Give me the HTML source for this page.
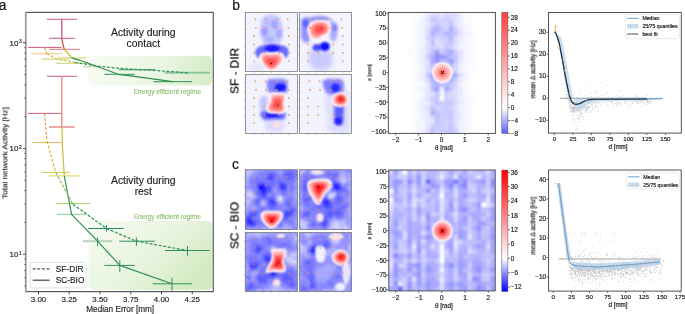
<!DOCTYPE html>
<html><head><meta charset="utf-8"><style>
html,body{margin:0;padding:0;background:#fff;}
body{width:685px;height:314px;overflow:hidden;}
svg{display:block;font-family:"Liberation Sans",sans-serif;}
text{filter:url(#tb);}
text.s{filter:url(#ts);}
</style></head><body>
<svg xmlns="http://www.w3.org/2000/svg" width="685" height="314" viewBox="0 0 685 314">
<defs><filter id="tb" x="-20%" y="-50%" width="140%" height="200%"><feGaussianBlur stdDeviation="0.25"/></filter><filter id="ts" x="-20%" y="-50%" width="140%" height="200%"><feGaussianBlur stdDeviation="0.12"/></filter></defs>
<defs>
<linearGradient id="gbox1" x1="0" y1="0" x2="1" y2="0"><stop offset="0" stop-color="#f7fbf3"/><stop offset="0.6" stop-color="#eaf5e2"/><stop offset="1" stop-color="#d6ecc6"/></linearGradient>
<linearGradient id="gbox2" x1="0" y1="0" x2="1" y2="0.6"><stop offset="0" stop-color="#f6fbf2"/><stop offset="0.6" stop-color="#e8f4df"/><stop offset="1" stop-color="#d4eac2"/></linearGradient>
<filter id="b0_5" x="-50%" y="-50%" width="200%" height="200%"><feGaussianBlur stdDeviation="0.5"/></filter>
<filter id="b0_6" x="-50%" y="-50%" width="200%" height="200%"><feGaussianBlur stdDeviation="0.6"/></filter>
<filter id="b0_8" x="-50%" y="-50%" width="200%" height="200%"><feGaussianBlur stdDeviation="0.8"/></filter>
<filter id="b1" x="-50%" y="-50%" width="200%" height="200%"><feGaussianBlur stdDeviation="1"/></filter>
<filter id="b1_2" x="-50%" y="-50%" width="200%" height="200%"><feGaussianBlur stdDeviation="1.2"/></filter>
<filter id="b1_3" x="-50%" y="-50%" width="200%" height="200%"><feGaussianBlur stdDeviation="1.3"/></filter>
<filter id="b1_5" x="-50%" y="-50%" width="200%" height="200%"><feGaussianBlur stdDeviation="1.5"/></filter>
<filter id="b1_8" x="-50%" y="-50%" width="200%" height="200%"><feGaussianBlur stdDeviation="1.8"/></filter>
<filter id="b2" x="-50%" y="-50%" width="200%" height="200%"><feGaussianBlur stdDeviation="2"/></filter>
<filter id="b2_5" x="-50%" y="-50%" width="200%" height="200%"><feGaussianBlur stdDeviation="2.5"/></filter>
<filter id="b3" x="-50%" y="-50%" width="200%" height="200%"><feGaussianBlur stdDeviation="3"/></filter>
<filter id="b4" x="-50%" y="-50%" width="200%" height="200%"><feGaussianBlur stdDeviation="4"/></filter>
<filter id="b6" x="-50%" y="-50%" width="200%" height="200%"><feGaussianBlur stdDeviation="6"/></filter>
<linearGradient id="cbar1" x1="0" y1="1" x2="0" y2="0"><stop offset="0" stop-color="#5d5dff"/><stop offset="0.211" stop-color="#ffffff"/><stop offset="1" stop-color="#ff3f3f"/></linearGradient>
<linearGradient id="cbar2" x1="0" y1="1" x2="0" y2="0"><stop offset="0" stop-color="#0000ff"/><stop offset="0.275" stop-color="#ffffff"/><stop offset="1" stop-color="#ff0000"/></linearGradient>
<radialGradient id="redblob"><stop offset="0" stop-color="#ff3434"/><stop offset="0.15" stop-color="#ff6262"/><stop offset="0.4" stop-color="#ff9c9c"/><stop offset="0.7" stop-color="#ffc8c8"/><stop offset="0.9" stop-color="#ffeaea"/><stop offset="1" stop-color="#ffffff" stop-opacity="0"/></radialGradient>
<radialGradient id="redblob2"><stop offset="0" stop-color="#ff0c0c"/><stop offset="0.2" stop-color="#ff3434"/><stop offset="0.45" stop-color="#ff7474"/><stop offset="0.7" stop-color="#ffb2b2"/><stop offset="0.88" stop-color="#ffe2e2"/><stop offset="1" stop-color="#ffffff" stop-opacity="0"/></radialGradient>
</defs>
<rect width="685" height="314" fill="#fff"/>
<text x="-1.30" y="9.90" font-size="13.8" text-anchor="start" fill="#111" stroke="#111" stroke-width="0.15" >a</text>
<rect x="88.3" y="55.8" width="123.7" height="29.7" rx="5" fill="url(#gbox1)"/>
<rect x="88.5" y="220.8" width="123.9" height="69.2" rx="5" fill="url(#gbox2)"/>
<text class="s" x="167.30" y="94.20" font-size="6.58" text-anchor="middle" fill="#8fc373" stroke="#8fc373" stroke-width="0.15" >Energy efficient regime</text>
<text class="s" x="167.30" y="218.90" font-size="6.58" text-anchor="middle" fill="#8fc373" stroke="#8fc373" stroke-width="0.15" >Energy efficient regime</text>
<text x="143.30" y="35.80" font-size="10.4" text-anchor="middle" fill="#222" stroke="#222" stroke-width="0.15" >Activity during</text>
<text x="143.30" y="46.90" font-size="10.4" text-anchor="middle" fill="#222" stroke="#222" stroke-width="0.15" >contact</text>
<text x="143.30" y="183.80" font-size="10.4" text-anchor="middle" fill="#222" stroke="#222" stroke-width="0.15" >Activity during</text>
<text x="143.30" y="195.10" font-size="10.4" text-anchor="middle" fill="#222" stroke="#222" stroke-width="0.15" >rest</text>
<line x1="47.00" y1="19.30" x2="77.00" y2="19.30" stroke="#d2587a" stroke-width="1" />
<line x1="49.00" y1="38.30" x2="74.80" y2="38.30" stroke="#d2587a" stroke-width="1" />
<line x1="28.00" y1="47.40" x2="61.40" y2="47.40" stroke="#d2587a" stroke-width="1" />
<line x1="49.00" y1="49.30" x2="79.90" y2="49.30" stroke="#e27a7a" stroke-width="1" />
<line x1="31.50" y1="53.60" x2="62.70" y2="53.60" stroke="#f3d6a6" stroke-width="1.5" />
<line x1="57.00" y1="57.80" x2="86.50" y2="57.80" stroke="#e8e5a8" stroke-width="2" />
<line x1="41.70" y1="59.10" x2="69.70" y2="59.10" stroke="#dcd890" stroke-width="1.3" />
<line x1="56.00" y1="63.30" x2="88.80" y2="63.30" stroke="#c6d66e" stroke-width="1" />
<line x1="83.00" y1="66.70" x2="100.00" y2="66.70" stroke="#c6e2b0" stroke-width="1.5" />
<line x1="118.90" y1="69.80" x2="155.20" y2="69.80" stroke="#2f8f5a" stroke-width="1" />
<line x1="164.80" y1="72.80" x2="210.00" y2="72.80" stroke="#8ec7a2" stroke-width="2" />
<line x1="104.20" y1="74.30" x2="134.80" y2="74.30" stroke="#2f8f5a" stroke-width="1" />
<line x1="153.40" y1="81.70" x2="192.20" y2="81.70" stroke="#2f8f5a" stroke-width="1" />
<line x1="47.00" y1="76.30" x2="77.00" y2="76.30" stroke="#d2587a" stroke-width="1" />
<line x1="28.00" y1="113.40" x2="62.00" y2="113.40" stroke="#d2587a" stroke-width="1" />
<line x1="49.00" y1="127.00" x2="74.80" y2="127.00" stroke="#efaaaa" stroke-width="2" />
<line x1="31.50" y1="142.50" x2="62.00" y2="142.50" stroke="#efb563" stroke-width="1" />
<line x1="41.70" y1="172.40" x2="69.70" y2="172.40" stroke="#d3c44c" stroke-width="1" />
<line x1="49.00" y1="175.80" x2="79.90" y2="175.80" stroke="#ebe7aa" stroke-width="2" />
<line x1="56.00" y1="203.60" x2="90.00" y2="203.60" stroke="#a6cf6c" stroke-width="1" />
<line x1="57.00" y1="214.40" x2="86.20" y2="214.40" stroke="#a4d6ac" stroke-width="1.3" />
<line x1="88.00" y1="228.50" x2="123.70" y2="228.50" stroke="#2f8f5a" stroke-width="1" />
<line x1="83.00" y1="241.20" x2="112.20" y2="241.20" stroke="#b4d4bc" stroke-width="2" />
<line x1="119.20" y1="241.20" x2="154.80" y2="241.20" stroke="#2f8f5a" stroke-width="1" />
<line x1="165.00" y1="250.50" x2="209.70" y2="250.50" stroke="#2f8f5a" stroke-width="1" />
<line x1="104.30" y1="265.40" x2="134.90" y2="265.40" stroke="#2f8f5a" stroke-width="1" />
<line x1="152.80" y1="283.80" x2="192.20" y2="283.80" stroke="#2f8f5a" stroke-width="1" />
<line x1="61.80" y1="19.30" x2="61.80" y2="38.30" stroke="#d04f6a" stroke-width="1.3" />
<line x1="61.80" y1="76.30" x2="61.80" y2="127.00" stroke="#ea9a96" stroke-width="1.6" />
<line x1="106.50" y1="225.30" x2="106.50" y2="231.70" stroke="#2f8f5a" stroke-width="1" />
<line x1="97.60" y1="237.40" x2="97.60" y2="246.30" stroke="#2f8f5a" stroke-width="1" />
<line x1="136.40" y1="237.50" x2="136.40" y2="246.00" stroke="#2f8f5a" stroke-width="1" />
<line x1="187.50" y1="246.10" x2="187.50" y2="255.80" stroke="#2f8f5a" stroke-width="1" />
<line x1="119.80" y1="260.10" x2="119.80" y2="272.10" stroke="#2f8f5a" stroke-width="1" />
<line x1="172.00" y1="277.70" x2="172.00" y2="290.80" stroke="#2f8f5a" stroke-width="1" />
<polyline points="61.80,38.30 62.60,43.00 64.30,49.30" fill="none" stroke="#d04848" stroke-width="1.2" stroke-linejoin="round" />
<polyline points="64.30,49.30 68.00,53.50 71.60,57.80" fill="none" stroke="#c8b820" stroke-width="1.2" stroke-linejoin="round" />
<polyline points="71.60,57.80 80.00,60.30 100.00,67.50 118.20,74.30 140.00,77.20 172.50,81.70" fill="none" stroke="#2e9050" stroke-width="1.2" stroke-linejoin="round" />
<polyline points="44.50,47.40 45.60,50.50 46.80,53.40" fill="none" stroke="#e0a040" stroke-width="1.2" stroke-linejoin="round" stroke-dasharray="3,1.6"/>
<polyline points="46.80,53.40 57.00,59.40 75.00,62.50" fill="none" stroke="#c8c030" stroke-width="1.2" stroke-linejoin="round" stroke-dasharray="3,1.6"/>
<polyline points="75.00,62.50 97.80,66.00 122.00,68.60 155.20,70.50 187.80,72.80" fill="none" stroke="#2e9050" stroke-width="1.2" stroke-linejoin="round" stroke-dasharray="3,1.6"/>
<polyline points="62.00,127.00 62.40,145.00 64.30,176.00" fill="none" stroke="#c8c030" stroke-width="1.2" stroke-linejoin="round" />
<polyline points="64.30,176.00 71.60,214.40 97.60,241.20 119.80,265.40 172.00,283.80" fill="none" stroke="#2e9050" stroke-width="1.2" stroke-linejoin="round" />
<polyline points="44.50,113.40 47.00,141.20" fill="none" stroke="#e0a040" stroke-width="1.2" stroke-linejoin="round" stroke-dasharray="3,1.6"/>
<polyline points="47.00,141.20 55.70,172.40" fill="none" stroke="#c8c030" stroke-width="1.2" stroke-linejoin="round" stroke-dasharray="3,1.6"/>
<polyline points="55.70,172.40 72.90,204.20" fill="none" stroke="#88c050" stroke-width="1.2" stroke-linejoin="round" stroke-dasharray="3,1.6"/>
<polyline points="72.90,204.20 106.50,228.50 136.40,241.20 187.50,250.50" fill="none" stroke="#2e9050" stroke-width="1.2" stroke-linejoin="round" stroke-dasharray="3,1.6"/>
<rect x="25.7" y="12.3" width="187.5" height="279.4" fill="none" stroke="#222" stroke-width="0.9"/>
<line x1="25.70" y1="12.00" x2="25.70" y2="292.20" stroke="#999" stroke-width="1.6" />
<line x1="23.00" y1="254.20" x2="25.70" y2="254.20" stroke="#222" stroke-width="0.8" />
<line x1="23.00" y1="148.50" x2="25.70" y2="148.50" stroke="#222" stroke-width="0.8" />
<line x1="23.00" y1="42.80" x2="25.70" y2="42.80" stroke="#222" stroke-width="0.8" />
<line x1="24.20" y1="286.02" x2="25.70" y2="286.02" stroke="#222" stroke-width="0.6" />
<line x1="24.20" y1="277.65" x2="25.70" y2="277.65" stroke="#222" stroke-width="0.6" />
<line x1="24.20" y1="270.57" x2="25.70" y2="270.57" stroke="#222" stroke-width="0.6" />
<line x1="24.20" y1="264.44" x2="25.70" y2="264.44" stroke="#222" stroke-width="0.6" />
<line x1="24.20" y1="259.04" x2="25.70" y2="259.04" stroke="#222" stroke-width="0.6" />
<line x1="24.20" y1="222.38" x2="25.70" y2="222.38" stroke="#222" stroke-width="0.6" />
<line x1="24.20" y1="203.77" x2="25.70" y2="203.77" stroke="#222" stroke-width="0.6" />
<line x1="24.20" y1="190.56" x2="25.70" y2="190.56" stroke="#222" stroke-width="0.6" />
<line x1="24.20" y1="180.32" x2="25.70" y2="180.32" stroke="#222" stroke-width="0.6" />
<line x1="24.20" y1="171.95" x2="25.70" y2="171.95" stroke="#222" stroke-width="0.6" />
<line x1="24.20" y1="164.87" x2="25.70" y2="164.87" stroke="#222" stroke-width="0.6" />
<line x1="24.20" y1="158.74" x2="25.70" y2="158.74" stroke="#222" stroke-width="0.6" />
<line x1="24.20" y1="153.34" x2="25.70" y2="153.34" stroke="#222" stroke-width="0.6" />
<line x1="24.20" y1="116.68" x2="25.70" y2="116.68" stroke="#222" stroke-width="0.6" />
<line x1="24.20" y1="98.07" x2="25.70" y2="98.07" stroke="#222" stroke-width="0.6" />
<line x1="24.20" y1="84.86" x2="25.70" y2="84.86" stroke="#222" stroke-width="0.6" />
<line x1="24.20" y1="74.62" x2="25.70" y2="74.62" stroke="#222" stroke-width="0.6" />
<line x1="24.20" y1="66.25" x2="25.70" y2="66.25" stroke="#222" stroke-width="0.6" />
<line x1="24.20" y1="59.17" x2="25.70" y2="59.17" stroke="#222" stroke-width="0.6" />
<line x1="24.20" y1="53.04" x2="25.70" y2="53.04" stroke="#222" stroke-width="0.6" />
<line x1="24.20" y1="47.64" x2="25.70" y2="47.64" stroke="#222" stroke-width="0.6" />
<text x="18.30" y="45.70" font-size="7.9" text-anchor="end" fill="#222" stroke="#222" stroke-width="0.15" >10</text>
<text class="s" x="18.90" y="43.10" font-size="5.0" text-anchor="start" fill="#222" stroke="#222" stroke-width="0.15" >3</text>
<text x="18.30" y="151.40" font-size="7.9" text-anchor="end" fill="#222" stroke="#222" stroke-width="0.15" >10</text>
<text class="s" x="18.90" y="148.80" font-size="5.0" text-anchor="start" fill="#222" stroke="#222" stroke-width="0.15" >2</text>
<text x="18.30" y="257.10" font-size="7.9" text-anchor="end" fill="#222" stroke="#222" stroke-width="0.15" >10</text>
<text class="s" x="18.90" y="254.50" font-size="5.0" text-anchor="start" fill="#222" stroke="#222" stroke-width="0.15" >1</text>
<line x1="38.50" y1="291.70" x2="38.50" y2="294.40" stroke="#222" stroke-width="0.8" />
<text x="38.50" y="302.10" font-size="7.9" text-anchor="middle" fill="#222" stroke="#222" stroke-width="0.15" >3.00</text>
<line x1="69.25" y1="291.70" x2="69.25" y2="294.40" stroke="#222" stroke-width="0.8" />
<text x="69.25" y="302.10" font-size="7.9" text-anchor="middle" fill="#222" stroke="#222" stroke-width="0.15" >3.25</text>
<line x1="100.00" y1="291.70" x2="100.00" y2="294.40" stroke="#222" stroke-width="0.8" />
<text x="100.00" y="302.10" font-size="7.9" text-anchor="middle" fill="#222" stroke="#222" stroke-width="0.15" >3.50</text>
<line x1="130.75" y1="291.70" x2="130.75" y2="294.40" stroke="#222" stroke-width="0.8" />
<text x="130.75" y="302.10" font-size="7.9" text-anchor="middle" fill="#222" stroke="#222" stroke-width="0.15" >3.75</text>
<line x1="161.50" y1="291.70" x2="161.50" y2="294.40" stroke="#222" stroke-width="0.8" />
<text x="161.50" y="302.10" font-size="7.9" text-anchor="middle" fill="#222" stroke="#222" stroke-width="0.15" >4.00</text>
<line x1="192.25" y1="291.70" x2="192.25" y2="294.40" stroke="#222" stroke-width="0.8" />
<text x="192.25" y="302.10" font-size="7.9" text-anchor="middle" fill="#222" stroke="#222" stroke-width="0.15" >4.25</text>
<text x="120.20" y="312.00" font-size="8.2" text-anchor="middle" fill="#222" stroke="#222" stroke-width="0.15" >Median Error [mm]</text>
<text x="0" y="0" font-size="8.1" text-anchor="middle" fill="#222" stroke="#222" stroke-width="0.15" transform="translate(7.4,153.1) rotate(-90)">Total network Activity [Hz]</text>
<rect x="30.2" y="262.4" width="56" height="25.5" rx="2" fill="#fff" fill-opacity="0.85" stroke="#d8d8d8" stroke-width="0.8"/>
<line x1="32.70" y1="268.80" x2="49.60" y2="268.80" stroke="#555" stroke-width="1.2" stroke-dasharray="3,1.6"/>
<line x1="32.70" y1="280.20" x2="49.60" y2="280.20" stroke="#444" stroke-width="1.2" />
<text x="55.80" y="272.10" font-size="8.3" text-anchor="start" fill="#222" stroke="#222" stroke-width="0.15" >SF-DIR</text>
<text x="55.80" y="283.10" font-size="8.3" text-anchor="start" fill="#222" stroke="#222" stroke-width="0.15" >SC-BIO</text>
<text x="232.30" y="9.90" font-size="13.8" text-anchor="start" fill="#111" stroke="#111" stroke-width="0.15" >b</text>
<text x="231.90" y="168.60" font-size="13.8" text-anchor="start" fill="#111" stroke="#111" stroke-width="0.15" >c</text>
<text class="s" font-size="11.8" text-anchor="middle" fill="#111" stroke="#111" stroke-width="0.3" transform="translate(238.4,70.9) rotate(-90)">SF - DIR</text>
<text class="s" font-size="11.8" text-anchor="middle" fill="#111" stroke="#111" stroke-width="0.3" transform="translate(238.4,225.5) rotate(-90)">SC - BIO</text>
<clipPath id="tc1"><rect x="0" y="0" width="52" height="59"/></clipPath>
<g transform="translate(245.5,12.5)"><g clip-path="url(#tc1)">
<rect width="52" height="59" fill="#f3f3ff"/>
<path d="M17.00,5.00 C18.50,3.33 21.33,2.17 24.00,2.00 C26.67,1.83 30.83,2.00 33.00,4.00 C35.17,6.00 36.50,10.00 37.00,14.00 C37.50,18.00 37.17,24.83 36.00,28.00 C34.83,31.17 32.67,32.17 30.00,33.00 C27.33,33.83 22.50,34.50 20.00,33.00 C17.50,31.50 15.83,27.50 15.00,24.00 C14.17,20.50 14.67,15.17 15.00,12.00 C15.33,8.83 15.50,6.67 17.00,5.00Z" fill="#c8c8ff" filter="url(#b1_5)"/>
<ellipse cx="19.1" cy="19.1" rx="3.5" ry="4.5" fill="#9e9eff" fill-opacity="1" filter="url(#b1_2)"/>
<ellipse cx="28.7" cy="11.5" rx="3.5" ry="4.5" fill="#a4a4ff" fill-opacity="1" filter="url(#b1_2)"/>
<ellipse cx="33.5" cy="21" rx="3" ry="4.5" fill="#a8a8ff" fill-opacity="1" filter="url(#b1_2)"/>
<ellipse cx="24" cy="27" rx="4.5" ry="3.5" fill="#b0b0ff" fill-opacity="1" filter="url(#b1_2)"/>
<ellipse cx="22" cy="10" rx="3" ry="3" fill="#b8b8ff" fill-opacity="1" filter="url(#b1_2)"/>
<ellipse cx="12" cy="54" rx="9" ry="4" fill="#e3e3ff" fill-opacity="1" filter="url(#b2)"/>
<path d="M10.00,38.00 C10.50,36.33 12.33,34.92 14.00,34.00 C15.67,33.08 17.83,32.83 20.00,32.50 C22.17,32.17 24.67,32.00 27.00,32.00 C29.33,32.00 31.83,32.17 34.00,32.50 C36.17,32.83 38.50,33.08 40.00,34.00 C41.50,34.92 42.67,36.33 43.00,38.00 C43.33,39.67 42.67,42.83 42.00,44.00 C41.33,45.17 40.00,45.50 39.00,45.00 C38.00,44.50 38.00,41.83 36.00,41.00 C34.00,40.17 30.00,40.00 27.00,40.00 C24.00,40.00 20.00,40.17 18.00,41.00 C16.00,41.83 16.17,44.50 15.00,45.00 C13.83,45.50 11.83,45.17 11.00,44.00 C10.17,42.83 9.50,39.67 10.00,38.00Z" fill="#6a6aff" filter="url(#b1_3)"/>
<ellipse cx="26.8" cy="35.9" rx="7.6" ry="3.5" fill="#1414ff" fill-opacity="1" filter="url(#b1)"/>
<path d="M14.52,42.22 C15.36,41.21 17.20,40.38 19.12,40.15 C21.03,39.92 23.72,40.88 26.02,40.84 C28.32,40.80 30.90,39.60 32.92,39.92 C34.93,40.25 37.23,41.55 38.09,42.80 C38.95,44.04 38.76,45.58 38.09,47.40 C37.42,49.22 35.50,52.00 34.07,53.72 C32.63,55.45 30.81,56.92 29.47,57.75 C28.13,58.57 27.36,58.86 26.02,58.67 C24.68,58.47 22.95,57.71 21.42,56.60 C19.88,55.48 18.04,53.72 16.82,52.00 C15.59,50.27 14.44,47.88 14.06,46.25 C13.67,44.62 13.67,43.24 14.52,42.22Z" fill="#fbfbff" filter="url(#b1)"/>
<path d="M16.00,43.00 C16.73,42.12 18.33,41.40 20.00,41.20 C21.67,41.00 24.00,41.83 26.00,41.80 C28.00,41.77 30.25,40.72 32.00,41.00 C33.75,41.28 35.75,42.42 36.50,43.50 C37.25,44.58 37.08,45.92 36.50,47.50 C35.92,49.08 34.25,51.50 33.00,53.00 C31.75,54.50 30.17,55.78 29.00,56.50 C27.83,57.22 27.17,57.47 26.00,57.30 C24.83,57.13 23.33,56.47 22.00,55.50 C20.67,54.53 19.07,53.00 18.00,51.50 C16.93,50.00 15.93,47.92 15.60,46.50 C15.27,45.08 15.27,43.88 16.00,43.00Z" fill="#ffdada" filter="url(#b0_8)"/>
<path d="M16.98,43.72 C17.64,42.92 19.08,42.28 20.58,42.10 C22.08,41.92 24.18,42.67 25.98,42.64 C27.78,42.61 29.81,41.66 31.38,41.92 C32.96,42.17 34.76,43.19 35.43,44.17 C36.11,45.14 35.96,46.34 35.43,47.77 C34.91,49.19 33.41,51.37 32.28,52.72 C31.16,54.07 29.73,55.22 28.68,55.87 C27.63,56.51 27.03,56.74 25.98,56.59 C24.93,56.44 23.58,55.84 22.38,54.97 C21.18,54.10 19.74,52.72 18.78,51.37 C17.82,50.02 16.92,48.14 16.62,46.87 C16.32,45.59 16.32,44.51 16.98,43.72Z" fill="#ffacac" filter="url(#b1)"/>
<path d="M18.55,44.86 C19.10,44.21 20.28,43.68 21.51,43.53 C22.75,43.38 24.47,44.00 25.95,43.97 C27.43,43.95 29.10,43.17 30.39,43.38 C31.69,43.59 33.17,44.43 33.72,45.23 C34.28,46.03 34.16,47.02 33.72,48.19 C33.29,49.36 32.06,51.15 31.13,52.26 C30.21,53.37 29.04,54.32 28.17,54.85 C27.31,55.38 26.82,55.57 25.95,55.44 C25.09,55.32 23.98,54.83 22.99,54.11 C22.01,53.40 20.82,52.26 20.03,51.15 C19.25,50.04 18.51,48.50 18.26,47.45 C18.01,46.40 18.01,45.51 18.55,44.86Z" fill="#ff8282" filter="url(#b1)"/>
<path d="M20.72,46.44 C21.10,45.98 21.93,45.60 22.80,45.50 C23.66,45.40 24.88,45.83 25.92,45.81 C26.96,45.79 28.13,45.25 29.04,45.40 C29.95,45.54 30.99,46.13 31.38,46.70 C31.77,47.26 31.68,47.95 31.38,48.78 C31.07,49.60 30.21,50.86 29.56,51.64 C28.91,52.42 28.08,53.08 27.48,53.46 C26.87,53.83 26.52,53.96 25.92,53.87 C25.31,53.78 24.53,53.44 23.84,52.94 C23.14,52.43 22.31,51.64 21.76,50.86 C21.20,50.08 20.68,48.99 20.51,48.26 C20.33,47.52 20.33,46.89 20.72,46.44Z" fill="#ff5e5e" filter="url(#b1)"/>
<path d="M22.88,48.01 C23.10,47.75 23.58,47.53 24.08,47.47 C24.58,47.41 25.28,47.66 25.88,47.65 C26.48,47.64 27.15,47.33 27.68,47.41 C28.20,47.50 28.80,47.84 29.03,48.16 C29.25,48.49 29.20,48.89 29.03,49.36 C28.85,49.84 28.35,50.56 27.98,51.01 C27.60,51.46 27.13,51.85 26.78,52.06 C26.43,52.28 26.23,52.35 25.88,52.30 C25.53,52.25 25.08,52.05 24.68,51.76 C24.28,51.47 23.80,51.01 23.48,50.56 C23.16,50.11 22.86,49.49 22.76,49.06 C22.66,48.64 22.66,48.28 22.88,48.01Z" fill="#ff4242" filter="url(#b1)"/>
<circle cx="25.8" cy="51" r="0.75" fill="#111"/>
<path d="M9.1,6.1h1.6v1.6h-1.6zM19.4,6.1h1.6v1.6h-1.6zM31.0,6.1h1.6v1.6h-1.6zM41.3,6.1h1.6v1.6h-1.6zM9.7,14.6h1.6v1.6h-1.6zM19.8,14.6h1.6v1.6h-1.6zM30.6,14.6h1.6v1.6h-1.6zM42.0,14.6h1.6v1.6h-1.6zM7.9,22.8h1.6v1.6h-1.6zM42.5,22.8h1.6v1.6h-1.6zM7.9,31.2h1.6v1.6h-1.6zM18.0,31.2h1.6v1.6h-1.6zM32.9,31.2h1.6v1.6h-1.6zM42.5,31.2h1.6v1.6h-1.6zM7.9,39.6h1.6v1.6h-1.6zM18.0,39.6h1.6v1.6h-1.6zM32.9,39.6h1.6v1.6h-1.6zM42.5,39.6h1.6v1.6h-1.6zM7.9,48.0h1.6v1.6h-1.6zM42.5,48.0h1.6v1.6h-1.6z" fill="#f2904a" fill-opacity="0.85"/>
</g>
<rect x="0" y="0" width="52" height="59" fill="none" stroke="#7a7a7a" stroke-width="0.8"/>
<path d="M8.7,59v1.3M0,8.4h-1.3M17.3,59v1.3M0,16.9h-1.3M26.0,59v1.3M0,25.3h-1.3M34.7,59v1.3M0,33.7h-1.3M43.3,59v1.3M0,42.1h-1.3" stroke="#777" stroke-width="0.5"/>
</g>
<clipPath id="tc2"><rect x="0" y="0" width="52" height="59"/></clipPath>
<g transform="translate(299.5,12.5)"><g clip-path="url(#tc2)">
<rect width="52" height="59" fill="#f3f3ff"/>
<path d="M11.00,38.00 C12.83,36.50 16.83,37.00 20.00,37.00 C23.17,37.00 27.83,36.50 30.00,38.00 C32.17,39.50 33.00,43.00 33.00,46.00 C33.00,49.00 32.17,54.00 30.00,56.00 C27.83,58.00 23.00,58.17 20.00,58.00 C17.00,57.83 13.83,57.00 12.00,55.00 C10.17,53.00 9.17,48.83 9.00,46.00 C8.83,43.17 9.17,39.50 11.00,38.00Z" fill="#cacaff" filter="url(#b2_5)"/>
<path d="M2.00,7.00 C3.25,5.17 7.67,3.50 9.00,5.00 C10.33,6.50 9.83,12.17 10.00,16.00 C10.17,19.83 10.67,25.67 10.00,28.00 C9.33,30.33 7.33,30.33 6.00,30.00 C4.67,29.67 2.75,28.33 2.00,26.00 C1.25,23.67 1.50,19.17 1.50,16.00 C1.50,12.83 0.75,8.83 2.00,7.00Z" fill="#8f8fff" filter="url(#b1_5)"/>
<ellipse cx="6.5" cy="11" rx="3" ry="4" fill="#6060ff" fill-opacity="1" filter="url(#b1_2)"/>
<path d="M9.00,6.00 C10.33,4.92 14.83,3.75 18.00,3.50 C21.17,3.25 26.00,3.75 28.00,4.50 C30.00,5.25 31.33,7.25 30.00,8.00 C28.67,8.75 23.33,8.67 20.00,9.00 C16.67,9.33 11.83,10.50 10.00,10.00 C8.17,9.50 7.67,7.08 9.00,6.00Z" fill="#8f8fff" filter="url(#b1_5)"/>
<path d="M30.00,10.00 C30.83,7.83 33.67,8.33 35.00,9.00 C36.33,9.67 37.67,11.17 38.00,14.00 C38.33,16.83 37.83,23.50 37.00,26.00 C36.17,28.50 34.17,29.67 33.00,29.00 C31.83,28.33 30.50,25.17 30.00,22.00 C29.50,18.83 29.17,12.17 30.00,10.00Z" fill="#a8a8ff" filter="url(#b1_5)"/>
<ellipse cx="35" cy="15.5" rx="2.5" ry="3" fill="#8181ff" fill-opacity="1" filter="url(#b1_2)"/>
<ellipse cx="17.5" cy="34.9" rx="4.5" ry="3.5" fill="#4c4cff" fill-opacity="1" filter="url(#b1_2)"/>
<ellipse cx="25.3" cy="33.9" rx="5" ry="4.5" fill="#0e0eff" fill-opacity="1" filter="url(#b1_2)"/>
<path d="M8.55,14.37 C9.47,12.36 11.67,9.94 14.07,8.85 C16.46,7.76 20.35,7.62 22.92,7.81 C25.49,8.01 28.02,8.72 29.48,10.00 C30.93,11.28 31.66,13.70 31.66,15.52 C31.66,17.34 30.93,19.47 29.48,20.92 C28.02,22.38 24.93,23.15 22.92,24.26 C20.91,25.37 19.24,27.23 17.40,27.59 C15.56,27.96 13.36,27.56 11.88,26.44 C10.41,25.33 9.10,22.94 8.55,20.92 C7.99,18.91 7.63,16.38 8.55,14.37Z" fill="#fbfbff" filter="url(#b1)"/>
<path d="M10.00,14.80 C10.80,13.05 12.72,10.95 14.80,10.00 C16.88,9.05 20.27,8.93 22.50,9.10 C24.73,9.27 26.93,9.88 28.20,11.00 C29.47,12.12 30.10,14.22 30.10,15.80 C30.10,17.38 29.47,19.23 28.20,20.50 C26.93,21.77 24.25,22.43 22.50,23.40 C20.75,24.37 19.30,25.98 17.70,26.30 C16.10,26.62 14.18,26.27 12.90,25.30 C11.62,24.33 10.48,22.25 10.00,20.50 C9.52,18.75 9.20,16.55 10.00,14.80Z" fill="#ffdada" filter="url(#b0_8)"/>
<path d="M11.06,14.96 C11.78,13.39 13.50,11.50 15.38,10.64 C17.25,9.79 20.30,9.68 22.31,9.83 C24.32,9.98 26.30,10.54 27.44,11.54 C28.58,12.55 29.15,14.44 29.15,15.86 C29.15,17.29 28.58,18.95 27.44,20.09 C26.30,21.23 23.88,21.83 22.31,22.70 C20.73,23.57 19.43,25.03 17.99,25.31 C16.55,25.60 14.82,25.28 13.67,24.41 C12.51,23.54 11.49,21.67 11.06,20.09 C10.62,18.52 10.34,16.54 11.06,14.96Z" fill="#ffacac" filter="url(#b1)"/>
<path d="M12.75,15.23 C13.35,13.93 14.77,12.38 16.31,11.67 C17.85,10.97 20.35,10.88 22.00,11.01 C23.66,11.13 25.29,11.59 26.22,12.41 C27.16,13.24 27.63,14.79 27.63,15.97 C27.63,17.14 27.16,18.51 26.22,19.44 C25.29,20.38 23.30,20.87 22.00,21.59 C20.71,22.30 19.64,23.50 18.45,23.74 C17.27,23.97 15.85,23.71 14.90,23.00 C13.95,22.28 13.11,20.74 12.75,19.44 C12.40,18.15 12.16,16.52 12.75,15.23Z" fill="#ff8282" filter="url(#b1)"/>
<path d="M15.09,15.58 C15.50,14.67 16.50,13.58 17.58,13.09 C18.66,12.59 20.42,12.53 21.59,12.62 C22.75,12.71 23.89,13.03 24.55,13.61 C25.21,14.19 25.54,15.28 25.54,16.10 C25.54,16.93 25.21,17.89 24.55,18.55 C23.89,19.21 22.50,19.55 21.59,20.06 C20.68,20.56 19.92,21.40 19.09,21.56 C18.26,21.73 17.26,21.55 16.59,21.04 C15.93,20.54 15.34,19.46 15.09,18.55 C14.83,17.64 14.67,16.49 15.09,15.58Z" fill="#ff5e5e" filter="url(#b1)"/>
<path d="M17.42,15.94 C17.66,15.42 18.23,14.79 18.86,14.50 C19.48,14.22 20.50,14.18 21.17,14.23 C21.84,14.28 22.50,14.47 22.88,14.80 C23.26,15.14 23.45,15.77 23.45,16.24 C23.45,16.72 23.26,17.27 22.88,17.65 C22.50,18.03 21.69,18.23 21.17,18.52 C20.64,18.81 20.21,19.30 19.73,19.39 C19.25,19.49 18.67,19.38 18.29,19.09 C17.90,18.80 17.56,18.18 17.42,17.65 C17.27,17.13 17.18,16.47 17.42,15.94Z" fill="#ff4242" filter="url(#b1)"/>
<circle cx="21.5" cy="15.2" r="0.75" fill="#111"/>
<path d="M9.1,6.1h1.6v1.6h-1.6zM19.4,6.1h1.6v1.6h-1.6zM31.0,6.1h1.6v1.6h-1.6zM41.3,6.1h1.6v1.6h-1.6zM9.7,14.6h1.6v1.6h-1.6zM19.8,14.6h1.6v1.6h-1.6zM30.6,14.6h1.6v1.6h-1.6zM42.0,14.6h1.6v1.6h-1.6zM7.9,22.8h1.6v1.6h-1.6zM42.5,22.8h1.6v1.6h-1.6zM7.9,31.2h1.6v1.6h-1.6zM18.0,31.2h1.6v1.6h-1.6zM32.9,31.2h1.6v1.6h-1.6zM42.5,31.2h1.6v1.6h-1.6zM7.9,39.6h1.6v1.6h-1.6zM18.0,39.6h1.6v1.6h-1.6zM32.9,39.6h1.6v1.6h-1.6zM42.5,39.6h1.6v1.6h-1.6zM7.9,48.0h1.6v1.6h-1.6zM42.5,48.0h1.6v1.6h-1.6z" fill="#f2904a" fill-opacity="0.85"/>
</g>
<rect x="0" y="0" width="52" height="59" fill="none" stroke="#7a7a7a" stroke-width="0.8"/>
<path d="M8.7,59v1.3M0,8.4h-1.3M17.3,59v1.3M0,16.9h-1.3M26.0,59v1.3M0,25.3h-1.3M34.7,59v1.3M0,33.7h-1.3M43.3,59v1.3M0,42.1h-1.3" stroke="#777" stroke-width="0.5"/>
</g>
<clipPath id="tc3"><rect x="0" y="0" width="52" height="59"/></clipPath>
<g transform="translate(245.5,74.5)"><g clip-path="url(#tc3)">
<rect width="52" height="59" fill="#f3f3ff"/>
<path d="M22.00,6.00 C23.17,3.92 27.00,4.67 30.00,4.50 C33.00,4.33 38.00,3.75 40.00,5.00 C42.00,6.25 42.00,9.67 42.00,12.00 C42.00,14.33 42.00,17.83 40.00,19.00 C38.00,20.17 32.83,19.33 30.00,19.00 C27.17,18.67 24.33,19.17 23.00,17.00 C21.67,14.83 20.83,8.08 22.00,6.00Z" fill="#8080ff" filter="url(#b1_5)"/>
<ellipse cx="34.9" cy="12.9" rx="5.5" ry="4" fill="#1414ff" fill-opacity="1" filter="url(#b1_2)"/>
<path d="M15.00,23.00 C16.33,21.67 20.67,20.50 22.00,22.00 C23.33,23.50 23.00,29.33 23.00,32.00 C23.00,34.67 23.17,37.17 22.00,38.00 C20.83,38.83 17.33,38.33 16.00,37.00 C14.67,35.67 14.17,32.33 14.00,30.00 C13.83,27.67 13.67,24.33 15.00,23.00Z" fill="#c7c7ff" filter="url(#b1_5)"/>
<path d="M15.00,38.00 C16.00,36.50 20.83,36.33 24.00,36.00 C27.17,35.67 31.33,35.50 34.00,36.00 C36.67,36.50 39.33,37.50 40.00,39.00 C40.67,40.50 40.00,43.67 38.00,45.00 C36.00,46.33 31.33,47.00 28.00,47.00 C24.67,47.00 20.17,46.50 18.00,45.00 C15.83,43.50 14.00,39.50 15.00,38.00Z" fill="#6464ff" filter="url(#b1_5)"/>
<ellipse cx="27.5" cy="40.6" rx="7.5" ry="3" fill="#1414ff" fill-opacity="1" filter="url(#b1_2)"/>
<path d="M22.00,46.00 C24.67,44.50 33.33,44.33 36.00,46.00 C38.67,47.67 39.33,54.00 38.00,56.00 C36.67,58.00 31.00,58.17 28.00,58.00 C25.00,57.83 21.00,57.00 20.00,55.00 C19.00,53.00 19.33,47.50 22.00,46.00Z" fill="#dadaff" filter="url(#b2)"/>
<ellipse cx="31.3" cy="50.2" rx="3.8" ry="3.2" fill="#fde0e0" fill-opacity="1" filter="url(#b1)"/>
<path d="M25.56,19.17 C27.03,17.89 30.88,18.14 33.26,18.14 C35.64,18.14 38.90,17.53 39.82,19.17 C40.74,20.82 38.78,25.46 38.78,28.03 C38.78,30.60 40.01,32.74 39.82,34.58 C39.62,36.42 39.28,38.32 37.63,39.07 C35.98,39.82 32.49,39.26 29.93,39.07 C27.36,38.88 23.68,39.03 22.22,37.92 C20.76,36.81 20.82,34.41 21.19,32.40 C21.55,30.39 23.68,28.05 24.41,25.84 C25.13,23.64 24.08,20.46 25.56,19.17Z" fill="#fbfbff" filter="url(#b1)"/>
<path d="M26.30,20.50 C27.58,19.38 30.93,19.60 33.00,19.60 C35.07,19.60 37.90,19.07 38.70,20.50 C39.50,21.93 37.80,25.97 37.80,28.20 C37.80,30.43 38.87,32.30 38.70,33.90 C38.53,35.50 38.23,37.15 36.80,37.80 C35.37,38.45 32.33,37.97 30.10,37.80 C27.87,37.63 24.67,37.77 23.40,36.80 C22.13,35.83 22.18,33.75 22.50,32.00 C22.82,30.25 24.67,28.22 25.30,26.30 C25.93,24.38 25.02,21.62 26.30,20.50Z" fill="#ffdada" filter="url(#b0_8)"/>
<path d="M26.88,21.49 C28.04,20.49 31.05,20.68 32.91,20.68 C34.77,20.68 37.32,20.20 38.04,21.49 C38.76,22.78 37.23,26.41 37.23,28.42 C37.23,30.43 38.19,32.11 38.04,33.55 C37.89,34.99 37.62,36.48 36.33,37.06 C35.04,37.65 32.31,37.21 30.30,37.06 C28.29,36.91 25.41,37.03 24.27,36.16 C23.13,35.29 23.18,33.42 23.46,31.84 C23.75,30.27 25.41,28.44 25.98,26.71 C26.55,24.99 25.73,22.50 26.88,21.49Z" fill="#ffacac" filter="url(#b1)"/>
<path d="M27.82,23.08 C28.77,22.25 31.24,22.41 32.77,22.41 C34.30,22.41 36.40,22.02 36.99,23.08 C37.58,24.14 36.33,27.12 36.33,28.78 C36.33,30.43 37.12,31.81 36.99,33.00 C36.87,34.18 36.65,35.40 35.59,35.88 C34.53,36.36 32.28,36.00 30.63,35.88 C28.98,35.76 26.61,35.86 25.67,35.14 C24.73,34.43 24.77,32.88 25.00,31.59 C25.24,30.29 26.61,28.79 27.08,27.37 C27.54,25.95 26.87,23.91 27.82,23.08Z" fill="#ff8282" filter="url(#b1)"/>
<path d="M29.10,25.26 C29.77,24.68 31.51,24.79 32.58,24.79 C33.66,24.79 35.13,24.52 35.55,25.26 C35.96,26.01 35.08,28.10 35.08,29.27 C35.08,30.43 35.63,31.40 35.55,32.23 C35.46,33.06 35.30,33.92 34.56,34.26 C33.81,34.60 32.24,34.34 31.07,34.26 C29.91,34.17 28.25,34.24 27.59,33.74 C26.93,33.23 26.96,32.15 27.12,31.24 C27.29,30.33 28.25,29.27 28.58,28.28 C28.91,27.28 28.43,25.84 29.10,25.26Z" fill="#ff5e5e" filter="url(#b1)"/>
<path d="M30.38,27.44 C30.77,27.11 31.77,27.17 32.39,27.17 C33.01,27.17 33.86,27.01 34.10,27.44 C34.34,27.87 33.83,29.08 33.83,29.75 C33.83,30.42 34.15,30.98 34.10,31.46 C34.05,31.94 33.96,32.44 33.53,32.63 C33.10,32.83 32.19,32.68 31.52,32.63 C30.85,32.58 29.89,32.62 29.51,32.33 C29.13,32.04 29.15,31.42 29.24,30.89 C29.34,30.37 29.89,29.76 30.08,29.18 C30.27,28.61 30.00,27.78 30.38,27.44Z" fill="#ff4242" filter="url(#b1)"/>
<circle cx="33" cy="31.5" r="0.75" fill="#111"/>
<path d="M9.1,6.1h1.6v1.6h-1.6zM19.4,6.1h1.6v1.6h-1.6zM31.0,6.1h1.6v1.6h-1.6zM41.3,6.1h1.6v1.6h-1.6zM9.7,14.6h1.6v1.6h-1.6zM19.8,14.6h1.6v1.6h-1.6zM30.6,14.6h1.6v1.6h-1.6zM42.0,14.6h1.6v1.6h-1.6zM7.9,22.8h1.6v1.6h-1.6zM42.5,22.8h1.6v1.6h-1.6zM7.9,31.2h1.6v1.6h-1.6zM18.0,31.2h1.6v1.6h-1.6zM32.9,31.2h1.6v1.6h-1.6zM42.5,31.2h1.6v1.6h-1.6zM7.9,39.6h1.6v1.6h-1.6zM18.0,39.6h1.6v1.6h-1.6zM32.9,39.6h1.6v1.6h-1.6zM42.5,39.6h1.6v1.6h-1.6zM7.9,48.0h1.6v1.6h-1.6zM42.5,48.0h1.6v1.6h-1.6z" fill="#f2904a" fill-opacity="0.85"/>
</g>
<rect x="0" y="0" width="52" height="59" fill="none" stroke="#7a7a7a" stroke-width="0.8"/>
<path d="M8.7,59v1.3M0,8.4h-1.3M17.3,59v1.3M0,16.9h-1.3M26.0,59v1.3M0,25.3h-1.3M34.7,59v1.3M0,33.7h-1.3M43.3,59v1.3M0,42.1h-1.3" stroke="#777" stroke-width="0.5"/>
</g>
<clipPath id="tc4"><rect x="0" y="0" width="52" height="59"/></clipPath>
<g transform="translate(299.5,74.5)"><g clip-path="url(#tc4)">
<rect width="52" height="59" fill="#f3f3ff"/>
<path d="M26.00,18.00 C28.17,13.83 36.00,14.67 40.00,15.00 C44.00,15.33 48.17,15.83 50.00,20.00 C51.83,24.17 51.17,33.67 51.00,40.00 C50.83,46.33 52.50,55.00 49.00,58.00 C45.50,61.00 33.67,61.00 30.00,58.00 C26.33,55.00 27.67,46.67 27.00,40.00 C26.33,33.33 23.83,22.17 26.00,18.00Z" fill="#dedeff" filter="url(#b2_5)"/>
<path d="M24.00,6.00 C25.50,4.67 29.83,4.00 33.00,4.00 C36.17,4.00 41.17,4.00 43.00,6.00 C44.83,8.00 44.83,13.67 44.00,16.00 C43.17,18.33 40.67,19.50 38.00,20.00 C35.33,20.50 30.33,20.33 28.00,19.00 C25.67,17.67 24.67,14.17 24.00,12.00 C23.33,9.83 22.50,7.33 24.00,6.00Z" fill="#8080ff" filter="url(#b1_5)"/>
<ellipse cx="35.9" cy="13.4" rx="4.5" ry="4.5" fill="#2a2aff" fill-opacity="1" filter="url(#b1_2)"/>
<path d="M35.50,31.00 C36.92,29.17 42.08,29.17 43.50,31.00 C44.92,32.83 44.08,38.83 44.00,42.00 C43.92,45.17 44.33,48.67 43.00,50.00 C41.67,51.33 37.33,51.33 36.00,50.00 C34.67,48.67 35.08,45.17 35.00,42.00 C34.92,38.83 34.08,32.83 35.50,31.00Z" fill="#5c5cff" filter="url(#b1_5)"/>
<ellipse cx="38.7" cy="46.4" rx="3.5" ry="3.5" fill="#2121ff" fill-opacity="1" filter="url(#b1_2)"/>
<ellipse cx="35" cy="3" rx="2.5" ry="1.8" fill="#f8d8dc" fill-opacity="1" filter="url(#b1)"/>
<path d="M32.87,22.06 C33.62,20.41 35.33,19.28 37.36,18.72 C39.39,18.16 43.24,17.99 45.06,18.72 C46.88,19.45 47.75,21.44 48.28,23.09 C48.82,24.74 49.01,27.13 48.28,28.61 C47.55,30.09 45.73,31.39 43.91,31.95 C42.09,32.50 39.20,32.50 37.36,31.95 C35.52,31.39 33.62,30.26 32.87,28.61 C32.12,26.96 32.12,23.70 32.87,22.06Z" fill="#fbfbff" filter="url(#b1)"/>
<path d="M33.90,22.50 C34.55,21.07 36.03,20.08 37.80,19.60 C39.57,19.12 42.92,18.97 44.50,19.60 C46.08,20.23 46.83,21.97 47.30,23.40 C47.77,24.83 47.93,26.92 47.30,28.20 C46.67,29.48 45.08,30.62 43.50,31.10 C41.92,31.58 39.40,31.58 37.80,31.10 C36.20,30.62 34.55,29.63 33.90,28.20 C33.25,26.77 33.25,23.93 33.90,22.50Z" fill="#ffdada" filter="url(#b0_8)"/>
<path d="M35.05,22.77 C35.61,21.54 36.89,20.69 38.41,20.28 C39.92,19.86 42.81,19.73 44.17,20.28 C45.53,20.82 46.17,22.31 46.58,23.54 C46.98,24.78 47.12,26.57 46.58,27.67 C46.03,28.78 44.67,29.75 43.31,30.17 C41.95,30.58 39.78,30.58 38.41,30.17 C37.03,29.75 35.61,28.91 35.05,27.67 C34.49,26.44 34.49,24.00 35.05,22.77Z" fill="#ffb0b0" filter="url(#b1)"/>
<path d="M36.53,23.12 C36.97,22.14 37.98,21.47 39.18,21.15 C40.39,20.82 42.66,20.72 43.74,21.15 C44.82,21.58 45.33,22.76 45.64,23.73 C45.96,24.70 46.07,26.12 45.64,26.99 C45.21,27.87 44.14,28.64 43.06,28.97 C41.98,29.29 40.27,29.29 39.18,28.97 C38.10,28.64 36.97,27.97 36.53,26.99 C36.09,26.02 36.09,24.09 36.53,23.12Z" fill="#ff7474" filter="url(#b1)"/>
<path d="M38.18,23.50 C38.49,22.82 39.20,22.34 40.05,22.11 C40.90,21.88 42.51,21.81 43.27,22.11 C44.02,22.42 44.39,23.25 44.61,23.94 C44.83,24.62 44.91,25.62 44.61,26.24 C44.30,26.86 43.54,27.40 42.78,27.63 C42.02,27.86 40.82,27.86 40.05,27.63 C39.28,27.40 38.49,26.93 38.18,26.24 C37.87,25.55 37.87,24.19 38.18,23.50Z" fill="#ff3c3c" filter="url(#b1)"/>
<path d="M39.82,23.89 C40.00,23.49 40.42,23.21 40.91,23.08 C41.41,22.94 42.35,22.90 42.79,23.08 C43.23,23.26 43.44,23.74 43.57,24.14 C43.70,24.54 43.75,25.13 43.57,25.49 C43.40,25.85 42.95,26.16 42.51,26.30 C42.07,26.43 41.36,26.43 40.91,26.30 C40.47,26.16 40.00,25.89 39.82,25.49 C39.64,25.09 39.64,24.29 39.82,23.89Z" fill="#ff0c0c" filter="url(#b1)"/>
<circle cx="43.5" cy="23.4" r="0.75" fill="#111"/>
<path d="M9.1,6.1h1.6v1.6h-1.6zM19.4,6.1h1.6v1.6h-1.6zM31.0,6.1h1.6v1.6h-1.6zM41.3,6.1h1.6v1.6h-1.6zM9.7,14.6h1.6v1.6h-1.6zM19.8,14.6h1.6v1.6h-1.6zM30.6,14.6h1.6v1.6h-1.6zM42.0,14.6h1.6v1.6h-1.6zM7.9,22.8h1.6v1.6h-1.6zM42.5,22.8h1.6v1.6h-1.6zM7.9,31.2h1.6v1.6h-1.6zM18.0,31.2h1.6v1.6h-1.6zM32.9,31.2h1.6v1.6h-1.6zM42.5,31.2h1.6v1.6h-1.6zM7.9,39.6h1.6v1.6h-1.6zM18.0,39.6h1.6v1.6h-1.6zM32.9,39.6h1.6v1.6h-1.6zM42.5,39.6h1.6v1.6h-1.6zM7.9,48.0h1.6v1.6h-1.6zM42.5,48.0h1.6v1.6h-1.6z" fill="#f2904a" fill-opacity="0.85"/>
</g>
<rect x="0" y="0" width="52" height="59" fill="none" stroke="#7a7a7a" stroke-width="0.8"/>
<path d="M8.7,59v1.3M0,8.4h-1.3M17.3,59v1.3M0,16.9h-1.3M26.0,59v1.3M0,25.3h-1.3M34.7,59v1.3M0,33.7h-1.3M43.3,59v1.3M0,42.1h-1.3" stroke="#777" stroke-width="0.5"/>
</g>
<clipPath id="tc5"><rect x="0" y="0" width="52.2" height="59.7"/></clipPath>
<g transform="translate(245.3,169.7)"><g clip-path="url(#tc5)">
<rect width="52.2" height="59.7" fill="#7474ff"/>
<g filter="url(#b0_8)"><rect x="0.0" y="0.0" width="2.9" height="2.9" fill="#bfbfff"/><rect x="0.0" y="2.6" width="2.9" height="2.9" fill="#cacaff"/><rect x="0.0" y="5.2" width="2.9" height="5.5" fill="#bfbfff"/><rect x="0.0" y="10.4" width="2.9" height="5.5" fill="#aaaaff"/><rect x="0.0" y="15.6" width="2.9" height="2.9" fill="#9f9fff"/><rect x="0.0" y="18.2" width="2.9" height="2.9" fill="#aaaaff"/><rect x="0.0" y="20.8" width="2.9" height="2.9" fill="#bfbfff"/><rect x="0.0" y="23.4" width="2.9" height="2.9" fill="#cacaff"/><rect x="0.0" y="26.0" width="2.9" height="2.9" fill="#b5b5ff"/><rect x="0.0" y="28.6" width="2.9" height="2.9" fill="#bfbfff"/><rect x="0.0" y="31.1" width="2.9" height="2.9" fill="#cacaff"/><rect x="0.0" y="33.7" width="2.9" height="5.5" fill="#b5b5ff"/><rect x="0.0" y="38.9" width="2.9" height="5.5" fill="#aaaaff"/><rect x="0.0" y="44.1" width="2.9" height="2.9" fill="#8080ff"/><rect x="0.0" y="46.7" width="2.9" height="2.9" fill="#6060ff"/><rect x="0.0" y="49.3" width="2.9" height="2.9" fill="#5555ff"/><rect x="0.0" y="51.9" width="2.9" height="2.9" fill="#4a4aff"/><rect x="0.0" y="54.5" width="2.9" height="2.9" fill="#6a6aff"/><rect x="0.0" y="57.1" width="2.9" height="2.9" fill="#9595ff"/><rect x="2.6" y="0.0" width="2.9" height="2.9" fill="#d4d4ff"/><rect x="2.6" y="2.6" width="2.9" height="2.9" fill="#b5b5ff"/><rect x="2.6" y="5.2" width="2.9" height="2.9" fill="#aaaaff"/><rect x="2.6" y="7.8" width="2.9" height="10.7" fill="#9595ff"/><rect x="2.6" y="18.2" width="2.9" height="2.9" fill="#9f9fff"/><rect x="2.6" y="20.8" width="2.9" height="2.9" fill="#cacaff"/><rect x="2.6" y="23.4" width="2.9" height="2.9" fill="#dfdfff"/><rect x="2.6" y="26.0" width="2.9" height="10.7" fill="#b5b5ff"/><rect x="2.6" y="36.3" width="2.9" height="2.9" fill="#9595ff"/><rect x="2.6" y="38.9" width="2.9" height="2.9" fill="#8a8aff"/><rect x="2.6" y="41.5" width="2.9" height="5.5" fill="#6a6aff"/><rect x="2.6" y="46.7" width="2.9" height="2.9" fill="#4040ff"/><rect x="2.6" y="49.3" width="2.9" height="2.9" fill="#2020ff"/><rect x="2.6" y="51.9" width="2.9" height="2.9" fill="#2a2aff"/><rect x="2.6" y="54.5" width="2.9" height="2.9" fill="#5555ff"/><rect x="2.6" y="57.1" width="2.9" height="2.9" fill="#9f9fff"/><rect x="5.2" y="0.0" width="2.9" height="2.9" fill="#cacaff"/><rect x="5.2" y="2.6" width="2.9" height="2.9" fill="#b5b5ff"/><rect x="5.2" y="5.2" width="2.9" height="5.5" fill="#8a8aff"/><rect x="5.2" y="10.4" width="2.9" height="5.5" fill="#8080ff"/><rect x="5.2" y="15.6" width="2.9" height="5.5" fill="#8a8aff"/><rect x="5.2" y="20.8" width="2.9" height="2.9" fill="#b5b5ff"/><rect x="5.2" y="23.4" width="2.9" height="2.9" fill="#cacaff"/><rect x="5.2" y="26.0" width="2.9" height="2.9" fill="#d4d4ff"/><rect x="5.2" y="28.6" width="2.9" height="2.9" fill="#b5b5ff"/><rect x="5.2" y="31.1" width="2.9" height="5.5" fill="#9595ff"/><rect x="5.2" y="36.3" width="2.9" height="5.5" fill="#9f9fff"/><rect x="5.2" y="41.5" width="2.9" height="2.9" fill="#6a6aff"/><rect x="5.2" y="44.1" width="2.9" height="2.9" fill="#4040ff"/><rect x="5.2" y="46.7" width="2.9" height="2.9" fill="#6060ff"/><rect x="5.2" y="49.3" width="2.9" height="2.9" fill="#4040ff"/><rect x="5.2" y="51.9" width="2.9" height="2.9" fill="#2020ff"/><rect x="5.2" y="54.5" width="2.9" height="2.9" fill="#4a4aff"/><rect x="5.2" y="57.1" width="2.9" height="2.9" fill="#8a8aff"/><rect x="7.8" y="0.0" width="2.9" height="2.9" fill="#b5b5ff"/><rect x="7.8" y="2.6" width="2.9" height="8.1" fill="#8a8aff"/><rect x="7.8" y="10.4" width="2.9" height="2.9" fill="#7575ff"/><rect x="7.8" y="13.0" width="2.9" height="2.9" fill="#8a8aff"/><rect x="7.8" y="15.6" width="2.9" height="2.9" fill="#8080ff"/><rect x="7.8" y="18.2" width="2.9" height="5.5" fill="#8a8aff"/><rect x="7.8" y="23.4" width="2.9" height="2.9" fill="#aaaaff"/><rect x="7.8" y="26.0" width="2.9" height="2.9" fill="#b5b5ff"/><rect x="7.8" y="28.6" width="2.9" height="2.9" fill="#8a8aff"/><rect x="7.8" y="31.1" width="2.9" height="2.9" fill="#7575ff"/><rect x="7.8" y="33.7" width="2.9" height="2.9" fill="#8a8aff"/><rect x="7.8" y="36.3" width="2.9" height="2.9" fill="#aaaaff"/><rect x="7.8" y="38.9" width="2.9" height="2.9" fill="#9595ff"/><rect x="7.8" y="41.5" width="2.9" height="2.9" fill="#6060ff"/><rect x="7.8" y="44.1" width="2.9" height="2.9" fill="#4a4aff"/><rect x="7.8" y="46.7" width="2.9" height="2.9" fill="#7575ff"/><rect x="7.8" y="49.3" width="2.9" height="2.9" fill="#6a6aff"/><rect x="7.8" y="51.9" width="2.9" height="5.5" fill="#4a4aff"/><rect x="7.8" y="57.1" width="2.9" height="2.9" fill="#9f9fff"/><rect x="10.4" y="0.0" width="2.9" height="2.9" fill="#aaaaff"/><rect x="10.4" y="2.6" width="2.9" height="2.9" fill="#9595ff"/><rect x="10.4" y="5.2" width="2.9" height="2.9" fill="#8a8aff"/><rect x="10.4" y="7.8" width="2.9" height="2.9" fill="#6a6aff"/><rect x="10.4" y="10.4" width="2.9" height="2.9" fill="#8080ff"/><rect x="10.4" y="13.0" width="2.9" height="5.5" fill="#6060ff"/><rect x="10.4" y="18.2" width="2.9" height="2.9" fill="#8080ff"/><rect x="10.4" y="20.8" width="2.9" height="5.5" fill="#7575ff"/><rect x="10.4" y="26.0" width="2.9" height="2.9" fill="#9595ff"/><rect x="10.4" y="28.6" width="2.9" height="2.9" fill="#6a6aff"/><rect x="10.4" y="31.1" width="2.9" height="2.9" fill="#6060ff"/><rect x="10.4" y="33.7" width="2.9" height="2.9" fill="#7575ff"/><rect x="10.4" y="36.3" width="2.9" height="5.5" fill="#8a8aff"/><rect x="10.4" y="41.5" width="2.9" height="5.5" fill="#6a6aff"/><rect x="10.4" y="46.7" width="2.9" height="2.9" fill="#8080ff"/><rect x="10.4" y="49.3" width="2.9" height="2.9" fill="#6a6aff"/><rect x="10.4" y="51.9" width="2.9" height="2.9" fill="#7575ff"/><rect x="10.4" y="54.5" width="2.9" height="2.9" fill="#8080ff"/><rect x="10.4" y="57.1" width="2.9" height="2.9" fill="#9f9fff"/><rect x="13.1" y="0.0" width="2.9" height="2.9" fill="#9f9fff"/><rect x="13.1" y="2.6" width="2.9" height="2.9" fill="#8080ff"/><rect x="13.1" y="5.2" width="2.9" height="2.9" fill="#8a8aff"/><rect x="13.1" y="7.8" width="2.9" height="2.9" fill="#8080ff"/><rect x="13.1" y="10.4" width="2.9" height="2.9" fill="#7575ff"/><rect x="13.1" y="13.0" width="2.9" height="2.9" fill="#5555ff"/><rect x="13.1" y="15.6" width="2.9" height="5.5" fill="#0b0bff"/><rect x="13.1" y="20.8" width="2.9" height="5.5" fill="#6060ff"/><rect x="13.1" y="26.0" width="2.9" height="2.9" fill="#6a6aff"/><rect x="13.1" y="28.6" width="2.9" height="2.9" fill="#7575ff"/><rect x="13.1" y="31.1" width="2.9" height="2.9" fill="#6a6aff"/><rect x="13.1" y="33.7" width="2.9" height="2.9" fill="#8080ff"/><rect x="13.1" y="36.3" width="2.9" height="2.9" fill="#8a8aff"/><rect x="13.1" y="38.9" width="2.9" height="2.9" fill="#8080ff"/><rect x="13.1" y="41.5" width="2.9" height="2.9" fill="#7575ff"/><rect x="13.1" y="44.1" width="2.9" height="2.9" fill="#8080ff"/><rect x="13.1" y="46.7" width="2.9" height="2.9" fill="#8a8aff"/><rect x="13.1" y="49.3" width="2.9" height="5.5" fill="#7575ff"/><rect x="13.1" y="54.5" width="2.9" height="5.5" fill="#8a8aff"/><rect x="15.7" y="0.0" width="2.9" height="2.9" fill="#9f9fff"/><rect x="15.7" y="2.6" width="2.9" height="5.5" fill="#8080ff"/><rect x="15.7" y="7.8" width="2.9" height="5.5" fill="#7575ff"/><rect x="15.7" y="13.0" width="2.9" height="2.9" fill="#4040ff"/><rect x="15.7" y="15.6" width="2.9" height="5.5" fill="#0b0bff"/><rect x="15.7" y="20.8" width="2.9" height="2.9" fill="#3535ff"/><rect x="15.7" y="23.4" width="2.9" height="2.9" fill="#4a4aff"/><rect x="15.7" y="26.0" width="2.9" height="2.9" fill="#6a6aff"/><rect x="15.7" y="28.6" width="2.9" height="2.9" fill="#8080ff"/><rect x="15.7" y="31.1" width="2.9" height="2.9" fill="#cacaff"/><rect x="15.7" y="33.7" width="2.9" height="2.9" fill="#b5b5ff"/><rect x="15.7" y="36.3" width="2.9" height="2.9" fill="#8080ff"/><rect x="15.7" y="38.9" width="2.9" height="2.9" fill="#5555ff"/><rect x="15.7" y="41.5" width="2.9" height="2.9" fill="#6a6aff"/><rect x="15.7" y="44.1" width="2.9" height="2.9" fill="#8080ff"/><rect x="15.7" y="46.7" width="2.9" height="2.9" fill="#6a6aff"/><rect x="15.7" y="49.3" width="2.9" height="2.9" fill="#8a8aff"/><rect x="15.7" y="51.9" width="2.9" height="5.5" fill="#7575ff"/><rect x="15.7" y="57.1" width="2.9" height="2.9" fill="#aaaaff"/><rect x="18.3" y="0.0" width="2.9" height="2.9" fill="#8a8aff"/><rect x="18.3" y="2.6" width="2.9" height="2.9" fill="#8080ff"/><rect x="18.3" y="5.2" width="2.9" height="2.9" fill="#8a8aff"/><rect x="18.3" y="7.8" width="2.9" height="2.9" fill="#7575ff"/><rect x="18.3" y="10.4" width="2.9" height="2.9" fill="#8080ff"/><rect x="18.3" y="13.0" width="2.9" height="2.9" fill="#4a4aff"/><rect x="18.3" y="15.6" width="2.9" height="2.9" fill="#4040ff"/><rect x="18.3" y="18.2" width="2.9" height="5.5" fill="#2020ff"/><rect x="18.3" y="23.4" width="2.9" height="2.9" fill="#3535ff"/><rect x="18.3" y="26.0" width="2.9" height="2.9" fill="#5555ff"/><rect x="18.3" y="28.6" width="2.9" height="2.9" fill="#8080ff"/><rect x="18.3" y="31.1" width="2.9" height="5.5" fill="#aaaaff"/><rect x="18.3" y="36.3" width="2.9" height="2.9" fill="#8a8aff"/><rect x="18.3" y="38.9" width="2.9" height="2.9" fill="#7575ff"/><rect x="18.3" y="41.5" width="2.9" height="2.9" fill="#8080ff"/><rect x="18.3" y="44.1" width="2.9" height="5.5" fill="#7575ff"/><rect x="18.3" y="49.3" width="2.9" height="2.9" fill="#8a8aff"/><rect x="18.3" y="51.9" width="2.9" height="2.9" fill="#7575ff"/><rect x="18.3" y="54.5" width="2.9" height="2.9" fill="#8a8aff"/><rect x="18.3" y="57.1" width="2.9" height="2.9" fill="#aaaaff"/><rect x="20.9" y="0.0" width="2.9" height="2.9" fill="#9595ff"/><rect x="20.9" y="2.6" width="2.9" height="2.9" fill="#7575ff"/><rect x="20.9" y="5.2" width="2.9" height="2.9" fill="#6a6aff"/><rect x="20.9" y="7.8" width="2.9" height="2.9" fill="#5555ff"/><rect x="20.9" y="10.4" width="2.9" height="2.9" fill="#8080ff"/><rect x="20.9" y="13.0" width="2.9" height="2.9" fill="#7575ff"/><rect x="20.9" y="15.6" width="2.9" height="2.9" fill="#5555ff"/><rect x="20.9" y="18.2" width="2.9" height="2.9" fill="#4a4aff"/><rect x="20.9" y="20.8" width="2.9" height="2.9" fill="#5555ff"/><rect x="20.9" y="23.4" width="2.9" height="5.5" fill="#8080ff"/><rect x="20.9" y="28.6" width="2.9" height="2.9" fill="#6060ff"/><rect x="20.9" y="31.1" width="2.9" height="2.9" fill="#8080ff"/><rect x="20.9" y="33.7" width="2.9" height="2.9" fill="#6a6aff"/><rect x="20.9" y="36.3" width="2.9" height="5.5" fill="#8a8aff"/><rect x="20.9" y="41.5" width="2.9" height="2.9" fill="#7575ff"/><rect x="20.9" y="44.1" width="2.9" height="2.9" fill="#8a8aff"/><rect x="20.9" y="46.7" width="2.9" height="2.9" fill="#7575ff"/><rect x="20.9" y="49.3" width="2.9" height="2.9" fill="#8080ff"/><rect x="20.9" y="51.9" width="2.9" height="5.5" fill="#7575ff"/><rect x="20.9" y="57.1" width="2.9" height="2.9" fill="#9595ff"/><rect x="23.5" y="0.0" width="2.9" height="2.9" fill="#8a8aff"/><rect x="23.5" y="2.6" width="2.9" height="2.9" fill="#6a6aff"/><rect x="23.5" y="5.2" width="2.9" height="2.9" fill="#4a4aff"/><rect x="23.5" y="7.8" width="2.9" height="2.9" fill="#4040ff"/><rect x="23.5" y="10.4" width="2.9" height="2.9" fill="#6a6aff"/><rect x="23.5" y="13.0" width="2.9" height="2.9" fill="#7575ff"/><rect x="23.5" y="15.6" width="2.9" height="2.9" fill="#6060ff"/><rect x="23.5" y="18.2" width="2.9" height="2.9" fill="#4a4aff"/><rect x="23.5" y="20.8" width="2.9" height="2.9" fill="#6a6aff"/><rect x="23.5" y="23.4" width="2.9" height="2.9" fill="#9595ff"/><rect x="23.5" y="26.0" width="2.9" height="2.9" fill="#8080ff"/><rect x="23.5" y="28.6" width="2.9" height="2.9" fill="#5555ff"/><rect x="23.5" y="31.1" width="2.9" height="2.9" fill="#4a4aff"/><rect x="23.5" y="33.7" width="2.9" height="2.9" fill="#6060ff"/><rect x="23.5" y="36.3" width="2.9" height="2.9" fill="#6a6aff"/><rect x="23.5" y="38.9" width="2.9" height="2.9" fill="#7575ff"/><rect x="23.5" y="41.5" width="2.9" height="5.5" fill="#8a8aff"/><rect x="23.5" y="46.7" width="2.9" height="2.9" fill="#6a6aff"/><rect x="23.5" y="49.3" width="2.9" height="5.5" fill="#7575ff"/><rect x="23.5" y="54.5" width="2.9" height="2.9" fill="#8a8aff"/><rect x="23.5" y="57.1" width="2.9" height="2.9" fill="#b5b5ff"/><rect x="26.1" y="0.0" width="2.9" height="2.9" fill="#9595ff"/><rect x="26.1" y="2.6" width="2.9" height="2.9" fill="#6060ff"/><rect x="26.1" y="5.2" width="2.9" height="2.9" fill="#5555ff"/><rect x="26.1" y="7.8" width="2.9" height="2.9" fill="#4a4aff"/><rect x="26.1" y="10.4" width="2.9" height="2.9" fill="#7575ff"/><rect x="26.1" y="13.0" width="2.9" height="2.9" fill="#6a6aff"/><rect x="26.1" y="15.6" width="2.9" height="5.5" fill="#8080ff"/><rect x="26.1" y="20.8" width="2.9" height="2.9" fill="#8a8aff"/><rect x="26.1" y="23.4" width="2.9" height="2.9" fill="#8080ff"/><rect x="26.1" y="26.0" width="2.9" height="2.9" fill="#7575ff"/><rect x="26.1" y="28.6" width="2.9" height="2.9" fill="#4a4aff"/><rect x="26.1" y="31.1" width="2.9" height="2.9" fill="#2020ff"/><rect x="26.1" y="33.7" width="2.9" height="2.9" fill="#5555ff"/><rect x="26.1" y="36.3" width="2.9" height="2.9" fill="#6060ff"/><rect x="26.1" y="38.9" width="2.9" height="2.9" fill="#8080ff"/><rect x="26.1" y="41.5" width="2.9" height="2.9" fill="#7575ff"/><rect x="26.1" y="44.1" width="2.9" height="5.5" fill="#8080ff"/><rect x="26.1" y="49.3" width="2.9" height="5.5" fill="#6a6aff"/><rect x="26.1" y="54.5" width="2.9" height="2.9" fill="#7575ff"/><rect x="26.1" y="57.1" width="2.9" height="2.9" fill="#9f9fff"/><rect x="28.7" y="0.0" width="2.9" height="2.9" fill="#9595ff"/><rect x="28.7" y="2.6" width="2.9" height="10.7" fill="#7575ff"/><rect x="28.7" y="13.0" width="2.9" height="5.5" fill="#8080ff"/><rect x="28.7" y="18.2" width="2.9" height="2.9" fill="#aaaaff"/><rect x="28.7" y="20.8" width="2.9" height="2.9" fill="#9595ff"/><rect x="28.7" y="23.4" width="2.9" height="5.5" fill="#8a8aff"/><rect x="28.7" y="28.6" width="2.9" height="2.9" fill="#8080ff"/><rect x="28.7" y="31.1" width="2.9" height="2.9" fill="#5555ff"/><rect x="28.7" y="33.7" width="2.9" height="2.9" fill="#4a4aff"/><rect x="28.7" y="36.3" width="2.9" height="2.9" fill="#7575ff"/><rect x="28.7" y="38.9" width="2.9" height="5.5" fill="#8080ff"/><rect x="28.7" y="44.1" width="2.9" height="2.9" fill="#8a8aff"/><rect x="28.7" y="46.7" width="2.9" height="8.1" fill="#8080ff"/><rect x="28.7" y="54.5" width="2.9" height="2.9" fill="#8a8aff"/><rect x="28.7" y="57.1" width="2.9" height="2.9" fill="#9f9fff"/><rect x="31.3" y="0.0" width="2.9" height="2.9" fill="#aaaaff"/><rect x="31.3" y="2.6" width="2.9" height="2.9" fill="#8a8aff"/><rect x="31.3" y="5.2" width="2.9" height="2.9" fill="#7575ff"/><rect x="31.3" y="7.8" width="2.9" height="2.9" fill="#8080ff"/><rect x="31.3" y="10.4" width="2.9" height="5.5" fill="#7575ff"/><rect x="31.3" y="15.6" width="2.9" height="5.5" fill="#8080ff"/><rect x="31.3" y="20.8" width="2.9" height="5.5" fill="#9595ff"/><rect x="31.3" y="26.0" width="2.9" height="2.9" fill="#cacaff"/><rect x="31.3" y="28.6" width="2.9" height="2.9" fill="#bfbfff"/><rect x="31.3" y="31.1" width="2.9" height="2.9" fill="#9f9fff"/><rect x="31.3" y="33.7" width="2.9" height="2.9" fill="#8a8aff"/><rect x="31.3" y="36.3" width="2.9" height="2.9" fill="#8080ff"/><rect x="31.3" y="38.9" width="2.9" height="2.9" fill="#6a6aff"/><rect x="31.3" y="41.5" width="2.9" height="10.7" fill="#7575ff"/><rect x="31.3" y="51.9" width="2.9" height="2.9" fill="#8a8aff"/><rect x="31.3" y="54.5" width="2.9" height="2.9" fill="#7575ff"/><rect x="31.3" y="57.1" width="2.9" height="2.9" fill="#aaaaff"/><rect x="33.9" y="0.0" width="2.9" height="2.9" fill="#aaaaff"/><rect x="33.9" y="2.6" width="2.9" height="2.9" fill="#9f9fff"/><rect x="33.9" y="5.2" width="2.9" height="2.9" fill="#8a8aff"/><rect x="33.9" y="7.8" width="2.9" height="5.5" fill="#7575ff"/><rect x="33.9" y="13.0" width="2.9" height="5.5" fill="#4a4aff"/><rect x="33.9" y="18.2" width="2.9" height="2.9" fill="#6060ff"/><rect x="33.9" y="20.8" width="2.9" height="2.9" fill="#8080ff"/><rect x="33.9" y="23.4" width="2.9" height="2.9" fill="#9595ff"/><rect x="33.9" y="26.0" width="2.9" height="2.9" fill="#dfdfff"/><rect x="33.9" y="28.6" width="2.9" height="2.9" fill="#ffffff"/><rect x="33.9" y="31.1" width="2.9" height="2.9" fill="#bfbfff"/><rect x="33.9" y="33.7" width="2.9" height="2.9" fill="#8a8aff"/><rect x="33.9" y="36.3" width="2.9" height="2.9" fill="#8080ff"/><rect x="33.9" y="38.9" width="2.9" height="2.9" fill="#8a8aff"/><rect x="33.9" y="41.5" width="2.9" height="2.9" fill="#7575ff"/><rect x="33.9" y="44.1" width="2.9" height="5.5" fill="#6a6aff"/><rect x="33.9" y="49.3" width="2.9" height="5.5" fill="#7575ff"/><rect x="33.9" y="54.5" width="2.9" height="2.9" fill="#6a6aff"/><rect x="33.9" y="57.1" width="2.9" height="2.9" fill="#9f9fff"/><rect x="36.5" y="0.0" width="2.9" height="2.9" fill="#9595ff"/><rect x="36.5" y="2.6" width="2.9" height="5.5" fill="#8080ff"/><rect x="36.5" y="7.8" width="2.9" height="2.9" fill="#8a8aff"/><rect x="36.5" y="10.4" width="2.9" height="2.9" fill="#7575ff"/><rect x="36.5" y="13.0" width="2.9" height="2.9" fill="#4a4aff"/><rect x="36.5" y="15.6" width="2.9" height="2.9" fill="#2a2aff"/><rect x="36.5" y="18.2" width="2.9" height="2.9" fill="#3535ff"/><rect x="36.5" y="20.8" width="2.9" height="2.9" fill="#7575ff"/><rect x="36.5" y="23.4" width="2.9" height="2.9" fill="#6a6aff"/><rect x="36.5" y="26.0" width="2.9" height="8.1" fill="#9f9fff"/><rect x="36.5" y="33.7" width="2.9" height="2.9" fill="#8a8aff"/><rect x="36.5" y="36.3" width="2.9" height="2.9" fill="#9595ff"/><rect x="36.5" y="38.9" width="2.9" height="2.9" fill="#8a8aff"/><rect x="36.5" y="41.5" width="2.9" height="2.9" fill="#6a6aff"/><rect x="36.5" y="44.1" width="2.9" height="2.9" fill="#6060ff"/><rect x="36.5" y="46.7" width="2.9" height="2.9" fill="#5555ff"/><rect x="36.5" y="49.3" width="2.9" height="2.9" fill="#8080ff"/><rect x="36.5" y="51.9" width="2.9" height="2.9" fill="#8a8aff"/><rect x="36.5" y="54.5" width="2.9" height="2.9" fill="#9595ff"/><rect x="36.5" y="57.1" width="2.9" height="2.9" fill="#aaaaff"/><rect x="39.2" y="0.0" width="2.9" height="2.9" fill="#8080ff"/><rect x="39.2" y="2.6" width="2.9" height="2.9" fill="#6060ff"/><rect x="39.2" y="5.2" width="2.9" height="2.9" fill="#6a6aff"/><rect x="39.2" y="7.8" width="2.9" height="2.9" fill="#7575ff"/><rect x="39.2" y="10.4" width="2.9" height="2.9" fill="#8080ff"/><rect x="39.2" y="13.0" width="2.9" height="2.9" fill="#6060ff"/><rect x="39.2" y="15.6" width="2.9" height="2.9" fill="#4040ff"/><rect x="39.2" y="18.2" width="2.9" height="2.9" fill="#6060ff"/><rect x="39.2" y="20.8" width="2.9" height="2.9" fill="#7575ff"/><rect x="39.2" y="23.4" width="2.9" height="2.9" fill="#8080ff"/><rect x="39.2" y="26.0" width="2.9" height="2.9" fill="#9595ff"/><rect x="39.2" y="28.6" width="2.9" height="2.9" fill="#8a8aff"/><rect x="39.2" y="31.1" width="2.9" height="5.5" fill="#7575ff"/><rect x="39.2" y="36.3" width="2.9" height="2.9" fill="#9595ff"/><rect x="39.2" y="38.9" width="2.9" height="2.9" fill="#7575ff"/><rect x="39.2" y="41.5" width="2.9" height="2.9" fill="#4a4aff"/><rect x="39.2" y="44.1" width="2.9" height="2.9" fill="#4040ff"/><rect x="39.2" y="46.7" width="2.9" height="2.9" fill="#5555ff"/><rect x="39.2" y="49.3" width="2.9" height="2.9" fill="#7575ff"/><rect x="39.2" y="51.9" width="2.9" height="2.9" fill="#8a8aff"/><rect x="39.2" y="54.5" width="2.9" height="5.5" fill="#b5b5ff"/><rect x="41.8" y="0.0" width="2.9" height="2.9" fill="#8080ff"/><rect x="41.8" y="2.6" width="2.9" height="2.9" fill="#6060ff"/><rect x="41.8" y="5.2" width="2.9" height="2.9" fill="#6a6aff"/><rect x="41.8" y="7.8" width="2.9" height="2.9" fill="#5555ff"/><rect x="41.8" y="10.4" width="2.9" height="2.9" fill="#8a8aff"/><rect x="41.8" y="13.0" width="2.9" height="2.9" fill="#7575ff"/><rect x="41.8" y="15.6" width="2.9" height="2.9" fill="#8080ff"/><rect x="41.8" y="18.2" width="2.9" height="2.9" fill="#9595ff"/><rect x="41.8" y="20.8" width="2.9" height="2.9" fill="#8080ff"/><rect x="41.8" y="23.4" width="2.9" height="5.5" fill="#8a8aff"/><rect x="41.8" y="28.6" width="2.9" height="2.9" fill="#7575ff"/><rect x="41.8" y="31.1" width="2.9" height="5.5" fill="#6060ff"/><rect x="41.8" y="36.3" width="2.9" height="2.9" fill="#7575ff"/><rect x="41.8" y="38.9" width="2.9" height="2.9" fill="#6a6aff"/><rect x="41.8" y="41.5" width="2.9" height="2.9" fill="#4a4aff"/><rect x="41.8" y="44.1" width="2.9" height="2.9" fill="#5555ff"/><rect x="41.8" y="46.7" width="2.9" height="2.9" fill="#6060ff"/><rect x="41.8" y="49.3" width="2.9" height="2.9" fill="#7575ff"/><rect x="41.8" y="51.9" width="2.9" height="2.9" fill="#8080ff"/><rect x="41.8" y="54.5" width="2.9" height="2.9" fill="#8a8aff"/><rect x="41.8" y="57.1" width="2.9" height="2.9" fill="#b5b5ff"/><rect x="44.4" y="0.0" width="2.9" height="2.9" fill="#7575ff"/><rect x="44.4" y="2.6" width="2.9" height="2.9" fill="#5555ff"/><rect x="44.4" y="5.2" width="2.9" height="5.5" fill="#6a6aff"/><rect x="44.4" y="10.4" width="2.9" height="8.1" fill="#8080ff"/><rect x="44.4" y="18.2" width="2.9" height="2.9" fill="#7575ff"/><rect x="44.4" y="20.8" width="2.9" height="2.9" fill="#8a8aff"/><rect x="44.4" y="23.4" width="2.9" height="2.9" fill="#9595ff"/><rect x="44.4" y="26.0" width="2.9" height="5.5" fill="#8080ff"/><rect x="44.4" y="31.1" width="2.9" height="2.9" fill="#7575ff"/><rect x="44.4" y="33.7" width="2.9" height="2.9" fill="#8a8aff"/><rect x="44.4" y="36.3" width="2.9" height="2.9" fill="#7575ff"/><rect x="44.4" y="38.9" width="2.9" height="2.9" fill="#6060ff"/><rect x="44.4" y="41.5" width="2.9" height="2.9" fill="#4040ff"/><rect x="44.4" y="44.1" width="2.9" height="2.9" fill="#5555ff"/><rect x="44.4" y="46.7" width="2.9" height="8.1" fill="#8080ff"/><rect x="44.4" y="54.5" width="2.9" height="2.9" fill="#9595ff"/><rect x="44.4" y="57.1" width="2.9" height="2.9" fill="#aaaaff"/><rect x="47.0" y="0.0" width="2.9" height="2.9" fill="#8080ff"/><rect x="47.0" y="2.6" width="2.9" height="10.7" fill="#7575ff"/><rect x="47.0" y="13.0" width="2.9" height="2.9" fill="#8a8aff"/><rect x="47.0" y="15.6" width="2.9" height="2.9" fill="#7575ff"/><rect x="47.0" y="18.2" width="2.9" height="2.9" fill="#8080ff"/><rect x="47.0" y="20.8" width="2.9" height="2.9" fill="#9595ff"/><rect x="47.0" y="23.4" width="2.9" height="2.9" fill="#9f9fff"/><rect x="47.0" y="26.0" width="2.9" height="2.9" fill="#8080ff"/><rect x="47.0" y="28.6" width="2.9" height="5.5" fill="#9595ff"/><rect x="47.0" y="33.7" width="2.9" height="2.9" fill="#8a8aff"/><rect x="47.0" y="36.3" width="2.9" height="2.9" fill="#8080ff"/><rect x="47.0" y="38.9" width="2.9" height="2.9" fill="#4a4aff"/><rect x="47.0" y="41.5" width="2.9" height="2.9" fill="#6a6aff"/><rect x="47.0" y="44.1" width="2.9" height="2.9" fill="#8080ff"/><rect x="47.0" y="46.7" width="2.9" height="5.5" fill="#8a8aff"/><rect x="47.0" y="51.9" width="2.9" height="2.9" fill="#8080ff"/><rect x="47.0" y="54.5" width="2.9" height="2.9" fill="#8a8aff"/><rect x="47.0" y="57.1" width="2.9" height="2.9" fill="#9595ff"/><rect x="49.6" y="0.0" width="2.9" height="2.9" fill="#8a8aff"/><rect x="49.6" y="2.6" width="2.9" height="2.9" fill="#7575ff"/><rect x="49.6" y="5.2" width="2.9" height="2.9" fill="#8080ff"/><rect x="49.6" y="7.8" width="2.9" height="2.9" fill="#8a8aff"/><rect x="49.6" y="10.4" width="2.9" height="13.3" fill="#9f9fff"/><rect x="49.6" y="23.4" width="2.9" height="2.9" fill="#aaaaff"/><rect x="49.6" y="26.0" width="2.9" height="2.9" fill="#b5b5ff"/><rect x="49.6" y="28.6" width="2.9" height="5.5" fill="#9f9fff"/><rect x="49.6" y="33.7" width="2.9" height="2.9" fill="#9595ff"/><rect x="49.6" y="36.3" width="2.9" height="10.7" fill="#8a8aff"/><rect x="49.6" y="46.7" width="2.9" height="5.5" fill="#9f9fff"/><rect x="49.6" y="51.9" width="2.9" height="2.9" fill="#aaaaff"/><rect x="49.6" y="54.5" width="2.9" height="2.9" fill="#9f9fff"/><rect x="49.6" y="57.1" width="2.9" height="2.9" fill="#8a8aff"/></g>
<path d="M16.16,42.72 C17.12,41.61 19.52,41.42 21.34,41.23 C23.16,41.04 25.17,41.61 27.09,41.57 C29.00,41.53 31.11,40.71 32.84,41.00 C34.56,41.29 36.67,42.15 37.44,43.30 C38.20,44.45 38.01,46.27 37.44,47.90 C36.86,49.53 35.33,51.44 33.99,53.07 C32.65,54.70 30.73,56.71 29.39,57.67 C28.05,58.63 27.18,59.01 25.94,58.82 C24.69,58.63 23.25,57.58 21.91,56.52 C20.57,55.47 18.94,53.94 17.89,52.50 C16.83,51.06 15.88,49.53 15.59,47.90 C15.30,46.27 15.20,43.83 16.16,42.72Z" fill="#fbfbff" filter="url(#b1)"/>
<path d="M17.50,43.50 C18.33,42.53 20.42,42.37 22.00,42.20 C23.58,42.03 25.33,42.53 27.00,42.50 C28.67,42.47 30.50,41.75 32.00,42.00 C33.50,42.25 35.33,43.00 36.00,44.00 C36.67,45.00 36.50,46.58 36.00,48.00 C35.50,49.42 34.17,51.08 33.00,52.50 C31.83,53.92 30.17,55.67 29.00,56.50 C27.83,57.33 27.08,57.67 26.00,57.50 C24.92,57.33 23.67,56.42 22.50,55.50 C21.33,54.58 19.92,53.25 19.00,52.00 C18.08,50.75 17.25,49.42 17.00,48.00 C16.75,46.58 16.67,44.47 17.50,43.50Z" fill="#ffdada" filter="url(#b0_8)"/>
<path d="M18.76,44.48 C19.47,43.65 21.26,43.51 22.63,43.36 C23.99,43.22 25.49,43.65 26.93,43.62 C28.36,43.59 29.94,42.98 31.23,43.19 C32.52,43.41 34.09,44.05 34.67,44.91 C35.24,45.77 35.10,47.13 34.67,48.35 C34.24,49.57 33.09,51.00 32.09,52.22 C31.08,53.44 29.65,54.95 28.65,55.66 C27.64,56.38 27.00,56.67 26.07,56.52 C25.13,56.38 24.06,55.59 23.06,54.80 C22.05,54.01 20.83,52.87 20.05,51.79 C19.26,50.72 18.54,49.57 18.33,48.35 C18.11,47.13 18.04,45.31 18.76,44.48Z" fill="#ffb0b0" filter="url(#b1)"/>
<path d="M20.37,45.74 C20.94,45.09 22.36,44.97 23.43,44.86 C24.51,44.75 25.70,45.09 26.83,45.06 C27.97,45.04 29.21,44.55 30.23,44.72 C31.25,44.89 32.50,45.40 32.95,46.08 C33.41,46.76 33.29,47.84 32.95,48.80 C32.61,49.77 31.71,50.90 30.91,51.86 C30.12,52.83 28.99,54.02 28.19,54.58 C27.40,55.15 26.89,55.38 26.15,55.26 C25.42,55.15 24.57,54.53 23.77,53.90 C22.98,53.28 22.02,52.37 21.39,51.52 C20.77,50.67 20.20,49.77 20.03,48.80 C19.86,47.84 19.81,46.40 20.37,45.74Z" fill="#ff7474" filter="url(#b1)"/>
<path d="M22.17,47.15 C22.57,46.68 23.57,46.60 24.33,46.52 C25.09,46.44 25.93,46.68 26.73,46.67 C27.53,46.65 28.41,46.31 29.13,46.43 C29.85,46.55 30.73,46.91 31.05,47.39 C31.37,47.87 31.29,48.63 31.05,49.31 C30.81,49.99 30.17,50.79 29.61,51.47 C29.05,52.15 28.25,52.99 27.69,53.39 C27.13,53.79 26.77,53.95 26.25,53.87 C25.73,53.79 25.13,53.35 24.57,52.91 C24.01,52.47 23.33,51.83 22.89,51.23 C22.45,50.63 22.05,49.99 21.93,49.31 C21.81,48.63 21.77,47.61 22.17,47.15Z" fill="#ff3c3c" filter="url(#b1)"/>
<path d="M23.96,48.55 C24.20,48.28 24.78,48.23 25.22,48.19 C25.67,48.14 26.16,48.28 26.62,48.27 C27.09,48.26 27.60,48.06 28.02,48.13 C28.44,48.20 28.96,48.41 29.14,48.69 C29.33,48.97 29.28,49.41 29.14,49.81 C29.00,50.21 28.63,50.67 28.30,51.07 C27.98,51.47 27.51,51.96 27.18,52.19 C26.86,52.42 26.65,52.52 26.34,52.47 C26.04,52.42 25.69,52.17 25.36,51.91 C25.04,51.65 24.64,51.28 24.38,50.93 C24.13,50.58 23.89,50.21 23.82,49.81 C23.75,49.41 23.73,48.82 23.96,48.55Z" fill="#ff0c0c" filter="url(#b1)"/>
<circle cx="26.5" cy="51.3" r="0.75" fill="#111"/>
<path d="M9.1,6.1h1.6v1.6h-1.6zM19.4,6.1h1.6v1.6h-1.6zM31.0,6.1h1.6v1.6h-1.6zM41.3,6.1h1.6v1.6h-1.6zM9.7,14.6h1.6v1.6h-1.6zM19.8,14.6h1.6v1.6h-1.6zM30.6,14.6h1.6v1.6h-1.6zM42.0,14.6h1.6v1.6h-1.6zM7.9,22.8h1.6v1.6h-1.6zM42.5,22.8h1.6v1.6h-1.6zM7.9,31.2h1.6v1.6h-1.6zM18.0,31.2h1.6v1.6h-1.6zM32.9,31.2h1.6v1.6h-1.6zM42.5,31.2h1.6v1.6h-1.6zM7.9,39.6h1.6v1.6h-1.6zM18.0,39.6h1.6v1.6h-1.6zM32.9,39.6h1.6v1.6h-1.6zM42.5,39.6h1.6v1.6h-1.6zM7.9,48.0h1.6v1.6h-1.6zM42.5,48.0h1.6v1.6h-1.6z" fill="#f2904a" fill-opacity="0.6"/>
</g>
<rect x="0" y="0" width="52.2" height="59.7" fill="none" stroke="#7a7a7a" stroke-width="0.8"/>
<path d="M8.7,59.7v1.3M0,8.5h-1.3M17.4,59.7v1.3M0,17.1h-1.3M26.1,59.7v1.3M0,25.6h-1.3M34.8,59.7v1.3M0,34.1h-1.3M43.5,59.7v1.3M0,42.6h-1.3" stroke="#777" stroke-width="0.5"/>
</g>
<clipPath id="tc6"><rect x="0" y="0" width="51.9" height="59.7"/></clipPath>
<g transform="translate(299.6,169.7)"><g clip-path="url(#tc6)">
<rect width="51.9" height="59.7" fill="#7474ff"/>
<g filter="url(#b0_8)"><rect x="0.0" y="0.0" width="2.9" height="5.5" fill="#cacaff"/><rect x="0.0" y="5.2" width="2.9" height="5.5" fill="#9f9fff"/><rect x="0.0" y="10.4" width="2.9" height="2.9" fill="#8a8aff"/><rect x="0.0" y="13.0" width="2.9" height="2.9" fill="#9f9fff"/><rect x="0.0" y="15.6" width="2.9" height="5.5" fill="#9595ff"/><rect x="0.0" y="20.8" width="2.9" height="5.5" fill="#9f9fff"/><rect x="0.0" y="26.0" width="2.9" height="2.9" fill="#aaaaff"/><rect x="0.0" y="28.6" width="2.9" height="8.1" fill="#9f9fff"/><rect x="0.0" y="36.3" width="2.9" height="2.9" fill="#bfbfff"/><rect x="0.0" y="38.9" width="2.9" height="2.9" fill="#b5b5ff"/><rect x="0.0" y="41.5" width="2.9" height="2.9" fill="#9f9fff"/><rect x="0.0" y="44.1" width="2.9" height="2.9" fill="#9595ff"/><rect x="0.0" y="46.7" width="2.9" height="2.9" fill="#8a8aff"/><rect x="0.0" y="49.3" width="2.9" height="2.9" fill="#d4d4ff"/><rect x="0.0" y="51.9" width="2.9" height="2.9" fill="#dfdfff"/><rect x="0.0" y="54.5" width="2.9" height="2.9" fill="#cacaff"/><rect x="0.0" y="57.1" width="2.9" height="2.9" fill="#b5b5ff"/><rect x="2.6" y="0.0" width="2.9" height="2.9" fill="#cacaff"/><rect x="2.6" y="2.6" width="2.9" height="2.9" fill="#9595ff"/><rect x="2.6" y="5.2" width="2.9" height="2.9" fill="#7575ff"/><rect x="2.6" y="7.8" width="2.9" height="2.9" fill="#8a8aff"/><rect x="2.6" y="10.4" width="2.9" height="2.9" fill="#7575ff"/><rect x="2.6" y="13.0" width="2.9" height="5.5" fill="#6a6aff"/><rect x="2.6" y="18.2" width="2.9" height="2.9" fill="#6060ff"/><rect x="2.6" y="20.8" width="2.9" height="5.5" fill="#8080ff"/><rect x="2.6" y="26.0" width="2.9" height="2.9" fill="#6a6aff"/><rect x="2.6" y="28.6" width="2.9" height="2.9" fill="#7575ff"/><rect x="2.6" y="31.1" width="2.9" height="2.9" fill="#8080ff"/><rect x="2.6" y="33.7" width="2.9" height="2.9" fill="#8a8aff"/><rect x="2.6" y="36.3" width="2.9" height="2.9" fill="#9595ff"/><rect x="2.6" y="38.9" width="2.9" height="2.9" fill="#9f9fff"/><rect x="2.6" y="41.5" width="2.9" height="2.9" fill="#8080ff"/><rect x="2.6" y="44.1" width="2.9" height="2.9" fill="#6060ff"/><rect x="2.6" y="46.7" width="2.9" height="2.9" fill="#8a8aff"/><rect x="2.6" y="49.3" width="2.9" height="2.9" fill="#9f9fff"/><rect x="2.6" y="51.9" width="2.9" height="5.5" fill="#cacaff"/><rect x="2.6" y="57.1" width="2.9" height="2.9" fill="#d4d4ff"/><rect x="5.2" y="0.0" width="2.9" height="2.9" fill="#aaaaff"/><rect x="5.2" y="2.6" width="2.9" height="2.9" fill="#8080ff"/><rect x="5.2" y="5.2" width="2.9" height="2.9" fill="#7575ff"/><rect x="5.2" y="7.8" width="2.9" height="2.9" fill="#8080ff"/><rect x="5.2" y="10.4" width="2.9" height="2.9" fill="#6060ff"/><rect x="5.2" y="13.0" width="2.9" height="2.9" fill="#6a6aff"/><rect x="5.2" y="15.6" width="2.9" height="2.9" fill="#6060ff"/><rect x="5.2" y="18.2" width="2.9" height="2.9" fill="#4a4aff"/><rect x="5.2" y="20.8" width="2.9" height="5.5" fill="#7575ff"/><rect x="5.2" y="26.0" width="2.9" height="2.9" fill="#8a8aff"/><rect x="5.2" y="28.6" width="2.9" height="2.9" fill="#5555ff"/><rect x="5.2" y="31.1" width="2.9" height="2.9" fill="#6a6aff"/><rect x="5.2" y="33.7" width="2.9" height="8.1" fill="#8080ff"/><rect x="5.2" y="41.5" width="2.9" height="5.5" fill="#6060ff"/><rect x="5.2" y="46.7" width="2.9" height="2.9" fill="#8a8aff"/><rect x="5.2" y="49.3" width="2.9" height="2.9" fill="#9f9fff"/><rect x="5.2" y="51.9" width="2.9" height="2.9" fill="#cacaff"/><rect x="5.2" y="54.5" width="2.9" height="2.9" fill="#bfbfff"/><rect x="5.2" y="57.1" width="2.9" height="2.9" fill="#cacaff"/><rect x="7.8" y="0.0" width="2.9" height="2.9" fill="#9595ff"/><rect x="7.8" y="2.6" width="2.9" height="2.9" fill="#8080ff"/><rect x="7.8" y="5.2" width="2.9" height="2.9" fill="#8a8aff"/><rect x="7.8" y="7.8" width="2.9" height="2.9" fill="#6060ff"/><rect x="7.8" y="10.4" width="2.9" height="2.9" fill="#5555ff"/><rect x="7.8" y="13.0" width="2.9" height="2.9" fill="#6a6aff"/><rect x="7.8" y="15.6" width="2.9" height="5.5" fill="#7575ff"/><rect x="7.8" y="20.8" width="2.9" height="5.5" fill="#8080ff"/><rect x="7.8" y="26.0" width="2.9" height="2.9" fill="#7575ff"/><rect x="7.8" y="28.6" width="2.9" height="2.9" fill="#6060ff"/><rect x="7.8" y="31.1" width="2.9" height="2.9" fill="#6a6aff"/><rect x="7.8" y="33.7" width="2.9" height="2.9" fill="#7575ff"/><rect x="7.8" y="36.3" width="2.9" height="2.9" fill="#8a8aff"/><rect x="7.8" y="38.9" width="2.9" height="2.9" fill="#8080ff"/><rect x="7.8" y="41.5" width="2.9" height="2.9" fill="#6060ff"/><rect x="7.8" y="44.1" width="2.9" height="2.9" fill="#6a6aff"/><rect x="7.8" y="46.7" width="2.9" height="5.5" fill="#8080ff"/><rect x="7.8" y="51.9" width="2.9" height="2.9" fill="#9f9fff"/><rect x="7.8" y="54.5" width="2.9" height="2.9" fill="#8a8aff"/><rect x="7.8" y="57.1" width="2.9" height="2.9" fill="#9f9fff"/><rect x="10.4" y="0.0" width="2.9" height="2.9" fill="#9f9fff"/><rect x="10.4" y="2.6" width="2.9" height="2.9" fill="#9595ff"/><rect x="10.4" y="5.2" width="2.9" height="5.5" fill="#7575ff"/><rect x="10.4" y="10.4" width="2.9" height="2.9" fill="#6060ff"/><rect x="10.4" y="13.0" width="2.9" height="2.9" fill="#8080ff"/><rect x="10.4" y="15.6" width="2.9" height="2.9" fill="#7575ff"/><rect x="10.4" y="18.2" width="2.9" height="2.9" fill="#8a8aff"/><rect x="10.4" y="20.8" width="2.9" height="2.9" fill="#8080ff"/><rect x="10.4" y="23.4" width="2.9" height="2.9" fill="#8a8aff"/><rect x="10.4" y="26.0" width="2.9" height="2.9" fill="#6a6aff"/><rect x="10.4" y="28.6" width="2.9" height="2.9" fill="#7575ff"/><rect x="10.4" y="31.1" width="2.9" height="2.9" fill="#8a8aff"/><rect x="10.4" y="33.7" width="2.9" height="5.5" fill="#8080ff"/><rect x="10.4" y="38.9" width="2.9" height="2.9" fill="#7575ff"/><rect x="10.4" y="41.5" width="2.9" height="2.9" fill="#8a8aff"/><rect x="10.4" y="44.1" width="2.9" height="2.9" fill="#8080ff"/><rect x="10.4" y="46.7" width="2.9" height="2.9" fill="#9595ff"/><rect x="10.4" y="49.3" width="2.9" height="2.9" fill="#8a8aff"/><rect x="10.4" y="51.9" width="2.9" height="5.5" fill="#7575ff"/><rect x="10.4" y="57.1" width="2.9" height="2.9" fill="#9595ff"/><rect x="13.0" y="0.0" width="2.9" height="2.9" fill="#9f9fff"/><rect x="13.0" y="2.6" width="2.9" height="2.9" fill="#8a8aff"/><rect x="13.0" y="5.2" width="2.9" height="2.9" fill="#8080ff"/><rect x="13.0" y="7.8" width="2.9" height="5.5" fill="#6a6aff"/><rect x="13.0" y="13.0" width="2.9" height="5.5" fill="#7575ff"/><rect x="13.0" y="18.2" width="2.9" height="5.5" fill="#8080ff"/><rect x="13.0" y="23.4" width="2.9" height="2.9" fill="#8a8aff"/><rect x="13.0" y="26.0" width="2.9" height="2.9" fill="#6060ff"/><rect x="13.0" y="28.6" width="2.9" height="5.5" fill="#8080ff"/><rect x="13.0" y="33.7" width="2.9" height="2.9" fill="#7575ff"/><rect x="13.0" y="36.3" width="2.9" height="2.9" fill="#8080ff"/><rect x="13.0" y="38.9" width="2.9" height="2.9" fill="#7575ff"/><rect x="13.0" y="41.5" width="2.9" height="2.9" fill="#8a8aff"/><rect x="13.0" y="44.1" width="2.9" height="2.9" fill="#8080ff"/><rect x="13.0" y="46.7" width="2.9" height="5.5" fill="#8a8aff"/><rect x="13.0" y="51.9" width="2.9" height="5.5" fill="#6a6aff"/><rect x="13.0" y="57.1" width="2.9" height="2.9" fill="#9595ff"/><rect x="15.6" y="0.0" width="2.9" height="2.9" fill="#9f9fff"/><rect x="15.6" y="2.6" width="2.9" height="2.9" fill="#8a8aff"/><rect x="15.6" y="5.2" width="2.9" height="2.9" fill="#8080ff"/><rect x="15.6" y="7.8" width="2.9" height="2.9" fill="#7575ff"/><rect x="15.6" y="10.4" width="2.9" height="2.9" fill="#6a6aff"/><rect x="15.6" y="13.0" width="2.9" height="2.9" fill="#6060ff"/><rect x="15.6" y="15.6" width="2.9" height="2.9" fill="#7575ff"/><rect x="15.6" y="18.2" width="2.9" height="5.5" fill="#8a8aff"/><rect x="15.6" y="23.4" width="2.9" height="5.5" fill="#8080ff"/><rect x="15.6" y="28.6" width="2.9" height="2.9" fill="#8a8aff"/><rect x="15.6" y="31.1" width="2.9" height="2.9" fill="#8080ff"/><rect x="15.6" y="33.7" width="2.9" height="5.5" fill="#7575ff"/><rect x="15.6" y="38.9" width="2.9" height="2.9" fill="#8a8aff"/><rect x="15.6" y="41.5" width="2.9" height="5.5" fill="#8080ff"/><rect x="15.6" y="46.7" width="2.9" height="2.9" fill="#7575ff"/><rect x="15.6" y="49.3" width="2.9" height="2.9" fill="#9595ff"/><rect x="15.6" y="51.9" width="2.9" height="2.9" fill="#8a8aff"/><rect x="15.6" y="54.5" width="2.9" height="2.9" fill="#7575ff"/><rect x="15.6" y="57.1" width="2.9" height="2.9" fill="#9f9fff"/><rect x="18.2" y="0.0" width="2.9" height="2.9" fill="#9595ff"/><rect x="18.2" y="2.6" width="2.9" height="5.5" fill="#8a8aff"/><rect x="18.2" y="7.8" width="2.9" height="2.9" fill="#7575ff"/><rect x="18.2" y="10.4" width="2.9" height="2.9" fill="#8a8aff"/><rect x="18.2" y="13.0" width="2.9" height="5.5" fill="#9595ff"/><rect x="18.2" y="18.2" width="2.9" height="2.9" fill="#9f9fff"/><rect x="18.2" y="20.8" width="2.9" height="10.7" fill="#7575ff"/><rect x="18.2" y="31.1" width="2.9" height="8.1" fill="#6a6aff"/><rect x="18.2" y="38.9" width="2.9" height="5.5" fill="#7575ff"/><rect x="18.2" y="44.1" width="2.9" height="5.5" fill="#8080ff"/><rect x="18.2" y="49.3" width="2.9" height="2.9" fill="#9595ff"/><rect x="18.2" y="51.9" width="2.9" height="5.5" fill="#8080ff"/><rect x="18.2" y="57.1" width="2.9" height="2.9" fill="#9595ff"/><rect x="20.8" y="0.0" width="2.9" height="2.9" fill="#9f9fff"/><rect x="20.8" y="2.6" width="2.9" height="5.5" fill="#8a8aff"/><rect x="20.8" y="7.8" width="2.9" height="2.9" fill="#9595ff"/><rect x="20.8" y="10.4" width="2.9" height="2.9" fill="#9f9fff"/><rect x="20.8" y="13.0" width="2.9" height="2.9" fill="#b5b5ff"/><rect x="20.8" y="15.6" width="2.9" height="2.9" fill="#d4d4ff"/><rect x="20.8" y="18.2" width="2.9" height="2.9" fill="#b5b5ff"/><rect x="20.8" y="20.8" width="2.9" height="2.9" fill="#9f9fff"/><rect x="20.8" y="23.4" width="2.9" height="5.5" fill="#8080ff"/><rect x="20.8" y="28.6" width="2.9" height="2.9" fill="#6a6aff"/><rect x="20.8" y="31.1" width="2.9" height="2.9" fill="#6060ff"/><rect x="20.8" y="33.7" width="2.9" height="2.9" fill="#7575ff"/><rect x="20.8" y="36.3" width="2.9" height="2.9" fill="#6a6aff"/><rect x="20.8" y="38.9" width="2.9" height="2.9" fill="#8080ff"/><rect x="20.8" y="41.5" width="2.9" height="5.5" fill="#7575ff"/><rect x="20.8" y="46.7" width="2.9" height="2.9" fill="#6060ff"/><rect x="20.8" y="49.3" width="2.9" height="2.9" fill="#7575ff"/><rect x="20.8" y="51.9" width="2.9" height="2.9" fill="#5555ff"/><rect x="20.8" y="54.5" width="2.9" height="2.9" fill="#6a6aff"/><rect x="20.8" y="57.1" width="2.9" height="2.9" fill="#8a8aff"/><rect x="23.4" y="0.0" width="2.9" height="2.9" fill="#9f9fff"/><rect x="23.4" y="2.6" width="2.9" height="2.9" fill="#9595ff"/><rect x="23.4" y="5.2" width="2.9" height="2.9" fill="#8080ff"/><rect x="23.4" y="7.8" width="2.9" height="2.9" fill="#8a8aff"/><rect x="23.4" y="10.4" width="2.9" height="2.9" fill="#9595ff"/><rect x="23.4" y="13.0" width="2.9" height="2.9" fill="#aaaaff"/><rect x="23.4" y="15.6" width="2.9" height="2.9" fill="#9f9fff"/><rect x="23.4" y="18.2" width="2.9" height="2.9" fill="#b5b5ff"/><rect x="23.4" y="20.8" width="2.9" height="2.9" fill="#8a8aff"/><rect x="23.4" y="23.4" width="2.9" height="2.9" fill="#8080ff"/><rect x="23.4" y="26.0" width="2.9" height="2.9" fill="#7575ff"/><rect x="23.4" y="28.6" width="2.9" height="2.9" fill="#4a4aff"/><rect x="23.4" y="31.1" width="2.9" height="2.9" fill="#2a2aff"/><rect x="23.4" y="33.7" width="2.9" height="2.9" fill="#4040ff"/><rect x="23.4" y="36.3" width="2.9" height="2.9" fill="#6060ff"/><rect x="23.4" y="38.9" width="2.9" height="2.9" fill="#8080ff"/><rect x="23.4" y="41.5" width="2.9" height="2.9" fill="#7575ff"/><rect x="23.4" y="44.1" width="2.9" height="2.9" fill="#8080ff"/><rect x="23.4" y="46.7" width="2.9" height="2.9" fill="#6060ff"/><rect x="23.4" y="49.3" width="2.9" height="2.9" fill="#5555ff"/><rect x="23.4" y="51.9" width="2.9" height="5.5" fill="#4a4aff"/><rect x="23.4" y="57.1" width="2.9" height="2.9" fill="#7575ff"/><rect x="25.9" y="0.0" width="2.9" height="2.9" fill="#9595ff"/><rect x="25.9" y="2.6" width="2.9" height="8.1" fill="#8080ff"/><rect x="25.9" y="10.4" width="2.9" height="2.9" fill="#7575ff"/><rect x="25.9" y="13.0" width="2.9" height="2.9" fill="#8080ff"/><rect x="25.9" y="15.6" width="2.9" height="2.9" fill="#9595ff"/><rect x="25.9" y="18.2" width="2.9" height="2.9" fill="#8a8aff"/><rect x="25.9" y="20.8" width="2.9" height="2.9" fill="#9595ff"/><rect x="25.9" y="23.4" width="2.9" height="5.5" fill="#8a8aff"/><rect x="25.9" y="28.6" width="2.9" height="2.9" fill="#4a4aff"/><rect x="25.9" y="31.1" width="2.9" height="2.9" fill="#1515ff"/><rect x="25.9" y="33.7" width="2.9" height="2.9" fill="#3535ff"/><rect x="25.9" y="36.3" width="2.9" height="2.9" fill="#4a4aff"/><rect x="25.9" y="38.9" width="2.9" height="5.5" fill="#7575ff"/><rect x="25.9" y="44.1" width="2.9" height="2.9" fill="#6060ff"/><rect x="25.9" y="46.7" width="2.9" height="2.9" fill="#6a6aff"/><rect x="25.9" y="49.3" width="2.9" height="2.9" fill="#6060ff"/><rect x="25.9" y="51.9" width="2.9" height="2.9" fill="#5555ff"/><rect x="25.9" y="54.5" width="2.9" height="2.9" fill="#6a6aff"/><rect x="25.9" y="57.1" width="2.9" height="2.9" fill="#8a8aff"/><rect x="28.5" y="0.0" width="2.9" height="2.9" fill="#8a8aff"/><rect x="28.5" y="2.6" width="2.9" height="2.9" fill="#6a6aff"/><rect x="28.5" y="5.2" width="2.9" height="2.9" fill="#7575ff"/><rect x="28.5" y="7.8" width="2.9" height="2.9" fill="#9595ff"/><rect x="28.5" y="10.4" width="2.9" height="8.1" fill="#7575ff"/><rect x="28.5" y="18.2" width="2.9" height="2.9" fill="#8a8aff"/><rect x="28.5" y="20.8" width="2.9" height="2.9" fill="#9f9fff"/><rect x="28.5" y="23.4" width="2.9" height="2.9" fill="#bfbfff"/><rect x="28.5" y="26.0" width="2.9" height="2.9" fill="#d4d4ff"/><rect x="28.5" y="28.6" width="2.9" height="2.9" fill="#8080ff"/><rect x="28.5" y="31.1" width="2.9" height="2.9" fill="#3535ff"/><rect x="28.5" y="33.7" width="2.9" height="2.9" fill="#4a4aff"/><rect x="28.5" y="36.3" width="2.9" height="2.9" fill="#5555ff"/><rect x="28.5" y="38.9" width="2.9" height="2.9" fill="#6a6aff"/><rect x="28.5" y="41.5" width="2.9" height="5.5" fill="#5555ff"/><rect x="28.5" y="46.7" width="2.9" height="2.9" fill="#6a6aff"/><rect x="28.5" y="49.3" width="2.9" height="2.9" fill="#8a8aff"/><rect x="28.5" y="51.9" width="2.9" height="5.5" fill="#9595ff"/><rect x="28.5" y="57.1" width="2.9" height="2.9" fill="#b5b5ff"/><rect x="31.1" y="0.0" width="2.9" height="2.9" fill="#9595ff"/><rect x="31.1" y="2.6" width="2.9" height="2.9" fill="#8080ff"/><rect x="31.1" y="5.2" width="2.9" height="2.9" fill="#7575ff"/><rect x="31.1" y="7.8" width="2.9" height="2.9" fill="#6a6aff"/><rect x="31.1" y="10.4" width="2.9" height="8.1" fill="#6060ff"/><rect x="31.1" y="18.2" width="2.9" height="2.9" fill="#7575ff"/><rect x="31.1" y="20.8" width="2.9" height="2.9" fill="#9595ff"/><rect x="31.1" y="23.4" width="2.9" height="5.5" fill="#dfdfff"/><rect x="31.1" y="28.6" width="2.9" height="2.9" fill="#9595ff"/><rect x="31.1" y="31.1" width="2.9" height="2.9" fill="#8080ff"/><rect x="31.1" y="33.7" width="2.9" height="2.9" fill="#6060ff"/><rect x="31.1" y="36.3" width="2.9" height="2.9" fill="#6a6aff"/><rect x="31.1" y="38.9" width="2.9" height="8.1" fill="#6060ff"/><rect x="31.1" y="46.7" width="2.9" height="2.9" fill="#7575ff"/><rect x="31.1" y="49.3" width="2.9" height="2.9" fill="#9f9fff"/><rect x="31.1" y="51.9" width="2.9" height="2.9" fill="#b5b5ff"/><rect x="31.1" y="54.5" width="2.9" height="2.9" fill="#bfbfff"/><rect x="31.1" y="57.1" width="2.9" height="2.9" fill="#d4d4ff"/><rect x="33.7" y="0.0" width="2.9" height="2.9" fill="#9595ff"/><rect x="33.7" y="2.6" width="2.9" height="2.9" fill="#7575ff"/><rect x="33.7" y="5.2" width="2.9" height="2.9" fill="#6a6aff"/><rect x="33.7" y="7.8" width="2.9" height="2.9" fill="#8080ff"/><rect x="33.7" y="10.4" width="2.9" height="2.9" fill="#6a6aff"/><rect x="33.7" y="13.0" width="2.9" height="2.9" fill="#3535ff"/><rect x="33.7" y="15.6" width="2.9" height="2.9" fill="#2a2aff"/><rect x="33.7" y="18.2" width="2.9" height="2.9" fill="#4a4aff"/><rect x="33.7" y="20.8" width="2.9" height="2.9" fill="#9595ff"/><rect x="33.7" y="23.4" width="2.9" height="2.9" fill="#cacaff"/><rect x="33.7" y="26.0" width="2.9" height="2.9" fill="#aaaaff"/><rect x="33.7" y="28.6" width="2.9" height="2.9" fill="#8080ff"/><rect x="33.7" y="31.1" width="2.9" height="2.9" fill="#6a6aff"/><rect x="33.7" y="33.7" width="2.9" height="5.5" fill="#8080ff"/><rect x="33.7" y="38.9" width="2.9" height="2.9" fill="#7575ff"/><rect x="33.7" y="41.5" width="2.9" height="5.5" fill="#6a6aff"/><rect x="33.7" y="46.7" width="2.9" height="2.9" fill="#9595ff"/><rect x="33.7" y="49.3" width="2.9" height="2.9" fill="#b5b5ff"/><rect x="33.7" y="51.9" width="2.9" height="2.9" fill="#cacaff"/><rect x="33.7" y="54.5" width="2.9" height="2.9" fill="#dfdfff"/><rect x="33.7" y="57.1" width="2.9" height="2.9" fill="#cacaff"/><rect x="36.3" y="0.0" width="2.9" height="2.9" fill="#9595ff"/><rect x="36.3" y="2.6" width="2.9" height="5.5" fill="#7575ff"/><rect x="36.3" y="7.8" width="2.9" height="5.5" fill="#8a8aff"/><rect x="36.3" y="13.0" width="2.9" height="2.9" fill="#3535ff"/><rect x="36.3" y="15.6" width="2.9" height="2.9" fill="#0b0bff"/><rect x="36.3" y="18.2" width="2.9" height="2.9" fill="#1515ff"/><rect x="36.3" y="20.8" width="2.9" height="2.9" fill="#8080ff"/><rect x="36.3" y="23.4" width="2.9" height="2.9" fill="#7575ff"/><rect x="36.3" y="26.0" width="2.9" height="5.5" fill="#6060ff"/><rect x="36.3" y="31.1" width="2.9" height="2.9" fill="#7575ff"/><rect x="36.3" y="33.7" width="2.9" height="2.9" fill="#6a6aff"/><rect x="36.3" y="36.3" width="2.9" height="2.9" fill="#8080ff"/><rect x="36.3" y="38.9" width="2.9" height="2.9" fill="#6a6aff"/><rect x="36.3" y="41.5" width="2.9" height="2.9" fill="#5555ff"/><rect x="36.3" y="44.1" width="2.9" height="2.9" fill="#6060ff"/><rect x="36.3" y="46.7" width="2.9" height="2.9" fill="#7575ff"/><rect x="36.3" y="49.3" width="2.9" height="2.9" fill="#aaaaff"/><rect x="36.3" y="51.9" width="2.9" height="2.9" fill="#dfdfff"/><rect x="36.3" y="54.5" width="2.9" height="5.5" fill="#d4d4ff"/><rect x="38.9" y="0.0" width="2.9" height="5.5" fill="#9595ff"/><rect x="38.9" y="5.2" width="2.9" height="2.9" fill="#aaaaff"/><rect x="38.9" y="7.8" width="2.9" height="2.9" fill="#b5b5ff"/><rect x="38.9" y="10.4" width="2.9" height="2.9" fill="#9f9fff"/><rect x="38.9" y="13.0" width="2.9" height="2.9" fill="#6060ff"/><rect x="38.9" y="15.6" width="2.9" height="2.9" fill="#3535ff"/><rect x="38.9" y="18.2" width="2.9" height="2.9" fill="#4a4aff"/><rect x="38.9" y="20.8" width="2.9" height="2.9" fill="#6a6aff"/><rect x="38.9" y="23.4" width="2.9" height="2.9" fill="#8080ff"/><rect x="38.9" y="26.0" width="2.9" height="2.9" fill="#6060ff"/><rect x="38.9" y="28.6" width="2.9" height="2.9" fill="#6a6aff"/><rect x="38.9" y="31.1" width="2.9" height="2.9" fill="#6060ff"/><rect x="38.9" y="33.7" width="2.9" height="2.9" fill="#8080ff"/><rect x="38.9" y="36.3" width="2.9" height="2.9" fill="#7575ff"/><rect x="38.9" y="38.9" width="2.9" height="8.1" fill="#6a6aff"/><rect x="38.9" y="46.7" width="2.9" height="2.9" fill="#7575ff"/><rect x="38.9" y="49.3" width="2.9" height="2.9" fill="#9f9fff"/><rect x="38.9" y="51.9" width="2.9" height="2.9" fill="#bfbfff"/><rect x="38.9" y="54.5" width="2.9" height="2.9" fill="#cacaff"/><rect x="38.9" y="57.1" width="2.9" height="2.9" fill="#d4d4ff"/><rect x="41.5" y="0.0" width="2.9" height="5.5" fill="#aaaaff"/><rect x="41.5" y="5.2" width="2.9" height="2.9" fill="#cacaff"/><rect x="41.5" y="7.8" width="2.9" height="2.9" fill="#bfbfff"/><rect x="41.5" y="10.4" width="2.9" height="2.9" fill="#cacaff"/><rect x="41.5" y="13.0" width="2.9" height="2.9" fill="#aaaaff"/><rect x="41.5" y="15.6" width="2.9" height="2.9" fill="#7575ff"/><rect x="41.5" y="18.2" width="2.9" height="2.9" fill="#6060ff"/><rect x="41.5" y="20.8" width="2.9" height="2.9" fill="#7575ff"/><rect x="41.5" y="23.4" width="2.9" height="5.5" fill="#8080ff"/><rect x="41.5" y="28.6" width="2.9" height="2.9" fill="#6a6aff"/><rect x="41.5" y="31.1" width="2.9" height="2.9" fill="#7575ff"/><rect x="41.5" y="33.7" width="2.9" height="2.9" fill="#8080ff"/><rect x="41.5" y="36.3" width="2.9" height="2.9" fill="#6a6aff"/><rect x="41.5" y="38.9" width="2.9" height="2.9" fill="#7575ff"/><rect x="41.5" y="41.5" width="2.9" height="5.5" fill="#6a6aff"/><rect x="41.5" y="46.7" width="2.9" height="2.9" fill="#8080ff"/><rect x="41.5" y="49.3" width="2.9" height="2.9" fill="#b5b5ff"/><rect x="41.5" y="51.9" width="2.9" height="5.5" fill="#bfbfff"/><rect x="41.5" y="57.1" width="2.9" height="2.9" fill="#b5b5ff"/><rect x="44.1" y="0.0" width="2.9" height="5.5" fill="#9f9fff"/><rect x="44.1" y="5.2" width="2.9" height="2.9" fill="#b5b5ff"/><rect x="44.1" y="7.8" width="2.9" height="2.9" fill="#bfbfff"/><rect x="44.1" y="10.4" width="2.9" height="2.9" fill="#cacaff"/><rect x="44.1" y="13.0" width="2.9" height="2.9" fill="#9595ff"/><rect x="44.1" y="15.6" width="2.9" height="2.9" fill="#8a8aff"/><rect x="44.1" y="18.2" width="2.9" height="2.9" fill="#6a6aff"/><rect x="44.1" y="20.8" width="2.9" height="2.9" fill="#8080ff"/><rect x="44.1" y="23.4" width="2.9" height="2.9" fill="#8a8aff"/><rect x="44.1" y="26.0" width="2.9" height="2.9" fill="#9595ff"/><rect x="44.1" y="28.6" width="2.9" height="2.9" fill="#8a8aff"/><rect x="44.1" y="31.1" width="2.9" height="2.9" fill="#9595ff"/><rect x="44.1" y="33.7" width="2.9" height="2.9" fill="#7575ff"/><rect x="44.1" y="36.3" width="2.9" height="2.9" fill="#6a6aff"/><rect x="44.1" y="38.9" width="2.9" height="2.9" fill="#8080ff"/><rect x="44.1" y="41.5" width="2.9" height="8.1" fill="#9595ff"/><rect x="44.1" y="49.3" width="2.9" height="5.5" fill="#aaaaff"/><rect x="44.1" y="54.5" width="2.9" height="2.9" fill="#cacaff"/><rect x="44.1" y="57.1" width="2.9" height="2.9" fill="#dfdfff"/><rect x="46.7" y="0.0" width="2.9" height="2.9" fill="#8a8aff"/><rect x="46.7" y="2.6" width="2.9" height="2.9" fill="#9f9fff"/><rect x="46.7" y="5.2" width="2.9" height="2.9" fill="#9595ff"/><rect x="46.7" y="7.8" width="2.9" height="5.5" fill="#aaaaff"/><rect x="46.7" y="13.0" width="2.9" height="2.9" fill="#8a8aff"/><rect x="46.7" y="15.6" width="2.9" height="5.5" fill="#9595ff"/><rect x="46.7" y="20.8" width="2.9" height="2.9" fill="#7575ff"/><rect x="46.7" y="23.4" width="2.9" height="2.9" fill="#8a8aff"/><rect x="46.7" y="26.0" width="2.9" height="2.9" fill="#8080ff"/><rect x="46.7" y="28.6" width="2.9" height="2.9" fill="#aaaaff"/><rect x="46.7" y="31.1" width="2.9" height="5.5" fill="#8080ff"/><rect x="46.7" y="36.3" width="2.9" height="2.9" fill="#8a8aff"/><rect x="46.7" y="38.9" width="2.9" height="2.9" fill="#aaaaff"/><rect x="46.7" y="41.5" width="2.9" height="2.9" fill="#9595ff"/><rect x="46.7" y="44.1" width="2.9" height="2.9" fill="#9f9fff"/><rect x="46.7" y="46.7" width="2.9" height="2.9" fill="#9595ff"/><rect x="46.7" y="49.3" width="2.9" height="2.9" fill="#aaaaff"/><rect x="46.7" y="51.9" width="2.9" height="2.9" fill="#9595ff"/><rect x="46.7" y="54.5" width="2.9" height="2.9" fill="#aaaaff"/><rect x="46.7" y="57.1" width="2.9" height="2.9" fill="#cacaff"/><rect x="49.3" y="0.0" width="2.9" height="2.9" fill="#8a8aff"/><rect x="49.3" y="2.6" width="2.9" height="2.9" fill="#9f9fff"/><rect x="49.3" y="5.2" width="2.9" height="2.9" fill="#aaaaff"/><rect x="49.3" y="7.8" width="2.9" height="2.9" fill="#b5b5ff"/><rect x="49.3" y="10.4" width="2.9" height="5.5" fill="#9f9fff"/><rect x="49.3" y="15.6" width="2.9" height="5.5" fill="#aaaaff"/><rect x="49.3" y="20.8" width="2.9" height="2.9" fill="#9595ff"/><rect x="49.3" y="23.4" width="2.9" height="8.1" fill="#9f9fff"/><rect x="49.3" y="31.1" width="2.9" height="2.9" fill="#aaaaff"/><rect x="49.3" y="33.7" width="2.9" height="2.9" fill="#9595ff"/><rect x="49.3" y="36.3" width="2.9" height="10.7" fill="#aaaaff"/><rect x="49.3" y="46.7" width="2.9" height="2.9" fill="#9f9fff"/><rect x="49.3" y="49.3" width="2.9" height="2.9" fill="#9595ff"/><rect x="49.3" y="51.9" width="2.9" height="2.9" fill="#aaaaff"/><rect x="49.3" y="54.5" width="2.9" height="2.9" fill="#9f9fff"/><rect x="49.3" y="57.1" width="2.9" height="2.9" fill="#aaaaff"/></g>
<ellipse cx="17.5" cy="2.5" rx="6.5" ry="2.5" fill="#fbe8ee" fill-opacity="1" filter="url(#b1)"/>
<ellipse cx="20.4" cy="47.7" rx="3.6" ry="4.5" fill="#fde4e6" fill-opacity="1" filter="url(#b1)"/>
<path d="M7.85,13.09 C8.33,11.02 9.86,10.54 11.88,9.87 C13.89,9.20 17.24,9.14 19.93,9.06 C22.61,8.99 25.96,8.93 27.98,9.41 C29.99,9.89 31.23,10.85 32.00,11.94 C32.77,13.03 32.96,14.62 32.58,15.96 C32.19,17.31 30.85,18.65 29.70,19.99 C28.55,21.33 26.82,22.48 25.68,24.01 C24.53,25.55 23.85,27.37 22.80,29.19 C21.75,31.01 20.60,34.27 19.35,34.94 C18.10,35.61 16.47,34.36 15.32,33.21 C14.17,32.06 13.50,29.86 12.45,28.04 C11.40,26.22 9.77,24.78 9.00,22.29 C8.23,19.80 7.37,15.16 7.85,13.09Z" fill="#fbfbff" filter="url(#b1)"/>
<path d="M9.50,14.00 C9.92,12.20 11.25,11.78 13.00,11.20 C14.75,10.62 17.67,10.57 20.00,10.50 C22.33,10.43 25.25,10.38 27.00,10.80 C28.75,11.22 29.83,12.05 30.50,13.00 C31.17,13.95 31.33,15.33 31.00,16.50 C30.67,17.67 29.50,18.83 28.50,20.00 C27.50,21.17 26.00,22.17 25.00,23.50 C24.00,24.83 23.42,26.42 22.50,28.00 C21.58,29.58 20.58,32.42 19.50,33.00 C18.42,33.58 17.00,32.50 16.00,31.50 C15.00,30.50 14.42,28.58 13.50,27.00 C12.58,25.42 11.17,24.17 10.50,22.00 C9.83,19.83 9.08,15.80 9.50,14.00Z" fill="#ffdada" filter="url(#b0_8)"/>
<path d="M10.89,14.55 C11.25,13.00 12.40,12.64 13.90,12.14 C15.41,11.64 17.92,11.60 19.92,11.54 C21.93,11.48 24.44,11.44 25.94,11.80 C27.45,12.16 28.38,12.87 28.95,13.69 C29.53,14.51 29.67,15.70 29.38,16.70 C29.10,17.70 28.09,18.71 27.23,19.71 C26.37,20.71 25.08,21.57 24.22,22.72 C23.36,23.87 22.86,25.23 22.07,26.59 C21.28,27.95 20.42,30.39 19.49,30.89 C18.56,31.39 17.34,30.46 16.48,29.60 C15.62,28.74 15.12,27.09 14.33,25.73 C13.54,24.37 12.33,23.29 11.75,21.43 C11.18,19.57 10.53,16.10 10.89,14.55Z" fill="#ffb0b0" filter="url(#b1)"/>
<path d="M12.68,15.26 C12.97,14.03 13.87,13.75 15.06,13.35 C16.25,12.95 18.24,12.92 19.82,12.88 C21.41,12.83 23.39,12.80 24.58,13.08 C25.77,13.36 26.51,13.93 26.96,14.58 C27.42,15.22 27.53,16.16 27.30,16.96 C27.08,17.75 26.28,18.54 25.60,19.34 C24.92,20.13 23.90,20.81 23.22,21.72 C22.54,22.62 22.15,23.70 21.52,24.78 C20.90,25.85 20.22,27.78 19.48,28.18 C18.75,28.57 17.78,27.84 17.10,27.16 C16.42,26.48 16.03,25.17 15.40,24.10 C14.78,23.02 13.82,22.17 13.36,20.70 C12.91,19.22 12.40,16.48 12.68,15.26Z" fill="#ff7474" filter="url(#b1)"/>
<path d="M14.67,16.04 C14.87,15.18 15.51,14.98 16.35,14.70 C17.19,14.42 18.59,14.39 19.71,14.36 C20.83,14.33 22.23,14.30 23.07,14.50 C23.91,14.70 24.43,15.10 24.75,15.56 C25.07,16.02 25.15,16.68 24.99,17.24 C24.83,17.80 24.27,18.36 23.79,18.92 C23.31,19.48 22.59,19.96 22.11,20.60 C21.63,21.24 21.35,22.00 20.91,22.76 C20.47,23.52 19.99,24.88 19.47,25.16 C18.95,25.44 18.27,24.92 17.79,24.44 C17.31,23.96 17.03,23.04 16.59,22.28 C16.15,21.52 15.47,20.92 15.15,19.88 C14.83,18.84 14.47,16.90 14.67,16.04Z" fill="#ff3c3c" filter="url(#b1)"/>
<path d="M16.66,16.82 C16.78,16.32 17.15,16.20 17.64,16.04 C18.13,15.88 18.95,15.86 19.60,15.84 C20.26,15.83 21.07,15.81 21.56,15.93 C22.05,16.05 22.36,16.28 22.54,16.54 C22.73,16.81 22.78,17.20 22.68,17.52 C22.59,17.85 22.26,18.18 21.98,18.50 C21.70,18.83 21.28,19.11 21.00,19.48 C20.72,19.86 20.56,20.30 20.30,20.74 C20.05,21.19 19.77,21.98 19.46,22.14 C19.16,22.31 18.76,22.00 18.48,21.72 C18.20,21.44 18.04,20.91 17.78,20.46 C17.53,20.02 17.13,19.67 16.94,19.06 C16.76,18.46 16.55,17.33 16.66,16.82Z" fill="#ff0c0c" filter="url(#b1)"/>
<circle cx="19" cy="17" r="0.75" fill="#111"/>
<path d="M9.1,6.1h1.6v1.6h-1.6zM19.4,6.1h1.6v1.6h-1.6zM31.0,6.1h1.6v1.6h-1.6zM41.3,6.1h1.6v1.6h-1.6zM9.7,14.6h1.6v1.6h-1.6zM19.8,14.6h1.6v1.6h-1.6zM30.6,14.6h1.6v1.6h-1.6zM42.0,14.6h1.6v1.6h-1.6zM7.9,22.8h1.6v1.6h-1.6zM42.5,22.8h1.6v1.6h-1.6zM7.9,31.2h1.6v1.6h-1.6zM18.0,31.2h1.6v1.6h-1.6zM32.9,31.2h1.6v1.6h-1.6zM42.5,31.2h1.6v1.6h-1.6zM7.9,39.6h1.6v1.6h-1.6zM18.0,39.6h1.6v1.6h-1.6zM32.9,39.6h1.6v1.6h-1.6zM42.5,39.6h1.6v1.6h-1.6zM7.9,48.0h1.6v1.6h-1.6zM42.5,48.0h1.6v1.6h-1.6z" fill="#f2904a" fill-opacity="0.6"/>
</g>
<rect x="0" y="0" width="51.9" height="59.7" fill="none" stroke="#7a7a7a" stroke-width="0.8"/>
<path d="M8.7,59.7v1.3M0,8.5h-1.3M17.3,59.7v1.3M0,17.1h-1.3M25.9,59.7v1.3M0,25.6h-1.3M34.6,59.7v1.3M0,34.1h-1.3M43.2,59.7v1.3M0,42.6h-1.3" stroke="#777" stroke-width="0.5"/>
</g>
<clipPath id="tc7"><rect x="0" y="0" width="52.2" height="58.9"/></clipPath>
<g transform="translate(245.3,232.5)"><g clip-path="url(#tc7)">
<rect width="52.2" height="58.9" fill="#7474ff"/>
<g filter="url(#b0_8)"><rect x="0.0" y="0.0" width="2.9" height="8.0" fill="#aaaaff"/><rect x="0.0" y="7.7" width="2.9" height="2.9" fill="#8a8aff"/><rect x="0.0" y="10.2" width="2.9" height="13.1" fill="#9f9fff"/><rect x="0.0" y="23.0" width="2.9" height="2.9" fill="#8080ff"/><rect x="0.0" y="25.6" width="2.9" height="2.9" fill="#9595ff"/><rect x="0.0" y="28.2" width="2.9" height="2.9" fill="#8a8aff"/><rect x="0.0" y="30.7" width="2.9" height="2.9" fill="#b5b5ff"/><rect x="0.0" y="33.3" width="2.9" height="2.9" fill="#9f9fff"/><rect x="0.0" y="35.9" width="2.9" height="2.9" fill="#b5b5ff"/><rect x="0.0" y="38.4" width="2.9" height="2.9" fill="#9595ff"/><rect x="0.0" y="41.0" width="2.9" height="2.9" fill="#aaaaff"/><rect x="0.0" y="43.5" width="2.9" height="2.9" fill="#7575ff"/><rect x="0.0" y="46.1" width="2.9" height="2.9" fill="#aaaaff"/><rect x="0.0" y="48.7" width="2.9" height="2.9" fill="#9595ff"/><rect x="0.0" y="51.2" width="2.9" height="2.9" fill="#8a8aff"/><rect x="0.0" y="53.8" width="2.9" height="5.4" fill="#7575ff"/><rect x="2.6" y="0.0" width="2.9" height="2.9" fill="#bfbfff"/><rect x="2.6" y="2.6" width="2.9" height="2.9" fill="#aaaaff"/><rect x="2.6" y="5.1" width="2.9" height="2.9" fill="#9f9fff"/><rect x="2.6" y="7.7" width="2.9" height="2.9" fill="#8a8aff"/><rect x="2.6" y="10.2" width="2.9" height="2.9" fill="#9f9fff"/><rect x="2.6" y="12.8" width="2.9" height="5.4" fill="#8a8aff"/><rect x="2.6" y="17.9" width="2.9" height="2.9" fill="#9595ff"/><rect x="2.6" y="20.5" width="2.9" height="2.9" fill="#8080ff"/><rect x="2.6" y="23.0" width="2.9" height="2.9" fill="#8a8aff"/><rect x="2.6" y="25.6" width="2.9" height="2.9" fill="#7575ff"/><rect x="2.6" y="28.2" width="2.9" height="2.9" fill="#8080ff"/><rect x="2.6" y="30.7" width="2.9" height="2.9" fill="#6a6aff"/><rect x="2.6" y="33.3" width="2.9" height="2.9" fill="#8080ff"/><rect x="2.6" y="35.9" width="2.9" height="2.9" fill="#9595ff"/><rect x="2.6" y="38.4" width="2.9" height="2.9" fill="#8080ff"/><rect x="2.6" y="41.0" width="2.9" height="2.9" fill="#8a8aff"/><rect x="2.6" y="43.5" width="2.9" height="2.9" fill="#6060ff"/><rect x="2.6" y="46.1" width="2.9" height="2.9" fill="#7575ff"/><rect x="2.6" y="48.7" width="2.9" height="2.9" fill="#8a8aff"/><rect x="2.6" y="51.2" width="2.9" height="5.4" fill="#6060ff"/><rect x="2.6" y="56.3" width="2.9" height="2.9" fill="#7575ff"/><rect x="5.2" y="0.0" width="2.9" height="2.9" fill="#b5b5ff"/><rect x="5.2" y="2.6" width="2.9" height="2.9" fill="#aaaaff"/><rect x="5.2" y="5.1" width="2.9" height="2.9" fill="#8a8aff"/><rect x="5.2" y="7.7" width="2.9" height="2.9" fill="#7575ff"/><rect x="5.2" y="10.2" width="2.9" height="2.9" fill="#8a8aff"/><rect x="5.2" y="12.8" width="2.9" height="8.0" fill="#8080ff"/><rect x="5.2" y="20.5" width="2.9" height="2.9" fill="#8a8aff"/><rect x="5.2" y="23.0" width="2.9" height="8.0" fill="#7575ff"/><rect x="5.2" y="30.7" width="2.9" height="2.9" fill="#4a4aff"/><rect x="5.2" y="33.3" width="2.9" height="2.9" fill="#4040ff"/><rect x="5.2" y="35.9" width="2.9" height="2.9" fill="#6a6aff"/><rect x="5.2" y="38.4" width="2.9" height="2.9" fill="#9595ff"/><rect x="5.2" y="41.0" width="2.9" height="2.9" fill="#aaaaff"/><rect x="5.2" y="43.5" width="2.9" height="2.9" fill="#9595ff"/><rect x="5.2" y="46.1" width="2.9" height="2.9" fill="#9f9fff"/><rect x="5.2" y="48.7" width="2.9" height="2.9" fill="#7575ff"/><rect x="5.2" y="51.2" width="2.9" height="2.9" fill="#5555ff"/><rect x="5.2" y="53.8" width="2.9" height="2.9" fill="#6060ff"/><rect x="5.2" y="56.3" width="2.9" height="2.9" fill="#8080ff"/><rect x="7.8" y="0.0" width="2.9" height="2.9" fill="#bfbfff"/><rect x="7.8" y="2.6" width="2.9" height="2.9" fill="#9f9fff"/><rect x="7.8" y="5.1" width="2.9" height="2.9" fill="#8080ff"/><rect x="7.8" y="7.7" width="2.9" height="2.9" fill="#8a8aff"/><rect x="7.8" y="10.2" width="2.9" height="2.9" fill="#7575ff"/><rect x="7.8" y="12.8" width="2.9" height="2.9" fill="#8080ff"/><rect x="7.8" y="15.4" width="2.9" height="2.9" fill="#6060ff"/><rect x="7.8" y="17.9" width="2.9" height="2.9" fill="#7575ff"/><rect x="7.8" y="20.5" width="2.9" height="2.9" fill="#8a8aff"/><rect x="7.8" y="23.0" width="2.9" height="2.9" fill="#6060ff"/><rect x="7.8" y="25.6" width="2.9" height="2.9" fill="#8080ff"/><rect x="7.8" y="28.2" width="2.9" height="2.9" fill="#7575ff"/><rect x="7.8" y="30.7" width="2.9" height="5.4" fill="#4040ff"/><rect x="7.8" y="35.9" width="2.9" height="2.9" fill="#7575ff"/><rect x="7.8" y="38.4" width="2.9" height="5.4" fill="#aaaaff"/><rect x="7.8" y="43.5" width="2.9" height="2.9" fill="#9f9fff"/><rect x="7.8" y="46.1" width="2.9" height="2.9" fill="#9595ff"/><rect x="7.8" y="48.7" width="2.9" height="2.9" fill="#8a8aff"/><rect x="7.8" y="51.2" width="2.9" height="5.4" fill="#7575ff"/><rect x="7.8" y="56.3" width="2.9" height="2.9" fill="#8a8aff"/><rect x="10.4" y="0.0" width="2.9" height="2.9" fill="#d4d4ff"/><rect x="10.4" y="2.6" width="2.9" height="2.9" fill="#b5b5ff"/><rect x="10.4" y="5.1" width="2.9" height="2.9" fill="#8a8aff"/><rect x="10.4" y="7.7" width="2.9" height="5.4" fill="#8080ff"/><rect x="10.4" y="12.8" width="2.9" height="2.9" fill="#4a4aff"/><rect x="10.4" y="15.4" width="2.9" height="2.9" fill="#4040ff"/><rect x="10.4" y="17.9" width="2.9" height="2.9" fill="#5555ff"/><rect x="10.4" y="20.5" width="2.9" height="2.9" fill="#7575ff"/><rect x="10.4" y="23.0" width="2.9" height="5.4" fill="#8080ff"/><rect x="10.4" y="28.2" width="2.9" height="2.9" fill="#6060ff"/><rect x="10.4" y="30.7" width="2.9" height="5.4" fill="#5555ff"/><rect x="10.4" y="35.9" width="2.9" height="2.9" fill="#8080ff"/><rect x="10.4" y="38.4" width="2.9" height="2.9" fill="#aaaaff"/><rect x="10.4" y="41.0" width="2.9" height="2.9" fill="#8a8aff"/><rect x="10.4" y="43.5" width="2.9" height="2.9" fill="#6a6aff"/><rect x="10.4" y="46.1" width="2.9" height="2.9" fill="#8080ff"/><rect x="10.4" y="48.7" width="2.9" height="2.9" fill="#8a8aff"/><rect x="10.4" y="51.2" width="2.9" height="5.4" fill="#8080ff"/><rect x="10.4" y="56.3" width="2.9" height="2.9" fill="#9f9fff"/><rect x="13.1" y="0.0" width="2.9" height="2.9" fill="#cacaff"/><rect x="13.1" y="2.6" width="2.9" height="2.9" fill="#aaaaff"/><rect x="13.1" y="5.1" width="2.9" height="2.9" fill="#9f9fff"/><rect x="13.1" y="7.7" width="2.9" height="2.9" fill="#8a8aff"/><rect x="13.1" y="10.2" width="2.9" height="2.9" fill="#8080ff"/><rect x="13.1" y="12.8" width="2.9" height="2.9" fill="#6060ff"/><rect x="13.1" y="15.4" width="2.9" height="2.9" fill="#4a4aff"/><rect x="13.1" y="17.9" width="2.9" height="2.9" fill="#5555ff"/><rect x="13.1" y="20.5" width="2.9" height="5.4" fill="#8a8aff"/><rect x="13.1" y="25.6" width="2.9" height="2.9" fill="#8080ff"/><rect x="13.1" y="28.2" width="2.9" height="5.4" fill="#7575ff"/><rect x="13.1" y="33.3" width="2.9" height="2.9" fill="#9595ff"/><rect x="13.1" y="35.9" width="2.9" height="5.4" fill="#8080ff"/><rect x="13.1" y="41.0" width="2.9" height="2.9" fill="#7575ff"/><rect x="13.1" y="43.5" width="2.9" height="2.9" fill="#4a4aff"/><rect x="13.1" y="46.1" width="2.9" height="2.9" fill="#5555ff"/><rect x="13.1" y="48.7" width="2.9" height="2.9" fill="#6a6aff"/><rect x="13.1" y="51.2" width="2.9" height="2.9" fill="#8080ff"/><rect x="13.1" y="53.8" width="2.9" height="2.9" fill="#7575ff"/><rect x="13.1" y="56.3" width="2.9" height="2.9" fill="#bfbfff"/><rect x="15.7" y="0.0" width="2.9" height="2.9" fill="#b5b5ff"/><rect x="15.7" y="2.6" width="2.9" height="2.9" fill="#9f9fff"/><rect x="15.7" y="5.1" width="2.9" height="2.9" fill="#8080ff"/><rect x="15.7" y="7.7" width="2.9" height="2.9" fill="#8a8aff"/><rect x="15.7" y="10.2" width="2.9" height="2.9" fill="#8080ff"/><rect x="15.7" y="12.8" width="2.9" height="5.4" fill="#6a6aff"/><rect x="15.7" y="17.9" width="2.9" height="2.9" fill="#8a8aff"/><rect x="15.7" y="20.5" width="2.9" height="2.9" fill="#7575ff"/><rect x="15.7" y="23.0" width="2.9" height="2.9" fill="#8080ff"/><rect x="15.7" y="25.6" width="2.9" height="2.9" fill="#7575ff"/><rect x="15.7" y="28.2" width="2.9" height="5.4" fill="#8080ff"/><rect x="15.7" y="33.3" width="2.9" height="10.5" fill="#7575ff"/><rect x="15.7" y="43.5" width="2.9" height="2.9" fill="#6a6aff"/><rect x="15.7" y="46.1" width="2.9" height="2.9" fill="#5555ff"/><rect x="15.7" y="48.7" width="2.9" height="2.9" fill="#6a6aff"/><rect x="15.7" y="51.2" width="2.9" height="5.4" fill="#8080ff"/><rect x="15.7" y="56.3" width="2.9" height="2.9" fill="#9595ff"/><rect x="18.3" y="0.0" width="2.9" height="2.9" fill="#bfbfff"/><rect x="18.3" y="2.6" width="2.9" height="2.9" fill="#9595ff"/><rect x="18.3" y="5.1" width="2.9" height="2.9" fill="#6a6aff"/><rect x="18.3" y="7.7" width="2.9" height="10.5" fill="#8080ff"/><rect x="18.3" y="17.9" width="2.9" height="2.9" fill="#8a8aff"/><rect x="18.3" y="20.5" width="2.9" height="2.9" fill="#6a6aff"/><rect x="18.3" y="23.0" width="2.9" height="5.4" fill="#5555ff"/><rect x="18.3" y="28.2" width="2.9" height="2.9" fill="#6a6aff"/><rect x="18.3" y="30.7" width="2.9" height="2.9" fill="#9595ff"/><rect x="18.3" y="33.3" width="2.9" height="2.9" fill="#7575ff"/><rect x="18.3" y="35.9" width="2.9" height="2.9" fill="#8080ff"/><rect x="18.3" y="38.4" width="2.9" height="2.9" fill="#7575ff"/><rect x="18.3" y="41.0" width="2.9" height="2.9" fill="#6a6aff"/><rect x="18.3" y="43.5" width="2.9" height="8.0" fill="#6060ff"/><rect x="18.3" y="51.2" width="2.9" height="2.9" fill="#8080ff"/><rect x="18.3" y="53.8" width="2.9" height="2.9" fill="#9595ff"/><rect x="18.3" y="56.3" width="2.9" height="2.9" fill="#aaaaff"/><rect x="20.9" y="0.0" width="2.9" height="2.9" fill="#aaaaff"/><rect x="20.9" y="2.6" width="2.9" height="2.9" fill="#9595ff"/><rect x="20.9" y="5.1" width="2.9" height="2.9" fill="#6060ff"/><rect x="20.9" y="7.7" width="2.9" height="2.9" fill="#8080ff"/><rect x="20.9" y="10.2" width="2.9" height="2.9" fill="#7575ff"/><rect x="20.9" y="12.8" width="2.9" height="5.4" fill="#8a8aff"/><rect x="20.9" y="17.9" width="2.9" height="2.9" fill="#7575ff"/><rect x="20.9" y="20.5" width="2.9" height="2.9" fill="#6a6aff"/><rect x="20.9" y="23.0" width="2.9" height="2.9" fill="#3535ff"/><rect x="20.9" y="25.6" width="2.9" height="2.9" fill="#2a2aff"/><rect x="20.9" y="28.2" width="2.9" height="2.9" fill="#4a4aff"/><rect x="20.9" y="30.7" width="2.9" height="8.0" fill="#7575ff"/><rect x="20.9" y="38.4" width="2.9" height="2.9" fill="#5555ff"/><rect x="20.9" y="41.0" width="2.9" height="5.4" fill="#6060ff"/><rect x="20.9" y="46.1" width="2.9" height="2.9" fill="#7575ff"/><rect x="20.9" y="48.7" width="2.9" height="2.9" fill="#8080ff"/><rect x="20.9" y="51.2" width="2.9" height="2.9" fill="#8a8aff"/><rect x="20.9" y="53.8" width="2.9" height="2.9" fill="#9595ff"/><rect x="20.9" y="56.3" width="2.9" height="2.9" fill="#b5b5ff"/><rect x="23.5" y="0.0" width="2.9" height="5.4" fill="#9f9fff"/><rect x="23.5" y="5.1" width="2.9" height="2.9" fill="#6a6aff"/><rect x="23.5" y="7.7" width="2.9" height="5.4" fill="#6060ff"/><rect x="23.5" y="12.8" width="2.9" height="2.9" fill="#8a8aff"/><rect x="23.5" y="15.4" width="2.9" height="2.9" fill="#9f9fff"/><rect x="23.5" y="17.9" width="2.9" height="2.9" fill="#9595ff"/><rect x="23.5" y="20.5" width="2.9" height="2.9" fill="#6060ff"/><rect x="23.5" y="23.0" width="2.9" height="2.9" fill="#5555ff"/><rect x="23.5" y="25.6" width="2.9" height="2.9" fill="#4040ff"/><rect x="23.5" y="28.2" width="2.9" height="2.9" fill="#6060ff"/><rect x="23.5" y="30.7" width="2.9" height="2.9" fill="#6a6aff"/><rect x="23.5" y="33.3" width="2.9" height="2.9" fill="#8080ff"/><rect x="23.5" y="35.9" width="2.9" height="2.9" fill="#7575ff"/><rect x="23.5" y="38.4" width="2.9" height="2.9" fill="#4040ff"/><rect x="23.5" y="41.0" width="2.9" height="2.9" fill="#5555ff"/><rect x="23.5" y="43.5" width="2.9" height="2.9" fill="#6060ff"/><rect x="23.5" y="46.1" width="2.9" height="5.4" fill="#8a8aff"/><rect x="23.5" y="51.2" width="2.9" height="2.9" fill="#9595ff"/><rect x="23.5" y="53.8" width="2.9" height="2.9" fill="#9f9fff"/><rect x="23.5" y="56.3" width="2.9" height="2.9" fill="#b5b5ff"/><rect x="26.1" y="0.0" width="2.9" height="2.9" fill="#b5b5ff"/><rect x="26.1" y="2.6" width="2.9" height="2.9" fill="#9595ff"/><rect x="26.1" y="5.1" width="2.9" height="2.9" fill="#8a8aff"/><rect x="26.1" y="7.7" width="2.9" height="5.4" fill="#8080ff"/><rect x="26.1" y="12.8" width="2.9" height="2.9" fill="#aaaaff"/><rect x="26.1" y="15.4" width="2.9" height="2.9" fill="#bfbfff"/><rect x="26.1" y="17.9" width="2.9" height="2.9" fill="#aaaaff"/><rect x="26.1" y="20.5" width="2.9" height="2.9" fill="#9f9fff"/><rect x="26.1" y="23.0" width="2.9" height="2.9" fill="#8080ff"/><rect x="26.1" y="25.6" width="2.9" height="5.4" fill="#7575ff"/><rect x="26.1" y="30.7" width="2.9" height="2.9" fill="#9595ff"/><rect x="26.1" y="33.3" width="2.9" height="2.9" fill="#9f9fff"/><rect x="26.1" y="35.9" width="2.9" height="2.9" fill="#6060ff"/><rect x="26.1" y="38.4" width="2.9" height="2.9" fill="#2a2aff"/><rect x="26.1" y="41.0" width="2.9" height="2.9" fill="#0b0bff"/><rect x="26.1" y="43.5" width="2.9" height="5.4" fill="#6a6aff"/><rect x="26.1" y="48.7" width="2.9" height="2.9" fill="#8a8aff"/><rect x="26.1" y="51.2" width="2.9" height="2.9" fill="#aaaaff"/><rect x="26.1" y="53.8" width="2.9" height="2.9" fill="#b5b5ff"/><rect x="26.1" y="56.3" width="2.9" height="2.9" fill="#bfbfff"/><rect x="28.7" y="0.0" width="2.9" height="2.9" fill="#9f9fff"/><rect x="28.7" y="2.6" width="2.9" height="2.9" fill="#9595ff"/><rect x="28.7" y="5.1" width="2.9" height="5.4" fill="#8080ff"/><rect x="28.7" y="10.2" width="2.9" height="2.9" fill="#7575ff"/><rect x="28.7" y="12.8" width="2.9" height="2.9" fill="#9f9fff"/><rect x="28.7" y="15.4" width="2.9" height="2.9" fill="#aaaaff"/><rect x="28.7" y="17.9" width="2.9" height="2.9" fill="#bfbfff"/><rect x="28.7" y="20.5" width="2.9" height="2.9" fill="#aaaaff"/><rect x="28.7" y="23.0" width="2.9" height="2.9" fill="#9595ff"/><rect x="28.7" y="25.6" width="2.9" height="2.9" fill="#8a8aff"/><rect x="28.7" y="28.2" width="2.9" height="2.9" fill="#9595ff"/><rect x="28.7" y="30.7" width="2.9" height="2.9" fill="#bfbfff"/><rect x="28.7" y="33.3" width="2.9" height="2.9" fill="#9f9fff"/><rect x="28.7" y="35.9" width="2.9" height="2.9" fill="#8a8aff"/><rect x="28.7" y="38.4" width="2.9" height="5.4" fill="#3535ff"/><rect x="28.7" y="43.5" width="2.9" height="2.9" fill="#7575ff"/><rect x="28.7" y="46.1" width="2.9" height="2.9" fill="#8080ff"/><rect x="28.7" y="48.7" width="2.9" height="2.9" fill="#9f9fff"/><rect x="28.7" y="51.2" width="2.9" height="2.9" fill="#aaaaff"/><rect x="28.7" y="53.8" width="2.9" height="2.9" fill="#b5b5ff"/><rect x="28.7" y="56.3" width="2.9" height="2.9" fill="#cacaff"/><rect x="31.3" y="0.0" width="2.9" height="2.9" fill="#8a8aff"/><rect x="31.3" y="2.6" width="2.9" height="2.9" fill="#9f9fff"/><rect x="31.3" y="5.1" width="2.9" height="8.0" fill="#8080ff"/><rect x="31.3" y="12.8" width="2.9" height="2.9" fill="#6a6aff"/><rect x="31.3" y="15.4" width="2.9" height="5.4" fill="#9595ff"/><rect x="31.3" y="20.5" width="2.9" height="2.9" fill="#aaaaff"/><rect x="31.3" y="23.0" width="2.9" height="2.9" fill="#8a8aff"/><rect x="31.3" y="25.6" width="2.9" height="5.4" fill="#9f9fff"/><rect x="31.3" y="30.7" width="2.9" height="2.9" fill="#aaaaff"/><rect x="31.3" y="33.3" width="2.9" height="2.9" fill="#b5b5ff"/><rect x="31.3" y="35.9" width="2.9" height="2.9" fill="#8a8aff"/><rect x="31.3" y="38.4" width="2.9" height="2.9" fill="#6060ff"/><rect x="31.3" y="41.0" width="2.9" height="2.9" fill="#6a6aff"/><rect x="31.3" y="43.5" width="2.9" height="2.9" fill="#7575ff"/><rect x="31.3" y="46.1" width="2.9" height="2.9" fill="#8080ff"/><rect x="31.3" y="48.7" width="2.9" height="2.9" fill="#9595ff"/><rect x="31.3" y="51.2" width="2.9" height="2.9" fill="#b5b5ff"/><rect x="31.3" y="53.8" width="2.9" height="2.9" fill="#aaaaff"/><rect x="31.3" y="56.3" width="2.9" height="2.9" fill="#bfbfff"/><rect x="33.9" y="0.0" width="2.9" height="5.4" fill="#8a8aff"/><rect x="33.9" y="5.1" width="2.9" height="2.9" fill="#7575ff"/><rect x="33.9" y="7.7" width="2.9" height="2.9" fill="#9595ff"/><rect x="33.9" y="10.2" width="2.9" height="2.9" fill="#8080ff"/><rect x="33.9" y="12.8" width="2.9" height="2.9" fill="#7575ff"/><rect x="33.9" y="15.4" width="2.9" height="2.9" fill="#8a8aff"/><rect x="33.9" y="17.9" width="2.9" height="2.9" fill="#9f9fff"/><rect x="33.9" y="20.5" width="2.9" height="2.9" fill="#aaaaff"/><rect x="33.9" y="23.0" width="2.9" height="5.4" fill="#9595ff"/><rect x="33.9" y="28.2" width="2.9" height="2.9" fill="#9f9fff"/><rect x="33.9" y="30.7" width="2.9" height="2.9" fill="#8a8aff"/><rect x="33.9" y="33.3" width="2.9" height="2.9" fill="#7575ff"/><rect x="33.9" y="35.9" width="2.9" height="2.9" fill="#8a8aff"/><rect x="33.9" y="38.4" width="2.9" height="10.5" fill="#7575ff"/><rect x="33.9" y="48.7" width="2.9" height="5.4" fill="#8a8aff"/><rect x="33.9" y="53.8" width="2.9" height="2.9" fill="#b5b5ff"/><rect x="33.9" y="56.3" width="2.9" height="2.9" fill="#bfbfff"/><rect x="36.5" y="0.0" width="2.9" height="2.9" fill="#9595ff"/><rect x="36.5" y="2.6" width="2.9" height="2.9" fill="#8080ff"/><rect x="36.5" y="5.1" width="2.9" height="5.4" fill="#8a8aff"/><rect x="36.5" y="10.2" width="2.9" height="2.9" fill="#6060ff"/><rect x="36.5" y="12.8" width="2.9" height="2.9" fill="#8080ff"/><rect x="36.5" y="15.4" width="2.9" height="2.9" fill="#9595ff"/><rect x="36.5" y="17.9" width="2.9" height="2.9" fill="#d4d4ff"/><rect x="36.5" y="20.5" width="2.9" height="2.9" fill="#bfbfff"/><rect x="36.5" y="23.0" width="2.9" height="2.9" fill="#b5b5ff"/><rect x="36.5" y="25.6" width="2.9" height="5.4" fill="#aaaaff"/><rect x="36.5" y="30.7" width="2.9" height="2.9" fill="#7575ff"/><rect x="36.5" y="33.3" width="2.9" height="2.9" fill="#6a6aff"/><rect x="36.5" y="35.9" width="2.9" height="5.4" fill="#7575ff"/><rect x="36.5" y="41.0" width="2.9" height="2.9" fill="#6a6aff"/><rect x="36.5" y="43.5" width="2.9" height="2.9" fill="#6060ff"/><rect x="36.5" y="46.1" width="2.9" height="2.9" fill="#6a6aff"/><rect x="36.5" y="48.7" width="2.9" height="2.9" fill="#7575ff"/><rect x="36.5" y="51.2" width="2.9" height="2.9" fill="#8080ff"/><rect x="36.5" y="53.8" width="2.9" height="2.9" fill="#9f9fff"/><rect x="36.5" y="56.3" width="2.9" height="2.9" fill="#b5b5ff"/><rect x="39.2" y="0.0" width="2.9" height="2.9" fill="#9f9fff"/><rect x="39.2" y="2.6" width="2.9" height="2.9" fill="#7575ff"/><rect x="39.2" y="5.1" width="2.9" height="2.9" fill="#8a8aff"/><rect x="39.2" y="7.7" width="2.9" height="2.9" fill="#9595ff"/><rect x="39.2" y="10.2" width="2.9" height="2.9" fill="#6a6aff"/><rect x="39.2" y="12.8" width="2.9" height="2.9" fill="#8080ff"/><rect x="39.2" y="15.4" width="2.9" height="2.9" fill="#9f9fff"/><rect x="39.2" y="17.9" width="2.9" height="2.9" fill="#cacaff"/><rect x="39.2" y="20.5" width="2.9" height="2.9" fill="#d4d4ff"/><rect x="39.2" y="23.0" width="2.9" height="2.9" fill="#dfdfff"/><rect x="39.2" y="25.6" width="2.9" height="2.9" fill="#bfbfff"/><rect x="39.2" y="28.2" width="2.9" height="2.9" fill="#9f9fff"/><rect x="39.2" y="30.7" width="2.9" height="2.9" fill="#9595ff"/><rect x="39.2" y="33.3" width="2.9" height="2.9" fill="#8080ff"/><rect x="39.2" y="35.9" width="2.9" height="5.4" fill="#6a6aff"/><rect x="39.2" y="41.0" width="2.9" height="2.9" fill="#6060ff"/><rect x="39.2" y="43.5" width="2.9" height="2.9" fill="#4a4aff"/><rect x="39.2" y="46.1" width="2.9" height="2.9" fill="#6060ff"/><rect x="39.2" y="48.7" width="2.9" height="2.9" fill="#6a6aff"/><rect x="39.2" y="51.2" width="2.9" height="2.9" fill="#8a8aff"/><rect x="39.2" y="53.8" width="2.9" height="2.9" fill="#9595ff"/><rect x="39.2" y="56.3" width="2.9" height="2.9" fill="#aaaaff"/><rect x="41.8" y="0.0" width="2.9" height="2.9" fill="#aaaaff"/><rect x="41.8" y="2.6" width="2.9" height="2.9" fill="#9f9fff"/><rect x="41.8" y="5.1" width="2.9" height="2.9" fill="#8a8aff"/><rect x="41.8" y="7.7" width="2.9" height="2.9" fill="#7575ff"/><rect x="41.8" y="10.2" width="2.9" height="2.9" fill="#8080ff"/><rect x="41.8" y="12.8" width="2.9" height="2.9" fill="#7575ff"/><rect x="41.8" y="15.4" width="2.9" height="2.9" fill="#8a8aff"/><rect x="41.8" y="17.9" width="2.9" height="2.9" fill="#9595ff"/><rect x="41.8" y="20.5" width="2.9" height="2.9" fill="#9f9fff"/><rect x="41.8" y="23.0" width="2.9" height="2.9" fill="#bfbfff"/><rect x="41.8" y="25.6" width="2.9" height="2.9" fill="#d4d4ff"/><rect x="41.8" y="28.2" width="2.9" height="2.9" fill="#bfbfff"/><rect x="41.8" y="30.7" width="2.9" height="2.9" fill="#aaaaff"/><rect x="41.8" y="33.3" width="2.9" height="2.9" fill="#9595ff"/><rect x="41.8" y="35.9" width="2.9" height="5.4" fill="#7575ff"/><rect x="41.8" y="41.0" width="2.9" height="2.9" fill="#6060ff"/><rect x="41.8" y="43.5" width="2.9" height="2.9" fill="#6a6aff"/><rect x="41.8" y="46.1" width="2.9" height="2.9" fill="#5555ff"/><rect x="41.8" y="48.7" width="2.9" height="2.9" fill="#6060ff"/><rect x="41.8" y="51.2" width="2.9" height="2.9" fill="#6a6aff"/><rect x="41.8" y="53.8" width="2.9" height="2.9" fill="#8a8aff"/><rect x="41.8" y="56.3" width="2.9" height="2.9" fill="#9f9fff"/><rect x="44.4" y="0.0" width="2.9" height="2.9" fill="#9595ff"/><rect x="44.4" y="2.6" width="2.9" height="2.9" fill="#9f9fff"/><rect x="44.4" y="5.1" width="2.9" height="2.9" fill="#9595ff"/><rect x="44.4" y="7.7" width="2.9" height="5.4" fill="#8a8aff"/><rect x="44.4" y="12.8" width="2.9" height="2.9" fill="#7575ff"/><rect x="44.4" y="15.4" width="2.9" height="2.9" fill="#8a8aff"/><rect x="44.4" y="17.9" width="2.9" height="2.9" fill="#9f9fff"/><rect x="44.4" y="20.5" width="2.9" height="2.9" fill="#bfbfff"/><rect x="44.4" y="23.0" width="2.9" height="8.0" fill="#cacaff"/><rect x="44.4" y="30.7" width="2.9" height="2.9" fill="#b5b5ff"/><rect x="44.4" y="33.3" width="2.9" height="2.9" fill="#8a8aff"/><rect x="44.4" y="35.9" width="2.9" height="2.9" fill="#8080ff"/><rect x="44.4" y="38.4" width="2.9" height="2.9" fill="#6a6aff"/><rect x="44.4" y="41.0" width="2.9" height="2.9" fill="#8080ff"/><rect x="44.4" y="43.5" width="2.9" height="2.9" fill="#6a6aff"/><rect x="44.4" y="46.1" width="2.9" height="2.9" fill="#5555ff"/><rect x="44.4" y="48.7" width="2.9" height="2.9" fill="#7575ff"/><rect x="44.4" y="51.2" width="2.9" height="2.9" fill="#5555ff"/><rect x="44.4" y="53.8" width="2.9" height="2.9" fill="#7575ff"/><rect x="44.4" y="56.3" width="2.9" height="2.9" fill="#b5b5ff"/><rect x="47.0" y="0.0" width="2.9" height="2.9" fill="#b5b5ff"/><rect x="47.0" y="2.6" width="2.9" height="2.9" fill="#aaaaff"/><rect x="47.0" y="5.1" width="2.9" height="2.9" fill="#9f9fff"/><rect x="47.0" y="7.7" width="2.9" height="2.9" fill="#aaaaff"/><rect x="47.0" y="10.2" width="2.9" height="2.9" fill="#9595ff"/><rect x="47.0" y="12.8" width="2.9" height="2.9" fill="#9f9fff"/><rect x="47.0" y="15.4" width="2.9" height="2.9" fill="#8080ff"/><rect x="47.0" y="17.9" width="2.9" height="2.9" fill="#9f9fff"/><rect x="47.0" y="20.5" width="2.9" height="2.9" fill="#cacaff"/><rect x="47.0" y="23.0" width="2.9" height="2.9" fill="#bfbfff"/><rect x="47.0" y="25.6" width="2.9" height="2.9" fill="#cacaff"/><rect x="47.0" y="28.2" width="2.9" height="2.9" fill="#eaeaff"/><rect x="47.0" y="30.7" width="2.9" height="2.9" fill="#bfbfff"/><rect x="47.0" y="33.3" width="2.9" height="2.9" fill="#9595ff"/><rect x="47.0" y="35.9" width="2.9" height="2.9" fill="#8080ff"/><rect x="47.0" y="38.4" width="2.9" height="10.5" fill="#7575ff"/><rect x="47.0" y="48.7" width="2.9" height="2.9" fill="#6a6aff"/><rect x="47.0" y="51.2" width="2.9" height="2.9" fill="#6060ff"/><rect x="47.0" y="53.8" width="2.9" height="2.9" fill="#6a6aff"/><rect x="47.0" y="56.3" width="2.9" height="2.9" fill="#aaaaff"/><rect x="49.6" y="0.0" width="2.9" height="2.9" fill="#9f9fff"/><rect x="49.6" y="2.6" width="2.9" height="2.9" fill="#b5b5ff"/><rect x="49.6" y="5.1" width="2.9" height="2.9" fill="#d4d4ff"/><rect x="49.6" y="7.7" width="2.9" height="2.9" fill="#aaaaff"/><rect x="49.6" y="10.2" width="2.9" height="2.9" fill="#9f9fff"/><rect x="49.6" y="12.8" width="2.9" height="2.9" fill="#8a8aff"/><rect x="49.6" y="15.4" width="2.9" height="2.9" fill="#9595ff"/><rect x="49.6" y="17.9" width="2.9" height="2.9" fill="#b5b5ff"/><rect x="49.6" y="20.5" width="2.9" height="5.4" fill="#cacaff"/><rect x="49.6" y="25.6" width="2.9" height="2.9" fill="#aaaaff"/><rect x="49.6" y="28.2" width="2.9" height="2.9" fill="#d4d4ff"/><rect x="49.6" y="30.7" width="2.9" height="5.4" fill="#b5b5ff"/><rect x="49.6" y="35.9" width="2.9" height="2.9" fill="#9f9fff"/><rect x="49.6" y="38.4" width="2.9" height="2.9" fill="#8080ff"/><rect x="49.6" y="41.0" width="2.9" height="2.9" fill="#8a8aff"/><rect x="49.6" y="43.5" width="2.9" height="2.9" fill="#8080ff"/><rect x="49.6" y="46.1" width="2.9" height="2.9" fill="#9595ff"/><rect x="49.6" y="48.7" width="2.9" height="2.9" fill="#7575ff"/><rect x="49.6" y="51.2" width="2.9" height="2.9" fill="#8080ff"/><rect x="49.6" y="53.8" width="2.9" height="2.9" fill="#8a8aff"/><rect x="49.6" y="56.3" width="2.9" height="2.9" fill="#9f9fff"/></g>
<ellipse cx="35.6" cy="3.3" rx="4.3" ry="2.2" fill="#fbe8ee" fill-opacity="1" filter="url(#b1)"/>
<ellipse cx="31.3" cy="50.2" rx="3.8" ry="3.8" fill="#fde2e4" fill-opacity="1" filter="url(#b1)"/>
<path d="M26.25,16.99 C27.30,16.18 30.85,16.18 33.15,16.18 C35.45,16.18 39.00,15.99 40.05,16.99 C41.10,17.98 39.86,20.53 39.48,22.16 C39.09,23.79 37.75,25.04 37.75,26.76 C37.75,28.49 39.00,30.60 39.48,32.51 C39.95,34.43 41.30,37.02 40.62,38.26 C39.95,39.51 37.65,39.80 35.45,39.99 C33.25,40.18 29.89,39.35 27.40,39.41 C24.91,39.47 21.27,41.29 20.50,40.33 C19.73,39.37 21.84,35.83 22.80,33.66 C23.76,31.50 25.58,29.45 26.25,27.34 C26.92,25.23 26.82,22.74 26.82,21.01 C26.82,19.29 25.20,17.79 26.25,16.99Z" fill="#fbfbff" filter="url(#b1)"/>
<path d="M27.00,18.50 C27.92,17.80 31.00,17.80 33.00,17.80 C35.00,17.80 38.08,17.63 39.00,18.50 C39.92,19.37 38.83,21.58 38.50,23.00 C38.17,24.42 37.00,25.50 37.00,27.00 C37.00,28.50 38.08,30.33 38.50,32.00 C38.92,33.67 40.08,35.92 39.50,37.00 C38.92,38.08 36.92,38.33 35.00,38.50 C33.08,38.67 30.17,37.95 28.00,38.00 C25.83,38.05 22.67,39.63 22.00,38.80 C21.33,37.97 23.17,34.88 24.00,33.00 C24.83,31.12 26.42,29.33 27.00,27.50 C27.58,25.67 27.50,23.50 27.50,22.00 C27.50,20.50 26.08,19.20 27.00,18.50Z" fill="#ffdada" filter="url(#b0_8)"/>
<path d="M27.86,20.30 C28.65,19.70 31.30,19.70 33.02,19.70 C34.74,19.70 37.39,19.55 38.18,20.30 C38.97,21.04 38.04,22.95 37.75,24.17 C37.46,25.39 36.46,26.32 36.46,27.61 C36.46,28.90 37.39,30.48 37.75,31.91 C38.11,33.34 39.11,35.28 38.61,36.21 C38.11,37.14 36.39,37.36 34.74,37.50 C33.09,37.64 30.58,37.03 28.72,37.07 C26.86,37.11 24.13,38.47 23.56,37.76 C22.99,37.04 24.56,34.39 25.28,32.77 C26.00,31.15 27.36,29.62 27.86,28.04 C28.36,26.46 28.29,24.60 28.29,23.31 C28.29,22.02 27.07,20.90 27.86,20.30Z" fill="#ffb0b0" filter="url(#b1)"/>
<path d="M28.96,22.61 C29.59,22.14 31.68,22.14 33.04,22.14 C34.40,22.14 36.50,22.02 37.12,22.61 C37.75,23.20 37.01,24.71 36.78,25.67 C36.56,26.64 35.76,27.37 35.76,28.39 C35.76,29.41 36.50,30.66 36.78,31.79 C37.07,32.93 37.86,34.46 37.46,35.19 C37.07,35.93 35.71,36.10 34.40,36.21 C33.10,36.33 31.12,35.84 29.64,35.87 C28.17,35.91 26.02,36.98 25.56,36.42 C25.11,35.85 26.36,33.75 26.92,32.47 C27.49,31.19 28.57,29.98 28.96,28.73 C29.36,27.49 29.30,26.01 29.30,24.99 C29.30,23.97 28.34,23.09 28.96,22.61Z" fill="#ff7474" filter="url(#b1)"/>
<path d="M30.19,25.18 C30.63,24.85 32.11,24.85 33.07,24.85 C34.03,24.85 35.51,24.77 35.95,25.18 C36.39,25.60 35.87,26.66 35.71,27.34 C35.55,28.02 34.99,28.54 34.99,29.26 C34.99,29.98 35.51,30.86 35.71,31.66 C35.91,32.46 36.47,33.54 36.19,34.06 C35.91,34.58 34.95,34.70 34.03,34.78 C33.11,34.86 31.71,34.52 30.67,34.54 C29.63,34.57 28.11,35.33 27.79,34.93 C27.47,34.53 28.35,33.05 28.75,32.14 C29.15,31.24 29.91,30.38 30.19,29.50 C30.47,28.62 30.43,27.58 30.43,26.86 C30.43,26.14 29.75,25.52 30.19,25.18Z" fill="#ff3c3c" filter="url(#b1)"/>
<path d="M31.42,27.76 C31.68,27.56 32.54,27.56 33.10,27.56 C33.66,27.56 34.52,27.51 34.78,27.76 C35.04,28.00 34.73,28.62 34.64,29.02 C34.55,29.41 34.22,29.72 34.22,30.14 C34.22,30.56 34.52,31.07 34.64,31.54 C34.76,32.00 35.08,32.63 34.92,32.94 C34.76,33.24 34.20,33.31 33.66,33.36 C33.12,33.40 32.31,33.20 31.70,33.22 C31.09,33.23 30.21,33.67 30.02,33.44 C29.83,33.21 30.35,32.34 30.58,31.82 C30.81,31.29 31.26,30.79 31.42,30.28 C31.58,29.76 31.56,29.16 31.56,28.74 C31.56,28.32 31.16,27.95 31.42,27.76Z" fill="#ff0c0c" filter="url(#b1)"/>
<circle cx="33.2" cy="31.5" r="0.75" fill="#111"/>
<path d="M9.1,6.1h1.6v1.6h-1.6zM19.4,6.1h1.6v1.6h-1.6zM31.0,6.1h1.6v1.6h-1.6zM41.3,6.1h1.6v1.6h-1.6zM9.7,14.6h1.6v1.6h-1.6zM19.8,14.6h1.6v1.6h-1.6zM30.6,14.6h1.6v1.6h-1.6zM42.0,14.6h1.6v1.6h-1.6zM7.9,22.8h1.6v1.6h-1.6zM42.5,22.8h1.6v1.6h-1.6zM7.9,31.2h1.6v1.6h-1.6zM18.0,31.2h1.6v1.6h-1.6zM32.9,31.2h1.6v1.6h-1.6zM42.5,31.2h1.6v1.6h-1.6zM7.9,39.6h1.6v1.6h-1.6zM18.0,39.6h1.6v1.6h-1.6zM32.9,39.6h1.6v1.6h-1.6zM42.5,39.6h1.6v1.6h-1.6zM7.9,48.0h1.6v1.6h-1.6zM42.5,48.0h1.6v1.6h-1.6z" fill="#f2904a" fill-opacity="0.6"/>
</g>
<rect x="0" y="0" width="52.2" height="58.9" fill="none" stroke="#7a7a7a" stroke-width="0.8"/>
<path d="M8.7,58.9v1.3M0,8.4h-1.3M17.4,58.9v1.3M0,16.8h-1.3M26.1,58.9v1.3M0,25.2h-1.3M34.8,58.9v1.3M0,33.7h-1.3M43.5,58.9v1.3M0,42.1h-1.3" stroke="#777" stroke-width="0.5"/>
</g>
<clipPath id="tc8"><rect x="0" y="0" width="51.9" height="58.9"/></clipPath>
<g transform="translate(299.6,232.5)"><g clip-path="url(#tc8)">
<rect width="51.9" height="58.9" fill="#7474ff"/>
<g filter="url(#b0_8)"><rect x="0.0" y="0.0" width="2.9" height="2.9" fill="#aaaaff"/><rect x="0.0" y="2.6" width="2.9" height="2.9" fill="#9f9fff"/><rect x="0.0" y="5.1" width="2.9" height="2.9" fill="#b5b5ff"/><rect x="0.0" y="7.7" width="2.9" height="2.9" fill="#9595ff"/><rect x="0.0" y="10.2" width="2.9" height="2.9" fill="#bfbfff"/><rect x="0.0" y="12.8" width="2.9" height="2.9" fill="#dfdfff"/><rect x="0.0" y="15.4" width="2.9" height="2.9" fill="#d4d4ff"/><rect x="0.0" y="17.9" width="2.9" height="2.9" fill="#cacaff"/><rect x="0.0" y="20.5" width="2.9" height="2.9" fill="#b5b5ff"/><rect x="0.0" y="23.0" width="2.9" height="5.4" fill="#aaaaff"/><rect x="0.0" y="28.2" width="2.9" height="5.4" fill="#9f9fff"/><rect x="0.0" y="33.3" width="2.9" height="2.9" fill="#8a8aff"/><rect x="0.0" y="35.9" width="2.9" height="2.9" fill="#9595ff"/><rect x="0.0" y="38.4" width="2.9" height="8.0" fill="#9f9fff"/><rect x="0.0" y="46.1" width="2.9" height="2.9" fill="#aaaaff"/><rect x="0.0" y="48.7" width="2.9" height="5.4" fill="#9595ff"/><rect x="0.0" y="53.8" width="2.9" height="2.9" fill="#8a8aff"/><rect x="0.0" y="56.3" width="2.9" height="2.9" fill="#8080ff"/><rect x="2.6" y="0.0" width="2.9" height="2.9" fill="#aaaaff"/><rect x="2.6" y="2.6" width="2.9" height="5.4" fill="#8a8aff"/><rect x="2.6" y="7.7" width="2.9" height="2.9" fill="#8080ff"/><rect x="2.6" y="10.2" width="2.9" height="2.9" fill="#9595ff"/><rect x="2.6" y="12.8" width="2.9" height="2.9" fill="#b5b5ff"/><rect x="2.6" y="15.4" width="2.9" height="5.4" fill="#bfbfff"/><rect x="2.6" y="20.5" width="2.9" height="2.9" fill="#9f9fff"/><rect x="2.6" y="23.0" width="2.9" height="5.4" fill="#9595ff"/><rect x="2.6" y="28.2" width="2.9" height="2.9" fill="#8080ff"/><rect x="2.6" y="30.7" width="2.9" height="8.0" fill="#8a8aff"/><rect x="2.6" y="38.4" width="2.9" height="2.9" fill="#7575ff"/><rect x="2.6" y="41.0" width="2.9" height="2.9" fill="#8080ff"/><rect x="2.6" y="43.5" width="2.9" height="2.9" fill="#9595ff"/><rect x="2.6" y="46.1" width="2.9" height="2.9" fill="#8a8aff"/><rect x="2.6" y="48.7" width="2.9" height="5.4" fill="#8080ff"/><rect x="2.6" y="53.8" width="2.9" height="2.9" fill="#6a6aff"/><rect x="2.6" y="56.3" width="2.9" height="2.9" fill="#6060ff"/><rect x="5.2" y="0.0" width="2.9" height="2.9" fill="#cacaff"/><rect x="5.2" y="2.6" width="2.9" height="5.4" fill="#aaaaff"/><rect x="5.2" y="7.7" width="2.9" height="2.9" fill="#8a8aff"/><rect x="5.2" y="10.2" width="2.9" height="2.9" fill="#9595ff"/><rect x="5.2" y="12.8" width="2.9" height="13.1" fill="#b5b5ff"/><rect x="5.2" y="25.6" width="2.9" height="2.9" fill="#8080ff"/><rect x="5.2" y="28.2" width="2.9" height="8.0" fill="#6a6aff"/><rect x="5.2" y="35.9" width="2.9" height="2.9" fill="#8080ff"/><rect x="5.2" y="38.4" width="2.9" height="2.9" fill="#8a8aff"/><rect x="5.2" y="41.0" width="2.9" height="5.4" fill="#8080ff"/><rect x="5.2" y="46.1" width="2.9" height="2.9" fill="#9595ff"/><rect x="5.2" y="48.7" width="2.9" height="5.4" fill="#8a8aff"/><rect x="5.2" y="53.8" width="2.9" height="2.9" fill="#7575ff"/><rect x="5.2" y="56.3" width="2.9" height="2.9" fill="#8080ff"/><rect x="7.8" y="0.0" width="2.9" height="2.9" fill="#d4d4ff"/><rect x="7.8" y="2.6" width="2.9" height="2.9" fill="#b5b5ff"/><rect x="7.8" y="5.1" width="2.9" height="5.4" fill="#9f9fff"/><rect x="7.8" y="10.2" width="2.9" height="2.9" fill="#b5b5ff"/><rect x="7.8" y="12.8" width="2.9" height="2.9" fill="#8a8aff"/><rect x="7.8" y="15.4" width="2.9" height="2.9" fill="#8080ff"/><rect x="7.8" y="17.9" width="2.9" height="2.9" fill="#7575ff"/><rect x="7.8" y="20.5" width="2.9" height="2.9" fill="#9595ff"/><rect x="7.8" y="23.0" width="2.9" height="2.9" fill="#aaaaff"/><rect x="7.8" y="25.6" width="2.9" height="2.9" fill="#8080ff"/><rect x="7.8" y="28.2" width="2.9" height="5.4" fill="#6060ff"/><rect x="7.8" y="33.3" width="2.9" height="2.9" fill="#8080ff"/><rect x="7.8" y="35.9" width="2.9" height="2.9" fill="#6a6aff"/><rect x="7.8" y="38.4" width="2.9" height="5.4" fill="#8080ff"/><rect x="7.8" y="43.5" width="2.9" height="2.9" fill="#6060ff"/><rect x="7.8" y="46.1" width="2.9" height="5.4" fill="#8a8aff"/><rect x="7.8" y="51.2" width="2.9" height="2.9" fill="#9595ff"/><rect x="7.8" y="53.8" width="2.9" height="5.4" fill="#8080ff"/><rect x="10.4" y="0.0" width="2.9" height="2.9" fill="#b5b5ff"/><rect x="10.4" y="2.6" width="2.9" height="2.9" fill="#aaaaff"/><rect x="10.4" y="5.1" width="2.9" height="2.9" fill="#8a8aff"/><rect x="10.4" y="7.7" width="2.9" height="2.9" fill="#aaaaff"/><rect x="10.4" y="10.2" width="2.9" height="2.9" fill="#9f9fff"/><rect x="10.4" y="12.8" width="2.9" height="2.9" fill="#7575ff"/><rect x="10.4" y="15.4" width="2.9" height="2.9" fill="#2a2aff"/><rect x="10.4" y="17.9" width="2.9" height="2.9" fill="#4040ff"/><rect x="10.4" y="20.5" width="2.9" height="2.9" fill="#8080ff"/><rect x="10.4" y="23.0" width="2.9" height="2.9" fill="#8a8aff"/><rect x="10.4" y="25.6" width="2.9" height="2.9" fill="#8080ff"/><rect x="10.4" y="28.2" width="2.9" height="5.4" fill="#7575ff"/><rect x="10.4" y="33.3" width="2.9" height="2.9" fill="#6a6aff"/><rect x="10.4" y="35.9" width="2.9" height="2.9" fill="#7575ff"/><rect x="10.4" y="38.4" width="2.9" height="2.9" fill="#6a6aff"/><rect x="10.4" y="41.0" width="2.9" height="2.9" fill="#5555ff"/><rect x="10.4" y="43.5" width="2.9" height="5.4" fill="#6060ff"/><rect x="10.4" y="48.7" width="2.9" height="2.9" fill="#6a6aff"/><rect x="10.4" y="51.2" width="2.9" height="2.9" fill="#4a4aff"/><rect x="10.4" y="53.8" width="2.9" height="2.9" fill="#5555ff"/><rect x="10.4" y="56.3" width="2.9" height="2.9" fill="#9595ff"/><rect x="13.0" y="0.0" width="2.9" height="2.9" fill="#b5b5ff"/><rect x="13.0" y="2.6" width="2.9" height="2.9" fill="#9595ff"/><rect x="13.0" y="5.1" width="2.9" height="2.9" fill="#7575ff"/><rect x="13.0" y="7.7" width="2.9" height="2.9" fill="#8a8aff"/><rect x="13.0" y="10.2" width="2.9" height="2.9" fill="#7575ff"/><rect x="13.0" y="12.8" width="2.9" height="2.9" fill="#4a4aff"/><rect x="13.0" y="15.4" width="2.9" height="2.9" fill="#0b0bff"/><rect x="13.0" y="17.9" width="2.9" height="2.9" fill="#2020ff"/><rect x="13.0" y="20.5" width="2.9" height="2.9" fill="#5555ff"/><rect x="13.0" y="23.0" width="2.9" height="2.9" fill="#8a8aff"/><rect x="13.0" y="25.6" width="2.9" height="2.9" fill="#7575ff"/><rect x="13.0" y="28.2" width="2.9" height="8.0" fill="#8080ff"/><rect x="13.0" y="35.9" width="2.9" height="5.4" fill="#7575ff"/><rect x="13.0" y="41.0" width="2.9" height="2.9" fill="#6060ff"/><rect x="13.0" y="43.5" width="2.9" height="2.9" fill="#4a4aff"/><rect x="13.0" y="46.1" width="2.9" height="2.9" fill="#6060ff"/><rect x="13.0" y="48.7" width="2.9" height="2.9" fill="#6a6aff"/><rect x="13.0" y="51.2" width="2.9" height="5.4" fill="#6060ff"/><rect x="13.0" y="56.3" width="2.9" height="2.9" fill="#9595ff"/><rect x="15.6" y="0.0" width="2.9" height="2.9" fill="#9f9fff"/><rect x="15.6" y="2.6" width="2.9" height="2.9" fill="#8080ff"/><rect x="15.6" y="5.1" width="2.9" height="8.0" fill="#8a8aff"/><rect x="15.6" y="12.8" width="2.9" height="2.9" fill="#4a4aff"/><rect x="15.6" y="15.4" width="2.9" height="5.4" fill="#4040ff"/><rect x="15.6" y="20.5" width="2.9" height="2.9" fill="#8080ff"/><rect x="15.6" y="23.0" width="2.9" height="2.9" fill="#b5b5ff"/><rect x="15.6" y="25.6" width="2.9" height="5.4" fill="#9595ff"/><rect x="15.6" y="30.7" width="2.9" height="2.9" fill="#8080ff"/><rect x="15.6" y="33.3" width="2.9" height="2.9" fill="#8a8aff"/><rect x="15.6" y="35.9" width="2.9" height="2.9" fill="#8080ff"/><rect x="15.6" y="38.4" width="2.9" height="5.4" fill="#8a8aff"/><rect x="15.6" y="43.5" width="2.9" height="2.9" fill="#6a6aff"/><rect x="15.6" y="46.1" width="2.9" height="2.9" fill="#8a8aff"/><rect x="15.6" y="48.7" width="2.9" height="5.4" fill="#8080ff"/><rect x="15.6" y="53.8" width="2.9" height="2.9" fill="#7575ff"/><rect x="15.6" y="56.3" width="2.9" height="2.9" fill="#9595ff"/><rect x="18.2" y="0.0" width="2.9" height="2.9" fill="#9f9fff"/><rect x="18.2" y="2.6" width="2.9" height="5.4" fill="#8a8aff"/><rect x="18.2" y="7.7" width="2.9" height="2.9" fill="#8080ff"/><rect x="18.2" y="10.2" width="2.9" height="2.9" fill="#7575ff"/><rect x="18.2" y="12.8" width="2.9" height="5.4" fill="#6060ff"/><rect x="18.2" y="17.9" width="2.9" height="2.9" fill="#8080ff"/><rect x="18.2" y="20.5" width="2.9" height="2.9" fill="#d4d4ff"/><rect x="18.2" y="23.0" width="2.9" height="2.9" fill="#f4f4ff"/><rect x="18.2" y="25.6" width="2.9" height="2.9" fill="#b5b5ff"/><rect x="18.2" y="28.2" width="2.9" height="2.9" fill="#9595ff"/><rect x="18.2" y="30.7" width="2.9" height="2.9" fill="#8a8aff"/><rect x="18.2" y="33.3" width="2.9" height="2.9" fill="#9595ff"/><rect x="18.2" y="35.9" width="2.9" height="2.9" fill="#aaaaff"/><rect x="18.2" y="38.4" width="2.9" height="2.9" fill="#9f9fff"/><rect x="18.2" y="41.0" width="2.9" height="10.5" fill="#9595ff"/><rect x="18.2" y="51.2" width="2.9" height="2.9" fill="#8a8aff"/><rect x="18.2" y="53.8" width="2.9" height="5.4" fill="#9595ff"/><rect x="20.8" y="0.0" width="2.9" height="2.9" fill="#9595ff"/><rect x="20.8" y="2.6" width="2.9" height="10.5" fill="#8080ff"/><rect x="20.8" y="12.8" width="2.9" height="2.9" fill="#7575ff"/><rect x="20.8" y="15.4" width="2.9" height="2.9" fill="#8080ff"/><rect x="20.8" y="17.9" width="2.9" height="2.9" fill="#9f9fff"/><rect x="20.8" y="20.5" width="2.9" height="2.9" fill="#d4d4ff"/><rect x="20.8" y="23.0" width="2.9" height="2.9" fill="#dfdfff"/><rect x="20.8" y="25.6" width="2.9" height="2.9" fill="#b5b5ff"/><rect x="20.8" y="28.2" width="2.9" height="2.9" fill="#9f9fff"/><rect x="20.8" y="30.7" width="2.9" height="5.4" fill="#8080ff"/><rect x="20.8" y="35.9" width="2.9" height="2.9" fill="#9f9fff"/><rect x="20.8" y="38.4" width="2.9" height="8.0" fill="#aaaaff"/><rect x="20.8" y="46.1" width="2.9" height="2.9" fill="#8080ff"/><rect x="20.8" y="48.7" width="2.9" height="2.9" fill="#7575ff"/><rect x="20.8" y="51.2" width="2.9" height="2.9" fill="#8a8aff"/><rect x="20.8" y="53.8" width="2.9" height="2.9" fill="#8080ff"/><rect x="20.8" y="56.3" width="2.9" height="2.9" fill="#8a8aff"/><rect x="23.4" y="0.0" width="2.9" height="2.9" fill="#aaaaff"/><rect x="23.4" y="2.6" width="2.9" height="2.9" fill="#7575ff"/><rect x="23.4" y="5.1" width="2.9" height="2.9" fill="#8a8aff"/><rect x="23.4" y="7.7" width="2.9" height="2.9" fill="#7575ff"/><rect x="23.4" y="10.2" width="2.9" height="2.9" fill="#6a6aff"/><rect x="23.4" y="12.8" width="2.9" height="2.9" fill="#6060ff"/><rect x="23.4" y="15.4" width="2.9" height="2.9" fill="#8080ff"/><rect x="23.4" y="17.9" width="2.9" height="2.9" fill="#bfbfff"/><rect x="23.4" y="20.5" width="2.9" height="2.9" fill="#b5b5ff"/><rect x="23.4" y="23.0" width="2.9" height="5.4" fill="#9f9fff"/><rect x="23.4" y="28.2" width="2.9" height="5.4" fill="#8a8aff"/><rect x="23.4" y="33.3" width="2.9" height="2.9" fill="#9595ff"/><rect x="23.4" y="35.9" width="2.9" height="2.9" fill="#bfbfff"/><rect x="23.4" y="38.4" width="2.9" height="2.9" fill="#9f9fff"/><rect x="23.4" y="41.0" width="2.9" height="2.9" fill="#aaaaff"/><rect x="23.4" y="43.5" width="2.9" height="5.4" fill="#8a8aff"/><rect x="23.4" y="48.7" width="2.9" height="2.9" fill="#9595ff"/><rect x="23.4" y="51.2" width="2.9" height="2.9" fill="#8a8aff"/><rect x="23.4" y="53.8" width="2.9" height="2.9" fill="#8080ff"/><rect x="23.4" y="56.3" width="2.9" height="2.9" fill="#b5b5ff"/><rect x="25.9" y="0.0" width="2.9" height="5.4" fill="#9595ff"/><rect x="25.9" y="5.1" width="2.9" height="2.9" fill="#8a8aff"/><rect x="25.9" y="7.7" width="2.9" height="2.9" fill="#6a6aff"/><rect x="25.9" y="10.2" width="2.9" height="2.9" fill="#6060ff"/><rect x="25.9" y="12.8" width="2.9" height="2.9" fill="#5555ff"/><rect x="25.9" y="15.4" width="2.9" height="2.9" fill="#8a8aff"/><rect x="25.9" y="17.9" width="2.9" height="2.9" fill="#aaaaff"/><rect x="25.9" y="20.5" width="2.9" height="2.9" fill="#bfbfff"/><rect x="25.9" y="23.0" width="2.9" height="8.0" fill="#9595ff"/><rect x="25.9" y="30.7" width="2.9" height="2.9" fill="#9f9fff"/><rect x="25.9" y="33.3" width="2.9" height="5.4" fill="#b5b5ff"/><rect x="25.9" y="38.4" width="2.9" height="2.9" fill="#9f9fff"/><rect x="25.9" y="41.0" width="2.9" height="2.9" fill="#8080ff"/><rect x="25.9" y="43.5" width="2.9" height="5.4" fill="#6a6aff"/><rect x="25.9" y="48.7" width="2.9" height="2.9" fill="#6060ff"/><rect x="25.9" y="51.2" width="2.9" height="2.9" fill="#8a8aff"/><rect x="25.9" y="53.8" width="2.9" height="2.9" fill="#8080ff"/><rect x="25.9" y="56.3" width="2.9" height="2.9" fill="#aaaaff"/><rect x="28.5" y="0.0" width="2.9" height="2.9" fill="#9f9fff"/><rect x="28.5" y="2.6" width="2.9" height="2.9" fill="#8080ff"/><rect x="28.5" y="5.1" width="2.9" height="5.4" fill="#8a8aff"/><rect x="28.5" y="10.2" width="2.9" height="2.9" fill="#6a6aff"/><rect x="28.5" y="12.8" width="2.9" height="2.9" fill="#7575ff"/><rect x="28.5" y="15.4" width="2.9" height="2.9" fill="#aaaaff"/><rect x="28.5" y="17.9" width="2.9" height="2.9" fill="#b5b5ff"/><rect x="28.5" y="20.5" width="2.9" height="2.9" fill="#aaaaff"/><rect x="28.5" y="23.0" width="2.9" height="2.9" fill="#9f9fff"/><rect x="28.5" y="25.6" width="2.9" height="2.9" fill="#9595ff"/><rect x="28.5" y="28.2" width="2.9" height="5.4" fill="#9f9fff"/><rect x="28.5" y="33.3" width="2.9" height="2.9" fill="#aaaaff"/><rect x="28.5" y="35.9" width="2.9" height="2.9" fill="#b5b5ff"/><rect x="28.5" y="38.4" width="2.9" height="2.9" fill="#9595ff"/><rect x="28.5" y="41.0" width="2.9" height="2.9" fill="#6a6aff"/><rect x="28.5" y="43.5" width="2.9" height="2.9" fill="#4040ff"/><rect x="28.5" y="46.1" width="2.9" height="2.9" fill="#6a6aff"/><rect x="28.5" y="48.7" width="2.9" height="2.9" fill="#6060ff"/><rect x="28.5" y="51.2" width="2.9" height="2.9" fill="#8080ff"/><rect x="28.5" y="53.8" width="2.9" height="2.9" fill="#8a8aff"/><rect x="28.5" y="56.3" width="2.9" height="2.9" fill="#aaaaff"/><rect x="31.1" y="0.0" width="2.9" height="2.9" fill="#9f9fff"/><rect x="31.1" y="2.6" width="2.9" height="2.9" fill="#9595ff"/><rect x="31.1" y="5.1" width="2.9" height="2.9" fill="#aaaaff"/><rect x="31.1" y="7.7" width="2.9" height="2.9" fill="#b5b5ff"/><rect x="31.1" y="10.2" width="2.9" height="5.4" fill="#9f9fff"/><rect x="31.1" y="15.4" width="2.9" height="2.9" fill="#b5b5ff"/><rect x="31.1" y="17.9" width="2.9" height="2.9" fill="#9f9fff"/><rect x="31.1" y="20.5" width="2.9" height="2.9" fill="#aaaaff"/><rect x="31.1" y="23.0" width="2.9" height="5.4" fill="#9f9fff"/><rect x="31.1" y="28.2" width="2.9" height="2.9" fill="#8080ff"/><rect x="31.1" y="30.7" width="2.9" height="2.9" fill="#9595ff"/><rect x="31.1" y="33.3" width="2.9" height="2.9" fill="#b5b5ff"/><rect x="31.1" y="35.9" width="2.9" height="2.9" fill="#9f9fff"/><rect x="31.1" y="38.4" width="2.9" height="2.9" fill="#aaaaff"/><rect x="31.1" y="41.0" width="2.9" height="2.9" fill="#6a6aff"/><rect x="31.1" y="43.5" width="2.9" height="2.9" fill="#7575ff"/><rect x="31.1" y="46.1" width="2.9" height="2.9" fill="#6a6aff"/><rect x="31.1" y="48.7" width="2.9" height="2.9" fill="#8080ff"/><rect x="31.1" y="51.2" width="2.9" height="2.9" fill="#6a6aff"/><rect x="31.1" y="53.8" width="2.9" height="2.9" fill="#8080ff"/><rect x="31.1" y="56.3" width="2.9" height="2.9" fill="#aaaaff"/><rect x="33.7" y="0.0" width="2.9" height="2.9" fill="#d4d4ff"/><rect x="33.7" y="2.6" width="2.9" height="2.9" fill="#aaaaff"/><rect x="33.7" y="5.1" width="2.9" height="5.4" fill="#cacaff"/><rect x="33.7" y="10.2" width="2.9" height="2.9" fill="#b5b5ff"/><rect x="33.7" y="12.8" width="2.9" height="2.9" fill="#9f9fff"/><rect x="33.7" y="15.4" width="2.9" height="2.9" fill="#bfbfff"/><rect x="33.7" y="17.9" width="2.9" height="8.0" fill="#9f9fff"/><rect x="33.7" y="25.6" width="2.9" height="5.4" fill="#8a8aff"/><rect x="33.7" y="30.7" width="2.9" height="2.9" fill="#9595ff"/><rect x="33.7" y="33.3" width="2.9" height="2.9" fill="#aaaaff"/><rect x="33.7" y="35.9" width="2.9" height="2.9" fill="#9595ff"/><rect x="33.7" y="38.4" width="2.9" height="2.9" fill="#8080ff"/><rect x="33.7" y="41.0" width="2.9" height="2.9" fill="#8a8aff"/><rect x="33.7" y="43.5" width="2.9" height="2.9" fill="#7575ff"/><rect x="33.7" y="46.1" width="2.9" height="2.9" fill="#8a8aff"/><rect x="33.7" y="48.7" width="2.9" height="2.9" fill="#8080ff"/><rect x="33.7" y="51.2" width="2.9" height="2.9" fill="#8a8aff"/><rect x="33.7" y="53.8" width="2.9" height="2.9" fill="#aaaaff"/><rect x="33.7" y="56.3" width="2.9" height="2.9" fill="#bfbfff"/><rect x="36.3" y="0.0" width="2.9" height="2.9" fill="#aaaaff"/><rect x="36.3" y="2.6" width="2.9" height="2.9" fill="#b5b5ff"/><rect x="36.3" y="5.1" width="2.9" height="2.9" fill="#aaaaff"/><rect x="36.3" y="7.7" width="2.9" height="2.9" fill="#cacaff"/><rect x="36.3" y="10.2" width="2.9" height="2.9" fill="#b5b5ff"/><rect x="36.3" y="12.8" width="2.9" height="2.9" fill="#9595ff"/><rect x="36.3" y="15.4" width="2.9" height="2.9" fill="#8a8aff"/><rect x="36.3" y="17.9" width="2.9" height="2.9" fill="#9595ff"/><rect x="36.3" y="20.5" width="2.9" height="2.9" fill="#8080ff"/><rect x="36.3" y="23.0" width="2.9" height="5.4" fill="#8a8aff"/><rect x="36.3" y="28.2" width="2.9" height="5.4" fill="#9595ff"/><rect x="36.3" y="33.3" width="2.9" height="2.9" fill="#8080ff"/><rect x="36.3" y="35.9" width="2.9" height="2.9" fill="#9f9fff"/><rect x="36.3" y="38.4" width="2.9" height="2.9" fill="#9595ff"/><rect x="36.3" y="41.0" width="2.9" height="2.9" fill="#7575ff"/><rect x="36.3" y="43.5" width="2.9" height="2.9" fill="#6a6aff"/><rect x="36.3" y="46.1" width="2.9" height="2.9" fill="#8080ff"/><rect x="36.3" y="48.7" width="2.9" height="2.9" fill="#9595ff"/><rect x="36.3" y="51.2" width="2.9" height="2.9" fill="#b5b5ff"/><rect x="36.3" y="53.8" width="2.9" height="5.4" fill="#cacaff"/><rect x="38.9" y="0.0" width="2.9" height="5.4" fill="#aaaaff"/><rect x="38.9" y="5.1" width="2.9" height="2.9" fill="#9595ff"/><rect x="38.9" y="7.7" width="2.9" height="5.4" fill="#9f9fff"/><rect x="38.9" y="12.8" width="2.9" height="2.9" fill="#9595ff"/><rect x="38.9" y="15.4" width="2.9" height="2.9" fill="#9f9fff"/><rect x="38.9" y="17.9" width="2.9" height="5.4" fill="#8a8aff"/><rect x="38.9" y="23.0" width="2.9" height="2.9" fill="#9595ff"/><rect x="38.9" y="25.6" width="2.9" height="2.9" fill="#aaaaff"/><rect x="38.9" y="28.2" width="2.9" height="5.4" fill="#8a8aff"/><rect x="38.9" y="33.3" width="2.9" height="5.4" fill="#8080ff"/><rect x="38.9" y="38.4" width="2.9" height="2.9" fill="#8a8aff"/><rect x="38.9" y="41.0" width="2.9" height="5.4" fill="#8080ff"/><rect x="38.9" y="46.1" width="2.9" height="2.9" fill="#8a8aff"/><rect x="38.9" y="48.7" width="2.9" height="2.9" fill="#9f9fff"/><rect x="38.9" y="51.2" width="2.9" height="5.4" fill="#eaeaff"/><rect x="38.9" y="56.3" width="2.9" height="2.9" fill="#d4d4ff"/><rect x="41.5" y="0.0" width="2.9" height="2.9" fill="#9595ff"/><rect x="41.5" y="2.6" width="2.9" height="2.9" fill="#8a8aff"/><rect x="41.5" y="5.1" width="2.9" height="8.0" fill="#9595ff"/><rect x="41.5" y="12.8" width="2.9" height="2.9" fill="#9f9fff"/><rect x="41.5" y="15.4" width="2.9" height="2.9" fill="#9595ff"/><rect x="41.5" y="17.9" width="2.9" height="2.9" fill="#8a8aff"/><rect x="41.5" y="20.5" width="2.9" height="2.9" fill="#9f9fff"/><rect x="41.5" y="23.0" width="2.9" height="2.9" fill="#bfbfff"/><rect x="41.5" y="25.6" width="2.9" height="2.9" fill="#b5b5ff"/><rect x="41.5" y="28.2" width="2.9" height="2.9" fill="#8a8aff"/><rect x="41.5" y="30.7" width="2.9" height="2.9" fill="#8080ff"/><rect x="41.5" y="33.3" width="2.9" height="2.9" fill="#8a8aff"/><rect x="41.5" y="35.9" width="2.9" height="2.9" fill="#7575ff"/><rect x="41.5" y="38.4" width="2.9" height="2.9" fill="#9f9fff"/><rect x="41.5" y="41.0" width="2.9" height="2.9" fill="#9595ff"/><rect x="41.5" y="43.5" width="2.9" height="2.9" fill="#7575ff"/><rect x="41.5" y="46.1" width="2.9" height="2.9" fill="#8080ff"/><rect x="41.5" y="48.7" width="2.9" height="2.9" fill="#9595ff"/><rect x="41.5" y="51.2" width="2.9" height="5.4" fill="#cacaff"/><rect x="41.5" y="56.3" width="2.9" height="2.9" fill="#dfdfff"/><rect x="44.1" y="0.0" width="2.9" height="2.9" fill="#9f9fff"/><rect x="44.1" y="2.6" width="2.9" height="5.4" fill="#8a8aff"/><rect x="44.1" y="7.7" width="2.9" height="8.0" fill="#9595ff"/><rect x="44.1" y="15.4" width="2.9" height="2.9" fill="#8a8aff"/><rect x="44.1" y="17.9" width="2.9" height="2.9" fill="#aaaaff"/><rect x="44.1" y="20.5" width="2.9" height="2.9" fill="#9f9fff"/><rect x="44.1" y="23.0" width="2.9" height="2.9" fill="#cacaff"/><rect x="44.1" y="25.6" width="2.9" height="2.9" fill="#9f9fff"/><rect x="44.1" y="28.2" width="2.9" height="2.9" fill="#9595ff"/><rect x="44.1" y="30.7" width="2.9" height="2.9" fill="#8a8aff"/><rect x="44.1" y="33.3" width="2.9" height="2.9" fill="#9595ff"/><rect x="44.1" y="35.9" width="2.9" height="2.9" fill="#aaaaff"/><rect x="44.1" y="38.4" width="2.9" height="2.9" fill="#d4d4ff"/><rect x="44.1" y="41.0" width="2.9" height="2.9" fill="#bfbfff"/><rect x="44.1" y="43.5" width="2.9" height="2.9" fill="#7575ff"/><rect x="44.1" y="46.1" width="2.9" height="5.4" fill="#8080ff"/><rect x="44.1" y="51.2" width="2.9" height="2.9" fill="#9f9fff"/><rect x="44.1" y="53.8" width="2.9" height="2.9" fill="#aaaaff"/><rect x="44.1" y="56.3" width="2.9" height="2.9" fill="#9f9fff"/><rect x="46.7" y="0.0" width="2.9" height="2.9" fill="#9f9fff"/><rect x="46.7" y="2.6" width="2.9" height="2.9" fill="#8080ff"/><rect x="46.7" y="5.1" width="2.9" height="2.9" fill="#9f9fff"/><rect x="46.7" y="7.7" width="2.9" height="2.9" fill="#8a8aff"/><rect x="46.7" y="10.2" width="2.9" height="2.9" fill="#aaaaff"/><rect x="46.7" y="12.8" width="2.9" height="2.9" fill="#9595ff"/><rect x="46.7" y="15.4" width="2.9" height="2.9" fill="#aaaaff"/><rect x="46.7" y="17.9" width="2.9" height="5.4" fill="#9f9fff"/><rect x="46.7" y="23.0" width="2.9" height="5.4" fill="#9595ff"/><rect x="46.7" y="28.2" width="2.9" height="2.9" fill="#8080ff"/><rect x="46.7" y="30.7" width="2.9" height="2.9" fill="#8a8aff"/><rect x="46.7" y="33.3" width="2.9" height="5.4" fill="#9595ff"/><rect x="46.7" y="38.4" width="2.9" height="2.9" fill="#dfdfff"/><rect x="46.7" y="41.0" width="2.9" height="2.9" fill="#bfbfff"/><rect x="46.7" y="43.5" width="2.9" height="2.9" fill="#8a8aff"/><rect x="46.7" y="46.1" width="2.9" height="5.4" fill="#8080ff"/><rect x="46.7" y="51.2" width="2.9" height="2.9" fill="#9595ff"/><rect x="46.7" y="53.8" width="2.9" height="5.4" fill="#9f9fff"/><rect x="49.3" y="0.0" width="2.9" height="2.9" fill="#9595ff"/><rect x="49.3" y="2.6" width="2.9" height="2.9" fill="#aaaaff"/><rect x="49.3" y="5.1" width="2.9" height="5.4" fill="#9f9fff"/><rect x="49.3" y="10.2" width="2.9" height="2.9" fill="#aaaaff"/><rect x="49.3" y="12.8" width="2.9" height="5.4" fill="#bfbfff"/><rect x="49.3" y="17.9" width="2.9" height="2.9" fill="#b5b5ff"/><rect x="49.3" y="20.5" width="2.9" height="5.4" fill="#aaaaff"/><rect x="49.3" y="25.6" width="2.9" height="2.9" fill="#9f9fff"/><rect x="49.3" y="28.2" width="2.9" height="2.9" fill="#aaaaff"/><rect x="49.3" y="30.7" width="2.9" height="2.9" fill="#bfbfff"/><rect x="49.3" y="33.3" width="2.9" height="2.9" fill="#aaaaff"/><rect x="49.3" y="35.9" width="2.9" height="2.9" fill="#9f9fff"/><rect x="49.3" y="38.4" width="2.9" height="2.9" fill="#b5b5ff"/><rect x="49.3" y="41.0" width="2.9" height="2.9" fill="#aaaaff"/><rect x="49.3" y="43.5" width="2.9" height="2.9" fill="#8a8aff"/><rect x="49.3" y="46.1" width="2.9" height="13.1" fill="#9595ff"/></g>
<ellipse cx="24" cy="42" rx="10" ry="8" fill="#a8a8ff" fill-opacity="1" filter="url(#b2_5)"/>
<path d="M16.00,15.00 C16.92,13.08 20.33,13.17 22.00,13.50 C23.67,13.83 25.42,15.25 26.00,17.00 C26.58,18.75 25.83,22.00 25.50,24.00 C25.17,26.00 25.08,28.08 24.00,29.00 C22.92,29.92 20.25,30.17 19.00,29.50 C17.75,28.83 17.00,27.42 16.50,25.00 C16.00,22.58 15.08,16.92 16.00,15.00Z" fill="#f0f0ff" filter="url(#b1_2)"/>
<path d="M43.50,31.00 C44.33,29.33 46.83,29.17 48.00,30.00 C49.17,30.83 50.17,33.33 50.50,36.00 C50.83,38.67 50.50,43.33 50.00,46.00 C49.50,48.67 48.50,51.33 47.50,52.00 C46.50,52.67 44.75,52.00 44.00,50.00 C43.25,48.00 43.08,43.17 43.00,40.00 C42.92,36.83 42.67,32.67 43.50,31.00Z" fill="#e8e8ff" filter="url(#b1_2)"/>
<ellipse cx="41" cy="54" rx="5" ry="3" fill="#f4f4ff" fill-opacity="1" filter="url(#b1_2)"/>
<ellipse cx="36.5" cy="4.3" rx="7.5" ry="3.6" fill="#fde4e8" fill-opacity="1" filter="url(#b1)"/>
<path d="M32.81,22.06 C33.73,20.58 36.12,18.13 38.33,17.57 C40.53,17.02 44.19,17.61 46.03,18.72 C47.87,19.83 49.18,22.23 49.37,24.24 C49.56,26.25 48.47,29.34 47.18,30.80 C45.90,32.25 43.68,32.98 41.66,32.98 C39.65,32.98 36.58,31.89 35.11,30.80 C33.63,29.70 33.19,27.88 32.81,26.43 C32.42,24.97 31.89,23.53 32.81,22.06Z" fill="#fbfbff" filter="url(#b1)"/>
<path d="M33.80,22.50 C34.60,21.22 36.68,19.08 38.60,18.60 C40.52,18.12 43.70,18.63 45.30,19.60 C46.90,20.57 48.03,22.65 48.20,24.40 C48.37,26.15 47.42,28.83 46.30,30.10 C45.18,31.37 43.25,32.00 41.50,32.00 C39.75,32.00 37.08,31.05 35.80,30.10 C34.52,29.15 34.13,27.57 33.80,26.30 C33.47,25.03 33.00,23.78 33.80,22.50Z" fill="#ffdada" filter="url(#b0_8)"/>
<path d="M34.98,22.74 C35.66,21.64 37.46,19.80 39.10,19.39 C40.75,18.97 43.49,19.42 44.87,20.25 C46.24,21.08 47.22,22.87 47.36,24.37 C47.50,25.88 46.69,28.19 45.73,29.28 C44.77,30.37 43.10,30.91 41.60,30.91 C40.09,30.91 37.80,30.09 36.70,29.28 C35.59,28.46 35.26,27.10 34.98,26.01 C34.69,24.92 34.29,23.84 34.98,22.74Z" fill="#ffb0b0" filter="url(#b1)"/>
<path d="M36.49,23.05 C37.03,22.18 38.45,20.73 39.75,20.40 C41.06,20.07 43.22,20.42 44.31,21.08 C45.40,21.74 46.17,23.15 46.28,24.34 C46.39,25.53 45.75,27.36 44.99,28.22 C44.23,29.08 42.92,29.51 41.73,29.51 C40.54,29.51 38.72,28.86 37.85,28.22 C36.98,27.57 36.72,26.50 36.49,25.63 C36.26,24.77 35.95,23.92 36.49,23.05Z" fill="#ff7474" filter="url(#b1)"/>
<path d="M38.17,23.39 C38.55,22.78 39.55,21.75 40.47,21.52 C41.39,21.29 42.92,21.54 43.69,22.00 C44.46,22.47 45.00,23.47 45.08,24.31 C45.16,25.15 44.71,26.43 44.17,27.04 C43.63,27.65 42.71,27.95 41.87,27.95 C41.03,27.95 39.75,27.50 39.13,27.04 C38.51,26.59 38.33,25.83 38.17,25.22 C38.01,24.61 37.79,24.01 38.17,23.39Z" fill="#ff3c3c" filter="url(#b1)"/>
<path d="M39.85,23.74 C40.08,23.38 40.66,22.78 41.20,22.65 C41.73,22.51 42.62,22.66 43.07,22.93 C43.52,23.20 43.84,23.78 43.88,24.27 C43.93,24.76 43.66,25.51 43.35,25.87 C43.04,26.22 42.50,26.40 42.01,26.40 C41.52,26.40 40.77,26.13 40.41,25.87 C40.05,25.60 39.94,25.16 39.85,24.80 C39.76,24.45 39.63,24.10 39.85,23.74Z" fill="#ff0c0c" filter="url(#b1)"/>
<circle cx="43.4" cy="23.4" r="0.75" fill="#111"/>
<path d="M9.1,6.1h1.6v1.6h-1.6zM19.4,6.1h1.6v1.6h-1.6zM31.0,6.1h1.6v1.6h-1.6zM41.3,6.1h1.6v1.6h-1.6zM9.7,14.6h1.6v1.6h-1.6zM19.8,14.6h1.6v1.6h-1.6zM30.6,14.6h1.6v1.6h-1.6zM42.0,14.6h1.6v1.6h-1.6zM7.9,22.8h1.6v1.6h-1.6zM42.5,22.8h1.6v1.6h-1.6zM7.9,31.2h1.6v1.6h-1.6zM18.0,31.2h1.6v1.6h-1.6zM32.9,31.2h1.6v1.6h-1.6zM42.5,31.2h1.6v1.6h-1.6zM7.9,39.6h1.6v1.6h-1.6zM18.0,39.6h1.6v1.6h-1.6zM32.9,39.6h1.6v1.6h-1.6zM42.5,39.6h1.6v1.6h-1.6zM7.9,48.0h1.6v1.6h-1.6zM42.5,48.0h1.6v1.6h-1.6z" fill="#f2904a" fill-opacity="0.6"/>
</g>
<rect x="0" y="0" width="51.9" height="58.9" fill="none" stroke="#7a7a7a" stroke-width="0.8"/>
<path d="M8.7,58.9v1.3M0,8.4h-1.3M17.3,58.9v1.3M0,16.8h-1.3M25.9,58.9v1.3M0,25.2h-1.3M34.6,58.9v1.3M0,33.7h-1.3M43.2,58.9v1.3M0,42.1h-1.3" stroke="#777" stroke-width="0.5"/>
</g>
<rect x="388.3" y="12.4" width="107.1" height="121" fill="#f5f5ff"/>
<clipPath id="bmidclip"><rect x="388.3" y="12.4" width="107.1" height="121"/></clipPath>
<g clip-path="url(#bmidclip)"><g filter="url(#b1)"><rect x="388.30" y="12.40" width="4.96" height="121.30" fill="#ffffff"/><rect x="392.96" y="12.40" width="4.96" height="121.30" fill="#ffffff"/><rect x="397.61" y="12.40" width="4.96" height="121.30" fill="#ffffff"/><rect x="402.27" y="12.40" width="4.96" height="121.30" fill="#ffffff"/><rect x="406.93" y="12.40" width="4.96" height="37.53" fill="#ffffff"/><rect x="406.93" y="49.63" width="4.96" height="9.61" fill="#fafaff"/><rect x="406.93" y="58.94" width="4.96" height="74.76" fill="#ffffff"/><rect x="411.58" y="12.40" width="4.96" height="121.30" fill="#fafaff"/><rect x="416.24" y="12.40" width="4.96" height="9.61" fill="#fafaff"/><rect x="416.24" y="63.59" width="4.96" height="4.95" fill="#fafaff"/><rect x="416.24" y="82.21" width="4.96" height="4.95" fill="#fafaff"/><rect x="416.24" y="91.52" width="4.96" height="9.61" fill="#fafaff"/><rect x="416.24" y="110.13" width="4.96" height="4.95" fill="#fafaff"/><rect x="420.90" y="17.05" width="4.96" height="23.57" fill="#efefff"/><rect x="420.90" y="44.98" width="4.96" height="9.61" fill="#efefff"/><rect x="420.90" y="54.28" width="4.96" height="9.61" fill="#eaeaff"/><rect x="420.90" y="63.59" width="4.96" height="9.61" fill="#efefff"/><rect x="420.90" y="72.90" width="4.96" height="4.95" fill="#eaeaff"/><rect x="420.90" y="77.55" width="4.96" height="4.95" fill="#efefff"/><rect x="420.90" y="86.86" width="4.96" height="4.95" fill="#efefff"/><rect x="420.90" y="96.17" width="4.96" height="9.61" fill="#efefff"/><rect x="420.90" y="105.48" width="4.96" height="4.95" fill="#eaeaff"/><rect x="420.90" y="110.13" width="4.96" height="9.61" fill="#efefff"/><rect x="420.90" y="128.75" width="4.96" height="4.95" fill="#efefff"/><rect x="425.55" y="12.40" width="4.96" height="4.95" fill="#eaeaff"/><rect x="425.55" y="17.05" width="4.96" height="9.61" fill="#e4e4ff"/><rect x="425.55" y="26.36" width="4.96" height="4.95" fill="#dfdfff"/><rect x="425.55" y="31.02" width="4.96" height="4.95" fill="#dadaff"/><rect x="425.55" y="35.67" width="4.96" height="4.95" fill="#d4d4ff"/><rect x="425.55" y="40.32" width="4.96" height="4.95" fill="#dfdfff"/><rect x="425.55" y="44.98" width="4.96" height="9.61" fill="#dadaff"/><rect x="425.55" y="54.28" width="4.96" height="4.95" fill="#cacaff"/><rect x="425.55" y="58.94" width="4.96" height="4.95" fill="#dfdfff"/><rect x="425.55" y="63.59" width="4.96" height="9.61" fill="#dadaff"/><rect x="425.55" y="72.90" width="4.96" height="4.95" fill="#cacaff"/><rect x="425.55" y="77.55" width="4.96" height="4.95" fill="#d4d4ff"/><rect x="425.55" y="82.21" width="4.96" height="4.95" fill="#eaeaff"/><rect x="425.55" y="86.86" width="4.96" height="9.61" fill="#e4e4ff"/><rect x="425.55" y="96.17" width="4.96" height="4.95" fill="#dfdfff"/><rect x="425.55" y="100.82" width="4.96" height="4.95" fill="#eaeaff"/><rect x="425.55" y="105.48" width="4.96" height="4.95" fill="#dfdfff"/><rect x="425.55" y="110.13" width="4.96" height="4.95" fill="#e4e4ff"/><rect x="425.55" y="114.78" width="4.96" height="4.95" fill="#eaeaff"/><rect x="425.55" y="119.44" width="4.96" height="9.61" fill="#e4e4ff"/><rect x="425.55" y="128.75" width="4.96" height="4.95" fill="#dfdfff"/><rect x="430.21" y="12.40" width="4.96" height="4.95" fill="#dadaff"/><rect x="430.21" y="17.05" width="4.96" height="4.95" fill="#c5c5ff"/><rect x="430.21" y="21.71" width="4.96" height="4.95" fill="#d4d4ff"/><rect x="430.21" y="26.36" width="4.96" height="4.95" fill="#bfbfff"/><rect x="430.21" y="31.02" width="4.96" height="4.95" fill="#b5b5ff"/><rect x="430.21" y="35.67" width="4.96" height="4.95" fill="#c5c5ff"/><rect x="430.21" y="40.32" width="4.96" height="4.95" fill="#bfbfff"/><rect x="430.21" y="44.98" width="4.96" height="4.95" fill="#cfcfff"/><rect x="430.21" y="49.63" width="4.96" height="4.95" fill="#bfbfff"/><rect x="430.21" y="54.28" width="4.96" height="4.95" fill="#afafff"/><rect x="430.21" y="58.94" width="4.96" height="4.95" fill="#aaaaff"/><rect x="430.21" y="63.59" width="4.96" height="4.95" fill="#bfbfff"/><rect x="430.21" y="68.25" width="4.96" height="4.95" fill="#c5c5ff"/><rect x="430.21" y="72.90" width="4.96" height="4.95" fill="#9595ff"/><rect x="430.21" y="77.55" width="4.96" height="4.95" fill="#afafff"/><rect x="430.21" y="82.21" width="4.96" height="4.95" fill="#bfbfff"/><rect x="430.21" y="86.86" width="4.96" height="4.95" fill="#babaff"/><rect x="430.21" y="91.52" width="4.96" height="4.95" fill="#dfdfff"/><rect x="430.21" y="96.17" width="4.96" height="4.95" fill="#cfcfff"/><rect x="430.21" y="100.82" width="4.96" height="4.95" fill="#d4d4ff"/><rect x="430.21" y="105.48" width="4.96" height="4.95" fill="#c5c5ff"/><rect x="430.21" y="110.13" width="4.96" height="4.95" fill="#afafff"/><rect x="430.21" y="114.78" width="4.96" height="4.95" fill="#d4d4ff"/><rect x="430.21" y="119.44" width="4.96" height="4.95" fill="#e4e4ff"/><rect x="430.21" y="124.09" width="4.96" height="4.95" fill="#cfcfff"/><rect x="430.21" y="128.75" width="4.96" height="4.95" fill="#bfbfff"/><rect x="434.87" y="12.40" width="4.96" height="4.95" fill="#dadaff"/><rect x="434.87" y="17.05" width="4.96" height="4.95" fill="#cfcfff"/><rect x="434.87" y="21.71" width="4.96" height="4.95" fill="#c5c5ff"/><rect x="434.87" y="26.36" width="4.96" height="4.95" fill="#afafff"/><rect x="434.87" y="31.02" width="4.96" height="4.95" fill="#bfbfff"/><rect x="434.87" y="35.67" width="4.96" height="4.95" fill="#d4d4ff"/><rect x="434.87" y="40.32" width="4.96" height="4.95" fill="#dfdfff"/><rect x="434.87" y="44.98" width="4.96" height="4.95" fill="#d4d4ff"/><rect x="434.87" y="49.63" width="4.96" height="4.95" fill="#9f9fff"/><rect x="434.87" y="54.28" width="4.96" height="4.95" fill="#8a8aff"/><rect x="434.87" y="58.94" width="4.96" height="4.95" fill="#9595ff"/><rect x="434.87" y="63.59" width="4.96" height="4.95" fill="#cfcfff"/><rect x="434.87" y="68.25" width="4.96" height="4.95" fill="#d4d4ff"/><rect x="434.87" y="72.90" width="4.96" height="4.95" fill="#bfbfff"/><rect x="434.87" y="77.55" width="4.96" height="4.95" fill="#a5a5ff"/><rect x="434.87" y="82.21" width="4.96" height="4.95" fill="#afafff"/><rect x="434.87" y="86.86" width="4.96" height="4.95" fill="#9f9fff"/><rect x="434.87" y="91.52" width="4.96" height="9.61" fill="#c5c5ff"/><rect x="434.87" y="100.82" width="4.96" height="4.95" fill="#bfbfff"/><rect x="434.87" y="105.48" width="4.96" height="4.95" fill="#d4d4ff"/><rect x="434.87" y="110.13" width="4.96" height="14.26" fill="#bfbfff"/><rect x="434.87" y="124.09" width="4.96" height="4.95" fill="#c5c5ff"/><rect x="434.87" y="128.75" width="4.96" height="4.95" fill="#d4d4ff"/><rect x="439.52" y="12.40" width="4.96" height="4.95" fill="#e4e4ff"/><rect x="439.52" y="17.05" width="4.96" height="9.61" fill="#d4d4ff"/><rect x="439.52" y="26.36" width="4.96" height="9.61" fill="#c5c5ff"/><rect x="439.52" y="35.67" width="4.96" height="4.95" fill="#cfcfff"/><rect x="439.52" y="40.32" width="4.96" height="4.95" fill="#d4d4ff"/><rect x="439.52" y="44.98" width="4.96" height="4.95" fill="#dadaff"/><rect x="439.52" y="49.63" width="4.96" height="4.95" fill="#cacaff"/><rect x="439.52" y="54.28" width="4.96" height="4.95" fill="#9a9aff"/><rect x="439.52" y="58.94" width="4.96" height="4.95" fill="#afafff"/><rect x="439.52" y="63.59" width="4.96" height="9.61" fill="#dfdfff"/><rect x="439.52" y="72.90" width="4.96" height="4.95" fill="#bfbfff"/><rect x="439.52" y="77.55" width="4.96" height="4.95" fill="#cacaff"/><rect x="439.52" y="82.21" width="4.96" height="4.95" fill="#babaff"/><rect x="439.52" y="86.86" width="4.96" height="4.95" fill="#efefff"/><rect x="439.52" y="96.17" width="4.96" height="4.95" fill="#fafaff"/><rect x="439.52" y="100.82" width="4.96" height="4.95" fill="#cacaff"/><rect x="439.52" y="105.48" width="4.96" height="4.95" fill="#cfcfff"/><rect x="439.52" y="110.13" width="4.96" height="9.61" fill="#cacaff"/><rect x="439.52" y="119.44" width="4.96" height="9.61" fill="#cfcfff"/><rect x="439.52" y="128.75" width="4.96" height="4.95" fill="#cacaff"/><rect x="444.18" y="12.40" width="4.96" height="4.95" fill="#d4d4ff"/><rect x="444.18" y="17.05" width="4.96" height="4.95" fill="#cfcfff"/><rect x="444.18" y="21.71" width="4.96" height="9.61" fill="#d4d4ff"/><rect x="444.18" y="31.02" width="4.96" height="4.95" fill="#b5b5ff"/><rect x="444.18" y="35.67" width="4.96" height="4.95" fill="#cacaff"/><rect x="444.18" y="40.32" width="4.96" height="4.95" fill="#cfcfff"/><rect x="444.18" y="44.98" width="4.96" height="4.95" fill="#c5c5ff"/><rect x="444.18" y="49.63" width="4.96" height="4.95" fill="#b5b5ff"/><rect x="444.18" y="54.28" width="4.96" height="4.95" fill="#a5a5ff"/><rect x="444.18" y="58.94" width="4.96" height="4.95" fill="#b5b5ff"/><rect x="444.18" y="63.59" width="4.96" height="4.95" fill="#cfcfff"/><rect x="444.18" y="68.25" width="4.96" height="4.95" fill="#d4d4ff"/><rect x="444.18" y="72.90" width="4.96" height="4.95" fill="#a5a5ff"/><rect x="444.18" y="77.55" width="4.96" height="4.95" fill="#c5c5ff"/><rect x="444.18" y="82.21" width="4.96" height="4.95" fill="#babaff"/><rect x="444.18" y="86.86" width="4.96" height="4.95" fill="#a5a5ff"/><rect x="444.18" y="91.52" width="4.96" height="9.61" fill="#cfcfff"/><rect x="444.18" y="100.82" width="4.96" height="18.92" fill="#cacaff"/><rect x="444.18" y="119.44" width="4.96" height="4.95" fill="#cfcfff"/><rect x="444.18" y="124.09" width="4.96" height="4.95" fill="#d4d4ff"/><rect x="444.18" y="128.75" width="4.96" height="4.95" fill="#cacaff"/><rect x="448.83" y="12.40" width="4.96" height="4.95" fill="#dadaff"/><rect x="448.83" y="17.05" width="4.96" height="4.95" fill="#d4d4ff"/><rect x="448.83" y="21.71" width="4.96" height="4.95" fill="#bfbfff"/><rect x="448.83" y="26.36" width="4.96" height="4.95" fill="#afafff"/><rect x="448.83" y="31.02" width="4.96" height="9.61" fill="#b5b5ff"/><rect x="448.83" y="40.32" width="4.96" height="4.95" fill="#c5c5ff"/><rect x="448.83" y="44.98" width="4.96" height="4.95" fill="#cfcfff"/><rect x="448.83" y="49.63" width="4.96" height="4.95" fill="#aaaaff"/><rect x="448.83" y="54.28" width="4.96" height="4.95" fill="#babaff"/><rect x="448.83" y="58.94" width="4.96" height="4.95" fill="#9a9aff"/><rect x="448.83" y="63.59" width="4.96" height="4.95" fill="#babaff"/><rect x="448.83" y="68.25" width="4.96" height="4.95" fill="#d4d4ff"/><rect x="448.83" y="72.90" width="4.96" height="4.95" fill="#9a9aff"/><rect x="448.83" y="77.55" width="4.96" height="4.95" fill="#a5a5ff"/><rect x="448.83" y="82.21" width="4.96" height="9.61" fill="#c5c5ff"/><rect x="448.83" y="91.52" width="4.96" height="4.95" fill="#dadaff"/><rect x="448.83" y="96.17" width="4.96" height="4.95" fill="#d4d4ff"/><rect x="448.83" y="100.82" width="4.96" height="4.95" fill="#c5c5ff"/><rect x="448.83" y="105.48" width="4.96" height="4.95" fill="#d4d4ff"/><rect x="448.83" y="110.13" width="4.96" height="9.61" fill="#c5c5ff"/><rect x="448.83" y="119.44" width="4.96" height="4.95" fill="#cacaff"/><rect x="448.83" y="124.09" width="4.96" height="9.61" fill="#c5c5ff"/><rect x="453.49" y="12.40" width="4.96" height="4.95" fill="#dadaff"/><rect x="453.49" y="17.05" width="4.96" height="9.61" fill="#dfdfff"/><rect x="453.49" y="26.36" width="4.96" height="4.95" fill="#cfcfff"/><rect x="453.49" y="31.02" width="4.96" height="4.95" fill="#c5c5ff"/><rect x="453.49" y="35.67" width="4.96" height="9.61" fill="#dadaff"/><rect x="453.49" y="44.98" width="4.96" height="4.95" fill="#e4e4ff"/><rect x="453.49" y="49.63" width="4.96" height="4.95" fill="#cfcfff"/><rect x="453.49" y="54.28" width="4.96" height="9.61" fill="#c5c5ff"/><rect x="453.49" y="63.59" width="4.96" height="9.61" fill="#d4d4ff"/><rect x="453.49" y="72.90" width="4.96" height="4.95" fill="#afafff"/><rect x="453.49" y="77.55" width="4.96" height="4.95" fill="#cacaff"/><rect x="453.49" y="82.21" width="4.96" height="4.95" fill="#d4d4ff"/><rect x="453.49" y="86.86" width="4.96" height="4.95" fill="#dadaff"/><rect x="453.49" y="91.52" width="4.96" height="4.95" fill="#dfdfff"/><rect x="453.49" y="96.17" width="4.96" height="9.61" fill="#dadaff"/><rect x="453.49" y="105.48" width="4.96" height="18.92" fill="#dfdfff"/><rect x="453.49" y="124.09" width="4.96" height="4.95" fill="#dadaff"/><rect x="453.49" y="128.75" width="4.96" height="4.95" fill="#cacaff"/><rect x="458.15" y="12.40" width="4.96" height="4.95" fill="#efefff"/><rect x="458.15" y="17.05" width="4.96" height="4.95" fill="#eaeaff"/><rect x="458.15" y="21.71" width="4.96" height="4.95" fill="#efefff"/><rect x="458.15" y="26.36" width="4.96" height="4.95" fill="#eaeaff"/><rect x="458.15" y="31.02" width="4.96" height="4.95" fill="#e4e4ff"/><rect x="458.15" y="35.67" width="4.96" height="4.95" fill="#eaeaff"/><rect x="458.15" y="40.32" width="4.96" height="9.61" fill="#efefff"/><rect x="458.15" y="49.63" width="4.96" height="9.61" fill="#e4e4ff"/><rect x="458.15" y="58.94" width="4.96" height="4.95" fill="#eaeaff"/><rect x="458.15" y="63.59" width="4.96" height="9.61" fill="#efefff"/><rect x="458.15" y="72.90" width="4.96" height="4.95" fill="#dfdfff"/><rect x="458.15" y="77.55" width="4.96" height="4.95" fill="#eaeaff"/><rect x="458.15" y="82.21" width="4.96" height="4.95" fill="#efefff"/><rect x="458.15" y="86.86" width="4.96" height="9.61" fill="#eaeaff"/><rect x="458.15" y="96.17" width="4.96" height="4.95" fill="#efefff"/><rect x="458.15" y="100.82" width="4.96" height="4.95" fill="#eaeaff"/><rect x="458.15" y="105.48" width="4.96" height="4.95" fill="#efefff"/><rect x="458.15" y="110.13" width="4.96" height="9.61" fill="#eaeaff"/><rect x="458.15" y="119.44" width="4.96" height="9.61" fill="#efefff"/><rect x="458.15" y="128.75" width="4.96" height="4.95" fill="#eaeaff"/><rect x="462.80" y="12.40" width="4.96" height="9.61" fill="#fafaff"/><rect x="462.80" y="31.02" width="4.96" height="4.95" fill="#efefff"/><rect x="462.80" y="68.25" width="4.96" height="4.95" fill="#fafaff"/><rect x="462.80" y="72.90" width="4.96" height="4.95" fill="#efefff"/><rect x="462.80" y="82.21" width="4.96" height="4.95" fill="#fafaff"/><rect x="462.80" y="91.52" width="4.96" height="4.95" fill="#fafaff"/><rect x="467.46" y="12.40" width="4.96" height="18.92" fill="#fafaff"/><rect x="467.46" y="35.67" width="4.96" height="98.03" fill="#fafaff"/><rect x="472.12" y="12.40" width="4.96" height="18.92" fill="#ffffff"/><rect x="472.12" y="31.02" width="4.96" height="4.95" fill="#fafaff"/><rect x="472.12" y="35.67" width="4.96" height="4.95" fill="#ffffff"/><rect x="472.12" y="40.32" width="4.96" height="4.95" fill="#fafaff"/><rect x="472.12" y="44.98" width="4.96" height="4.95" fill="#ffffff"/><rect x="472.12" y="49.63" width="4.96" height="14.26" fill="#fafaff"/><rect x="472.12" y="63.59" width="4.96" height="4.95" fill="#ffffff"/><rect x="472.12" y="68.25" width="4.96" height="4.95" fill="#fafaff"/><rect x="472.12" y="72.90" width="4.96" height="23.57" fill="#ffffff"/><rect x="472.12" y="96.17" width="4.96" height="4.95" fill="#fafaff"/><rect x="472.12" y="100.82" width="4.96" height="32.88" fill="#ffffff"/><rect x="476.77" y="12.40" width="4.96" height="121.30" fill="#ffffff"/><rect x="481.43" y="12.40" width="4.96" height="121.30" fill="#ffffff"/><rect x="486.09" y="12.40" width="4.96" height="121.30" fill="#ffffff"/><rect x="490.74" y="12.40" width="4.96" height="121.30" fill="#ffffff"/></g></g>
<circle cx="442.4" cy="72.6" r="10.4" fill="#fdfdff" filter="url(#b0_8)"/>
<ellipse cx="442.3" cy="72.8" rx="10.4" ry="10.4" fill="url(#redblob)" filter="url(#b0_6)"/>
<path d="M441,71 l3,3 M444,71 l-3,3" stroke="#111" stroke-width="0.9"/>
<rect x="388.3" y="12.4" width="107.09999999999997" height="121.0" fill="none" stroke="#444" stroke-width="0.9"/>
<line x1="386.30" y1="13.30" x2="388.30" y2="13.30" stroke="#333" stroke-width="0.7" />
<text class="s" x="386.00" y="15.57" font-size="6.4" text-anchor="end" fill="#111" stroke="#111" stroke-width="0.15" >100</text>
<line x1="386.30" y1="28.13" x2="388.30" y2="28.13" stroke="#333" stroke-width="0.7" />
<text class="s" x="386.00" y="30.40" font-size="6.4" text-anchor="end" fill="#111" stroke="#111" stroke-width="0.15" >75</text>
<line x1="386.30" y1="42.96" x2="388.30" y2="42.96" stroke="#333" stroke-width="0.7" />
<text class="s" x="386.00" y="45.23" font-size="6.4" text-anchor="end" fill="#111" stroke="#111" stroke-width="0.15" >50</text>
<line x1="386.30" y1="57.79" x2="388.30" y2="57.79" stroke="#333" stroke-width="0.7" />
<text class="s" x="386.00" y="60.06" font-size="6.4" text-anchor="end" fill="#111" stroke="#111" stroke-width="0.15" >25</text>
<line x1="386.30" y1="72.62" x2="388.30" y2="72.62" stroke="#333" stroke-width="0.7" />
<text class="s" x="386.00" y="74.89" font-size="6.4" text-anchor="end" fill="#111" stroke="#111" stroke-width="0.15" >0</text>
<line x1="386.30" y1="87.45" x2="388.30" y2="87.45" stroke="#333" stroke-width="0.7" />
<text class="s" x="386.00" y="89.72" font-size="6.4" text-anchor="end" fill="#111" stroke="#111" stroke-width="0.15" >−25</text>
<line x1="386.30" y1="102.28" x2="388.30" y2="102.28" stroke="#333" stroke-width="0.7" />
<text class="s" x="386.00" y="104.55" font-size="6.4" text-anchor="end" fill="#111" stroke="#111" stroke-width="0.15" >−50</text>
<line x1="386.30" y1="117.11" x2="388.30" y2="117.11" stroke="#333" stroke-width="0.7" />
<text class="s" x="386.00" y="119.38" font-size="6.4" text-anchor="end" fill="#111" stroke="#111" stroke-width="0.15" >−75</text>
<line x1="386.30" y1="131.94" x2="388.30" y2="131.94" stroke="#333" stroke-width="0.7" />
<text class="s" x="386.00" y="134.21" font-size="6.4" text-anchor="end" fill="#111" stroke="#111" stroke-width="0.15" >−100</text>
<line x1="395.70" y1="133.40" x2="395.70" y2="135.40" stroke="#333" stroke-width="0.7" />
<text class="s" x="395.70" y="141.87" font-size="6.4" text-anchor="middle" fill="#111" stroke="#111" stroke-width="0.15" >−2</text>
<line x1="418.60" y1="133.40" x2="418.60" y2="135.40" stroke="#333" stroke-width="0.7" />
<text class="s" x="418.60" y="141.87" font-size="6.4" text-anchor="middle" fill="#111" stroke="#111" stroke-width="0.15" >−1</text>
<line x1="441.50" y1="133.40" x2="441.50" y2="135.40" stroke="#333" stroke-width="0.7" />
<text class="s" x="441.50" y="141.87" font-size="6.4" text-anchor="middle" fill="#111" stroke="#111" stroke-width="0.15" >0</text>
<line x1="464.80" y1="133.40" x2="464.80" y2="135.40" stroke="#333" stroke-width="0.7" />
<text class="s" x="464.80" y="141.87" font-size="6.4" text-anchor="middle" fill="#111" stroke="#111" stroke-width="0.15" >1</text>
<line x1="488.20" y1="133.40" x2="488.20" y2="135.40" stroke="#333" stroke-width="0.7" />
<text class="s" x="488.20" y="141.87" font-size="6.4" text-anchor="middle" fill="#111" stroke="#111" stroke-width="0.15" >2</text>
<text class="s" x="443.90" y="149.64" font-size="6.3" text-anchor="middle" fill="#111" stroke="#111" stroke-width="0.15" >θ [rad]</text>
<text class="s" font-size="5.6" text-anchor="middle" fill="#000" stroke="#000" stroke-width="0.15" transform="translate(371.3,72.5) rotate(-90)">z [mm]</text>
<rect x="388.8" y="170" width="106.4" height="120.9" fill="#b8b8ff"/>
<clipPath id="cmidclip"><rect x="388.8" y="170" width="106.4" height="120.9"/></clipPath>
<g clip-path="url(#cmidclip)"><g filter="url(#b0_8)"><rect x="388.80" y="170.00" width="4.93" height="4.95" fill="#d4d4ff"/><rect x="388.80" y="174.65" width="4.93" height="4.95" fill="#bfbfff"/><rect x="388.80" y="179.30" width="4.93" height="4.95" fill="#babaff"/><rect x="388.80" y="183.95" width="4.93" height="4.95" fill="#b5b5ff"/><rect x="388.80" y="188.60" width="4.93" height="4.95" fill="#ffffff"/><rect x="388.80" y="193.25" width="4.93" height="4.95" fill="#d4d4ff"/><rect x="388.80" y="197.90" width="4.93" height="4.95" fill="#ffffff"/><rect x="388.80" y="202.55" width="4.93" height="4.95" fill="#e4e4ff"/><rect x="388.80" y="207.20" width="4.93" height="4.95" fill="#dfdfff"/><rect x="388.80" y="211.85" width="4.93" height="4.95" fill="#cfcfff"/><rect x="388.80" y="216.50" width="4.93" height="9.60" fill="#c5c5ff"/><rect x="388.80" y="225.80" width="4.93" height="4.95" fill="#babaff"/><rect x="388.80" y="230.45" width="4.93" height="4.95" fill="#b5b5ff"/><rect x="388.80" y="235.10" width="4.93" height="4.95" fill="#cacaff"/><rect x="388.80" y="239.75" width="4.93" height="4.95" fill="#bfbfff"/><rect x="388.80" y="244.40" width="4.93" height="4.95" fill="#c5c5ff"/><rect x="388.80" y="249.05" width="4.93" height="4.95" fill="#cfcfff"/><rect x="388.80" y="253.70" width="4.93" height="4.95" fill="#cacaff"/><rect x="388.80" y="258.35" width="4.93" height="4.95" fill="#dfdfff"/><rect x="388.80" y="263.00" width="4.93" height="4.95" fill="#e4e4ff"/><rect x="388.80" y="267.65" width="4.93" height="4.95" fill="#d4d4ff"/><rect x="388.80" y="272.30" width="4.93" height="4.95" fill="#bfbfff"/><rect x="388.80" y="276.95" width="4.93" height="4.95" fill="#c5c5ff"/><rect x="388.80" y="281.60" width="4.93" height="4.95" fill="#cfcfff"/><rect x="388.80" y="286.25" width="4.93" height="4.95" fill="#aaaaff"/><rect x="393.43" y="170.00" width="4.93" height="4.95" fill="#9f9fff"/><rect x="393.43" y="174.65" width="4.93" height="4.95" fill="#babaff"/><rect x="393.43" y="179.30" width="4.93" height="9.60" fill="#9a9aff"/><rect x="393.43" y="188.60" width="4.93" height="4.95" fill="#9f9fff"/><rect x="393.43" y="193.25" width="4.93" height="4.95" fill="#afafff"/><rect x="393.43" y="197.90" width="4.93" height="4.95" fill="#aaaaff"/><rect x="393.43" y="202.55" width="4.93" height="4.95" fill="#c5c5ff"/><rect x="393.43" y="207.20" width="4.93" height="4.95" fill="#b5b5ff"/><rect x="393.43" y="211.85" width="4.93" height="4.95" fill="#afafff"/><rect x="393.43" y="216.50" width="4.93" height="4.95" fill="#aaaaff"/><rect x="393.43" y="221.15" width="4.93" height="4.95" fill="#9a9aff"/><rect x="393.43" y="225.80" width="4.93" height="4.95" fill="#afafff"/><rect x="393.43" y="230.45" width="4.93" height="4.95" fill="#9a9aff"/><rect x="393.43" y="235.10" width="4.93" height="9.60" fill="#aaaaff"/><rect x="393.43" y="244.40" width="4.93" height="4.95" fill="#9f9fff"/><rect x="393.43" y="249.05" width="4.93" height="4.95" fill="#b5b5ff"/><rect x="393.43" y="253.70" width="4.93" height="4.95" fill="#8a8aff"/><rect x="393.43" y="258.35" width="4.93" height="4.95" fill="#b5b5ff"/><rect x="393.43" y="263.00" width="4.93" height="9.60" fill="#9a9aff"/><rect x="393.43" y="272.30" width="4.93" height="4.95" fill="#9595ff"/><rect x="393.43" y="276.95" width="4.93" height="4.95" fill="#aaaaff"/><rect x="393.43" y="281.60" width="4.93" height="4.95" fill="#8f8fff"/><rect x="393.43" y="286.25" width="4.93" height="4.95" fill="#a5a5ff"/><rect x="398.05" y="170.00" width="4.93" height="4.95" fill="#cacaff"/><rect x="398.05" y="174.65" width="4.93" height="4.95" fill="#cfcfff"/><rect x="398.05" y="179.30" width="4.93" height="4.95" fill="#9f9fff"/><rect x="398.05" y="183.95" width="4.93" height="4.95" fill="#babaff"/><rect x="398.05" y="188.60" width="4.93" height="4.95" fill="#c5c5ff"/><rect x="398.05" y="193.25" width="4.93" height="4.95" fill="#bfbfff"/><rect x="398.05" y="197.90" width="4.93" height="4.95" fill="#afafff"/><rect x="398.05" y="202.55" width="4.93" height="4.95" fill="#bfbfff"/><rect x="398.05" y="207.20" width="4.93" height="4.95" fill="#c5c5ff"/><rect x="398.05" y="211.85" width="4.93" height="4.95" fill="#afafff"/><rect x="398.05" y="216.50" width="4.93" height="4.95" fill="#b5b5ff"/><rect x="398.05" y="221.15" width="4.93" height="4.95" fill="#c5c5ff"/><rect x="398.05" y="225.80" width="4.93" height="4.95" fill="#cacaff"/><rect x="398.05" y="230.45" width="4.93" height="4.95" fill="#aaaaff"/><rect x="398.05" y="235.10" width="4.93" height="4.95" fill="#afafff"/><rect x="398.05" y="239.75" width="4.93" height="14.25" fill="#cacaff"/><rect x="398.05" y="253.70" width="4.93" height="4.95" fill="#aaaaff"/><rect x="398.05" y="258.35" width="4.93" height="4.95" fill="#afafff"/><rect x="398.05" y="263.00" width="4.93" height="4.95" fill="#d4d4ff"/><rect x="398.05" y="267.65" width="4.93" height="4.95" fill="#aaaaff"/><rect x="398.05" y="272.30" width="4.93" height="4.95" fill="#babaff"/><rect x="398.05" y="276.95" width="4.93" height="4.95" fill="#bfbfff"/><rect x="398.05" y="281.60" width="4.93" height="4.95" fill="#eaeaff"/><rect x="398.05" y="286.25" width="4.93" height="4.95" fill="#6565ff"/><rect x="402.68" y="170.00" width="4.93" height="4.95" fill="#ffffff"/><rect x="402.68" y="174.65" width="4.93" height="4.95" fill="#cfcfff"/><rect x="402.68" y="179.30" width="4.93" height="9.60" fill="#c5c5ff"/><rect x="402.68" y="188.60" width="4.93" height="14.25" fill="#cacaff"/><rect x="402.68" y="202.55" width="4.93" height="4.95" fill="#d4d4ff"/><rect x="402.68" y="207.20" width="4.93" height="4.95" fill="#babaff"/><rect x="402.68" y="211.85" width="4.93" height="4.95" fill="#bfbfff"/><rect x="402.68" y="216.50" width="4.93" height="4.95" fill="#cacaff"/><rect x="402.68" y="221.15" width="4.93" height="4.95" fill="#c5c5ff"/><rect x="402.68" y="225.80" width="4.93" height="4.95" fill="#bfbfff"/><rect x="402.68" y="230.45" width="4.93" height="9.60" fill="#dadaff"/><rect x="402.68" y="239.75" width="4.93" height="4.95" fill="#c5c5ff"/><rect x="402.68" y="244.40" width="4.93" height="4.95" fill="#cacaff"/><rect x="402.68" y="249.05" width="4.93" height="4.95" fill="#d4d4ff"/><rect x="402.68" y="253.70" width="4.93" height="4.95" fill="#babaff"/><rect x="402.68" y="258.35" width="4.93" height="4.95" fill="#cfcfff"/><rect x="402.68" y="263.00" width="4.93" height="4.95" fill="#cacaff"/><rect x="402.68" y="267.65" width="4.93" height="4.95" fill="#bfbfff"/><rect x="402.68" y="272.30" width="4.93" height="4.95" fill="#b5b5ff"/><rect x="402.68" y="276.95" width="4.93" height="4.95" fill="#cfcfff"/><rect x="402.68" y="281.60" width="4.93" height="9.60" fill="#cacaff"/><rect x="407.30" y="170.00" width="4.93" height="9.60" fill="#afafff"/><rect x="407.30" y="179.30" width="4.93" height="4.95" fill="#8a8aff"/><rect x="407.30" y="183.95" width="4.93" height="4.95" fill="#aaaaff"/><rect x="407.30" y="188.60" width="4.93" height="4.95" fill="#b5b5ff"/><rect x="407.30" y="193.25" width="4.93" height="4.95" fill="#a5a5ff"/><rect x="407.30" y="197.90" width="4.93" height="4.95" fill="#aaaaff"/><rect x="407.30" y="202.55" width="4.93" height="4.95" fill="#babaff"/><rect x="407.30" y="207.20" width="4.93" height="4.95" fill="#aaaaff"/><rect x="407.30" y="211.85" width="4.93" height="4.95" fill="#b5b5ff"/><rect x="407.30" y="216.50" width="4.93" height="4.95" fill="#aaaaff"/><rect x="407.30" y="221.15" width="4.93" height="18.90" fill="#a5a5ff"/><rect x="407.30" y="239.75" width="4.93" height="4.95" fill="#9a9aff"/><rect x="407.30" y="244.40" width="4.93" height="4.95" fill="#aaaaff"/><rect x="407.30" y="249.05" width="4.93" height="4.95" fill="#b5b5ff"/><rect x="407.30" y="253.70" width="4.93" height="4.95" fill="#9a9aff"/><rect x="407.30" y="258.35" width="4.93" height="4.95" fill="#babaff"/><rect x="407.30" y="263.00" width="4.93" height="4.95" fill="#9f9fff"/><rect x="407.30" y="267.65" width="4.93" height="4.95" fill="#9a9aff"/><rect x="407.30" y="272.30" width="4.93" height="4.95" fill="#bfbfff"/><rect x="407.30" y="276.95" width="4.93" height="4.95" fill="#aaaaff"/><rect x="407.30" y="281.60" width="4.93" height="9.60" fill="#9595ff"/><rect x="411.93" y="170.00" width="4.93" height="4.95" fill="#d4d4ff"/><rect x="411.93" y="174.65" width="4.93" height="4.95" fill="#bfbfff"/><rect x="411.93" y="179.30" width="4.93" height="4.95" fill="#babaff"/><rect x="411.93" y="183.95" width="4.93" height="4.95" fill="#cfcfff"/><rect x="411.93" y="188.60" width="4.93" height="4.95" fill="#dadaff"/><rect x="411.93" y="193.25" width="4.93" height="4.95" fill="#cfcfff"/><rect x="411.93" y="197.90" width="4.93" height="4.95" fill="#dfdfff"/><rect x="411.93" y="202.55" width="4.93" height="4.95" fill="#e4e4ff"/><rect x="411.93" y="207.20" width="4.93" height="4.95" fill="#cacaff"/><rect x="411.93" y="211.85" width="4.93" height="9.60" fill="#cfcfff"/><rect x="411.93" y="221.15" width="4.93" height="9.60" fill="#b5b5ff"/><rect x="411.93" y="230.45" width="4.93" height="4.95" fill="#afafff"/><rect x="411.93" y="235.10" width="4.93" height="4.95" fill="#babaff"/><rect x="411.93" y="239.75" width="4.93" height="4.95" fill="#d4d4ff"/><rect x="411.93" y="244.40" width="4.93" height="4.95" fill="#eaeaff"/><rect x="411.93" y="249.05" width="4.93" height="4.95" fill="#d4d4ff"/><rect x="411.93" y="253.70" width="4.93" height="4.95" fill="#bfbfff"/><rect x="411.93" y="258.35" width="4.93" height="4.95" fill="#dadaff"/><rect x="411.93" y="263.00" width="4.93" height="4.95" fill="#a5a5ff"/><rect x="411.93" y="267.65" width="4.93" height="4.95" fill="#bfbfff"/><rect x="411.93" y="272.30" width="4.93" height="4.95" fill="#aaaaff"/><rect x="411.93" y="276.95" width="4.93" height="4.95" fill="#dfdfff"/><rect x="411.93" y="281.60" width="4.93" height="4.95" fill="#c5c5ff"/><rect x="411.93" y="286.25" width="4.93" height="4.95" fill="#bfbfff"/><rect x="416.56" y="170.00" width="4.93" height="4.95" fill="#b5b5ff"/><rect x="416.56" y="174.65" width="4.93" height="4.95" fill="#9a9aff"/><rect x="416.56" y="179.30" width="4.93" height="4.95" fill="#9595ff"/><rect x="416.56" y="183.95" width="4.93" height="4.95" fill="#aaaaff"/><rect x="416.56" y="188.60" width="4.93" height="4.95" fill="#babaff"/><rect x="416.56" y="193.25" width="4.93" height="4.95" fill="#aaaaff"/><rect x="416.56" y="197.90" width="4.93" height="4.95" fill="#cfcfff"/><rect x="416.56" y="202.55" width="4.93" height="4.95" fill="#b5b5ff"/><rect x="416.56" y="207.20" width="4.93" height="9.60" fill="#a5a5ff"/><rect x="416.56" y="216.50" width="4.93" height="9.60" fill="#b5b5ff"/><rect x="416.56" y="225.80" width="4.93" height="9.60" fill="#aaaaff"/><rect x="416.56" y="235.10" width="4.93" height="9.60" fill="#a5a5ff"/><rect x="416.56" y="244.40" width="4.93" height="4.95" fill="#9f9fff"/><rect x="416.56" y="249.05" width="4.93" height="4.95" fill="#9595ff"/><rect x="416.56" y="253.70" width="4.93" height="4.95" fill="#afafff"/><rect x="416.56" y="258.35" width="4.93" height="4.95" fill="#b5b5ff"/><rect x="416.56" y="263.00" width="4.93" height="4.95" fill="#8a8aff"/><rect x="416.56" y="267.65" width="4.93" height="4.95" fill="#9f9fff"/><rect x="416.56" y="272.30" width="4.93" height="4.95" fill="#9595ff"/><rect x="416.56" y="276.95" width="4.93" height="4.95" fill="#9f9fff"/><rect x="416.56" y="281.60" width="4.93" height="4.95" fill="#9a9aff"/><rect x="416.56" y="286.25" width="4.93" height="4.95" fill="#aaaaff"/><rect x="421.18" y="170.00" width="4.93" height="14.25" fill="#cfcfff"/><rect x="421.18" y="183.95" width="4.93" height="4.95" fill="#c5c5ff"/><rect x="421.18" y="188.60" width="4.93" height="4.95" fill="#babaff"/><rect x="421.18" y="193.25" width="4.93" height="4.95" fill="#c5c5ff"/><rect x="421.18" y="197.90" width="4.93" height="9.60" fill="#d4d4ff"/><rect x="421.18" y="207.20" width="4.93" height="4.95" fill="#bfbfff"/><rect x="421.18" y="211.85" width="4.93" height="4.95" fill="#c5c5ff"/><rect x="421.18" y="216.50" width="4.93" height="4.95" fill="#dfdfff"/><rect x="421.18" y="221.15" width="4.93" height="4.95" fill="#cacaff"/><rect x="421.18" y="225.80" width="4.93" height="4.95" fill="#babaff"/><rect x="421.18" y="230.45" width="4.93" height="4.95" fill="#dadaff"/><rect x="421.18" y="235.10" width="4.93" height="4.95" fill="#babaff"/><rect x="421.18" y="239.75" width="4.93" height="4.95" fill="#dadaff"/><rect x="421.18" y="244.40" width="4.93" height="4.95" fill="#babaff"/><rect x="421.18" y="249.05" width="4.93" height="4.95" fill="#d4d4ff"/><rect x="421.18" y="253.70" width="4.93" height="9.60" fill="#cfcfff"/><rect x="421.18" y="263.00" width="4.93" height="4.95" fill="#cacaff"/><rect x="421.18" y="267.65" width="4.93" height="4.95" fill="#bfbfff"/><rect x="421.18" y="272.30" width="4.93" height="4.95" fill="#cacaff"/><rect x="421.18" y="276.95" width="4.93" height="4.95" fill="#c5c5ff"/><rect x="421.18" y="281.60" width="4.93" height="9.60" fill="#b5b5ff"/><rect x="425.81" y="170.00" width="4.93" height="4.95" fill="#babaff"/><rect x="425.81" y="174.65" width="4.93" height="4.95" fill="#b5b5ff"/><rect x="425.81" y="179.30" width="4.93" height="4.95" fill="#6565ff"/><rect x="425.81" y="183.95" width="4.93" height="4.95" fill="#babaff"/><rect x="425.81" y="188.60" width="4.93" height="4.95" fill="#9595ff"/><rect x="425.81" y="193.25" width="4.93" height="4.95" fill="#cacaff"/><rect x="425.81" y="197.90" width="4.93" height="4.95" fill="#aaaaff"/><rect x="425.81" y="202.55" width="4.93" height="9.60" fill="#babaff"/><rect x="425.81" y="211.85" width="4.93" height="4.95" fill="#9f9fff"/><rect x="425.81" y="216.50" width="4.93" height="4.95" fill="#9595ff"/><rect x="425.81" y="221.15" width="4.93" height="4.95" fill="#aaaaff"/><rect x="425.81" y="225.80" width="4.93" height="4.95" fill="#8f8fff"/><rect x="425.81" y="230.45" width="4.93" height="4.95" fill="#b5b5ff"/><rect x="425.81" y="235.10" width="4.93" height="4.95" fill="#9595ff"/><rect x="425.81" y="239.75" width="4.93" height="4.95" fill="#aaaaff"/><rect x="425.81" y="244.40" width="4.93" height="4.95" fill="#b5b5ff"/><rect x="425.81" y="249.05" width="4.93" height="4.95" fill="#aaaaff"/><rect x="425.81" y="253.70" width="4.93" height="4.95" fill="#afafff"/><rect x="425.81" y="258.35" width="4.93" height="4.95" fill="#bfbfff"/><rect x="425.81" y="263.00" width="4.93" height="4.95" fill="#a5a5ff"/><rect x="425.81" y="267.65" width="4.93" height="4.95" fill="#9595ff"/><rect x="425.81" y="272.30" width="4.93" height="9.60" fill="#aaaaff"/><rect x="425.81" y="281.60" width="4.93" height="4.95" fill="#9595ff"/><rect x="425.81" y="286.25" width="4.93" height="4.95" fill="#9a9aff"/><rect x="430.43" y="170.00" width="4.93" height="4.95" fill="#b5b5ff"/><rect x="430.43" y="174.65" width="4.93" height="4.95" fill="#babaff"/><rect x="430.43" y="179.30" width="4.93" height="4.95" fill="#a5a5ff"/><rect x="430.43" y="183.95" width="4.93" height="4.95" fill="#9a9aff"/><rect x="430.43" y="188.60" width="4.93" height="4.95" fill="#c5c5ff"/><rect x="430.43" y="193.25" width="4.93" height="4.95" fill="#b5b5ff"/><rect x="430.43" y="197.90" width="4.93" height="9.60" fill="#c5c5ff"/><rect x="430.43" y="207.20" width="4.93" height="4.95" fill="#bfbfff"/><rect x="430.43" y="211.85" width="4.93" height="4.95" fill="#cfcfff"/><rect x="430.43" y="216.50" width="4.93" height="9.60" fill="#b5b5ff"/><rect x="430.43" y="225.80" width="4.93" height="4.95" fill="#afafff"/><rect x="430.43" y="230.45" width="4.93" height="4.95" fill="#9595ff"/><rect x="430.43" y="235.10" width="4.93" height="4.95" fill="#a5a5ff"/><rect x="430.43" y="239.75" width="4.93" height="4.95" fill="#babaff"/><rect x="430.43" y="244.40" width="4.93" height="4.95" fill="#dadaff"/><rect x="430.43" y="249.05" width="4.93" height="4.95" fill="#babaff"/><rect x="430.43" y="253.70" width="4.93" height="4.95" fill="#aaaaff"/><rect x="430.43" y="258.35" width="4.93" height="4.95" fill="#babaff"/><rect x="430.43" y="263.00" width="4.93" height="4.95" fill="#aaaaff"/><rect x="430.43" y="267.65" width="4.93" height="4.95" fill="#a5a5ff"/><rect x="430.43" y="272.30" width="4.93" height="4.95" fill="#b5b5ff"/><rect x="430.43" y="276.95" width="4.93" height="4.95" fill="#a5a5ff"/><rect x="430.43" y="281.60" width="4.93" height="9.60" fill="#aaaaff"/><rect x="435.06" y="170.00" width="4.93" height="4.95" fill="#babaff"/><rect x="435.06" y="174.65" width="4.93" height="4.95" fill="#c5c5ff"/><rect x="435.06" y="179.30" width="4.93" height="4.95" fill="#babaff"/><rect x="435.06" y="183.95" width="4.93" height="4.95" fill="#9f9fff"/><rect x="435.06" y="188.60" width="4.93" height="4.95" fill="#b5b5ff"/><rect x="435.06" y="193.25" width="4.93" height="9.60" fill="#babaff"/><rect x="435.06" y="202.55" width="4.93" height="4.95" fill="#afafff"/><rect x="435.06" y="207.20" width="4.93" height="4.95" fill="#aaaaff"/><rect x="435.06" y="211.85" width="4.93" height="4.95" fill="#c5c5ff"/><rect x="435.06" y="216.50" width="4.93" height="4.95" fill="#afafff"/><rect x="435.06" y="221.15" width="4.93" height="4.95" fill="#9595ff"/><rect x="435.06" y="225.80" width="4.93" height="4.95" fill="#afafff"/><rect x="435.06" y="230.45" width="4.93" height="4.95" fill="#babaff"/><rect x="435.06" y="235.10" width="4.93" height="4.95" fill="#c5c5ff"/><rect x="435.06" y="239.75" width="4.93" height="9.60" fill="#bfbfff"/><rect x="435.06" y="249.05" width="4.93" height="4.95" fill="#c5c5ff"/><rect x="435.06" y="253.70" width="4.93" height="4.95" fill="#afafff"/><rect x="435.06" y="258.35" width="4.93" height="4.95" fill="#cacaff"/><rect x="435.06" y="263.00" width="4.93" height="9.60" fill="#b5b5ff"/><rect x="435.06" y="272.30" width="4.93" height="9.60" fill="#babaff"/><rect x="435.06" y="281.60" width="4.93" height="4.95" fill="#a5a5ff"/><rect x="435.06" y="286.25" width="4.93" height="4.95" fill="#b5b5ff"/><rect x="439.69" y="170.00" width="4.93" height="4.95" fill="#d4d4ff"/><rect x="439.69" y="174.65" width="4.93" height="4.95" fill="#efefff"/><rect x="439.69" y="179.30" width="4.93" height="4.95" fill="#c5c5ff"/><rect x="439.69" y="183.95" width="4.93" height="4.95" fill="#cfcfff"/><rect x="439.69" y="188.60" width="4.93" height="4.95" fill="#e4e4ff"/><rect x="439.69" y="193.25" width="4.93" height="4.95" fill="#ffffff"/><rect x="439.69" y="197.90" width="4.93" height="4.95" fill="#e4e4ff"/><rect x="439.69" y="202.55" width="4.93" height="4.95" fill="#dfdfff"/><rect x="439.69" y="207.20" width="4.93" height="4.95" fill="#e4e4ff"/><rect x="439.69" y="211.85" width="4.93" height="4.95" fill="#d4d4ff"/><rect x="439.69" y="216.50" width="4.93" height="4.95" fill="#e4e4ff"/><rect x="439.69" y="221.15" width="4.93" height="4.95" fill="#bfbfff"/><rect x="439.69" y="225.80" width="4.93" height="4.95" fill="#cfcfff"/><rect x="439.69" y="230.45" width="4.93" height="4.95" fill="#e4e4ff"/><rect x="439.69" y="235.10" width="4.93" height="9.60" fill="#dfdfff"/><rect x="439.69" y="244.40" width="4.93" height="4.95" fill="#ffffff"/><rect x="439.69" y="249.05" width="4.93" height="4.95" fill="#fafaff"/><rect x="439.69" y="253.70" width="4.93" height="9.60" fill="#ffffff"/><rect x="439.69" y="263.00" width="4.93" height="4.95" fill="#dfdfff"/><rect x="439.69" y="267.65" width="4.93" height="4.95" fill="#f4f4ff"/><rect x="439.69" y="272.30" width="4.93" height="4.95" fill="#dadaff"/><rect x="439.69" y="276.95" width="4.93" height="4.95" fill="#eaeaff"/><rect x="439.69" y="281.60" width="4.93" height="4.95" fill="#dfdfff"/><rect x="439.69" y="286.25" width="4.93" height="4.95" fill="#dadaff"/><rect x="444.31" y="170.00" width="4.93" height="4.95" fill="#c5c5ff"/><rect x="444.31" y="174.65" width="4.93" height="4.95" fill="#bfbfff"/><rect x="444.31" y="179.30" width="4.93" height="4.95" fill="#9a9aff"/><rect x="444.31" y="183.95" width="4.93" height="4.95" fill="#a5a5ff"/><rect x="444.31" y="188.60" width="4.93" height="4.95" fill="#bfbfff"/><rect x="444.31" y="193.25" width="4.93" height="4.95" fill="#b5b5ff"/><rect x="444.31" y="197.90" width="4.93" height="9.60" fill="#bfbfff"/><rect x="444.31" y="207.20" width="4.93" height="4.95" fill="#babaff"/><rect x="444.31" y="211.85" width="4.93" height="9.60" fill="#aaaaff"/><rect x="444.31" y="221.15" width="4.93" height="4.95" fill="#9f9fff"/><rect x="444.31" y="225.80" width="4.93" height="4.95" fill="#b5b5ff"/><rect x="444.31" y="230.45" width="4.93" height="4.95" fill="#bfbfff"/><rect x="444.31" y="235.10" width="4.93" height="4.95" fill="#9f9fff"/><rect x="444.31" y="239.75" width="4.93" height="4.95" fill="#b5b5ff"/><rect x="444.31" y="244.40" width="4.93" height="4.95" fill="#afafff"/><rect x="444.31" y="249.05" width="4.93" height="4.95" fill="#cfcfff"/><rect x="444.31" y="253.70" width="4.93" height="4.95" fill="#cacaff"/><rect x="444.31" y="258.35" width="4.93" height="4.95" fill="#b5b5ff"/><rect x="444.31" y="263.00" width="4.93" height="4.95" fill="#aaaaff"/><rect x="444.31" y="267.65" width="4.93" height="14.25" fill="#babaff"/><rect x="444.31" y="281.60" width="4.93" height="9.60" fill="#afafff"/><rect x="448.94" y="170.00" width="4.93" height="4.95" fill="#aaaaff"/><rect x="448.94" y="174.65" width="4.93" height="4.95" fill="#b5b5ff"/><rect x="448.94" y="179.30" width="4.93" height="4.95" fill="#9a9aff"/><rect x="448.94" y="183.95" width="4.93" height="4.95" fill="#8585ff"/><rect x="448.94" y="188.60" width="4.93" height="4.95" fill="#aaaaff"/><rect x="448.94" y="193.25" width="4.93" height="4.95" fill="#b5b5ff"/><rect x="448.94" y="197.90" width="4.93" height="4.95" fill="#aaaaff"/><rect x="448.94" y="202.55" width="4.93" height="9.60" fill="#9a9aff"/><rect x="448.94" y="211.85" width="4.93" height="4.95" fill="#bfbfff"/><rect x="448.94" y="216.50" width="4.93" height="4.95" fill="#afafff"/><rect x="448.94" y="221.15" width="4.93" height="4.95" fill="#a5a5ff"/><rect x="448.94" y="225.80" width="4.93" height="4.95" fill="#9f9fff"/><rect x="448.94" y="230.45" width="4.93" height="4.95" fill="#a5a5ff"/><rect x="448.94" y="235.10" width="4.93" height="4.95" fill="#afafff"/><rect x="448.94" y="239.75" width="4.93" height="9.60" fill="#9f9fff"/><rect x="448.94" y="249.05" width="4.93" height="4.95" fill="#aaaaff"/><rect x="448.94" y="253.70" width="4.93" height="4.95" fill="#babaff"/><rect x="448.94" y="258.35" width="4.93" height="4.95" fill="#bfbfff"/><rect x="448.94" y="263.00" width="4.93" height="4.95" fill="#8a8aff"/><rect x="448.94" y="267.65" width="4.93" height="9.60" fill="#aaaaff"/><rect x="448.94" y="276.95" width="4.93" height="4.95" fill="#afafff"/><rect x="448.94" y="281.60" width="4.93" height="4.95" fill="#9595ff"/><rect x="448.94" y="286.25" width="4.93" height="4.95" fill="#9f9fff"/><rect x="453.57" y="170.00" width="4.93" height="4.95" fill="#c5c5ff"/><rect x="453.57" y="174.65" width="4.93" height="4.95" fill="#e4e4ff"/><rect x="453.57" y="179.30" width="4.93" height="4.95" fill="#7a7aff"/><rect x="453.57" y="183.95" width="4.93" height="4.95" fill="#bfbfff"/><rect x="453.57" y="188.60" width="4.93" height="9.60" fill="#dadaff"/><rect x="453.57" y="197.90" width="4.93" height="4.95" fill="#c5c5ff"/><rect x="453.57" y="202.55" width="4.93" height="4.95" fill="#dadaff"/><rect x="453.57" y="207.20" width="4.93" height="4.95" fill="#cacaff"/><rect x="453.57" y="211.85" width="4.93" height="4.95" fill="#dfdfff"/><rect x="453.57" y="216.50" width="4.93" height="4.95" fill="#d4d4ff"/><rect x="453.57" y="221.15" width="4.93" height="9.60" fill="#bfbfff"/><rect x="453.57" y="230.45" width="4.93" height="4.95" fill="#b5b5ff"/><rect x="453.57" y="235.10" width="4.93" height="4.95" fill="#d4d4ff"/><rect x="453.57" y="239.75" width="4.93" height="9.60" fill="#e4e4ff"/><rect x="453.57" y="249.05" width="4.93" height="4.95" fill="#d4d4ff"/><rect x="453.57" y="253.70" width="4.93" height="4.95" fill="#c5c5ff"/><rect x="453.57" y="258.35" width="4.93" height="4.95" fill="#bfbfff"/><rect x="453.57" y="263.00" width="4.93" height="4.95" fill="#babaff"/><rect x="453.57" y="267.65" width="4.93" height="4.95" fill="#cacaff"/><rect x="453.57" y="272.30" width="4.93" height="9.60" fill="#cfcfff"/><rect x="453.57" y="281.60" width="4.93" height="4.95" fill="#afafff"/><rect x="453.57" y="286.25" width="4.93" height="4.95" fill="#babaff"/><rect x="458.19" y="170.00" width="4.93" height="4.95" fill="#c5c5ff"/><rect x="458.19" y="174.65" width="4.93" height="4.95" fill="#9f9fff"/><rect x="458.19" y="179.30" width="4.93" height="4.95" fill="#a5a5ff"/><rect x="458.19" y="183.95" width="4.93" height="4.95" fill="#9a9aff"/><rect x="458.19" y="188.60" width="4.93" height="4.95" fill="#afafff"/><rect x="458.19" y="193.25" width="4.93" height="9.60" fill="#aaaaff"/><rect x="458.19" y="202.55" width="4.93" height="4.95" fill="#a5a5ff"/><rect x="458.19" y="207.20" width="4.93" height="4.95" fill="#9f9fff"/><rect x="458.19" y="211.85" width="4.93" height="4.95" fill="#b5b5ff"/><rect x="458.19" y="216.50" width="4.93" height="4.95" fill="#afafff"/><rect x="458.19" y="221.15" width="4.93" height="4.95" fill="#a5a5ff"/><rect x="458.19" y="225.80" width="4.93" height="4.95" fill="#aaaaff"/><rect x="458.19" y="230.45" width="4.93" height="9.60" fill="#9f9fff"/><rect x="458.19" y="239.75" width="4.93" height="4.95" fill="#d4d4ff"/><rect x="458.19" y="244.40" width="4.93" height="4.95" fill="#babaff"/><rect x="458.19" y="249.05" width="4.93" height="4.95" fill="#afafff"/><rect x="458.19" y="253.70" width="4.93" height="4.95" fill="#aaaaff"/><rect x="458.19" y="258.35" width="4.93" height="4.95" fill="#a5a5ff"/><rect x="458.19" y="263.00" width="4.93" height="4.95" fill="#9a9aff"/><rect x="458.19" y="267.65" width="4.93" height="4.95" fill="#9f9fff"/><rect x="458.19" y="272.30" width="4.93" height="4.95" fill="#a5a5ff"/><rect x="458.19" y="276.95" width="4.93" height="4.95" fill="#b5b5ff"/><rect x="458.19" y="281.60" width="4.93" height="4.95" fill="#9a9aff"/><rect x="458.19" y="286.25" width="4.93" height="4.95" fill="#a5a5ff"/><rect x="462.82" y="170.00" width="4.93" height="4.95" fill="#a5a5ff"/><rect x="462.82" y="174.65" width="4.93" height="4.95" fill="#b5b5ff"/><rect x="462.82" y="179.30" width="4.93" height="4.95" fill="#8a8aff"/><rect x="462.82" y="183.95" width="4.93" height="4.95" fill="#8585ff"/><rect x="462.82" y="188.60" width="4.93" height="4.95" fill="#afafff"/><rect x="462.82" y="193.25" width="4.93" height="4.95" fill="#9a9aff"/><rect x="462.82" y="197.90" width="4.93" height="9.60" fill="#b5b5ff"/><rect x="462.82" y="207.20" width="4.93" height="4.95" fill="#8a8aff"/><rect x="462.82" y="211.85" width="4.93" height="4.95" fill="#b5b5ff"/><rect x="462.82" y="216.50" width="4.93" height="4.95" fill="#9a9aff"/><rect x="462.82" y="221.15" width="4.93" height="4.95" fill="#a5a5ff"/><rect x="462.82" y="225.80" width="4.93" height="4.95" fill="#bfbfff"/><rect x="462.82" y="230.45" width="4.93" height="4.95" fill="#a5a5ff"/><rect x="462.82" y="235.10" width="4.93" height="4.95" fill="#aaaaff"/><rect x="462.82" y="239.75" width="4.93" height="4.95" fill="#babaff"/><rect x="462.82" y="244.40" width="4.93" height="4.95" fill="#b5b5ff"/><rect x="462.82" y="249.05" width="4.93" height="4.95" fill="#aaaaff"/><rect x="462.82" y="253.70" width="4.93" height="4.95" fill="#bfbfff"/><rect x="462.82" y="258.35" width="4.93" height="4.95" fill="#afafff"/><rect x="462.82" y="263.00" width="4.93" height="4.95" fill="#a5a5ff"/><rect x="462.82" y="267.65" width="4.93" height="4.95" fill="#babaff"/><rect x="462.82" y="272.30" width="4.93" height="4.95" fill="#a5a5ff"/><rect x="462.82" y="276.95" width="4.93" height="9.60" fill="#aaaaff"/><rect x="462.82" y="286.25" width="4.93" height="4.95" fill="#9a9aff"/><rect x="467.44" y="170.00" width="4.93" height="4.95" fill="#cfcfff"/><rect x="467.44" y="174.65" width="4.93" height="4.95" fill="#babaff"/><rect x="467.44" y="179.30" width="4.93" height="4.95" fill="#bfbfff"/><rect x="467.44" y="183.95" width="4.93" height="4.95" fill="#d4d4ff"/><rect x="467.44" y="188.60" width="4.93" height="4.95" fill="#c5c5ff"/><rect x="467.44" y="193.25" width="4.93" height="4.95" fill="#bfbfff"/><rect x="467.44" y="197.90" width="4.93" height="4.95" fill="#cfcfff"/><rect x="467.44" y="202.55" width="4.93" height="4.95" fill="#bfbfff"/><rect x="467.44" y="207.20" width="4.93" height="4.95" fill="#babaff"/><rect x="467.44" y="211.85" width="4.93" height="4.95" fill="#b5b5ff"/><rect x="467.44" y="216.50" width="4.93" height="14.25" fill="#cacaff"/><rect x="467.44" y="230.45" width="4.93" height="4.95" fill="#d4d4ff"/><rect x="467.44" y="235.10" width="4.93" height="4.95" fill="#e4e4ff"/><rect x="467.44" y="239.75" width="4.93" height="4.95" fill="#bfbfff"/><rect x="467.44" y="244.40" width="4.93" height="4.95" fill="#cacaff"/><rect x="467.44" y="249.05" width="4.93" height="4.95" fill="#dadaff"/><rect x="467.44" y="253.70" width="4.93" height="9.60" fill="#bfbfff"/><rect x="467.44" y="263.00" width="4.93" height="4.95" fill="#cfcfff"/><rect x="467.44" y="267.65" width="4.93" height="4.95" fill="#c5c5ff"/><rect x="467.44" y="272.30" width="4.93" height="4.95" fill="#d4d4ff"/><rect x="467.44" y="276.95" width="4.93" height="4.95" fill="#cfcfff"/><rect x="467.44" y="281.60" width="4.93" height="4.95" fill="#bfbfff"/><rect x="467.44" y="286.25" width="4.93" height="4.95" fill="#c5c5ff"/><rect x="472.07" y="170.00" width="4.93" height="9.60" fill="#c5c5ff"/><rect x="472.07" y="179.30" width="4.93" height="4.95" fill="#b5b5ff"/><rect x="472.07" y="183.95" width="4.93" height="4.95" fill="#cacaff"/><rect x="472.07" y="188.60" width="4.93" height="4.95" fill="#d4d4ff"/><rect x="472.07" y="193.25" width="4.93" height="4.95" fill="#bfbfff"/><rect x="472.07" y="197.90" width="4.93" height="4.95" fill="#cfcfff"/><rect x="472.07" y="202.55" width="4.93" height="4.95" fill="#b5b5ff"/><rect x="472.07" y="207.20" width="4.93" height="4.95" fill="#bfbfff"/><rect x="472.07" y="211.85" width="4.93" height="9.60" fill="#aaaaff"/><rect x="472.07" y="221.15" width="4.93" height="4.95" fill="#bfbfff"/><rect x="472.07" y="225.80" width="4.93" height="4.95" fill="#aaaaff"/><rect x="472.07" y="230.45" width="4.93" height="4.95" fill="#bfbfff"/><rect x="472.07" y="235.10" width="4.93" height="4.95" fill="#babaff"/><rect x="472.07" y="239.75" width="4.93" height="4.95" fill="#bfbfff"/><rect x="472.07" y="244.40" width="4.93" height="4.95" fill="#afafff"/><rect x="472.07" y="249.05" width="4.93" height="4.95" fill="#cacaff"/><rect x="472.07" y="253.70" width="4.93" height="4.95" fill="#b5b5ff"/><rect x="472.07" y="258.35" width="4.93" height="4.95" fill="#aaaaff"/><rect x="472.07" y="263.00" width="4.93" height="9.60" fill="#a5a5ff"/><rect x="472.07" y="272.30" width="4.93" height="4.95" fill="#b5b5ff"/><rect x="472.07" y="276.95" width="4.93" height="4.95" fill="#8f8fff"/><rect x="472.07" y="281.60" width="4.93" height="4.95" fill="#babaff"/><rect x="472.07" y="286.25" width="4.93" height="4.95" fill="#afafff"/><rect x="476.70" y="170.00" width="4.93" height="4.95" fill="#bfbfff"/><rect x="476.70" y="174.65" width="4.93" height="4.95" fill="#e4e4ff"/><rect x="476.70" y="179.30" width="4.93" height="4.95" fill="#a5a5ff"/><rect x="476.70" y="183.95" width="4.93" height="4.95" fill="#b5b5ff"/><rect x="476.70" y="188.60" width="4.93" height="4.95" fill="#aaaaff"/><rect x="476.70" y="193.25" width="4.93" height="4.95" fill="#afafff"/><rect x="476.70" y="197.90" width="4.93" height="4.95" fill="#b5b5ff"/><rect x="476.70" y="202.55" width="4.93" height="4.95" fill="#9a9aff"/><rect x="476.70" y="207.20" width="4.93" height="4.95" fill="#aaaaff"/><rect x="476.70" y="211.85" width="4.93" height="4.95" fill="#afafff"/><rect x="476.70" y="216.50" width="4.93" height="4.95" fill="#aaaaff"/><rect x="476.70" y="221.15" width="4.93" height="4.95" fill="#9f9fff"/><rect x="476.70" y="225.80" width="4.93" height="4.95" fill="#9595ff"/><rect x="476.70" y="230.45" width="4.93" height="9.60" fill="#a5a5ff"/><rect x="476.70" y="239.75" width="4.93" height="4.95" fill="#babaff"/><rect x="476.70" y="244.40" width="4.93" height="4.95" fill="#9f9fff"/><rect x="476.70" y="249.05" width="4.93" height="9.60" fill="#b5b5ff"/><rect x="476.70" y="258.35" width="4.93" height="4.95" fill="#aaaaff"/><rect x="476.70" y="263.00" width="4.93" height="4.95" fill="#9f9fff"/><rect x="476.70" y="267.65" width="4.93" height="4.95" fill="#8f8fff"/><rect x="476.70" y="272.30" width="4.93" height="4.95" fill="#aaaaff"/><rect x="476.70" y="276.95" width="4.93" height="9.60" fill="#9f9fff"/><rect x="476.70" y="286.25" width="4.93" height="4.95" fill="#8a8aff"/><rect x="481.32" y="170.00" width="4.93" height="9.60" fill="#babaff"/><rect x="481.32" y="179.30" width="4.93" height="4.95" fill="#9a9aff"/><rect x="481.32" y="183.95" width="4.93" height="4.95" fill="#afafff"/><rect x="481.32" y="188.60" width="4.93" height="4.95" fill="#cacaff"/><rect x="481.32" y="193.25" width="4.93" height="4.95" fill="#a5a5ff"/><rect x="481.32" y="197.90" width="4.93" height="4.95" fill="#babaff"/><rect x="481.32" y="202.55" width="4.93" height="4.95" fill="#ffffff"/><rect x="481.32" y="207.20" width="4.93" height="4.95" fill="#bfbfff"/><rect x="481.32" y="211.85" width="4.93" height="4.95" fill="#b5b5ff"/><rect x="481.32" y="216.50" width="4.93" height="4.95" fill="#c5c5ff"/><rect x="481.32" y="221.15" width="4.93" height="4.95" fill="#9f9fff"/><rect x="481.32" y="225.80" width="4.93" height="4.95" fill="#babaff"/><rect x="481.32" y="230.45" width="4.93" height="9.60" fill="#c5c5ff"/><rect x="481.32" y="239.75" width="4.93" height="4.95" fill="#aaaaff"/><rect x="481.32" y="244.40" width="4.93" height="4.95" fill="#afafff"/><rect x="481.32" y="249.05" width="4.93" height="4.95" fill="#babaff"/><rect x="481.32" y="253.70" width="4.93" height="4.95" fill="#bfbfff"/><rect x="481.32" y="258.35" width="4.93" height="4.95" fill="#babaff"/><rect x="481.32" y="263.00" width="4.93" height="4.95" fill="#afafff"/><rect x="481.32" y="267.65" width="4.93" height="4.95" fill="#b5b5ff"/><rect x="481.32" y="272.30" width="4.93" height="4.95" fill="#cacaff"/><rect x="481.32" y="276.95" width="4.93" height="4.95" fill="#c5c5ff"/><rect x="481.32" y="281.60" width="4.93" height="4.95" fill="#aaaaff"/><rect x="481.32" y="286.25" width="4.93" height="4.95" fill="#9f9fff"/><rect x="485.95" y="170.00" width="4.93" height="4.95" fill="#dadaff"/><rect x="485.95" y="174.65" width="4.93" height="4.95" fill="#c5c5ff"/><rect x="485.95" y="179.30" width="4.93" height="4.95" fill="#cfcfff"/><rect x="485.95" y="183.95" width="4.93" height="4.95" fill="#cacaff"/><rect x="485.95" y="188.60" width="4.93" height="9.60" fill="#d4d4ff"/><rect x="485.95" y="197.90" width="4.93" height="9.60" fill="#e4e4ff"/><rect x="485.95" y="207.20" width="4.93" height="4.95" fill="#bfbfff"/><rect x="485.95" y="211.85" width="4.93" height="4.95" fill="#cfcfff"/><rect x="485.95" y="216.50" width="4.93" height="9.60" fill="#babaff"/><rect x="485.95" y="225.80" width="4.93" height="4.95" fill="#c5c5ff"/><rect x="485.95" y="230.45" width="4.93" height="4.95" fill="#bfbfff"/><rect x="485.95" y="235.10" width="4.93" height="4.95" fill="#babaff"/><rect x="485.95" y="239.75" width="4.93" height="4.95" fill="#cacaff"/><rect x="485.95" y="244.40" width="4.93" height="4.95" fill="#dadaff"/><rect x="485.95" y="249.05" width="4.93" height="4.95" fill="#cacaff"/><rect x="485.95" y="253.70" width="4.93" height="4.95" fill="#bfbfff"/><rect x="485.95" y="258.35" width="4.93" height="4.95" fill="#cfcfff"/><rect x="485.95" y="263.00" width="4.93" height="4.95" fill="#c5c5ff"/><rect x="485.95" y="267.65" width="4.93" height="4.95" fill="#babaff"/><rect x="485.95" y="272.30" width="4.93" height="4.95" fill="#cfcfff"/><rect x="485.95" y="276.95" width="4.93" height="4.95" fill="#cacaff"/><rect x="485.95" y="281.60" width="4.93" height="4.95" fill="#b5b5ff"/><rect x="485.95" y="286.25" width="4.93" height="4.95" fill="#c5c5ff"/><rect x="490.57" y="170.00" width="4.93" height="4.95" fill="#aaaaff"/><rect x="490.57" y="174.65" width="4.93" height="4.95" fill="#afafff"/><rect x="490.57" y="179.30" width="4.93" height="4.95" fill="#8a8aff"/><rect x="490.57" y="183.95" width="4.93" height="4.95" fill="#9595ff"/><rect x="490.57" y="188.60" width="4.93" height="4.95" fill="#babaff"/><rect x="490.57" y="193.25" width="4.93" height="4.95" fill="#a5a5ff"/><rect x="490.57" y="197.90" width="4.93" height="4.95" fill="#9a9aff"/><rect x="490.57" y="202.55" width="4.93" height="4.95" fill="#bfbfff"/><rect x="490.57" y="207.20" width="4.93" height="9.60" fill="#9f9fff"/><rect x="490.57" y="216.50" width="4.93" height="4.95" fill="#9a9aff"/><rect x="490.57" y="221.15" width="4.93" height="4.95" fill="#b5b5ff"/><rect x="490.57" y="225.80" width="4.93" height="9.60" fill="#9f9fff"/><rect x="490.57" y="235.10" width="4.93" height="4.95" fill="#8f8fff"/><rect x="490.57" y="239.75" width="4.93" height="4.95" fill="#a5a5ff"/><rect x="490.57" y="244.40" width="4.93" height="4.95" fill="#9f9fff"/><rect x="490.57" y="249.05" width="4.93" height="4.95" fill="#a5a5ff"/><rect x="490.57" y="253.70" width="4.93" height="4.95" fill="#babaff"/><rect x="490.57" y="258.35" width="4.93" height="9.60" fill="#afafff"/><rect x="490.57" y="267.65" width="4.93" height="4.95" fill="#9595ff"/><rect x="490.57" y="272.30" width="4.93" height="4.95" fill="#b5b5ff"/><rect x="490.57" y="276.95" width="4.93" height="4.95" fill="#9a9aff"/><rect x="490.57" y="281.60" width="4.93" height="4.95" fill="#a5a5ff"/><rect x="490.57" y="286.25" width="4.93" height="4.95" fill="#9a9aff"/></g></g>
<circle cx="442.3" cy="231" r="11" fill="#f4f4ff" fill-opacity="0.8" filter="url(#b1)"/>
<ellipse cx="442.3" cy="231" rx="10.8" ry="10.8" fill="url(#redblob2)" filter="url(#b0_6)"/>
<path d="M440.8,229.5 l3,3 M443.8,229.5 l-3,3" stroke="#111" stroke-width="0.9"/>
<rect x="388.8" y="170" width="106.39999999999998" height="120.89999999999998" fill="none" stroke="#444" stroke-width="0.9"/>
<line x1="386.80" y1="171.50" x2="388.80" y2="171.50" stroke="#333" stroke-width="0.7" />
<text class="s" x="386.50" y="173.77" font-size="6.4" text-anchor="end" fill="#111" stroke="#111" stroke-width="0.15" >100</text>
<line x1="386.80" y1="186.31" x2="388.80" y2="186.31" stroke="#333" stroke-width="0.7" />
<text class="s" x="386.50" y="188.58" font-size="6.4" text-anchor="end" fill="#111" stroke="#111" stroke-width="0.15" >75</text>
<line x1="386.80" y1="201.12" x2="388.80" y2="201.12" stroke="#333" stroke-width="0.7" />
<text class="s" x="386.50" y="203.39" font-size="6.4" text-anchor="end" fill="#111" stroke="#111" stroke-width="0.15" >50</text>
<line x1="386.80" y1="215.93" x2="388.80" y2="215.93" stroke="#333" stroke-width="0.7" />
<text class="s" x="386.50" y="218.20" font-size="6.4" text-anchor="end" fill="#111" stroke="#111" stroke-width="0.15" >25</text>
<line x1="386.80" y1="230.74" x2="388.80" y2="230.74" stroke="#333" stroke-width="0.7" />
<text class="s" x="386.50" y="233.01" font-size="6.4" text-anchor="end" fill="#111" stroke="#111" stroke-width="0.15" >0</text>
<line x1="386.80" y1="245.55" x2="388.80" y2="245.55" stroke="#333" stroke-width="0.7" />
<text class="s" x="386.50" y="247.82" font-size="6.4" text-anchor="end" fill="#111" stroke="#111" stroke-width="0.15" >−25</text>
<line x1="386.80" y1="260.36" x2="388.80" y2="260.36" stroke="#333" stroke-width="0.7" />
<text class="s" x="386.50" y="262.63" font-size="6.4" text-anchor="end" fill="#111" stroke="#111" stroke-width="0.15" >−50</text>
<line x1="386.80" y1="275.17" x2="388.80" y2="275.17" stroke="#333" stroke-width="0.7" />
<text class="s" x="386.50" y="277.44" font-size="6.4" text-anchor="end" fill="#111" stroke="#111" stroke-width="0.15" >−75</text>
<line x1="386.80" y1="289.98" x2="388.80" y2="289.98" stroke="#333" stroke-width="0.7" />
<text class="s" x="386.50" y="292.25" font-size="6.4" text-anchor="end" fill="#111" stroke="#111" stroke-width="0.15" >−100</text>
<line x1="395.80" y1="290.90" x2="395.80" y2="292.90" stroke="#333" stroke-width="0.7" />
<text class="s" x="395.80" y="299.77" font-size="6.4" text-anchor="middle" fill="#111" stroke="#111" stroke-width="0.15" >−2</text>
<line x1="418.90" y1="290.90" x2="418.90" y2="292.90" stroke="#333" stroke-width="0.7" />
<text class="s" x="418.90" y="299.77" font-size="6.4" text-anchor="middle" fill="#111" stroke="#111" stroke-width="0.15" >−1</text>
<line x1="441.70" y1="290.90" x2="441.70" y2="292.90" stroke="#333" stroke-width="0.7" />
<text class="s" x="441.70" y="299.77" font-size="6.4" text-anchor="middle" fill="#111" stroke="#111" stroke-width="0.15" >0</text>
<line x1="465.00" y1="290.90" x2="465.00" y2="292.90" stroke="#333" stroke-width="0.7" />
<text class="s" x="465.00" y="299.77" font-size="6.4" text-anchor="middle" fill="#111" stroke="#111" stroke-width="0.15" >1</text>
<line x1="488.30" y1="290.90" x2="488.30" y2="292.90" stroke="#333" stroke-width="0.7" />
<text class="s" x="488.30" y="299.77" font-size="6.4" text-anchor="middle" fill="#111" stroke="#111" stroke-width="0.15" >2</text>
<text class="s" x="443.90" y="307.64" font-size="6.3" text-anchor="middle" fill="#111" stroke="#111" stroke-width="0.15" >θ [rad]</text>
<text class="s" font-size="5.6" text-anchor="middle" fill="#000" stroke="#000" stroke-width="0.15" transform="translate(371.3,231) rotate(-90)">z [mm]</text>
<rect x="501.8" y="12.3" width="6.1" height="121.1" fill="url(#cbar1)" stroke="#555" stroke-width="0.5"/>
<line x1="507.90" y1="133.40" x2="509.90" y2="133.40" stroke="#333" stroke-width="0.7" />
<text class="s" x="510.70" y="135.67" font-size="6.4" text-anchor="start" fill="#111" stroke="#111" stroke-width="0.15" >−8</text>
<line x1="507.90" y1="120.50" x2="509.90" y2="120.50" stroke="#333" stroke-width="0.7" />
<text class="s" x="510.70" y="122.77" font-size="6.4" text-anchor="start" fill="#111" stroke="#111" stroke-width="0.15" >−4</text>
<line x1="507.90" y1="107.60" x2="509.90" y2="107.60" stroke="#333" stroke-width="0.7" />
<text class="s" x="510.70" y="109.87" font-size="6.4" text-anchor="start" fill="#111" stroke="#111" stroke-width="0.15" >0</text>
<line x1="507.90" y1="94.70" x2="509.90" y2="94.70" stroke="#333" stroke-width="0.7" />
<text class="s" x="510.70" y="96.97" font-size="6.4" text-anchor="start" fill="#111" stroke="#111" stroke-width="0.15" >4</text>
<line x1="507.90" y1="81.80" x2="509.90" y2="81.80" stroke="#333" stroke-width="0.7" />
<text class="s" x="510.70" y="84.07" font-size="6.4" text-anchor="start" fill="#111" stroke="#111" stroke-width="0.15" >8</text>
<line x1="507.90" y1="68.90" x2="509.90" y2="68.90" stroke="#333" stroke-width="0.7" />
<text class="s" x="510.70" y="71.17" font-size="6.4" text-anchor="start" fill="#111" stroke="#111" stroke-width="0.15" >12</text>
<line x1="507.90" y1="56.00" x2="509.90" y2="56.00" stroke="#333" stroke-width="0.7" />
<text class="s" x="510.70" y="58.27" font-size="6.4" text-anchor="start" fill="#111" stroke="#111" stroke-width="0.15" >16</text>
<line x1="507.90" y1="43.10" x2="509.90" y2="43.10" stroke="#333" stroke-width="0.7" />
<text class="s" x="510.70" y="45.37" font-size="6.4" text-anchor="start" fill="#111" stroke="#111" stroke-width="0.15" >20</text>
<line x1="507.90" y1="30.20" x2="509.90" y2="30.20" stroke="#333" stroke-width="0.7" />
<text class="s" x="510.70" y="32.47" font-size="6.4" text-anchor="start" fill="#111" stroke="#111" stroke-width="0.15" >24</text>
<line x1="507.90" y1="17.30" x2="509.90" y2="17.30" stroke="#333" stroke-width="0.7" />
<text class="s" x="510.70" y="19.57" font-size="6.4" text-anchor="start" fill="#111" stroke="#111" stroke-width="0.15" >28</text>
<rect x="501.8" y="170.1" width="6.1" height="121.4" fill="url(#cbar2)" stroke="#555" stroke-width="0.5"/>
<line x1="507.90" y1="287.08" x2="509.90" y2="287.08" stroke="#333" stroke-width="0.7" />
<text class="s" x="510.70" y="289.35" font-size="6.4" text-anchor="start" fill="#111" stroke="#111" stroke-width="0.15" >−12</text>
<line x1="507.90" y1="272.74" x2="509.90" y2="272.74" stroke="#333" stroke-width="0.7" />
<text class="s" x="510.70" y="275.01" font-size="6.4" text-anchor="start" fill="#111" stroke="#111" stroke-width="0.15" >−6</text>
<line x1="507.90" y1="258.40" x2="509.90" y2="258.40" stroke="#333" stroke-width="0.7" />
<text class="s" x="510.70" y="260.67" font-size="6.4" text-anchor="start" fill="#111" stroke="#111" stroke-width="0.15" >0</text>
<line x1="507.90" y1="244.06" x2="509.90" y2="244.06" stroke="#333" stroke-width="0.7" />
<text class="s" x="510.70" y="246.33" font-size="6.4" text-anchor="start" fill="#111" stroke="#111" stroke-width="0.15" >6</text>
<line x1="507.90" y1="229.72" x2="509.90" y2="229.72" stroke="#333" stroke-width="0.7" />
<text class="s" x="510.70" y="231.99" font-size="6.4" text-anchor="start" fill="#111" stroke="#111" stroke-width="0.15" >12</text>
<line x1="507.90" y1="215.38" x2="509.90" y2="215.38" stroke="#333" stroke-width="0.7" />
<text class="s" x="510.70" y="217.65" font-size="6.4" text-anchor="start" fill="#111" stroke="#111" stroke-width="0.15" >18</text>
<line x1="507.90" y1="201.04" x2="509.90" y2="201.04" stroke="#333" stroke-width="0.7" />
<text class="s" x="510.70" y="203.31" font-size="6.4" text-anchor="start" fill="#111" stroke="#111" stroke-width="0.15" >24</text>
<line x1="507.90" y1="186.70" x2="509.90" y2="186.70" stroke="#333" stroke-width="0.7" />
<text class="s" x="510.70" y="188.97" font-size="6.4" text-anchor="start" fill="#111" stroke="#111" stroke-width="0.15" >30</text>
<line x1="507.90" y1="172.36" x2="509.90" y2="172.36" stroke="#333" stroke-width="0.7" />
<text class="s" x="510.70" y="174.63" font-size="6.4" text-anchor="start" fill="#111" stroke="#111" stroke-width="0.15" >36</text>
<path d="M582.4,108.3h.6v.6h-.6zM586.0,107.5h.6v.6h-.6zM620.8,98.8h.6v.6h-.6zM574.1,103.9h.6v.6h-.6zM592.4,101.4h.6v.6h-.6zM565.9,84.6h.6v.6h-.6zM619.1,91.3h.6v.6h-.6zM573.2,110.8h.6v.6h-.6zM568.5,98.8h.6v.6h-.6zM587.0,102.6h.6v.6h-.6zM592.5,109.1h.6v.6h-.6zM576.7,107.2h.6v.6h-.6zM565.7,81.7h.6v.6h-.6zM601.3,99.3h.6v.6h-.6zM631.5,98.7h.6v.6h-.6zM634.7,96.3h.6v.6h-.6zM576.5,106.7h.6v.6h-.6zM568.4,87.8h.6v.6h-.6zM573.9,111.2h.6v.6h-.6zM590.9,97.2h.6v.6h-.6zM567.8,93.4h.6v.6h-.6zM576.9,128.9h.6v.6h-.6zM635.9,101.1h.6v.6h-.6zM627.8,104.0h.6v.6h-.6zM569.8,107.4h.6v.6h-.6zM579.7,118.5h.6v.6h-.6zM568.1,103.2h.6v.6h-.6zM612.0,102.5h.6v.6h-.6zM631.3,105.6h.6v.6h-.6zM598.3,111.2h.6v.6h-.6zM607.2,92.3h.6v.6h-.6zM571.4,107.0h.6v.6h-.6zM558.3,49.8h.6v.6h-.6zM618.9,102.5h.6v.6h-.6zM556.7,35.1h.6v.6h-.6zM569.8,103.5h.6v.6h-.6zM573.4,121.6h.6v.6h-.6zM618.7,96.4h.6v.6h-.6zM594.9,112.0h.6v.6h-.6zM570.7,101.4h.6v.6h-.6zM567.1,91.1h.6v.6h-.6zM579.2,111.1h.6v.6h-.6zM560.3,44.1h.6v.6h-.6zM588.7,100.8h.6v.6h-.6zM649.1,103.8h.6v.6h-.6zM642.5,101.0h.6v.6h-.6zM604.5,95.4h.6v.6h-.6zM557.9,47.2h.6v.6h-.6zM567.8,97.1h.6v.6h-.6zM589.2,101.1h.6v.6h-.6zM596.1,98.6h.6v.6h-.6zM570.9,101.4h.6v.6h-.6zM570.1,106.7h.6v.6h-.6zM591.0,103.8h.6v.6h-.6zM643.9,101.2h.6v.6h-.6zM576.2,118.2h.6v.6h-.6zM584.9,106.8h.6v.6h-.6zM582.6,113.4h.6v.6h-.6zM565.9,84.2h.6v.6h-.6zM560.1,51.2h.6v.6h-.6zM578.4,107.4h.6v.6h-.6zM620.5,100.2h.6v.6h-.6zM649.9,99.1h.6v.6h-.6zM578.7,115.4h.6v.6h-.6zM586.8,107.8h.6v.6h-.6zM599.1,100.3h.6v.6h-.6zM567.2,98.8h.6v.6h-.6zM616.7,102.7h.6v.6h-.6zM589.3,99.6h.6v.6h-.6zM574.5,110.8h.6v.6h-.6zM571.0,108.2h.6v.6h-.6zM582.8,104.6h.6v.6h-.6zM634.3,98.8h.6v.6h-.6zM576.8,105.9h.6v.6h-.6zM649.6,103.0h.6v.6h-.6zM583.3,106.5h.6v.6h-.6zM566.9,77.0h.6v.6h-.6zM643.0,97.5h.6v.6h-.6zM631.7,100.7h.6v.6h-.6zM580.1,121.2h.6v.6h-.6zM569.5,96.6h.6v.6h-.6zM572.8,102.8h.6v.6h-.6zM569.2,98.2h.6v.6h-.6zM593.6,100.4h.6v.6h-.6zM617.6,105.5h.6v.6h-.6zM601.2,104.6h.6v.6h-.6zM580.9,105.6h.6v.6h-.6zM585.8,95.1h.6v.6h-.6zM588.2,106.8h.6v.6h-.6zM579.7,113.5h.6v.6h-.6zM574.3,112.2h.6v.6h-.6zM580.2,106.6h.6v.6h-.6zM569.9,101.9h.6v.6h-.6zM595.0,103.5h.6v.6h-.6zM586.7,111.9h.6v.6h-.6zM577.1,109.2h.6v.6h-.6zM579.9,105.3h.6v.6h-.6zM578.2,109.6h.6v.6h-.6zM572.7,118.9h.6v.6h-.6zM569.0,98.7h.6v.6h-.6zM640.6,99.7h.6v.6h-.6zM574.8,104.5h.6v.6h-.6zM602.4,102.2h.6v.6h-.6zM568.4,80.1h.6v.6h-.6zM579.2,118.7h.6v.6h-.6zM636.6,103.1h.6v.6h-.6zM566.6,87.0h.6v.6h-.6zM618.2,97.5h.6v.6h-.6zM609.6,100.4h.6v.6h-.6zM580.5,110.6h.6v.6h-.6zM557.0,42.5h.6v.6h-.6zM600.1,101.9h.6v.6h-.6zM566.6,91.6h.6v.6h-.6zM629.8,101.2h.6v.6h-.6zM568.1,98.9h.6v.6h-.6zM582.4,106.4h.6v.6h-.6zM621.6,104.7h.6v.6h-.6zM565.8,85.7h.6v.6h-.6zM577.9,107.5h.6v.6h-.6zM619.6,99.5h.6v.6h-.6zM588.4,105.9h.6v.6h-.6zM601.9,95.6h.6v.6h-.6zM645.8,95.2h.6v.6h-.6zM591.2,95.9h.6v.6h-.6zM569.1,94.8h.6v.6h-.6zM580.1,104.6h.6v.6h-.6zM636.4,99.6h.6v.6h-.6zM563.5,63.0h.6v.6h-.6zM558.9,49.5h.6v.6h-.6zM635.4,100.5h.6v.6h-.6zM561.1,58.0h.6v.6h-.6zM578.1,108.1h.6v.6h-.6zM611.2,101.1h.6v.6h-.6zM579.2,105.1h.6v.6h-.6zM581.6,103.5h.6v.6h-.6zM563.3,67.6h.6v.6h-.6zM563.2,67.3h.6v.6h-.6zM580.9,107.1h.6v.6h-.6zM636.1,99.4h.6v.6h-.6zM574.2,108.8h.6v.6h-.6zM571.8,110.0h.6v.6h-.6zM587.2,102.3h.6v.6h-.6zM639.4,100.2h.6v.6h-.6zM590.1,86.7h.6v.6h-.6zM563.2,69.3h.6v.6h-.6zM651.8,97.7h.6v.6h-.6zM571.0,101.5h.6v.6h-.6zM566.4,96.3h.6v.6h-.6zM587.3,109.1h.6v.6h-.6zM580.5,103.2h.6v.6h-.6zM632.4,103.3h.6v.6h-.6zM571.5,110.8h.6v.6h-.6zM638.7,102.0h.6v.6h-.6zM568.5,89.8h.6v.6h-.6zM572.7,105.7h.6v.6h-.6zM559.7,43.1h.6v.6h-.6zM606.9,101.0h.6v.6h-.6zM583.1,107.2h.6v.6h-.6zM582.3,108.2h.6v.6h-.6zM570.3,108.2h.6v.6h-.6zM566.6,85.0h.6v.6h-.6zM589.8,107.5h.6v.6h-.6zM589.4,100.7h.6v.6h-.6zM577.1,114.9h.6v.6h-.6zM589.9,92.2h.6v.6h-.6zM573.5,111.9h.6v.6h-.6zM628.7,97.7h.6v.6h-.6zM585.8,103.3h.6v.6h-.6zM581.0,108.4h.6v.6h-.6zM625.3,101.1h.6v.6h-.6zM576.9,111.6h.6v.6h-.6zM573.1,115.3h.6v.6h-.6zM566.2,82.1h.6v.6h-.6zM642.2,101.8h.6v.6h-.6zM568.3,94.8h.6v.6h-.6zM584.8,102.0h.6v.6h-.6zM582.7,105.3h.6v.6h-.6zM579.7,104.4h.6v.6h-.6zM570.6,111.9h.6v.6h-.6zM581.6,109.5h.6v.6h-.6zM572.6,109.9h.6v.6h-.6zM585.7,116.9h.6v.6h-.6zM577.1,115.0h.6v.6h-.6zM599.7,98.0h.6v.6h-.6zM557.1,46.5h.6v.6h-.6zM622.0,99.7h.6v.6h-.6zM573.4,109.2h.6v.6h-.6zM586.3,110.6h.6v.6h-.6zM572.3,108.1h.6v.6h-.6zM636.2,101.7h.6v.6h-.6zM572.7,111.6h.6v.6h-.6zM571.1,107.9h.6v.6h-.6zM589.1,110.7h.6v.6h-.6zM618.3,102.4h.6v.6h-.6zM611.3,101.6h.6v.6h-.6zM573.2,111.9h.6v.6h-.6zM591.6,104.3h.6v.6h-.6zM570.8,101.8h.6v.6h-.6zM560.7,48.7h.6v.6h-.6zM616.8,99.1h.6v.6h-.6zM621.8,99.2h.6v.6h-.6zM641.2,102.0h.6v.6h-.6zM618.7,98.1h.6v.6h-.6zM558.0,50.4h.6v.6h-.6zM637.4,97.6h.6v.6h-.6zM559.4,30.5h.6v.6h-.6zM586.2,84.6h.6v.6h-.6zM574.6,119.0h.6v.6h-.6zM605.5,100.2h.6v.6h-.6zM635.6,105.0h.6v.6h-.6zM643.8,104.2h.6v.6h-.6zM599.9,90.0h.6v.6h-.6zM620.9,104.2h.6v.6h-.6zM581.6,104.9h.6v.6h-.6zM568.8,96.5h.6v.6h-.6zM567.8,91.1h.6v.6h-.6zM584.9,111.9h.6v.6h-.6zM577.4,107.6h.6v.6h-.6zM575.8,106.1h.6v.6h-.6zM583.7,109.7h.6v.6h-.6zM573.6,107.9h.6v.6h-.6zM580.6,88.7h.6v.6h-.6zM608.0,99.2h.6v.6h-.6zM573.5,118.1h.6v.6h-.6zM560.9,44.5h.6v.6h-.6zM585.6,111.7h.6v.6h-.6zM573.4,106.9h.6v.6h-.6zM565.0,80.7h.6v.6h-.6zM599.1,97.9h.6v.6h-.6zM567.9,85.3h.6v.6h-.6zM598.8,100.8h.6v.6h-.6zM560.3,46.1h.6v.6h-.6zM570.8,110.8h.6v.6h-.6zM566.4,88.2h.6v.6h-.6zM603.6,99.8h.6v.6h-.6zM589.5,105.8h.6v.6h-.6zM566.7,65.5h.6v.6h-.6zM582.5,106.1h.6v.6h-.6zM600.0,95.4h.6v.6h-.6zM568.8,81.6h.6v.6h-.6zM583.2,119.3h.6v.6h-.6zM578.3,105.4h.6v.6h-.6zM586.4,100.8h.6v.6h-.6zM569.1,96.6h.6v.6h-.6zM628.3,106.2h.6v.6h-.6zM595.3,91.7h.6v.6h-.6zM611.3,98.7h.6v.6h-.6zM584.4,106.3h.6v.6h-.6zM572.5,103.0h.6v.6h-.6zM591.5,105.2h.6v.6h-.6zM575.0,106.5h.6v.6h-.6zM578.0,109.8h.6v.6h-.6zM577.9,107.1h.6v.6h-.6zM571.3,101.5h.6v.6h-.6zM572.4,108.3h.6v.6h-.6zM585.2,111.0h.6v.6h-.6zM608.2,97.6h.6v.6h-.6zM584.5,110.0h.6v.6h-.6zM647.4,100.2h.6v.6h-.6zM602.2,87.3h.6v.6h-.6zM557.3,36.2h.6v.6h-.6zM615.1,98.7h.6v.6h-.6zM571.5,101.5h.6v.6h-.6zM628.2,105.6h.6v.6h-.6zM572.4,107.6h.6v.6h-.6zM582.6,103.2h.6v.6h-.6zM578.5,117.6h.6v.6h-.6zM575.4,106.7h.6v.6h-.6zM582.2,105.1h.6v.6h-.6zM615.6,98.9h.6v.6h-.6zM572.4,106.1h.6v.6h-.6zM651.5,101.7h.6v.6h-.6zM564.8,77.5h.6v.6h-.6zM645.2,98.2h.6v.6h-.6zM573.9,108.7h.6v.6h-.6zM566.5,87.4h.6v.6h-.6zM649.2,100.7h.6v.6h-.6zM586.1,105.7h.6v.6h-.6zM585.1,106.0h.6v.6h-.6zM631.1,103.5h.6v.6h-.6zM594.7,104.6h.6v.6h-.6zM564.4,65.3h.6v.6h-.6zM574.7,107.9h.6v.6h-.6zM569.7,104.6h.6v.6h-.6zM579.3,109.1h.6v.6h-.6zM595.2,106.1h.6v.6h-.6zM581.8,105.2h.6v.6h-.6zM568.4,100.4h.6v.6h-.6zM568.4,99.9h.6v.6h-.6zM586.1,108.5h.6v.6h-.6zM567.5,88.2h.6v.6h-.6zM650.4,98.0h.6v.6h-.6zM571.5,106.7h.6v.6h-.6zM568.0,96.9h.6v.6h-.6zM581.4,108.2h.6v.6h-.6zM567.2,76.3h.6v.6h-.6zM581.0,116.4h.6v.6h-.6zM605.0,102.2h.6v.6h-.6zM571.9,103.9h.6v.6h-.6zM647.1,98.0h.6v.6h-.6zM612.3,97.3h.6v.6h-.6zM558.7,53.2h.6v.6h-.6zM585.8,101.0h.6v.6h-.6zM595.1,105.8h.6v.6h-.6zM572.0,110.6h.6v.6h-.6zM562.6,49.4h.6v.6h-.6zM650.2,99.6h.6v.6h-.6zM585.6,105.8h.6v.6h-.6zM578.3,108.8h.6v.6h-.6zM621.9,99.9h.6v.6h-.6zM601.1,81.9h.6v.6h-.6zM597.3,101.1h.6v.6h-.6zM613.5,106.9h.6v.6h-.6zM575.1,108.1h.6v.6h-.6zM572.0,103.1h.6v.6h-.6zM591.3,102.5h.6v.6h-.6zM626.3,100.3h.6v.6h-.6zM559.9,39.1h.6v.6h-.6zM579.2,106.6h.6v.6h-.6zM565.6,95.4h.6v.6h-.6zM559.4,38.3h.6v.6h-.6zM574.1,104.5h.6v.6h-.6zM581.3,112.6h.6v.6h-.6zM595.8,100.8h.6v.6h-.6zM625.7,99.0h.6v.6h-.6zM646.2,104.1h.6v.6h-.6zM605.3,100.1h.6v.6h-.6zM607.6,100.1h.6v.6h-.6zM596.4,99.5h.6v.6h-.6zM571.8,104.1h.6v.6h-.6zM561.4,44.1h.6v.6h-.6zM580.7,101.1h.6v.6h-.6zM638.0,101.2h.6v.6h-.6zM585.6,107.9h.6v.6h-.6zM576.7,114.7h.6v.6h-.6zM581.6,114.2h.6v.6h-.6zM569.5,107.4h.6v.6h-.6zM648.7,101.0h.6v.6h-.6zM577.9,110.2h.6v.6h-.6zM558.0,39.7h.6v.6h-.6zM565.8,85.8h.6v.6h-.6zM592.2,108.7h.6v.6h-.6zM600.9,105.3h.6v.6h-.6zM589.1,105.4h.6v.6h-.6zM573.6,120.7h.6v.6h-.6zM574.4,113.7h.6v.6h-.6zM587.0,106.6h.6v.6h-.6zM578.4,118.1h.6v.6h-.6zM559.7,37.4h.6v.6h-.6zM614.1,100.0h.6v.6h-.6zM608.1,100.9h.6v.6h-.6zM624.7,100.9h.6v.6h-.6zM598.0,99.5h.6v.6h-.6zM587.5,107.9h.6v.6h-.6zM575.5,106.9h.6v.6h-.6zM563.2,61.7h.6v.6h-.6zM576.6,125.2h.6v.6h-.6zM571.8,108.8h.6v.6h-.6zM560.0,51.6h.6v.6h-.6zM581.9,103.1h.6v.6h-.6zM573.3,104.1h.6v.6h-.6zM583.1,109.2h.6v.6h-.6zM582.6,116.7h.6v.6h-.6zM596.4,100.7h.6v.6h-.6zM634.2,97.1h.6v.6h-.6zM567.2,86.4h.6v.6h-.6zM567.3,87.3h.6v.6h-.6zM651.6,95.6h.6v.6h-.6zM597.1,106.1h.6v.6h-.6zM640.4,101.7h.6v.6h-.6zM585.9,109.1h.6v.6h-.6zM626.4,103.3h.6v.6h-.6zM581.4,109.5h.6v.6h-.6zM584.9,101.1h.6v.6h-.6zM583.3,106.7h.6v.6h-.6zM647.2,101.2h.6v.6h-.6zM580.1,112.3h.6v.6h-.6zM564.5,77.9h.6v.6h-.6zM590.4,110.6h.6v.6h-.6zM582.3,102.9h.6v.6h-.6zM558.8,43.7h.6v.6h-.6zM605.3,83.9h.6v.6h-.6zM610.1,101.1h.6v.6h-.6zM628.1,98.5h.6v.6h-.6zM623.0,95.0h.6v.6h-.6zM574.6,106.9h.6v.6h-.6zM604.6,98.1h.6v.6h-.6zM580.9,106.2h.6v.6h-.6zM597.0,111.0h.6v.6h-.6zM617.4,104.5h.6v.6h-.6zM581.1,105.3h.6v.6h-.6zM622.0,98.4h.6v.6h-.6zM588.8,103.2h.6v.6h-.6zM644.1,103.2h.6v.6h-.6zM561.1,55.1h.6v.6h-.6zM615.7,99.5h.6v.6h-.6zM566.1,74.1h.6v.6h-.6zM575.7,116.4h.6v.6h-.6zM573.6,107.4h.6v.6h-.6zM591.7,111.8h.6v.6h-.6zM616.6,102.6h.6v.6h-.6zM597.2,102.6h.6v.6h-.6zM588.9,93.7h.6v.6h-.6zM572.0,104.4h.6v.6h-.6zM557.0,30.7h.6v.6h-.6zM573.1,111.0h.6v.6h-.6zM566.7,86.2h.6v.6h-.6zM615.5,103.1h.6v.6h-.6zM581.3,104.5h.6v.6h-.6zM580.2,113.4h.6v.6h-.6zM581.3,112.8h.6v.6h-.6zM578.7,93.8h.6v.6h-.6zM595.6,93.4h.6v.6h-.6zM569.4,100.5h.6v.6h-.6zM607.3,101.9h.6v.6h-.6zM632.9,101.7h.6v.6h-.6zM563.1,71.1h.6v.6h-.6zM576.3,104.4h.6v.6h-.6zM586.9,111.2h.6v.6h-.6zM557.7,36.8h.6v.6h-.6zM585.7,107.5h.6v.6h-.6zM580.3,108.7h.6v.6h-.6zM569.3,109.7h.6v.6h-.6zM565.2,86.2h.6v.6h-.6zM559.5,37.7h.6v.6h-.6zM595.4,98.0h.6v.6h-.6zM570.6,111.0h.6v.6h-.6zM595.3,107.6h.6v.6h-.6zM583.6,116.2h.6v.6h-.6zM565.3,81.9h.6v.6h-.6zM642.5,96.6h.6v.6h-.6zM573.8,111.5h.6v.6h-.6zM571.1,120.4h.6v.6h-.6zM637.1,100.5h.6v.6h-.6zM574.0,110.6h.6v.6h-.6zM589.2,103.5h.6v.6h-.6zM581.4,109.3h.6v.6h-.6zM573.2,103.9h.6v.6h-.6zM597.0,102.9h.6v.6h-.6zM559.9,50.1h.6v.6h-.6zM634.2,101.1h.6v.6h-.6zM646.8,100.5h.6v.6h-.6zM617.9,103.1h.6v.6h-.6zM573.1,108.7h.6v.6h-.6zM577.5,110.6h.6v.6h-.6zM566.9,85.2h.6v.6h-.6zM568.8,94.9h.6v.6h-.6zM617.2,100.6h.6v.6h-.6zM607.5,105.2h.6v.6h-.6zM575.4,105.9h.6v.6h-.6zM558.2,45.5h.6v.6h-.6zM622.1,98.1h.6v.6h-.6zM593.8,100.8h.6v.6h-.6zM567.6,94.7h.6v.6h-.6zM615.0,100.5h.6v.6h-.6zM559.4,38.2h.6v.6h-.6zM575.2,105.2h.6v.6h-.6zM576.0,108.3h.6v.6h-.6zM602.9,93.7h.6v.6h-.6zM596.1,105.4h.6v.6h-.6zM595.8,91.1h.6v.6h-.6zM560.1,43.0h.6v.6h-.6zM637.9,103.1h.6v.6h-.6zM568.0,96.5h.6v.6h-.6zM572.5,107.8h.6v.6h-.6zM592.0,107.7h.6v.6h-.6zM586.3,104.0h.6v.6h-.6zM617.4,105.9h.6v.6h-.6zM588.7,112.5h.6v.6h-.6zM647.2,95.5h.6v.6h-.6zM565.3,71.7h.6v.6h-.6zM586.8,109.6h.6v.6h-.6zM643.5,103.8h.6v.6h-.6zM573.3,111.5h.6v.6h-.6zM573.3,106.8h.6v.6h-.6zM595.7,102.5h.6v.6h-.6zM568.9,94.1h.6v.6h-.6zM576.1,110.0h.6v.6h-.6zM647.3,101.6h.6v.6h-.6zM556.3,34.8h.6v.6h-.6zM558.6,47.7h.6v.6h-.6zM640.8,100.1h.6v.6h-.6zM561.8,46.3h.6v.6h-.6zM572.6,106.1h.6v.6h-.6zM568.3,93.5h.6v.6h-.6zM568.1,96.4h.6v.6h-.6zM556.7,35.8h.6v.6h-.6zM599.7,100.8h.6v.6h-.6zM571.5,102.3h.6v.6h-.6zM569.9,109.4h.6v.6h-.6zM645.6,101.0h.6v.6h-.6zM593.0,101.9h.6v.6h-.6zM569.1,102.5h.6v.6h-.6zM566.0,90.4h.6v.6h-.6zM594.4,101.6h.6v.6h-.6zM557.4,38.3h.6v.6h-.6zM587.1,102.7h.6v.6h-.6zM624.1,103.0h.6v.6h-.6zM578.0,118.8h.6v.6h-.6zM561.9,56.5h.6v.6h-.6zM577.2,124.7h.6v.6h-.6zM578.4,105.6h.6v.6h-.6zM562.0,57.7h.6v.6h-.6zM583.6,106.3h.6v.6h-.6zM570.2,102.5h.6v.6h-.6zM560.4,44.9h.6v.6h-.6zM557.7,31.6h.6v.6h-.6zM614.5,95.2h.6v.6h-.6zM637.3,96.6h.6v.6h-.6zM580.1,108.5h.6v.6h-.6zM566.7,100.9h.6v.6h-.6zM587.1,106.8h.6v.6h-.6zM635.3,95.3h.6v.6h-.6zM637.2,96.9h.6v.6h-.6zM570.1,98.3h.6v.6h-.6zM569.6,99.7h.6v.6h-.6zM611.8,101.4h.6v.6h-.6zM567.0,81.7h.6v.6h-.6zM579.9,105.3h.6v.6h-.6zM562.2,55.7h.6v.6h-.6zM588.5,106.0h.6v.6h-.6zM583.9,102.3h.6v.6h-.6zM583.3,107.1h.6v.6h-.6zM575.0,130.0h.6v.6h-.6zM616.4,102.3h.6v.6h-.6zM616.6,104.0h.6v.6h-.6zM568.9,106.2h.6v.6h-.6zM594.4,107.8h.6v.6h-.6zM576.5,107.4h.6v.6h-.6zM561.9,44.1h.6v.6h-.6zM568.8,107.6h.6v.6h-.6zM572.9,106.3h.6v.6h-.6zM576.0,128.3h.6v.6h-.6zM646.7,101.4h.6v.6h-.6zM575.6,105.1h.6v.6h-.6zM628.0,99.6h.6v.6h-.6zM570.6,99.8h.6v.6h-.6zM615.0,99.2h.6v.6h-.6zM589.6,112.8h.6v.6h-.6zM563.8,74.8h.6v.6h-.6zM573.3,109.1h.6v.6h-.6zM600.9,100.1h.6v.6h-.6zM632.0,103.1h.6v.6h-.6zM586.1,107.5h.6v.6h-.6zM648.4,98.3h.6v.6h-.6zM578.7,104.7h.6v.6h-.6zM628.5,102.6h.6v.6h-.6zM588.8,107.3h.6v.6h-.6zM598.1,96.0h.6v.6h-.6zM595.8,102.0h.6v.6h-.6zM566.2,83.7h.6v.6h-.6zM564.1,77.7h.6v.6h-.6zM563.5,74.8h.6v.6h-.6zM568.8,93.9h.6v.6h-.6zM648.3,101.4h.6v.6h-.6zM569.8,105.2h.6v.6h-.6zM592.4,105.6h.6v.6h-.6zM617.0,95.5h.6v.6h-.6zM589.6,102.5h.6v.6h-.6zM572.9,109.7h.6v.6h-.6zM569.6,97.8h.6v.6h-.6zM587.8,103.1h.6v.6h-.6zM582.9,105.1h.6v.6h-.6zM620.0,96.2h.6v.6h-.6zM569.8,98.0h.6v.6h-.6zM619.9,102.8h.6v.6h-.6zM569.8,98.6h.6v.6h-.6zM597.0,92.6h.6v.6h-.6zM639.2,97.1h.6v.6h-.6zM562.7,59.3h.6v.6h-.6zM598.8,102.4h.6v.6h-.6zM580.4,112.2h.6v.6h-.6zM562.2,55.2h.6v.6h-.6zM636.9,87.4h.6v.6h-.6zM576.8,107.4h.6v.6h-.6zM572.3,105.2h.6v.6h-.6zM587.4,122.9h.6v.6h-.6zM570.2,106.0h.6v.6h-.6zM582.9,103.2h.6v.6h-.6zM651.3,102.2h.6v.6h-.6zM649.2,103.3h.6v.6h-.6zM584.9,105.1h.6v.6h-.6zM567.0,93.7h.6v.6h-.6zM614.3,103.6h.6v.6h-.6zM569.9,104.5h.6v.6h-.6zM584.1,106.9h.6v.6h-.6zM643.6,103.2h.6v.6h-.6zM577.2,108.9h.6v.6h-.6zM569.9,98.7h.6v.6h-.6zM574.6,112.5h.6v.6h-.6zM566.7,93.8h.6v.6h-.6zM641.7,101.0h.6v.6h-.6zM602.4,99.4h.6v.6h-.6zM573.1,107.8h.6v.6h-.6zM568.3,94.2h.6v.6h-.6zM615.3,98.8h.6v.6h-.6zM595.1,100.1h.6v.6h-.6zM576.0,109.0h.6v.6h-.6zM557.4,45.2h.6v.6h-.6zM581.1,103.4h.6v.6h-.6zM574.1,106.2h.6v.6h-.6zM563.7,77.5h.6v.6h-.6zM590.4,100.1h.6v.6h-.6zM570.7,102.3h.6v.6h-.6zM566.2,91.7h.6v.6h-.6zM579.6,106.5h.6v.6h-.6zM574.5,104.1h.6v.6h-.6zM558.7,36.2h.6v.6h-.6zM590.7,102.9h.6v.6h-.6zM572.2,107.4h.6v.6h-.6zM611.4,102.7h.6v.6h-.6zM563.4,57.5h.6v.6h-.6zM582.3,104.6h.6v.6h-.6zM570.2,98.8h.6v.6h-.6zM571.8,112.8h.6v.6h-.6zM579.2,107.0h.6v.6h-.6zM578.7,104.9h.6v.6h-.6zM616.4,105.5h.6v.6h-.6zM611.8,101.3h.6v.6h-.6zM557.5,26.3h.6v.6h-.6zM559.1,47.1h.6v.6h-.6zM595.4,102.4h.6v.6h-.6zM649.9,101.4h.6v.6h-.6zM573.3,117.9h.6v.6h-.6zM574.1,123.7h.6v.6h-.6zM578.7,121.6h.6v.6h-.6zM650.2,99.3h.6v.6h-.6zM569.2,96.3h.6v.6h-.6zM567.8,90.1h.6v.6h-.6zM583.4,106.7h.6v.6h-.6zM584.6,108.1h.6v.6h-.6zM588.5,103.4h.6v.6h-.6zM604.7,103.7h.6v.6h-.6zM566.4,85.7h.6v.6h-.6zM569.9,99.7h.6v.6h-.6zM568.3,94.5h.6v.6h-.6zM586.9,101.3h.6v.6h-.6zM586.9,115.1h.6v.6h-.6zM568.5,102.0h.6v.6h-.6zM582.5,105.2h.6v.6h-.6zM591.1,110.9h.6v.6h-.6zM612.0,103.8h.6v.6h-.6zM626.4,98.4h.6v.6h-.6zM577.7,108.8h.6v.6h-.6zM575.5,109.0h.6v.6h-.6zM563.8,67.2h.6v.6h-.6zM578.7,107.4h.6v.6h-.6zM585.2,109.6h.6v.6h-.6zM557.0,46.1h.6v.6h-.6zM567.4,99.7h.6v.6h-.6zM565.4,83.1h.6v.6h-.6zM579.7,110.3h.6v.6h-.6zM581.7,104.8h.6v.6h-.6zM647.0,99.8h.6v.6h-.6zM563.4,62.4h.6v.6h-.6zM576.1,110.7h.6v.6h-.6zM580.6,114.0h.6v.6h-.6zM580.4,114.8h.6v.6h-.6zM590.1,103.4h.6v.6h-.6zM569.5,102.0h.6v.6h-.6zM571.1,101.9h.6v.6h-.6zM595.3,99.5h.6v.6h-.6zM637.3,102.4h.6v.6h-.6zM593.1,94.0h.6v.6h-.6zM641.0,101.0h.6v.6h-.6zM602.5,101.3h.6v.6h-.6zM576.9,107.3h.6v.6h-.6zM567.7,93.7h.6v.6h-.6zM642.0,100.2h.6v.6h-.6zM563.6,60.0h.6v.6h-.6zM589.4,100.1h.6v.6h-.6zM649.6,101.9h.6v.6h-.6zM608.4,101.2h.6v.6h-.6zM590.8,100.2h.6v.6h-.6zM620.4,90.0h.6v.6h-.6zM613.6,100.4h.6v.6h-.6zM622.4,96.3h.6v.6h-.6zM559.9,49.6h.6v.6h-.6zM599.3,103.2h.6v.6h-.6zM572.3,108.7h.6v.6h-.6zM572.0,115.1h.6v.6h-.6zM647.5,102.1h.6v.6h-.6zM559.7,47.5h.6v.6h-.6zM619.2,96.8h.6v.6h-.6zM563.9,70.6h.6v.6h-.6zM568.9,95.1h.6v.6h-.6zM617.4,99.7h.6v.6h-.6zM572.7,109.2h.6v.6h-.6zM580.4,108.9h.6v.6h-.6zM581.5,103.4h.6v.6h-.6zM634.9,95.5h.6v.6h-.6zM620.3,102.8h.6v.6h-.6zM639.5,100.1h.6v.6h-.6zM577.2,110.6h.6v.6h-.6zM577.2,118.2h.6v.6h-.6zM582.7,109.9h.6v.6h-.6zM567.1,89.3h.6v.6h-.6zM627.2,97.8h.6v.6h-.6zM584.2,89.6h.6v.6h-.6zM646.3,98.8h.6v.6h-.6zM586.1,107.4h.6v.6h-.6zM586.3,102.2h.6v.6h-.6zM563.8,58.9h.6v.6h-.6zM574.1,107.8h.6v.6h-.6zM566.2,82.7h.6v.6h-.6zM570.3,104.0h.6v.6h-.6zM581.5,106.8h.6v.6h-.6zM633.6,98.8h.6v.6h-.6zM570.5,101.8h.6v.6h-.6zM625.4,99.6h.6v.6h-.6zM637.7,101.1h.6v.6h-.6zM645.4,99.3h.6v.6h-.6zM649.3,102.9h.6v.6h-.6zM584.2,96.9h.6v.6h-.6zM572.4,108.4h.6v.6h-.6zM571.6,107.1h.6v.6h-.6zM592.7,103.0h.6v.6h-.6zM565.9,82.9h.6v.6h-.6zM646.6,102.6h.6v.6h-.6zM584.0,102.2h.6v.6h-.6zM612.9,104.4h.6v.6h-.6zM627.2,98.0h.6v.6h-.6zM570.1,101.2h.6v.6h-.6zM577.6,116.5h.6v.6h-.6zM647.9,101.3h.6v.6h-.6zM601.9,101.4h.6v.6h-.6zM620.5,98.9h.6v.6h-.6zM579.9,113.5h.6v.6h-.6zM567.8,78.9h.6v.6h-.6zM592.3,103.0h.6v.6h-.6zM578.8,105.6h.6v.6h-.6zM577.4,121.7h.6v.6h-.6zM636.4,98.1h.6v.6h-.6zM567.3,94.3h.6v.6h-.6zM570.0,100.9h.6v.6h-.6zM631.9,101.3h.6v.6h-.6zM570.0,111.4h.6v.6h-.6zM565.7,84.0h.6v.6h-.6zM587.7,107.3h.6v.6h-.6zM565.4,76.1h.6v.6h-.6zM567.0,98.0h.6v.6h-.6zM577.9,106.3h.6v.6h-.6zM579.9,109.9h.6v.6h-.6zM579.5,107.7h.6v.6h-.6zM563.5,59.6h.6v.6h-.6zM632.6,98.6h.6v.6h-.6zM595.5,101.8h.6v.6h-.6zM636.7,100.6h.6v.6h-.6zM579.7,116.3h.6v.6h-.6zM639.6,101.5h.6v.6h-.6zM592.0,100.2h.6v.6h-.6zM573.0,103.3h.6v.6h-.6zM571.1,109.9h.6v.6h-.6zM569.0,98.7h.6v.6h-.6zM577.1,115.0h.6v.6h-.6zM615.6,100.1h.6v.6h-.6zM572.9,114.9h.6v.6h-.6zM605.8,98.3h.6v.6h-.6zM624.4,102.1h.6v.6h-.6zM609.3,100.4h.6v.6h-.6zM570.8,101.0h.6v.6h-.6zM588.6,106.8h.6v.6h-.6zM570.2,108.5h.6v.6h-.6zM568.9,98.8h.6v.6h-.6zM641.3,106.5h.6v.6h-.6zM593.4,100.8h.6v.6h-.6zM616.0,100.1h.6v.6h-.6zM577.5,104.5h.6v.6h-.6zM605.3,101.6h.6v.6h-.6zM569.0,93.8h.6v.6h-.6zM587.4,106.6h.6v.6h-.6zM578.3,109.6h.6v.6h-.6zM566.6,76.0h.6v.6h-.6zM578.3,105.5h.6v.6h-.6zM564.9,68.2h.6v.6h-.6zM628.1,94.0h.6v.6h-.6zM581.5,104.8h.6v.6h-.6zM606.3,98.9h.6v.6h-.6zM607.5,104.4h.6v.6h-.6zM578.9,106.7h.6v.6h-.6zM605.1,103.4h.6v.6h-.6zM576.4,105.6h.6v.6h-.6zM570.6,106.7h.6v.6h-.6zM597.0,100.4h.6v.6h-.6zM582.4,115.4h.6v.6h-.6zM577.0,109.9h.6v.6h-.6zM602.2,100.3h.6v.6h-.6zM569.5,101.1h.6v.6h-.6zM574.8,105.1h.6v.6h-.6zM573.3,108.0h.6v.6h-.6zM589.3,101.8h.6v.6h-.6zM646.0,99.4h.6v.6h-.6zM574.8,110.9h.6v.6h-.6zM576.1,105.4h.6v.6h-.6zM583.8,104.0h.6v.6h-.6zM617.4,101.3h.6v.6h-.6zM635.6,100.6h.6v.6h-.6zM650.0,103.0h.6v.6h-.6zM627.1,99.2h.6v.6h-.6zM577.0,111.7h.6v.6h-.6z" fill="#666" fill-opacity="0.5"/>
<polygon points="556.2,36.0 558.3,42.5 561.5,59.1 564.7,77.0 566.7,87.0 568.5,95.4 568.5,95.0 572.0,98.5 580.0,98.5 590.0,97.5 600.0,97.8 647.0,98.0 647.0,100.5 600.0,101.0 590.0,103.0 582.0,108.5 575.0,111.0 572.9,95.4 571.1,87.0 569.1,77.0 565.9,59.1 562.7,42.5 560.6,36.0" fill="#c0d8ee" fill-opacity="0.8"/>
<line x1="559.70" y1="98.20" x2="647.00" y2="98.20" stroke="#999" stroke-width="1.1" />
<polyline points="554.30,32.00 555.50,32.60 557.00,36.00 559.10,42.50 562.30,59.10 565.50,77.00 567.50,87.00 569.30,95.40 571.00,100.00 572.50,102.50 574.40,104.00 577.00,104.30 580.00,103.50 582.00,102.40 585.00,101.00 588.40,99.80 594.00,99.30 600.00,99.20 647.10,99.00 662.40,98.50" fill="none" stroke="#6aa3d6" stroke-width="1.3" stroke-linejoin="round" />
<polyline points="554.30,32.00 555.50,32.60 557.00,36.00 559.10,42.50 562.30,59.10 565.50,77.00 567.50,87.00 569.30,95.40 571.00,100.00 572.50,102.50 574.40,104.00 577.00,104.30 580.00,103.50 582.00,102.40 585.00,101.00 588.40,99.80 594.00,99.30 600.00,99.20 647.10,99.00" fill="none" stroke="#1c2a38" stroke-width="1.1" stroke-linejoin="round" />
<line x1="555.30" y1="24.70" x2="555.30" y2="32.40" stroke="#f0a050" stroke-width="1" />
<rect x="558.9" y="46.4" width="1.2" height="1.2" fill="#f0a050"/>
<rect x="561.4" y="59.4" width="1.2" height="1.2" fill="#f0a050"/>
<rect x="563.9" y="69.9" width="1.2" height="1.2" fill="#f0a050"/>
<rect x="568.4" y="93.4" width="1.2" height="1.2" fill="#f0a050"/>
<rect x="575.4" y="102.4" width="1.2" height="1.2" fill="#f0a050"/>
<rect x="585.4" y="99.9" width="1.2" height="1.2" fill="#f0a050"/>
<rect x="548.5" y="12.5" width="132.79999999999995" height="120.6" fill="none" stroke="#444" stroke-width="0.9"/>
<line x1="546.50" y1="32.20" x2="548.50" y2="32.20" stroke="#333" stroke-width="0.7" />
<text class="s" x="546.00" y="34.47" font-size="6.4" text-anchor="end" fill="#111" stroke="#111" stroke-width="0.15" >30</text>
<line x1="546.50" y1="54.20" x2="548.50" y2="54.20" stroke="#333" stroke-width="0.7" />
<text class="s" x="546.00" y="56.47" font-size="6.4" text-anchor="end" fill="#111" stroke="#111" stroke-width="0.15" >20</text>
<line x1="546.50" y1="76.20" x2="548.50" y2="76.20" stroke="#333" stroke-width="0.7" />
<text class="s" x="546.00" y="78.47" font-size="6.4" text-anchor="end" fill="#111" stroke="#111" stroke-width="0.15" >10</text>
<line x1="546.50" y1="98.20" x2="548.50" y2="98.20" stroke="#333" stroke-width="0.7" />
<text class="s" x="546.00" y="100.47" font-size="6.4" text-anchor="end" fill="#111" stroke="#111" stroke-width="0.15" >0</text>
<line x1="546.50" y1="120.20" x2="548.50" y2="120.20" stroke="#333" stroke-width="0.7" />
<text class="s" x="546.00" y="122.47" font-size="6.4" text-anchor="end" fill="#111" stroke="#111" stroke-width="0.15" >−10</text>
<line x1="554.40" y1="133.10" x2="554.40" y2="135.10" stroke="#333" stroke-width="0.7" />
<text class="s" x="554.40" y="141.20" font-size="6.2" text-anchor="middle" fill="#111" stroke="#111" stroke-width="0.15" >0</text>
<line x1="572.90" y1="133.10" x2="572.90" y2="135.10" stroke="#333" stroke-width="0.7" />
<text class="s" x="572.90" y="141.20" font-size="6.2" text-anchor="middle" fill="#111" stroke="#111" stroke-width="0.15" >25</text>
<line x1="591.40" y1="133.10" x2="591.40" y2="135.10" stroke="#333" stroke-width="0.7" />
<text class="s" x="591.40" y="141.20" font-size="6.2" text-anchor="middle" fill="#111" stroke="#111" stroke-width="0.15" >50</text>
<line x1="609.90" y1="133.10" x2="609.90" y2="135.10" stroke="#333" stroke-width="0.7" />
<text class="s" x="609.90" y="141.20" font-size="6.2" text-anchor="middle" fill="#111" stroke="#111" stroke-width="0.15" >75</text>
<line x1="628.40" y1="133.10" x2="628.40" y2="135.10" stroke="#333" stroke-width="0.7" />
<text class="s" x="628.40" y="141.20" font-size="6.2" text-anchor="middle" fill="#111" stroke="#111" stroke-width="0.15" >100</text>
<line x1="646.90" y1="133.10" x2="646.90" y2="135.10" stroke="#333" stroke-width="0.7" />
<text class="s" x="646.90" y="141.20" font-size="6.2" text-anchor="middle" fill="#111" stroke="#111" stroke-width="0.15" >125</text>
<line x1="665.40" y1="133.10" x2="665.40" y2="135.10" stroke="#333" stroke-width="0.7" />
<text class="s" x="665.40" y="141.20" font-size="6.2" text-anchor="middle" fill="#111" stroke="#111" stroke-width="0.15" >150</text>
<text class="s" x="618.00" y="148.94" font-size="6.3" text-anchor="middle" fill="#111" stroke="#111" stroke-width="0.15" >d [mm]</text>
<text class="s" font-size="6.6" text-anchor="middle" fill="#111" stroke="#111" stroke-width="0.15" transform="translate(535.3,69.3) rotate(-90)">mean Δ activity [Hz]</text>
<rect x="625.4" y="14.5" width="53.9" height="24.2" rx="1.5" fill="#fff" fill-opacity="0.9" stroke="#dddddd" stroke-width="0.6"/>
<line x1="627.10" y1="18.40" x2="638.50" y2="18.40" stroke="#7fb2de" stroke-width="1.2" />
<rect x="627.1" y="24.1" width="11.4" height="4.4" fill="#c4dbef"/>
<line x1="627.10" y1="34.00" x2="638.50" y2="34.00" stroke="#8a8a8a" stroke-width="1.5" />
<text class="s" x="642.40" y="20.25" font-size="5.2" text-anchor="start" fill="#111" stroke="#111" stroke-width="0.15" >Median</text>
<text class="s" x="642.40" y="28.15" font-size="5.2" text-anchor="start" fill="#111" stroke="#111" stroke-width="0.15" >25/75 quantiles</text>
<text class="s" x="642.40" y="35.85" font-size="5.2" text-anchor="start" fill="#111" stroke="#111" stroke-width="0.15" >best fit</text>
<path d="M569.1,244.5h.6v.6h-.6zM599.2,264.7h.6v.6h-.6zM655.5,279.9h.6v.6h-.6zM570.7,257.7h.6v.6h-.6zM622.0,263.7h.6v.6h-.6zM620.4,269.5h.6v.6h-.6zM619.9,261.7h.6v.6h-.6zM624.6,266.0h.6v.6h-.6zM638.2,266.0h.6v.6h-.6zM609.1,263.7h.6v.6h-.6zM604.0,272.9h.6v.6h-.6zM616.7,272.2h.6v.6h-.6zM639.0,263.9h.6v.6h-.6zM574.3,260.8h.6v.6h-.6zM588.4,274.2h.6v.6h-.6zM563.9,225.7h.6v.6h-.6zM571.0,273.3h.6v.6h-.6zM610.2,257.0h.6v.6h-.6zM637.4,264.1h.6v.6h-.6zM600.0,270.9h.6v.6h-.6zM597.3,275.6h.6v.6h-.6zM611.7,266.3h.6v.6h-.6zM575.4,267.6h.6v.6h-.6zM583.3,272.7h.6v.6h-.6zM615.4,260.9h.6v.6h-.6zM589.6,261.6h.6v.6h-.6zM616.9,266.6h.6v.6h-.6zM581.3,275.6h.6v.6h-.6zM628.0,268.9h.6v.6h-.6zM570.1,274.1h.6v.6h-.6zM565.0,233.1h.6v.6h-.6zM588.4,270.6h.6v.6h-.6zM566.9,250.8h.6v.6h-.6zM622.1,262.1h.6v.6h-.6zM584.1,268.3h.6v.6h-.6zM614.9,273.6h.6v.6h-.6zM630.5,281.8h.6v.6h-.6zM584.7,272.8h.6v.6h-.6zM659.1,264.0h.6v.6h-.6zM623.4,265.3h.6v.6h-.6zM643.4,262.8h.6v.6h-.6zM578.5,280.1h.6v.6h-.6zM637.0,269.9h.6v.6h-.6zM635.8,262.6h.6v.6h-.6zM581.7,275.8h.6v.6h-.6zM569.1,266.2h.6v.6h-.6zM595.8,271.5h.6v.6h-.6zM595.5,279.6h.6v.6h-.6zM643.0,275.9h.6v.6h-.6zM581.7,267.5h.6v.6h-.6zM576.9,267.5h.6v.6h-.6zM572.6,276.0h.6v.6h-.6zM606.7,277.0h.6v.6h-.6zM630.4,264.8h.6v.6h-.6zM594.2,267.8h.6v.6h-.6zM607.1,282.0h.6v.6h-.6zM581.7,268.1h.6v.6h-.6zM590.8,269.9h.6v.6h-.6zM645.0,269.8h.6v.6h-.6zM587.6,270.2h.6v.6h-.6zM601.0,275.1h.6v.6h-.6zM650.5,263.8h.6v.6h-.6zM570.4,270.0h.6v.6h-.6zM578.2,267.1h.6v.6h-.6zM608.1,271.2h.6v.6h-.6zM562.9,217.2h.6v.6h-.6zM581.4,269.9h.6v.6h-.6zM578.3,271.3h.6v.6h-.6zM612.1,266.0h.6v.6h-.6zM628.5,266.7h.6v.6h-.6zM654.7,264.2h.6v.6h-.6zM615.2,268.1h.6v.6h-.6zM561.8,204.3h.6v.6h-.6zM635.0,256.7h.6v.6h-.6zM581.2,264.9h.6v.6h-.6zM590.0,276.6h.6v.6h-.6zM605.3,275.8h.6v.6h-.6zM607.6,268.8h.6v.6h-.6zM577.8,271.5h.6v.6h-.6zM617.6,269.7h.6v.6h-.6zM601.3,271.2h.6v.6h-.6zM579.0,279.3h.6v.6h-.6zM636.8,270.9h.6v.6h-.6zM616.4,264.0h.6v.6h-.6zM628.5,264.7h.6v.6h-.6zM575.1,269.8h.6v.6h-.6zM589.2,260.3h.6v.6h-.6zM618.3,265.7h.6v.6h-.6zM615.5,269.3h.6v.6h-.6zM572.8,276.7h.6v.6h-.6zM577.3,275.5h.6v.6h-.6zM587.8,275.7h.6v.6h-.6zM618.6,266.3h.6v.6h-.6zM641.5,272.0h.6v.6h-.6zM589.0,268.4h.6v.6h-.6zM559.7,197.2h.6v.6h-.6zM614.3,268.8h.6v.6h-.6zM631.0,273.8h.6v.6h-.6zM561.4,204.7h.6v.6h-.6zM574.7,267.0h.6v.6h-.6zM630.3,267.4h.6v.6h-.6zM575.1,276.6h.6v.6h-.6zM583.2,274.1h.6v.6h-.6zM618.4,247.4h.6v.6h-.6zM658.8,271.8h.6v.6h-.6zM613.3,232.5h.6v.6h-.6zM573.9,271.1h.6v.6h-.6zM598.9,272.5h.6v.6h-.6zM611.0,262.4h.6v.6h-.6zM631.7,273.9h.6v.6h-.6zM592.1,267.5h.6v.6h-.6zM635.9,263.0h.6v.6h-.6zM609.1,275.0h.6v.6h-.6zM569.4,262.8h.6v.6h-.6zM595.1,273.7h.6v.6h-.6zM580.4,268.9h.6v.6h-.6zM659.2,262.8h.6v.6h-.6zM620.2,272.8h.6v.6h-.6zM629.1,268.6h.6v.6h-.6zM649.0,249.2h.6v.6h-.6zM618.3,266.7h.6v.6h-.6zM594.0,257.0h.6v.6h-.6zM581.0,270.6h.6v.6h-.6zM584.7,269.6h.6v.6h-.6zM654.7,267.2h.6v.6h-.6zM616.9,270.8h.6v.6h-.6zM641.4,264.2h.6v.6h-.6zM576.6,267.6h.6v.6h-.6zM588.2,272.4h.6v.6h-.6zM653.2,262.1h.6v.6h-.6zM601.6,264.5h.6v.6h-.6zM602.3,270.2h.6v.6h-.6zM641.5,267.5h.6v.6h-.6zM659.3,272.7h.6v.6h-.6zM627.9,269.4h.6v.6h-.6zM595.9,281.6h.6v.6h-.6zM592.5,270.6h.6v.6h-.6zM596.6,268.8h.6v.6h-.6zM606.8,271.0h.6v.6h-.6zM596.1,280.9h.6v.6h-.6zM627.4,265.4h.6v.6h-.6zM625.4,266.7h.6v.6h-.6zM597.3,283.7h.6v.6h-.6zM646.6,257.5h.6v.6h-.6zM598.3,260.6h.6v.6h-.6zM569.9,267.5h.6v.6h-.6zM589.6,275.1h.6v.6h-.6zM629.8,265.0h.6v.6h-.6zM593.1,280.8h.6v.6h-.6zM597.5,267.5h.6v.6h-.6zM626.6,272.2h.6v.6h-.6zM578.0,278.8h.6v.6h-.6zM574.5,258.1h.6v.6h-.6zM638.6,269.3h.6v.6h-.6zM661.6,266.5h.6v.6h-.6zM606.5,271.1h.6v.6h-.6zM626.6,267.5h.6v.6h-.6zM594.0,269.9h.6v.6h-.6zM658.9,262.2h.6v.6h-.6zM648.4,259.5h.6v.6h-.6zM641.4,273.5h.6v.6h-.6zM644.4,276.3h.6v.6h-.6zM565.5,233.3h.6v.6h-.6zM652.8,262.6h.6v.6h-.6zM565.7,235.0h.6v.6h-.6zM570.5,276.6h.6v.6h-.6zM596.4,267.2h.6v.6h-.6zM559.7,196.8h.6v.6h-.6zM595.9,229.9h.6v.6h-.6zM660.7,272.2h.6v.6h-.6zM615.2,266.9h.6v.6h-.6zM586.4,263.2h.6v.6h-.6zM566.7,247.9h.6v.6h-.6zM640.5,259.6h.6v.6h-.6zM609.1,241.2h.6v.6h-.6zM640.5,263.5h.6v.6h-.6zM656.2,268.4h.6v.6h-.6zM581.2,274.8h.6v.6h-.6zM580.2,269.6h.6v.6h-.6zM635.1,267.7h.6v.6h-.6zM633.6,265.6h.6v.6h-.6zM597.7,278.8h.6v.6h-.6zM582.1,267.0h.6v.6h-.6zM621.8,274.6h.6v.6h-.6zM561.2,208.7h.6v.6h-.6zM612.4,272.0h.6v.6h-.6zM613.9,266.8h.6v.6h-.6zM566.0,251.0h.6v.6h-.6zM577.0,267.3h.6v.6h-.6zM586.9,281.4h.6v.6h-.6zM561.1,205.9h.6v.6h-.6zM640.1,266.8h.6v.6h-.6zM642.1,256.6h.6v.6h-.6zM573.6,273.3h.6v.6h-.6zM594.4,272.0h.6v.6h-.6zM577.4,275.1h.6v.6h-.6zM607.8,275.5h.6v.6h-.6zM618.1,266.2h.6v.6h-.6zM647.4,259.8h.6v.6h-.6zM595.0,268.0h.6v.6h-.6zM584.5,272.2h.6v.6h-.6zM568.9,266.3h.6v.6h-.6zM645.3,270.3h.6v.6h-.6zM602.7,269.6h.6v.6h-.6zM614.0,273.3h.6v.6h-.6zM643.8,265.6h.6v.6h-.6zM584.6,270.0h.6v.6h-.6zM651.5,258.7h.6v.6h-.6zM607.5,270.2h.6v.6h-.6zM593.4,270.3h.6v.6h-.6zM649.6,265.4h.6v.6h-.6zM583.3,255.7h.6v.6h-.6zM588.3,271.3h.6v.6h-.6zM597.0,261.7h.6v.6h-.6zM589.8,268.7h.6v.6h-.6zM601.1,262.4h.6v.6h-.6zM612.3,273.0h.6v.6h-.6zM590.5,272.8h.6v.6h-.6zM585.3,234.1h.6v.6h-.6zM579.6,267.3h.6v.6h-.6zM626.7,272.9h.6v.6h-.6zM561.0,205.5h.6v.6h-.6zM559.2,188.8h.6v.6h-.6zM613.5,270.5h.6v.6h-.6zM592.1,258.5h.6v.6h-.6zM630.2,265.6h.6v.6h-.6zM568.3,257.2h.6v.6h-.6zM596.3,272.9h.6v.6h-.6zM607.3,279.0h.6v.6h-.6zM582.3,281.3h.6v.6h-.6zM563.3,226.9h.6v.6h-.6zM616.2,268.6h.6v.6h-.6zM605.7,284.5h.6v.6h-.6zM657.1,266.6h.6v.6h-.6zM570.6,272.9h.6v.6h-.6zM612.4,266.7h.6v.6h-.6zM623.7,268.0h.6v.6h-.6zM642.9,255.5h.6v.6h-.6zM639.2,264.0h.6v.6h-.6zM559.1,187.4h.6v.6h-.6zM565.7,236.7h.6v.6h-.6zM572.5,264.6h.6v.6h-.6zM581.4,267.2h.6v.6h-.6zM622.3,258.9h.6v.6h-.6zM561.5,210.8h.6v.6h-.6zM560.0,196.6h.6v.6h-.6zM638.5,271.9h.6v.6h-.6zM623.4,261.5h.6v.6h-.6zM646.8,257.2h.6v.6h-.6zM617.1,273.4h.6v.6h-.6zM652.0,258.8h.6v.6h-.6zM620.7,273.1h.6v.6h-.6zM590.6,269.4h.6v.6h-.6zM636.1,271.4h.6v.6h-.6zM590.1,273.9h.6v.6h-.6zM566.3,238.0h.6v.6h-.6zM582.2,268.2h.6v.6h-.6zM592.9,272.1h.6v.6h-.6zM602.8,268.7h.6v.6h-.6zM648.0,260.9h.6v.6h-.6zM562.7,213.1h.6v.6h-.6zM634.1,265.5h.6v.6h-.6zM586.0,262.2h.6v.6h-.6zM594.3,276.9h.6v.6h-.6zM593.7,278.1h.6v.6h-.6zM570.4,267.0h.6v.6h-.6zM579.1,266.2h.6v.6h-.6zM623.4,281.7h.6v.6h-.6zM566.5,248.8h.6v.6h-.6zM652.0,264.3h.6v.6h-.6zM601.5,274.7h.6v.6h-.6zM565.4,240.6h.6v.6h-.6zM628.7,266.8h.6v.6h-.6zM632.6,268.2h.6v.6h-.6zM571.0,269.0h.6v.6h-.6zM577.8,254.8h.6v.6h-.6zM610.5,266.2h.6v.6h-.6zM608.2,262.2h.6v.6h-.6zM605.9,262.4h.6v.6h-.6zM653.1,257.1h.6v.6h-.6zM574.2,275.4h.6v.6h-.6zM576.7,271.1h.6v.6h-.6zM576.5,274.9h.6v.6h-.6zM637.1,263.2h.6v.6h-.6zM645.8,273.1h.6v.6h-.6zM603.8,270.6h.6v.6h-.6zM574.4,264.6h.6v.6h-.6zM641.8,270.4h.6v.6h-.6zM605.3,271.7h.6v.6h-.6zM573.0,268.2h.6v.6h-.6zM591.5,267.1h.6v.6h-.6zM587.7,274.5h.6v.6h-.6zM567.4,247.6h.6v.6h-.6zM562.2,206.2h.6v.6h-.6zM599.1,270.2h.6v.6h-.6zM624.3,262.9h.6v.6h-.6zM571.4,268.1h.6v.6h-.6zM587.1,267.0h.6v.6h-.6zM657.8,262.9h.6v.6h-.6zM636.1,266.0h.6v.6h-.6zM625.3,274.3h.6v.6h-.6zM586.1,269.0h.6v.6h-.6zM641.5,265.5h.6v.6h-.6zM568.2,247.3h.6v.6h-.6zM644.7,269.1h.6v.6h-.6zM659.4,259.9h.6v.6h-.6zM625.4,271.9h.6v.6h-.6zM566.9,253.3h.6v.6h-.6zM639.3,265.8h.6v.6h-.6zM594.9,266.4h.6v.6h-.6zM596.7,252.8h.6v.6h-.6zM584.0,275.9h.6v.6h-.6zM619.4,258.9h.6v.6h-.6zM595.2,279.4h.6v.6h-.6zM568.4,259.4h.6v.6h-.6zM594.5,270.0h.6v.6h-.6zM609.3,269.2h.6v.6h-.6zM622.8,269.2h.6v.6h-.6zM645.6,274.5h.6v.6h-.6zM606.1,271.4h.6v.6h-.6zM572.4,273.4h.6v.6h-.6zM599.4,286.6h.6v.6h-.6zM626.5,270.1h.6v.6h-.6zM588.2,262.0h.6v.6h-.6zM616.8,251.4h.6v.6h-.6zM599.6,267.8h.6v.6h-.6zM579.1,266.3h.6v.6h-.6zM610.2,270.2h.6v.6h-.6zM592.0,269.5h.6v.6h-.6zM592.6,253.3h.6v.6h-.6zM623.1,266.4h.6v.6h-.6zM610.7,268.6h.6v.6h-.6zM593.0,272.1h.6v.6h-.6zM571.4,264.8h.6v.6h-.6zM628.0,267.4h.6v.6h-.6zM625.9,261.3h.6v.6h-.6zM657.1,263.8h.6v.6h-.6zM626.6,267.9h.6v.6h-.6zM574.9,273.5h.6v.6h-.6zM608.3,274.8h.6v.6h-.6zM647.2,268.6h.6v.6h-.6zM645.3,276.3h.6v.6h-.6zM577.4,271.1h.6v.6h-.6zM633.2,257.7h.6v.6h-.6zM581.3,268.9h.6v.6h-.6zM595.1,272.4h.6v.6h-.6zM590.5,270.8h.6v.6h-.6zM590.3,268.5h.6v.6h-.6zM582.1,270.6h.6v.6h-.6zM567.6,249.9h.6v.6h-.6zM657.0,280.0h.6v.6h-.6zM580.6,260.9h.6v.6h-.6zM579.1,266.8h.6v.6h-.6zM581.1,266.3h.6v.6h-.6zM596.0,267.5h.6v.6h-.6zM562.8,222.9h.6v.6h-.6zM580.3,266.2h.6v.6h-.6zM622.3,268.8h.6v.6h-.6zM606.8,254.6h.6v.6h-.6zM585.6,269.5h.6v.6h-.6zM578.5,269.9h.6v.6h-.6zM575.5,272.7h.6v.6h-.6zM642.6,259.4h.6v.6h-.6zM650.9,272.7h.6v.6h-.6zM621.9,264.1h.6v.6h-.6zM632.2,271.7h.6v.6h-.6zM576.3,267.9h.6v.6h-.6zM629.7,261.8h.6v.6h-.6zM631.0,278.4h.6v.6h-.6zM560.1,197.0h.6v.6h-.6zM628.5,282.7h.6v.6h-.6zM594.1,266.8h.6v.6h-.6zM602.8,273.2h.6v.6h-.6zM641.0,266.1h.6v.6h-.6zM636.7,269.3h.6v.6h-.6zM612.0,278.9h.6v.6h-.6zM636.2,266.9h.6v.6h-.6zM613.6,269.3h.6v.6h-.6zM562.5,213.3h.6v.6h-.6zM615.7,267.7h.6v.6h-.6zM577.8,269.0h.6v.6h-.6zM585.5,257.8h.6v.6h-.6zM628.6,276.5h.6v.6h-.6zM579.5,268.6h.6v.6h-.6zM559.6,190.5h.6v.6h-.6zM642.6,270.2h.6v.6h-.6zM558.4,259.4h.6v.6h-.6zM624.8,272.7h.6v.6h-.6zM588.5,268.8h.6v.6h-.6zM606.0,274.2h.6v.6h-.6zM576.6,266.8h.6v.6h-.6zM609.6,271.2h.6v.6h-.6zM637.8,264.4h.6v.6h-.6zM587.7,278.2h.6v.6h-.6zM584.3,267.8h.6v.6h-.6zM598.9,275.1h.6v.6h-.6zM606.6,272.8h.6v.6h-.6zM584.5,271.9h.6v.6h-.6zM594.9,269.4h.6v.6h-.6zM582.4,269.4h.6v.6h-.6zM574.0,271.2h.6v.6h-.6zM566.4,235.3h.6v.6h-.6zM638.4,267.8h.6v.6h-.6zM590.5,252.6h.6v.6h-.6zM615.3,254.3h.6v.6h-.6zM633.1,271.7h.6v.6h-.6zM569.0,266.8h.6v.6h-.6zM561.7,201.8h.6v.6h-.6zM640.1,264.0h.6v.6h-.6zM597.1,278.4h.6v.6h-.6zM630.7,269.8h.6v.6h-.6zM561.8,204.7h.6v.6h-.6zM580.9,265.4h.6v.6h-.6zM624.5,268.6h.6v.6h-.6zM621.2,269.8h.6v.6h-.6zM624.5,260.8h.6v.6h-.6zM631.2,271.9h.6v.6h-.6zM560.3,200.5h.6v.6h-.6zM638.1,248.5h.6v.6h-.6zM650.7,270.7h.6v.6h-.6zM569.8,263.0h.6v.6h-.6zM612.4,270.7h.6v.6h-.6zM602.9,263.2h.6v.6h-.6zM599.7,273.7h.6v.6h-.6zM625.3,266.8h.6v.6h-.6zM628.9,262.7h.6v.6h-.6zM607.0,268.7h.6v.6h-.6zM629.5,267.1h.6v.6h-.6zM583.1,272.2h.6v.6h-.6zM623.8,273.0h.6v.6h-.6zM584.1,274.1h.6v.6h-.6zM596.8,284.7h.6v.6h-.6zM628.9,271.4h.6v.6h-.6zM568.5,250.7h.6v.6h-.6zM579.8,269.3h.6v.6h-.6zM623.3,266.2h.6v.6h-.6zM629.1,266.6h.6v.6h-.6zM591.0,257.1h.6v.6h-.6zM590.7,270.7h.6v.6h-.6zM601.5,266.9h.6v.6h-.6zM597.9,277.2h.6v.6h-.6zM585.1,267.6h.6v.6h-.6zM629.0,278.2h.6v.6h-.6zM636.2,271.3h.6v.6h-.6zM604.6,271.2h.6v.6h-.6zM592.4,245.7h.6v.6h-.6zM649.5,270.1h.6v.6h-.6zM635.0,265.4h.6v.6h-.6zM621.2,265.6h.6v.6h-.6zM635.1,279.5h.6v.6h-.6zM638.2,268.0h.6v.6h-.6zM600.2,268.9h.6v.6h-.6zM578.4,266.9h.6v.6h-.6zM582.4,284.1h.6v.6h-.6zM571.3,251.5h.6v.6h-.6zM649.6,267.1h.6v.6h-.6zM599.7,271.9h.6v.6h-.6zM644.7,259.4h.6v.6h-.6zM559.0,185.6h.6v.6h-.6zM585.6,260.0h.6v.6h-.6zM593.1,271.5h.6v.6h-.6zM634.5,256.7h.6v.6h-.6zM606.2,266.1h.6v.6h-.6zM639.9,269.6h.6v.6h-.6zM573.3,270.1h.6v.6h-.6zM627.2,271.9h.6v.6h-.6zM633.2,278.4h.6v.6h-.6zM595.8,278.7h.6v.6h-.6zM579.7,274.8h.6v.6h-.6zM573.3,267.2h.6v.6h-.6zM634.7,269.7h.6v.6h-.6zM612.9,267.5h.6v.6h-.6zM564.4,231.1h.6v.6h-.6zM614.4,273.8h.6v.6h-.6zM582.9,274.7h.6v.6h-.6zM562.4,213.3h.6v.6h-.6zM618.1,274.3h.6v.6h-.6zM657.7,261.2h.6v.6h-.6zM608.0,269.5h.6v.6h-.6zM653.1,256.6h.6v.6h-.6zM613.9,271.6h.6v.6h-.6zM594.5,268.4h.6v.6h-.6zM651.7,256.5h.6v.6h-.6zM575.1,272.0h.6v.6h-.6zM561.9,212.7h.6v.6h-.6zM624.7,270.6h.6v.6h-.6zM590.2,270.3h.6v.6h-.6zM603.0,273.8h.6v.6h-.6zM635.2,266.1h.6v.6h-.6zM563.6,219.4h.6v.6h-.6zM584.4,233.5h.6v.6h-.6zM560.9,202.7h.6v.6h-.6zM651.8,272.9h.6v.6h-.6zM580.2,269.7h.6v.6h-.6zM592.8,267.3h.6v.6h-.6zM647.9,271.4h.6v.6h-.6zM624.8,277.0h.6v.6h-.6zM642.7,267.0h.6v.6h-.6zM598.5,268.9h.6v.6h-.6zM566.9,242.8h.6v.6h-.6zM576.7,269.0h.6v.6h-.6zM649.1,263.5h.6v.6h-.6zM596.4,271.1h.6v.6h-.6zM560.4,199.6h.6v.6h-.6zM585.8,277.9h.6v.6h-.6zM646.3,269.5h.6v.6h-.6zM655.3,269.5h.6v.6h-.6zM588.6,269.6h.6v.6h-.6zM594.1,270.4h.6v.6h-.6zM614.3,272.4h.6v.6h-.6zM607.9,271.9h.6v.6h-.6zM611.1,269.9h.6v.6h-.6zM645.4,265.7h.6v.6h-.6zM607.0,272.5h.6v.6h-.6zM605.7,269.1h.6v.6h-.6zM656.7,257.6h.6v.6h-.6zM574.2,271.8h.6v.6h-.6zM622.2,262.3h.6v.6h-.6zM589.6,283.5h.6v.6h-.6zM617.4,274.4h.6v.6h-.6zM589.4,277.8h.6v.6h-.6zM566.6,248.9h.6v.6h-.6zM609.7,267.6h.6v.6h-.6zM604.5,276.1h.6v.6h-.6zM603.3,270.7h.6v.6h-.6zM609.0,271.6h.6v.6h-.6zM563.7,220.1h.6v.6h-.6zM595.0,275.2h.6v.6h-.6zM628.0,253.3h.6v.6h-.6zM610.3,271.6h.6v.6h-.6zM565.8,236.5h.6v.6h-.6zM603.7,268.8h.6v.6h-.6zM607.0,269.9h.6v.6h-.6zM586.9,260.6h.6v.6h-.6zM584.1,271.0h.6v.6h-.6zM617.9,269.6h.6v.6h-.6zM575.3,269.6h.6v.6h-.6zM586.8,247.4h.6v.6h-.6zM591.9,275.6h.6v.6h-.6zM626.6,264.3h.6v.6h-.6zM647.3,275.9h.6v.6h-.6zM571.8,277.2h.6v.6h-.6zM592.2,273.8h.6v.6h-.6zM601.4,258.5h.6v.6h-.6zM635.6,267.3h.6v.6h-.6zM598.6,267.2h.6v.6h-.6zM604.0,270.6h.6v.6h-.6zM573.6,267.5h.6v.6h-.6zM584.0,270.5h.6v.6h-.6zM571.0,271.2h.6v.6h-.6zM630.5,267.0h.6v.6h-.6zM581.5,272.4h.6v.6h-.6zM558.2,261.5h.6v.6h-.6zM661.6,259.6h.6v.6h-.6zM578.6,256.7h.6v.6h-.6zM647.4,259.7h.6v.6h-.6zM567.0,249.4h.6v.6h-.6zM611.6,275.1h.6v.6h-.6zM629.3,267.4h.6v.6h-.6zM590.0,274.5h.6v.6h-.6zM575.6,266.1h.6v.6h-.6zM593.8,251.4h.6v.6h-.6zM577.9,269.5h.6v.6h-.6zM594.8,263.3h.6v.6h-.6zM578.2,250.3h.6v.6h-.6zM591.7,273.2h.6v.6h-.6zM634.1,262.5h.6v.6h-.6zM567.8,256.7h.6v.6h-.6zM598.6,272.5h.6v.6h-.6zM623.3,263.6h.6v.6h-.6zM655.4,272.8h.6v.6h-.6zM583.0,268.5h.6v.6h-.6zM602.8,270.8h.6v.6h-.6zM644.4,270.7h.6v.6h-.6zM584.2,262.8h.6v.6h-.6zM660.0,264.4h.6v.6h-.6zM567.1,255.2h.6v.6h-.6zM586.6,269.2h.6v.6h-.6zM581.7,272.6h.6v.6h-.6zM579.6,268.9h.6v.6h-.6zM585.1,248.6h.6v.6h-.6zM639.6,268.6h.6v.6h-.6zM587.4,277.9h.6v.6h-.6zM577.8,268.7h.6v.6h-.6zM602.9,271.7h.6v.6h-.6zM652.7,261.8h.6v.6h-.6zM594.3,276.5h.6v.6h-.6zM630.1,273.4h.6v.6h-.6zM627.6,272.3h.6v.6h-.6zM585.9,273.6h.6v.6h-.6zM624.3,266.6h.6v.6h-.6zM623.5,264.6h.6v.6h-.6zM650.2,262.1h.6v.6h-.6zM651.3,277.9h.6v.6h-.6zM579.1,266.3h.6v.6h-.6zM567.8,237.4h.6v.6h-.6zM583.3,273.2h.6v.6h-.6zM597.4,272.2h.6v.6h-.6zM576.6,269.2h.6v.6h-.6zM569.0,251.5h.6v.6h-.6zM587.1,269.0h.6v.6h-.6zM561.9,214.8h.6v.6h-.6zM592.7,267.0h.6v.6h-.6zM596.2,270.9h.6v.6h-.6zM641.8,263.8h.6v.6h-.6zM615.2,272.6h.6v.6h-.6zM594.1,275.9h.6v.6h-.6zM558.4,263.2h.6v.6h-.6zM604.6,272.2h.6v.6h-.6zM577.1,267.1h.6v.6h-.6zM575.4,271.6h.6v.6h-.6zM624.5,269.8h.6v.6h-.6zM609.7,275.4h.6v.6h-.6zM616.1,268.7h.6v.6h-.6zM564.0,228.8h.6v.6h-.6zM656.6,267.0h.6v.6h-.6zM656.1,266.0h.6v.6h-.6zM636.9,272.4h.6v.6h-.6zM627.9,267.9h.6v.6h-.6zM609.0,270.8h.6v.6h-.6zM625.3,277.1h.6v.6h-.6zM621.8,271.6h.6v.6h-.6zM599.9,269.8h.6v.6h-.6zM629.8,264.0h.6v.6h-.6zM644.5,273.9h.6v.6h-.6zM568.3,252.9h.6v.6h-.6zM596.4,267.5h.6v.6h-.6zM650.1,262.7h.6v.6h-.6zM593.8,260.4h.6v.6h-.6zM631.1,270.5h.6v.6h-.6zM570.4,253.8h.6v.6h-.6zM640.3,258.0h.6v.6h-.6zM639.3,269.8h.6v.6h-.6zM630.3,278.7h.6v.6h-.6zM647.4,263.2h.6v.6h-.6zM635.2,269.6h.6v.6h-.6zM602.2,271.9h.6v.6h-.6zM588.2,277.5h.6v.6h-.6zM617.1,264.7h.6v.6h-.6zM650.1,271.6h.6v.6h-.6zM604.0,279.0h.6v.6h-.6zM622.9,268.0h.6v.6h-.6zM626.1,269.4h.6v.6h-.6zM615.4,261.9h.6v.6h-.6zM567.8,248.7h.6v.6h-.6zM576.1,266.0h.6v.6h-.6zM620.4,262.9h.6v.6h-.6zM632.8,257.5h.6v.6h-.6zM600.3,277.7h.6v.6h-.6zM600.0,264.1h.6v.6h-.6zM586.2,270.1h.6v.6h-.6zM652.9,265.8h.6v.6h-.6zM569.1,232.8h.6v.6h-.6zM573.4,265.6h.6v.6h-.6zM581.6,252.0h.6v.6h-.6zM622.5,264.6h.6v.6h-.6zM581.6,273.7h.6v.6h-.6zM588.2,273.9h.6v.6h-.6zM617.7,270.5h.6v.6h-.6zM572.6,267.0h.6v.6h-.6zM600.4,262.4h.6v.6h-.6zM609.8,265.1h.6v.6h-.6zM575.3,256.2h.6v.6h-.6zM613.9,266.3h.6v.6h-.6zM650.4,264.7h.6v.6h-.6zM615.7,278.5h.6v.6h-.6zM620.2,275.5h.6v.6h-.6zM579.8,275.2h.6v.6h-.6zM579.5,271.9h.6v.6h-.6zM625.4,259.5h.6v.6h-.6zM620.3,267.9h.6v.6h-.6zM569.2,261.4h.6v.6h-.6zM627.4,268.2h.6v.6h-.6zM590.3,267.9h.6v.6h-.6zM630.2,285.8h.6v.6h-.6zM623.5,276.6h.6v.6h-.6zM637.1,263.3h.6v.6h-.6zM581.9,273.1h.6v.6h-.6zM611.4,266.2h.6v.6h-.6zM607.8,273.4h.6v.6h-.6zM591.6,273.8h.6v.6h-.6zM579.5,264.1h.6v.6h-.6zM597.2,268.3h.6v.6h-.6zM573.8,261.5h.6v.6h-.6zM654.6,262.6h.6v.6h-.6zM586.8,270.3h.6v.6h-.6zM580.4,254.3h.6v.6h-.6zM588.3,257.7h.6v.6h-.6zM655.3,268.0h.6v.6h-.6zM609.0,267.1h.6v.6h-.6zM588.8,254.6h.6v.6h-.6zM617.3,267.3h.6v.6h-.6zM565.4,227.1h.6v.6h-.6zM608.1,272.4h.6v.6h-.6zM587.6,268.9h.6v.6h-.6zM653.9,258.9h.6v.6h-.6zM566.1,241.2h.6v.6h-.6zM629.9,274.1h.6v.6h-.6zM635.8,280.4h.6v.6h-.6zM597.1,273.7h.6v.6h-.6zM606.8,275.8h.6v.6h-.6zM598.4,268.9h.6v.6h-.6zM581.1,270.6h.6v.6h-.6zM599.6,241.1h.6v.6h-.6zM568.1,256.2h.6v.6h-.6zM619.0,262.0h.6v.6h-.6zM642.6,266.1h.6v.6h-.6zM623.1,273.7h.6v.6h-.6zM657.4,262.9h.6v.6h-.6zM586.1,267.2h.6v.6h-.6zM571.1,265.0h.6v.6h-.6zM606.0,269.8h.6v.6h-.6zM624.5,268.3h.6v.6h-.6zM636.1,252.9h.6v.6h-.6zM570.0,278.2h.6v.6h-.6zM576.9,269.0h.6v.6h-.6zM658.3,261.8h.6v.6h-.6zM589.1,271.1h.6v.6h-.6zM583.4,270.6h.6v.6h-.6zM610.9,273.7h.6v.6h-.6zM600.2,258.0h.6v.6h-.6zM603.8,276.2h.6v.6h-.6zM591.0,269.2h.6v.6h-.6zM600.6,274.0h.6v.6h-.6zM575.4,271.8h.6v.6h-.6zM647.2,266.8h.6v.6h-.6zM599.3,269.5h.6v.6h-.6zM621.1,266.7h.6v.6h-.6zM644.7,266.8h.6v.6h-.6zM603.1,268.9h.6v.6h-.6zM642.2,265.7h.6v.6h-.6zM624.0,273.0h.6v.6h-.6zM634.3,264.8h.6v.6h-.6zM634.4,268.7h.6v.6h-.6zM609.0,265.1h.6v.6h-.6zM615.7,280.1h.6v.6h-.6zM580.5,268.8h.6v.6h-.6zM634.4,266.5h.6v.6h-.6zM632.1,275.7h.6v.6h-.6zM581.8,259.7h.6v.6h-.6zM598.7,272.2h.6v.6h-.6zM620.5,275.9h.6v.6h-.6zM593.4,266.2h.6v.6h-.6zM571.5,268.3h.6v.6h-.6zM625.6,265.6h.6v.6h-.6zM569.3,262.9h.6v.6h-.6zM593.3,271.0h.6v.6h-.6zM560.6,193.3h.6v.6h-.6zM560.8,200.2h.6v.6h-.6zM635.5,265.8h.6v.6h-.6zM639.7,261.0h.6v.6h-.6zM646.3,265.0h.6v.6h-.6zM631.3,262.2h.6v.6h-.6zM600.6,270.7h.6v.6h-.6zM621.4,264.3h.6v.6h-.6zM599.1,267.1h.6v.6h-.6zM577.9,256.8h.6v.6h-.6zM585.7,269.2h.6v.6h-.6zM576.3,266.0h.6v.6h-.6zM584.0,276.1h.6v.6h-.6zM613.3,268.6h.6v.6h-.6zM609.0,266.3h.6v.6h-.6zM659.2,262.7h.6v.6h-.6zM577.3,273.2h.6v.6h-.6zM590.0,273.0h.6v.6h-.6zM623.6,271.3h.6v.6h-.6zM611.8,268.9h.6v.6h-.6zM566.5,253.3h.6v.6h-.6zM580.3,269.4h.6v.6h-.6zM643.8,248.3h.6v.6h-.6zM623.4,267.7h.6v.6h-.6zM585.0,266.3h.6v.6h-.6zM573.7,280.6h.6v.6h-.6zM630.9,269.6h.6v.6h-.6zM592.2,271.0h.6v.6h-.6zM583.3,266.5h.6v.6h-.6zM650.9,268.5h.6v.6h-.6zM641.9,265.6h.6v.6h-.6zM633.1,272.4h.6v.6h-.6zM590.7,270.4h.6v.6h-.6zM617.6,274.6h.6v.6h-.6zM597.2,268.7h.6v.6h-.6zM618.0,282.4h.6v.6h-.6zM626.3,267.0h.6v.6h-.6zM575.3,274.1h.6v.6h-.6zM599.6,271.1h.6v.6h-.6zM558.7,180.9h.6v.6h-.6zM645.5,263.2h.6v.6h-.6zM613.2,268.9h.6v.6h-.6zM579.1,280.1h.6v.6h-.6zM581.1,280.9h.6v.6h-.6zM607.0,255.3h.6v.6h-.6zM603.0,268.6h.6v.6h-.6zM566.0,237.2h.6v.6h-.6zM581.4,281.7h.6v.6h-.6zM587.3,275.7h.6v.6h-.6zM604.6,254.2h.6v.6h-.6zM566.8,247.0h.6v.6h-.6zM635.4,267.1h.6v.6h-.6zM580.3,259.7h.6v.6h-.6zM611.6,268.1h.6v.6h-.6zM617.1,268.9h.6v.6h-.6zM586.2,263.4h.6v.6h-.6zM635.6,257.1h.6v.6h-.6zM572.3,269.2h.6v.6h-.6zM583.9,271.2h.6v.6h-.6zM601.0,267.5h.6v.6h-.6zM583.5,268.5h.6v.6h-.6zM580.9,267.9h.6v.6h-.6zM587.9,270.4h.6v.6h-.6zM582.4,262.8h.6v.6h-.6zM577.7,263.6h.6v.6h-.6zM586.8,270.1h.6v.6h-.6zM607.7,269.2h.6v.6h-.6zM641.7,273.4h.6v.6h-.6zM598.9,275.6h.6v.6h-.6zM595.5,288.5h.6v.6h-.6zM632.1,269.6h.6v.6h-.6zM567.4,250.6h.6v.6h-.6zM611.7,272.1h.6v.6h-.6zM577.2,265.4h.6v.6h-.6zM636.4,273.0h.6v.6h-.6zM580.1,242.1h.6v.6h-.6zM578.5,269.8h.6v.6h-.6zM602.7,260.2h.6v.6h-.6zM617.4,265.2h.6v.6h-.6zM637.1,260.0h.6v.6h-.6zM601.8,271.1h.6v.6h-.6zM573.0,265.2h.6v.6h-.6zM581.2,235.6h.6v.6h-.6zM611.9,268.2h.6v.6h-.6zM592.9,288.9h.6v.6h-.6zM635.1,266.1h.6v.6h-.6zM610.9,279.2h.6v.6h-.6zM624.4,265.2h.6v.6h-.6zM658.6,260.5h.6v.6h-.6zM560.3,195.1h.6v.6h-.6zM564.0,228.3h.6v.6h-.6zM645.2,267.2h.6v.6h-.6zM559.8,196.2h.6v.6h-.6zM568.1,262.8h.6v.6h-.6zM655.7,262.6h.6v.6h-.6zM655.9,270.8h.6v.6h-.6zM580.0,233.3h.6v.6h-.6zM583.4,269.6h.6v.6h-.6zM630.1,265.7h.6v.6h-.6zM642.1,271.4h.6v.6h-.6zM651.5,265.9h.6v.6h-.6zM617.4,263.3h.6v.6h-.6zM640.0,266.5h.6v.6h-.6zM642.5,278.5h.6v.6h-.6zM578.5,271.2h.6v.6h-.6zM598.9,271.0h.6v.6h-.6zM577.7,265.9h.6v.6h-.6zM598.5,269.7h.6v.6h-.6zM600.8,234.0h.6v.6h-.6zM596.5,269.2h.6v.6h-.6zM566.1,247.7h.6v.6h-.6zM604.4,267.7h.6v.6h-.6zM601.2,260.2h.6v.6h-.6zM617.4,262.1h.6v.6h-.6zM654.6,276.0h.6v.6h-.6zM625.3,268.2h.6v.6h-.6zM609.1,269.7h.6v.6h-.6zM576.0,266.4h.6v.6h-.6zM613.1,268.2h.6v.6h-.6zM561.5,211.2h.6v.6h-.6zM591.3,275.7h.6v.6h-.6zM625.7,265.1h.6v.6h-.6zM569.7,261.7h.6v.6h-.6zM612.8,267.8h.6v.6h-.6zM568.6,278.5h.6v.6h-.6zM597.6,276.1h.6v.6h-.6zM592.9,269.1h.6v.6h-.6zM642.4,262.1h.6v.6h-.6zM578.7,273.5h.6v.6h-.6zM634.2,267.8h.6v.6h-.6zM639.0,265.4h.6v.6h-.6zM583.7,279.4h.6v.6h-.6zM660.8,262.1h.6v.6h-.6zM583.9,272.0h.6v.6h-.6zM628.8,278.7h.6v.6h-.6zM575.5,266.7h.6v.6h-.6zM579.9,272.0h.6v.6h-.6zM619.4,280.9h.6v.6h-.6zM577.4,228.3h.6v.6h-.6zM572.6,258.4h.6v.6h-.6zM568.8,252.2h.6v.6h-.6zM571.1,267.2h.6v.6h-.6zM620.8,265.9h.6v.6h-.6zM567.9,255.3h.6v.6h-.6zM591.8,273.5h.6v.6h-.6zM588.2,279.5h.6v.6h-.6zM650.4,272.3h.6v.6h-.6zM654.0,257.1h.6v.6h-.6zM612.2,267.7h.6v.6h-.6zM623.2,267.0h.6v.6h-.6zM636.0,273.1h.6v.6h-.6zM571.1,273.0h.6v.6h-.6zM588.1,254.0h.6v.6h-.6zM564.8,236.8h.6v.6h-.6zM627.8,266.7h.6v.6h-.6zM638.8,255.8h.6v.6h-.6zM581.0,268.6h.6v.6h-.6zM586.3,268.2h.6v.6h-.6zM578.1,266.9h.6v.6h-.6zM586.6,272.2h.6v.6h-.6zM586.6,271.0h.6v.6h-.6zM602.6,272.7h.6v.6h-.6zM611.9,268.6h.6v.6h-.6zM606.7,270.3h.6v.6h-.6zM656.9,257.3h.6v.6h-.6zM639.9,251.8h.6v.6h-.6zM634.3,271.9h.6v.6h-.6zM638.8,264.3h.6v.6h-.6zM621.2,273.1h.6v.6h-.6zM650.0,272.9h.6v.6h-.6zM574.2,274.1h.6v.6h-.6zM581.8,275.0h.6v.6h-.6zM614.6,268.5h.6v.6h-.6zM585.5,273.7h.6v.6h-.6zM572.0,248.8h.6v.6h-.6zM648.8,265.8h.6v.6h-.6zM625.7,266.6h.6v.6h-.6zM638.9,275.7h.6v.6h-.6zM571.7,263.0h.6v.6h-.6zM626.6,267.9h.6v.6h-.6zM619.1,252.7h.6v.6h-.6zM589.3,267.0h.6v.6h-.6zM592.5,271.0h.6v.6h-.6zM617.8,273.7h.6v.6h-.6zM570.8,268.3h.6v.6h-.6zM570.4,274.3h.6v.6h-.6zM652.1,263.1h.6v.6h-.6zM606.1,271.7h.6v.6h-.6zM582.6,274.7h.6v.6h-.6zM650.0,270.7h.6v.6h-.6zM590.7,274.7h.6v.6h-.6zM627.6,273.3h.6v.6h-.6zM597.8,276.2h.6v.6h-.6zM570.1,254.1h.6v.6h-.6zM564.2,235.3h.6v.6h-.6zM588.9,271.4h.6v.6h-.6zM598.4,276.0h.6v.6h-.6zM560.9,200.9h.6v.6h-.6zM604.8,275.8h.6v.6h-.6zM625.2,272.3h.6v.6h-.6zM611.8,265.8h.6v.6h-.6zM623.4,268.5h.6v.6h-.6zM582.8,256.8h.6v.6h-.6zM614.5,273.1h.6v.6h-.6zM636.9,268.2h.6v.6h-.6zM592.7,269.9h.6v.6h-.6zM621.8,266.2h.6v.6h-.6zM653.7,262.8h.6v.6h-.6zM638.9,264.6h.6v.6h-.6zM583.3,261.6h.6v.6h-.6zM586.6,269.6h.6v.6h-.6zM627.3,264.8h.6v.6h-.6zM637.4,273.8h.6v.6h-.6zM571.7,275.3h.6v.6h-.6zM612.5,278.5h.6v.6h-.6zM578.2,272.0h.6v.6h-.6zM626.3,273.8h.6v.6h-.6zM632.0,264.6h.6v.6h-.6zM578.3,268.7h.6v.6h-.6zM649.7,260.4h.6v.6h-.6zM607.8,271.2h.6v.6h-.6zM610.6,265.8h.6v.6h-.6zM578.6,272.6h.6v.6h-.6zM584.3,279.7h.6v.6h-.6zM650.5,269.9h.6v.6h-.6zM649.2,268.4h.6v.6h-.6zM585.3,275.4h.6v.6h-.6zM574.6,267.9h.6v.6h-.6zM645.0,263.8h.6v.6h-.6zM621.8,276.2h.6v.6h-.6zM602.3,276.1h.6v.6h-.6zM567.9,254.7h.6v.6h-.6zM586.2,267.1h.6v.6h-.6zM638.7,263.2h.6v.6h-.6zM596.5,267.8h.6v.6h-.6zM619.5,276.3h.6v.6h-.6zM614.5,266.9h.6v.6h-.6zM571.9,272.1h.6v.6h-.6zM588.9,267.0h.6v.6h-.6zM656.4,271.7h.6v.6h-.6zM599.1,273.5h.6v.6h-.6zM636.1,266.8h.6v.6h-.6zM563.7,217.1h.6v.6h-.6zM641.5,257.6h.6v.6h-.6zM629.7,262.0h.6v.6h-.6zM578.7,269.8h.6v.6h-.6zM615.2,269.2h.6v.6h-.6zM648.6,263.0h.6v.6h-.6zM620.1,267.6h.6v.6h-.6zM596.5,273.3h.6v.6h-.6zM572.1,269.0h.6v.6h-.6zM590.0,254.3h.6v.6h-.6zM596.6,271.9h.6v.6h-.6zM637.3,269.8h.6v.6h-.6zM624.7,266.0h.6v.6h-.6zM611.4,274.3h.6v.6h-.6zM564.6,225.4h.6v.6h-.6zM586.5,262.8h.6v.6h-.6zM596.4,276.9h.6v.6h-.6zM644.5,267.9h.6v.6h-.6zM577.1,262.8h.6v.6h-.6zM633.7,277.4h.6v.6h-.6zM654.2,265.7h.6v.6h-.6zM611.8,271.0h.6v.6h-.6zM600.7,268.4h.6v.6h-.6zM591.9,267.1h.6v.6h-.6zM571.5,271.8h.6v.6h-.6zM636.6,260.0h.6v.6h-.6zM582.2,265.1h.6v.6h-.6zM636.7,264.9h.6v.6h-.6zM638.0,266.2h.6v.6h-.6zM656.6,253.2h.6v.6h-.6zM618.7,273.2h.6v.6h-.6zM653.3,254.3h.6v.6h-.6zM611.6,273.0h.6v.6h-.6zM644.6,263.6h.6v.6h-.6zM622.5,274.4h.6v.6h-.6zM615.4,275.3h.6v.6h-.6zM630.4,269.7h.6v.6h-.6zM615.6,269.1h.6v.6h-.6zM595.3,271.8h.6v.6h-.6zM648.7,274.7h.6v.6h-.6zM631.6,265.8h.6v.6h-.6zM608.9,262.9h.6v.6h-.6zM601.0,263.6h.6v.6h-.6zM600.2,274.6h.6v.6h-.6zM610.4,272.0h.6v.6h-.6zM587.7,271.9h.6v.6h-.6zM634.0,266.3h.6v.6h-.6zM626.3,265.8h.6v.6h-.6zM566.5,236.6h.6v.6h-.6zM574.1,266.7h.6v.6h-.6zM609.1,273.8h.6v.6h-.6zM659.7,263.9h.6v.6h-.6zM573.4,278.2h.6v.6h-.6zM589.5,267.0h.6v.6h-.6zM605.6,267.3h.6v.6h-.6zM594.2,270.4h.6v.6h-.6zM563.9,227.5h.6v.6h-.6zM603.1,267.0h.6v.6h-.6zM656.7,264.5h.6v.6h-.6zM597.1,269.4h.6v.6h-.6zM658.2,265.9h.6v.6h-.6zM620.1,268.1h.6v.6h-.6zM651.3,262.6h.6v.6h-.6zM570.9,269.4h.6v.6h-.6zM575.7,264.3h.6v.6h-.6zM650.8,265.1h.6v.6h-.6zM627.5,262.8h.6v.6h-.6zM639.6,275.2h.6v.6h-.6zM591.9,276.7h.6v.6h-.6zM576.5,266.5h.6v.6h-.6zM627.4,272.3h.6v.6h-.6zM589.0,274.3h.6v.6h-.6zM623.6,265.6h.6v.6h-.6zM650.4,260.1h.6v.6h-.6zM562.9,219.2h.6v.6h-.6zM577.6,263.0h.6v.6h-.6zM655.8,266.2h.6v.6h-.6zM615.4,275.0h.6v.6h-.6zM612.8,268.6h.6v.6h-.6zM598.9,272.3h.6v.6h-.6zM570.5,263.1h.6v.6h-.6zM645.1,266.3h.6v.6h-.6zM619.8,270.0h.6v.6h-.6zM649.1,266.0h.6v.6h-.6zM567.7,259.8h.6v.6h-.6zM596.2,268.2h.6v.6h-.6zM595.6,269.2h.6v.6h-.6zM660.0,267.9h.6v.6h-.6zM579.9,267.7h.6v.6h-.6zM606.1,245.3h.6v.6h-.6zM600.0,276.4h.6v.6h-.6zM654.1,262.5h.6v.6h-.6zM642.4,263.5h.6v.6h-.6zM603.4,281.0h.6v.6h-.6zM638.7,264.3h.6v.6h-.6zM575.6,269.2h.6v.6h-.6zM570.4,266.7h.6v.6h-.6zM559.7,186.4h.6v.6h-.6zM586.9,267.0h.6v.6h-.6zM642.2,264.9h.6v.6h-.6zM623.6,265.9h.6v.6h-.6zM608.6,271.1h.6v.6h-.6zM582.1,269.2h.6v.6h-.6zM580.8,240.5h.6v.6h-.6zM624.5,266.5h.6v.6h-.6zM599.2,273.2h.6v.6h-.6zM562.8,217.5h.6v.6h-.6zM591.6,265.4h.6v.6h-.6zM558.9,187.2h.6v.6h-.6zM599.1,263.6h.6v.6h-.6zM593.2,267.4h.6v.6h-.6zM560.7,200.0h.6v.6h-.6zM622.5,264.8h.6v.6h-.6zM559.5,186.3h.6v.6h-.6zM617.1,257.8h.6v.6h-.6zM574.1,273.7h.6v.6h-.6zM618.5,281.1h.6v.6h-.6zM605.2,270.2h.6v.6h-.6zM617.9,259.1h.6v.6h-.6zM580.0,256.2h.6v.6h-.6zM578.6,270.4h.6v.6h-.6zM621.0,277.2h.6v.6h-.6zM661.9,265.7h.6v.6h-.6zM597.8,258.3h.6v.6h-.6zM595.5,267.2h.6v.6h-.6zM642.5,265.8h.6v.6h-.6zM628.4,266.5h.6v.6h-.6zM599.2,269.9h.6v.6h-.6zM600.9,267.8h.6v.6h-.6zM621.7,268.3h.6v.6h-.6zM607.8,266.7h.6v.6h-.6zM579.3,275.6h.6v.6h-.6zM569.3,265.7h.6v.6h-.6zM574.8,286.7h.6v.6h-.6zM619.8,265.8h.6v.6h-.6zM614.1,265.5h.6v.6h-.6zM659.1,271.5h.6v.6h-.6zM636.0,268.5h.6v.6h-.6zM573.3,269.1h.6v.6h-.6zM601.1,268.9h.6v.6h-.6zM566.3,244.3h.6v.6h-.6zM621.8,267.7h.6v.6h-.6zM639.8,270.7h.6v.6h-.6zM572.9,258.6h.6v.6h-.6zM603.9,269.8h.6v.6h-.6zM584.4,255.1h.6v.6h-.6zM596.6,267.2h.6v.6h-.6zM605.8,265.6h.6v.6h-.6zM584.0,275.7h.6v.6h-.6zM612.7,267.5h.6v.6h-.6zM660.7,273.2h.6v.6h-.6zM598.0,272.1h.6v.6h-.6zM569.5,254.7h.6v.6h-.6zM559.7,194.4h.6v.6h-.6zM628.4,264.8h.6v.6h-.6zM580.8,271.3h.6v.6h-.6zM581.8,283.0h.6v.6h-.6zM647.1,250.9h.6v.6h-.6zM649.4,255.4h.6v.6h-.6zM621.8,274.6h.6v.6h-.6zM608.5,274.0h.6v.6h-.6zM565.3,234.4h.6v.6h-.6zM586.1,270.8h.6v.6h-.6zM591.9,278.9h.6v.6h-.6zM642.4,270.4h.6v.6h-.6zM577.3,271.5h.6v.6h-.6zM580.5,268.7h.6v.6h-.6zM646.8,265.9h.6v.6h-.6zM615.5,268.9h.6v.6h-.6zM601.9,276.9h.6v.6h-.6zM631.0,270.1h.6v.6h-.6zM574.2,267.6h.6v.6h-.6zM575.6,270.4h.6v.6h-.6zM653.8,272.5h.6v.6h-.6zM579.0,267.5h.6v.6h-.6zM601.3,273.0h.6v.6h-.6zM622.4,271.1h.6v.6h-.6zM607.4,255.4h.6v.6h-.6zM605.5,267.8h.6v.6h-.6zM582.8,271.9h.6v.6h-.6zM575.4,269.7h.6v.6h-.6zM580.9,269.6h.6v.6h-.6zM589.0,270.2h.6v.6h-.6zM560.1,200.9h.6v.6h-.6zM591.7,282.7h.6v.6h-.6zM585.6,263.0h.6v.6h-.6zM601.7,274.2h.6v.6h-.6zM567.6,243.7h.6v.6h-.6zM566.0,240.3h.6v.6h-.6zM576.1,271.7h.6v.6h-.6zM583.8,268.7h.6v.6h-.6zM584.7,275.5h.6v.6h-.6zM642.9,264.9h.6v.6h-.6zM638.7,264.8h.6v.6h-.6zM610.1,267.6h.6v.6h-.6zM604.1,262.0h.6v.6h-.6zM581.6,271.7h.6v.6h-.6zM616.4,267.0h.6v.6h-.6zM611.6,269.6h.6v.6h-.6zM568.0,257.1h.6v.6h-.6zM620.5,273.9h.6v.6h-.6zM578.5,269.3h.6v.6h-.6zM626.5,265.8h.6v.6h-.6zM589.1,261.1h.6v.6h-.6zM600.2,272.2h.6v.6h-.6zM583.6,266.2h.6v.6h-.6zM608.7,266.1h.6v.6h-.6zM620.9,266.1h.6v.6h-.6zM583.4,269.9h.6v.6h-.6zM629.9,274.7h.6v.6h-.6zM592.3,270.8h.6v.6h-.6zM595.4,275.8h.6v.6h-.6zM571.3,278.0h.6v.6h-.6zM583.4,267.9h.6v.6h-.6zM626.5,269.9h.6v.6h-.6zM617.1,265.9h.6v.6h-.6zM565.7,237.1h.6v.6h-.6zM599.5,281.4h.6v.6h-.6zM602.6,264.8h.6v.6h-.6zM602.4,266.7h.6v.6h-.6zM639.8,266.3h.6v.6h-.6zM579.8,273.0h.6v.6h-.6zM619.1,269.6h.6v.6h-.6zM612.5,258.6h.6v.6h-.6zM620.7,268.2h.6v.6h-.6zM610.2,261.0h.6v.6h-.6zM613.9,274.2h.6v.6h-.6zM574.7,277.9h.6v.6h-.6zM626.9,269.3h.6v.6h-.6zM646.4,265.8h.6v.6h-.6zM558.1,264.0h.6v.6h-.6zM595.7,271.5h.6v.6h-.6zM624.3,267.6h.6v.6h-.6zM635.3,265.1h.6v.6h-.6zM560.8,200.7h.6v.6h-.6zM568.0,253.4h.6v.6h-.6zM618.4,269.3h.6v.6h-.6zM594.2,268.9h.6v.6h-.6zM599.7,283.3h.6v.6h-.6zM620.6,278.0h.6v.6h-.6zM592.8,269.4h.6v.6h-.6zM586.1,259.2h.6v.6h-.6zM660.1,270.8h.6v.6h-.6zM610.5,270.1h.6v.6h-.6zM652.8,265.6h.6v.6h-.6zM585.4,267.2h.6v.6h-.6zM656.8,262.9h.6v.6h-.6zM597.9,271.3h.6v.6h-.6zM564.1,236.9h.6v.6h-.6zM587.6,264.3h.6v.6h-.6zM599.7,278.4h.6v.6h-.6zM605.2,253.0h.6v.6h-.6zM628.4,271.0h.6v.6h-.6zM587.1,279.0h.6v.6h-.6zM634.3,270.7h.6v.6h-.6zM628.3,267.1h.6v.6h-.6zM629.5,271.5h.6v.6h-.6zM591.6,264.4h.6v.6h-.6zM644.8,261.3h.6v.6h-.6zM590.8,267.0h.6v.6h-.6zM587.7,266.4h.6v.6h-.6zM654.7,266.6h.6v.6h-.6zM626.8,272.4h.6v.6h-.6zM600.0,254.2h.6v.6h-.6zM577.1,275.3h.6v.6h-.6zM593.9,273.1h.6v.6h-.6zM639.8,282.4h.6v.6h-.6zM655.2,264.9h.6v.6h-.6zM656.4,267.3h.6v.6h-.6zM650.0,256.7h.6v.6h-.6zM637.6,280.8h.6v.6h-.6zM595.2,274.9h.6v.6h-.6zM585.3,267.4h.6v.6h-.6zM583.4,273.9h.6v.6h-.6zM627.4,264.0h.6v.6h-.6zM637.3,273.4h.6v.6h-.6zM570.0,267.9h.6v.6h-.6zM590.4,269.5h.6v.6h-.6zM606.4,270.3h.6v.6h-.6zM634.3,278.7h.6v.6h-.6zM575.5,267.2h.6v.6h-.6zM569.4,273.5h.6v.6h-.6zM565.2,230.2h.6v.6h-.6zM637.2,267.0h.6v.6h-.6zM603.2,270.2h.6v.6h-.6zM647.6,265.7h.6v.6h-.6zM625.9,271.9h.6v.6h-.6zM580.7,268.9h.6v.6h-.6zM613.1,256.0h.6v.6h-.6zM587.1,273.3h.6v.6h-.6zM629.1,267.3h.6v.6h-.6zM595.2,274.8h.6v.6h-.6zM661.6,267.7h.6v.6h-.6zM637.7,265.2h.6v.6h-.6zM652.9,270.1h.6v.6h-.6zM637.5,270.4h.6v.6h-.6zM657.6,264.4h.6v.6h-.6zM638.0,268.4h.6v.6h-.6zM660.9,269.9h.6v.6h-.6zM655.4,260.2h.6v.6h-.6zM634.8,264.0h.6v.6h-.6zM628.6,262.7h.6v.6h-.6zM621.5,267.6h.6v.6h-.6zM621.7,268.3h.6v.6h-.6zM606.7,271.3h.6v.6h-.6zM560.8,199.0h.6v.6h-.6zM580.2,272.8h.6v.6h-.6zM620.6,273.8h.6v.6h-.6zM571.9,270.5h.6v.6h-.6zM614.7,273.2h.6v.6h-.6zM574.9,244.0h.6v.6h-.6zM641.7,261.9h.6v.6h-.6zM613.5,254.9h.6v.6h-.6zM590.5,264.5h.6v.6h-.6zM582.4,251.1h.6v.6h-.6zM576.5,276.2h.6v.6h-.6zM590.9,255.8h.6v.6h-.6zM596.2,277.0h.6v.6h-.6zM592.6,275.2h.6v.6h-.6zM581.0,266.6h.6v.6h-.6zM590.2,264.2h.6v.6h-.6zM570.5,267.1h.6v.6h-.6zM639.2,270.7h.6v.6h-.6zM614.4,269.6h.6v.6h-.6zM576.6,262.2h.6v.6h-.6zM561.0,200.4h.6v.6h-.6zM631.3,266.7h.6v.6h-.6zM578.5,274.3h.6v.6h-.6zM599.0,281.5h.6v.6h-.6zM600.9,268.1h.6v.6h-.6zM649.3,260.7h.6v.6h-.6zM637.4,269.6h.6v.6h-.6zM582.8,267.7h.6v.6h-.6zM579.2,269.0h.6v.6h-.6zM565.5,234.9h.6v.6h-.6zM585.2,268.7h.6v.6h-.6zM642.6,273.8h.6v.6h-.6zM607.2,252.6h.6v.6h-.6zM620.6,266.4h.6v.6h-.6zM581.4,270.3h.6v.6h-.6zM607.7,266.7h.6v.6h-.6zM588.6,282.3h.6v.6h-.6zM604.7,267.8h.6v.6h-.6zM631.4,264.5h.6v.6h-.6zM579.1,255.3h.6v.6h-.6zM604.3,261.4h.6v.6h-.6zM626.0,269.5h.6v.6h-.6zM631.3,264.5h.6v.6h-.6zM655.8,254.2h.6v.6h-.6zM577.3,268.2h.6v.6h-.6zM578.0,271.2h.6v.6h-.6zM571.8,270.2h.6v.6h-.6zM584.8,276.6h.6v.6h-.6zM643.8,270.5h.6v.6h-.6zM607.0,266.9h.6v.6h-.6zM644.1,258.8h.6v.6h-.6zM581.0,269.0h.6v.6h-.6zM619.4,234.7h.6v.6h-.6zM607.0,260.4h.6v.6h-.6zM623.0,275.6h.6v.6h-.6zM559.5,193.7h.6v.6h-.6zM641.4,270.2h.6v.6h-.6zM590.5,268.0h.6v.6h-.6zM631.0,270.8h.6v.6h-.6zM592.5,275.0h.6v.6h-.6zM623.8,266.9h.6v.6h-.6zM570.7,267.2h.6v.6h-.6zM613.3,261.9h.6v.6h-.6zM637.5,267.8h.6v.6h-.6zM587.0,259.6h.6v.6h-.6zM654.7,266.8h.6v.6h-.6zM626.0,271.6h.6v.6h-.6zM657.8,249.8h.6v.6h-.6zM572.4,268.0h.6v.6h-.6zM567.0,248.7h.6v.6h-.6zM617.5,261.9h.6v.6h-.6zM591.5,273.4h.6v.6h-.6zM637.9,274.7h.6v.6h-.6zM591.2,265.2h.6v.6h-.6zM639.7,269.8h.6v.6h-.6zM595.4,232.8h.6v.6h-.6zM573.8,265.1h.6v.6h-.6zM579.7,271.9h.6v.6h-.6zM621.6,266.1h.6v.6h-.6zM607.4,270.0h.6v.6h-.6zM587.6,272.1h.6v.6h-.6zM560.3,197.8h.6v.6h-.6zM586.5,271.4h.6v.6h-.6zM581.8,267.5h.6v.6h-.6zM651.1,263.6h.6v.6h-.6zM573.6,266.2h.6v.6h-.6zM642.9,264.1h.6v.6h-.6zM577.7,267.5h.6v.6h-.6zM599.4,269.0h.6v.6h-.6zM614.3,266.8h.6v.6h-.6zM616.8,269.4h.6v.6h-.6zM579.3,270.6h.6v.6h-.6zM645.2,260.7h.6v.6h-.6zM617.9,232.2h.6v.6h-.6zM637.9,265.2h.6v.6h-.6zM645.3,262.4h.6v.6h-.6zM581.3,260.2h.6v.6h-.6zM581.2,272.6h.6v.6h-.6zM640.5,265.5h.6v.6h-.6zM633.5,274.3h.6v.6h-.6zM578.2,268.8h.6v.6h-.6zM655.4,258.6h.6v.6h-.6zM619.5,256.6h.6v.6h-.6zM575.1,232.9h.6v.6h-.6zM582.3,232.3h.6v.6h-.6zM640.1,268.3h.6v.6h-.6zM633.2,274.0h.6v.6h-.6zM610.3,264.8h.6v.6h-.6zM588.0,271.4h.6v.6h-.6zM626.9,266.6h.6v.6h-.6zM654.2,259.5h.6v.6h-.6zM617.1,270.5h.6v.6h-.6zM657.8,262.9h.6v.6h-.6zM614.4,234.6h.6v.6h-.6zM617.4,264.7h.6v.6h-.6zM578.9,276.7h.6v.6h-.6zM602.5,259.5h.6v.6h-.6zM598.9,270.1h.6v.6h-.6zM632.0,273.0h.6v.6h-.6zM561.4,201.3h.6v.6h-.6zM577.2,277.7h.6v.6h-.6zM586.8,265.5h.6v.6h-.6zM575.5,273.8h.6v.6h-.6zM605.0,266.6h.6v.6h-.6zM612.6,272.2h.6v.6h-.6zM577.5,269.5h.6v.6h-.6zM594.2,270.8h.6v.6h-.6zM578.4,270.0h.6v.6h-.6zM608.1,258.2h.6v.6h-.6zM595.5,257.1h.6v.6h-.6zM638.3,272.1h.6v.6h-.6zM583.9,269.2h.6v.6h-.6zM655.5,263.4h.6v.6h-.6zM627.5,256.0h.6v.6h-.6zM611.6,270.1h.6v.6h-.6zM566.9,259.4h.6v.6h-.6zM638.6,265.7h.6v.6h-.6zM599.3,273.0h.6v.6h-.6zM634.4,269.8h.6v.6h-.6zM594.2,272.1h.6v.6h-.6zM577.3,277.3h.6v.6h-.6zM580.8,261.2h.6v.6h-.6zM609.5,268.6h.6v.6h-.6zM632.1,265.0h.6v.6h-.6zM575.1,272.6h.6v.6h-.6zM585.1,275.9h.6v.6h-.6zM620.2,265.8h.6v.6h-.6zM596.8,287.9h.6v.6h-.6zM621.0,267.1h.6v.6h-.6zM583.1,270.2h.6v.6h-.6zM591.5,272.6h.6v.6h-.6zM583.9,259.0h.6v.6h-.6zM624.7,274.4h.6v.6h-.6zM599.0,268.8h.6v.6h-.6zM619.8,264.2h.6v.6h-.6zM611.2,271.3h.6v.6h-.6zM568.3,252.4h.6v.6h-.6zM660.5,279.5h.6v.6h-.6zM651.0,280.4h.6v.6h-.6zM600.7,267.1h.6v.6h-.6zM620.7,272.8h.6v.6h-.6zM625.8,275.9h.6v.6h-.6zM638.3,274.5h.6v.6h-.6zM642.3,264.4h.6v.6h-.6zM599.1,260.9h.6v.6h-.6zM623.0,262.8h.6v.6h-.6zM637.4,268.7h.6v.6h-.6zM632.6,264.7h.6v.6h-.6zM649.5,268.4h.6v.6h-.6zM599.0,268.2h.6v.6h-.6zM634.3,259.2h.6v.6h-.6zM632.5,266.1h.6v.6h-.6zM615.3,271.4h.6v.6h-.6zM576.5,269.9h.6v.6h-.6zM640.6,267.8h.6v.6h-.6zM629.3,274.3h.6v.6h-.6zM620.8,257.0h.6v.6h-.6zM574.4,271.2h.6v.6h-.6zM611.9,275.8h.6v.6h-.6zM622.4,272.7h.6v.6h-.6zM642.2,267.6h.6v.6h-.6zM614.3,269.2h.6v.6h-.6zM608.5,260.2h.6v.6h-.6zM569.8,270.4h.6v.6h-.6zM575.3,268.4h.6v.6h-.6zM643.3,271.6h.6v.6h-.6zM637.0,266.4h.6v.6h-.6zM594.3,271.0h.6v.6h-.6zM585.8,273.2h.6v.6h-.6zM624.5,268.9h.6v.6h-.6zM600.3,276.5h.6v.6h-.6zM585.0,266.5h.6v.6h-.6zM564.3,229.7h.6v.6h-.6zM619.5,259.7h.6v.6h-.6zM626.0,263.3h.6v.6h-.6zM580.2,262.1h.6v.6h-.6zM625.0,267.1h.6v.6h-.6zM588.4,266.0h.6v.6h-.6zM568.4,258.1h.6v.6h-.6zM646.3,260.4h.6v.6h-.6zM611.8,270.5h.6v.6h-.6zM562.9,213.5h.6v.6h-.6zM629.1,263.8h.6v.6h-.6zM613.3,268.5h.6v.6h-.6zM619.3,270.4h.6v.6h-.6zM620.1,267.7h.6v.6h-.6zM622.2,274.7h.6v.6h-.6zM639.0,263.1h.6v.6h-.6zM636.8,274.0h.6v.6h-.6zM585.6,270.0h.6v.6h-.6zM629.6,274.0h.6v.6h-.6zM632.5,272.5h.6v.6h-.6zM594.5,265.0h.6v.6h-.6zM564.5,220.3h.6v.6h-.6zM654.0,269.6h.6v.6h-.6zM594.6,269.4h.6v.6h-.6zM623.9,280.2h.6v.6h-.6zM590.2,281.0h.6v.6h-.6zM599.9,277.2h.6v.6h-.6zM581.9,278.9h.6v.6h-.6zM614.5,267.8h.6v.6h-.6zM612.8,267.2h.6v.6h-.6zM559.4,186.8h.6v.6h-.6zM638.7,274.7h.6v.6h-.6zM623.3,274.3h.6v.6h-.6zM584.0,275.5h.6v.6h-.6zM590.3,272.4h.6v.6h-.6zM588.1,267.0h.6v.6h-.6zM600.2,237.2h.6v.6h-.6zM589.9,279.2h.6v.6h-.6zM619.7,269.4h.6v.6h-.6zM572.1,261.7h.6v.6h-.6zM659.7,262.7h.6v.6h-.6zM616.1,267.4h.6v.6h-.6zM603.5,280.7h.6v.6h-.6zM564.5,232.6h.6v.6h-.6zM567.5,251.7h.6v.6h-.6zM619.4,269.3h.6v.6h-.6zM615.1,268.2h.6v.6h-.6zM609.5,270.2h.6v.6h-.6zM569.9,267.1h.6v.6h-.6zM586.3,270.7h.6v.6h-.6zM561.3,206.4h.6v.6h-.6zM571.4,274.3h.6v.6h-.6zM646.2,269.0h.6v.6h-.6zM571.4,262.6h.6v.6h-.6zM576.4,268.5h.6v.6h-.6zM640.5,274.8h.6v.6h-.6zM600.4,268.3h.6v.6h-.6zM592.4,268.5h.6v.6h-.6zM561.5,200.8h.6v.6h-.6zM583.8,269.5h.6v.6h-.6zM647.7,268.3h.6v.6h-.6zM580.8,269.0h.6v.6h-.6zM643.0,273.4h.6v.6h-.6zM641.3,282.4h.6v.6h-.6zM564.3,227.8h.6v.6h-.6zM611.5,277.0h.6v.6h-.6zM600.3,271.0h.6v.6h-.6zM632.9,272.9h.6v.6h-.6zM635.4,250.7h.6v.6h-.6zM631.7,257.3h.6v.6h-.6zM595.3,272.0h.6v.6h-.6zM660.3,262.6h.6v.6h-.6zM600.9,267.4h.6v.6h-.6zM632.0,266.7h.6v.6h-.6zM654.3,271.8h.6v.6h-.6zM642.5,270.2h.6v.6h-.6zM617.9,268.9h.6v.6h-.6zM585.5,271.9h.6v.6h-.6zM593.7,268.8h.6v.6h-.6zM657.8,260.6h.6v.6h-.6zM641.0,271.0h.6v.6h-.6zM657.6,275.5h.6v.6h-.6zM588.2,263.8h.6v.6h-.6zM615.7,265.8h.6v.6h-.6zM580.2,270.1h.6v.6h-.6zM621.0,277.3h.6v.6h-.6zM578.5,279.2h.6v.6h-.6zM651.6,272.1h.6v.6h-.6zM658.6,273.9h.6v.6h-.6zM575.9,268.9h.6v.6h-.6zM561.6,211.4h.6v.6h-.6zM588.9,278.3h.6v.6h-.6zM605.1,228.3h.6v.6h-.6zM593.0,276.1h.6v.6h-.6zM591.5,264.4h.6v.6h-.6zM610.1,269.1h.6v.6h-.6zM607.5,268.1h.6v.6h-.6zM633.6,267.7h.6v.6h-.6zM595.1,278.3h.6v.6h-.6zM638.5,271.9h.6v.6h-.6zM627.4,274.2h.6v.6h-.6zM579.1,273.8h.6v.6h-.6zM602.1,279.1h.6v.6h-.6zM566.1,238.0h.6v.6h-.6zM567.6,249.0h.6v.6h-.6zM589.0,270.4h.6v.6h-.6zM577.5,255.9h.6v.6h-.6zM568.7,264.9h.6v.6h-.6zM591.1,276.4h.6v.6h-.6zM655.5,265.5h.6v.6h-.6zM603.1,271.7h.6v.6h-.6zM574.6,270.2h.6v.6h-.6zM581.0,266.8h.6v.6h-.6zM580.7,260.8h.6v.6h-.6zM612.6,266.8h.6v.6h-.6zM606.9,270.8h.6v.6h-.6zM560.4,200.5h.6v.6h-.6zM585.3,250.4h.6v.6h-.6zM565.2,233.7h.6v.6h-.6zM566.5,233.7h.6v.6h-.6zM605.9,267.4h.6v.6h-.6zM640.3,263.1h.6v.6h-.6zM630.2,272.0h.6v.6h-.6zM585.7,274.4h.6v.6h-.6zM584.6,259.0h.6v.6h-.6zM625.5,265.9h.6v.6h-.6zM598.7,270.9h.6v.6h-.6zM650.7,279.5h.6v.6h-.6zM587.2,274.4h.6v.6h-.6zM625.8,271.2h.6v.6h-.6zM614.3,278.5h.6v.6h-.6zM590.0,272.2h.6v.6h-.6zM614.4,270.6h.6v.6h-.6zM563.6,215.4h.6v.6h-.6zM660.1,272.2h.6v.6h-.6zM613.5,272.7h.6v.6h-.6zM562.0,210.6h.6v.6h-.6zM612.3,240.6h.6v.6h-.6zM648.8,263.8h.6v.6h-.6zM567.7,255.4h.6v.6h-.6zM637.9,266.8h.6v.6h-.6zM598.6,268.9h.6v.6h-.6zM605.4,268.1h.6v.6h-.6zM571.2,265.4h.6v.6h-.6zM574.5,266.4h.6v.6h-.6zM566.7,232.8h.6v.6h-.6zM603.2,269.1h.6v.6h-.6zM639.1,265.6h.6v.6h-.6zM647.8,265.3h.6v.6h-.6zM592.9,258.8h.6v.6h-.6zM572.2,269.7h.6v.6h-.6zM621.6,269.3h.6v.6h-.6zM589.7,268.6h.6v.6h-.6zM585.0,273.9h.6v.6h-.6zM658.4,260.6h.6v.6h-.6zM651.5,258.4h.6v.6h-.6zM641.6,265.5h.6v.6h-.6zM568.7,275.1h.6v.6h-.6zM585.4,281.1h.6v.6h-.6zM572.7,270.3h.6v.6h-.6zM636.3,265.4h.6v.6h-.6zM646.6,262.1h.6v.6h-.6zM587.4,272.9h.6v.6h-.6zM635.0,264.4h.6v.6h-.6zM583.3,277.7h.6v.6h-.6zM620.0,272.0h.6v.6h-.6zM571.7,277.1h.6v.6h-.6zM633.4,270.9h.6v.6h-.6zM603.5,266.9h.6v.6h-.6zM613.7,268.1h.6v.6h-.6zM619.1,269.4h.6v.6h-.6zM565.0,231.1h.6v.6h-.6zM596.9,257.6h.6v.6h-.6zM632.1,266.8h.6v.6h-.6zM575.1,250.7h.6v.6h-.6zM645.9,274.5h.6v.6h-.6zM568.3,260.4h.6v.6h-.6zM578.9,267.5h.6v.6h-.6zM661.7,265.0h.6v.6h-.6zM602.1,261.2h.6v.6h-.6zM567.0,250.5h.6v.6h-.6zM572.0,278.3h.6v.6h-.6zM569.4,270.3h.6v.6h-.6zM604.3,265.3h.6v.6h-.6zM580.6,271.0h.6v.6h-.6zM577.3,267.2h.6v.6h-.6zM601.8,275.4h.6v.6h-.6zM581.3,270.7h.6v.6h-.6zM573.9,266.2h.6v.6h-.6zM594.3,273.4h.6v.6h-.6zM596.7,234.5h.6v.6h-.6zM568.2,253.4h.6v.6h-.6zM648.5,282.0h.6v.6h-.6zM583.0,266.7h.6v.6h-.6zM652.9,270.1h.6v.6h-.6zM564.6,230.2h.6v.6h-.6zM604.3,240.9h.6v.6h-.6zM560.3,191.4h.6v.6h-.6zM566.5,248.1h.6v.6h-.6zM582.5,283.1h.6v.6h-.6zM596.0,275.5h.6v.6h-.6zM559.4,190.8h.6v.6h-.6zM587.1,268.6h.6v.6h-.6zM589.8,269.2h.6v.6h-.6zM613.6,266.4h.6v.6h-.6zM632.8,272.0h.6v.6h-.6zM572.0,227.1h.6v.6h-.6zM588.3,230.8h.6v.6h-.6zM639.2,267.9h.6v.6h-.6zM600.9,270.6h.6v.6h-.6zM637.4,264.5h.6v.6h-.6zM592.3,280.4h.6v.6h-.6zM586.6,270.9h.6v.6h-.6z" fill="#555" fill-opacity="0.5"/>
<polygon points="556.9,183.0 561.7,219.8 566.6,255.5 565.0,255.0 568.0,259.0 575.0,262.5 598.0,263.5 620.0,262.5 643.0,260.8 660.0,259.0 660.0,264.5 643.0,267.0 620.0,269.0 598.0,270.0 576.0,268.8 572.5,266.5 572.0,256.0 570.2,255.5 565.3,219.8 560.5,183.0" fill="#b4d0ea" fill-opacity="0.78"/>
<line x1="558.30" y1="259.00" x2="660.80" y2="259.00" stroke="#aaa" stroke-width="1.2" />
<polyline points="558.50,183.00 563.30,219.80 568.20,255.50 569.40,261.50 571.50,264.30 576.00,265.80 597.90,267.00 620.50,265.40 643.10,263.60 660.10,261.80" fill="none" stroke="#4a8ccc" stroke-width="0.8" stroke-linejoin="round" />
<path d="M554.5,182.5h1.1v1.1h-1.1zM557.1,185.8h1.1v1.1h-1.1zM560.0,197.4h1.1v1.1h-1.1zM561.2,207.4h1.1v1.1h-1.1zM562.5,217.4h1.1v1.1h-1.1zM563.8,227.4h1.1v1.1h-1.1zM565.1,237.4h1.1v1.1h-1.1zM566.5,247.4h1.1v1.1h-1.1zM567.8,255.4h1.1v1.1h-1.1zM570.5,263.1h1.1v1.1h-1.1zM576.5,265.3h1.1v1.1h-1.1zM582.5,265.6h1.1v1.1h-1.1zM588.5,266.0h1.1v1.1h-1.1zM594.5,266.3h1.1v1.1h-1.1zM600.5,266.2h1.1v1.1h-1.1zM606.5,265.8h1.1v1.1h-1.1zM612.5,265.4h1.1v1.1h-1.1zM618.5,265.0h1.1v1.1h-1.1zM624.5,264.5h1.1v1.1h-1.1zM630.5,264.0h1.1v1.1h-1.1zM636.5,263.5h1.1v1.1h-1.1zM642.5,263.1h1.1v1.1h-1.1zM648.5,262.4h1.1v1.1h-1.1zM654.5,261.8h1.1v1.1h-1.1zM663.0,260.4h1.1v1.1h-1.1z" fill="#f0903c"/>
<rect x="548.6" y="170" width="132.60000000000002" height="121.10000000000002" fill="none" stroke="#444" stroke-width="0.9"/>
<line x1="546.60" y1="179.50" x2="548.60" y2="179.50" stroke="#333" stroke-width="0.7" />
<text class="s" x="546.10" y="181.77" font-size="6.4" text-anchor="end" fill="#111" stroke="#111" stroke-width="0.15" >40</text>
<line x1="546.60" y1="199.00" x2="548.60" y2="199.00" stroke="#333" stroke-width="0.7" />
<text class="s" x="546.10" y="201.27" font-size="6.4" text-anchor="end" fill="#111" stroke="#111" stroke-width="0.15" >30</text>
<line x1="546.60" y1="218.50" x2="548.60" y2="218.50" stroke="#333" stroke-width="0.7" />
<text class="s" x="546.10" y="220.77" font-size="6.4" text-anchor="end" fill="#111" stroke="#111" stroke-width="0.15" >20</text>
<line x1="546.60" y1="238.00" x2="548.60" y2="238.00" stroke="#333" stroke-width="0.7" />
<text class="s" x="546.10" y="240.27" font-size="6.4" text-anchor="end" fill="#111" stroke="#111" stroke-width="0.15" >10</text>
<line x1="546.60" y1="257.50" x2="548.60" y2="257.50" stroke="#333" stroke-width="0.7" />
<text class="s" x="546.10" y="259.77" font-size="6.4" text-anchor="end" fill="#111" stroke="#111" stroke-width="0.15" >0</text>
<line x1="546.60" y1="277.00" x2="548.60" y2="277.00" stroke="#333" stroke-width="0.7" />
<text class="s" x="546.10" y="279.27" font-size="6.4" text-anchor="end" fill="#111" stroke="#111" stroke-width="0.15" >−10</text>
<line x1="553.30" y1="291.10" x2="553.30" y2="293.10" stroke="#333" stroke-width="0.7" />
<text class="s" x="553.30" y="299.20" font-size="6.2" text-anchor="middle" fill="#111" stroke="#111" stroke-width="0.15" >0</text>
<line x1="571.40" y1="291.10" x2="571.40" y2="293.10" stroke="#333" stroke-width="0.7" />
<text class="s" x="571.40" y="299.20" font-size="6.2" text-anchor="middle" fill="#111" stroke="#111" stroke-width="0.15" >25</text>
<line x1="589.50" y1="291.10" x2="589.50" y2="293.10" stroke="#333" stroke-width="0.7" />
<text class="s" x="589.50" y="299.20" font-size="6.2" text-anchor="middle" fill="#111" stroke="#111" stroke-width="0.15" >50</text>
<line x1="607.60" y1="291.10" x2="607.60" y2="293.10" stroke="#333" stroke-width="0.7" />
<text class="s" x="607.60" y="299.20" font-size="6.2" text-anchor="middle" fill="#111" stroke="#111" stroke-width="0.15" >75</text>
<line x1="625.70" y1="291.10" x2="625.70" y2="293.10" stroke="#333" stroke-width="0.7" />
<text class="s" x="625.70" y="299.20" font-size="6.2" text-anchor="middle" fill="#111" stroke="#111" stroke-width="0.15" >100</text>
<line x1="643.80" y1="291.10" x2="643.80" y2="293.10" stroke="#333" stroke-width="0.7" />
<text class="s" x="643.80" y="299.20" font-size="6.2" text-anchor="middle" fill="#111" stroke="#111" stroke-width="0.15" >125</text>
<line x1="661.90" y1="291.10" x2="661.90" y2="293.10" stroke="#333" stroke-width="0.7" />
<text class="s" x="661.90" y="299.20" font-size="6.2" text-anchor="middle" fill="#111" stroke="#111" stroke-width="0.15" >150</text>
<line x1="680.00" y1="291.10" x2="680.00" y2="293.10" stroke="#333" stroke-width="0.7" />
<text class="s" x="680.00" y="299.20" font-size="6.2" text-anchor="middle" fill="#111" stroke="#111" stroke-width="0.15" >175</text>
<text class="s" x="618.00" y="307.34" font-size="6.3" text-anchor="middle" fill="#111" stroke="#111" stroke-width="0.15" >d [mm]</text>
<text class="s" font-size="6.6" text-anchor="middle" fill="#111" stroke="#111" stroke-width="0.15" transform="translate(535.3,225.7) rotate(-90)">mean Δ activity [Hz]</text>
<rect x="626.2" y="172.9" width="53.2" height="15.9" rx="1.5" fill="#fff" fill-opacity="0.9" stroke="#dddddd" stroke-width="0.6"/>
<line x1="627.90" y1="176.80" x2="639.30" y2="176.80" stroke="#7fb2de" stroke-width="1.2" />
<rect x="627.9" y="182.5" width="11.4" height="4.4" fill="#c4dbef"/>
<text class="s" x="643.20" y="178.65" font-size="5.2" text-anchor="start" fill="#111" stroke="#111" stroke-width="0.15" >Median</text>
<text class="s" x="643.20" y="186.55" font-size="5.2" text-anchor="start" fill="#111" stroke="#111" stroke-width="0.15" >25/75 quantiles</text>
</svg>
</body></html>
